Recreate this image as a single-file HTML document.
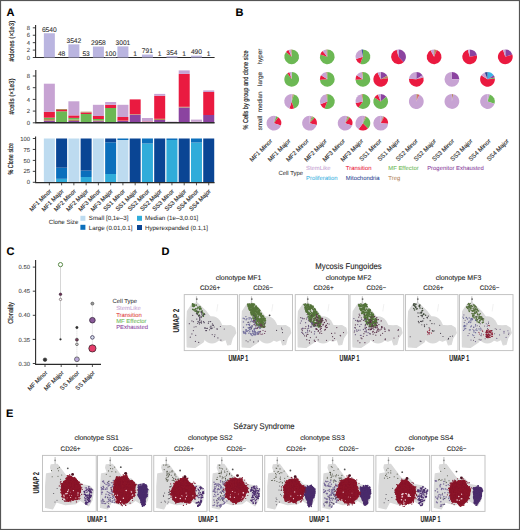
<!DOCTYPE html>
<html><head><meta charset="utf-8"><style>
html,body{margin:0;padding:0;background:#fff;}
svg{display:block;font-family:"Liberation Sans", sans-serif;text-rendering:geometricPrecision;}
</style></head><body>
<svg width="520" height="530" viewBox="0 0 520 530">
<text x="6.5" y="15.8" font-size="11" fill="#000" text-anchor="start" font-weight="bold" stroke="#000" stroke-width="0.1">A</text>
<line x1="35.6" y1="25" x2="35.6" y2="58.0" stroke="#2a2a2a" stroke-width="1.1"/>
<line x1="35.1" y1="57.5" x2="214.6" y2="57.5" stroke="#2a2a2a" stroke-width="1.2"/>
<line x1="32.8" y1="57.5" x2="35.6" y2="57.5" stroke="#2a2a2a" stroke-width="0.9"/>
<text x="30" y="59.6" font-size="5.9" fill="#3a3a3a" text-anchor="end" font-weight="normal" stroke="#3a3a3a" stroke-width="0.05">0</text>
<line x1="32.8" y1="50.08" x2="35.6" y2="50.08" stroke="#2a2a2a" stroke-width="0.9"/>
<text x="30" y="52.18" font-size="5.9" fill="#3a3a3a" text-anchor="end" font-weight="normal" stroke="#3a3a3a" stroke-width="0.05">2</text>
<line x1="32.8" y1="42.66" x2="35.6" y2="42.66" stroke="#2a2a2a" stroke-width="0.9"/>
<text x="30" y="44.76" font-size="5.9" fill="#3a3a3a" text-anchor="end" font-weight="normal" stroke="#3a3a3a" stroke-width="0.05">4</text>
<line x1="32.8" y1="35.24" x2="35.6" y2="35.24" stroke="#2a2a2a" stroke-width="0.9"/>
<text x="30" y="37.34" font-size="5.9" fill="#3a3a3a" text-anchor="end" font-weight="normal" stroke="#3a3a3a" stroke-width="0.05">6</text>
<line x1="32.8" y1="27.82" x2="35.6" y2="27.82" stroke="#2a2a2a" stroke-width="0.9"/>
<text x="30" y="29.92" font-size="5.9" fill="#3a3a3a" text-anchor="end" font-weight="normal" stroke="#3a3a3a" stroke-width="0.05">8</text>
<rect x="43.85" y="33.24" width="11.00" height="24.26" fill="#bab5e0"/>
<text x="49.35" y="32.03659999999999" font-size="6.7" fill="#333" text-anchor="middle" font-weight="normal" stroke="#333" stroke-width="0.1">6540</text>
<text x="61.61" y="55.9" font-size="6.7" fill="#333" text-anchor="middle" font-weight="normal" stroke="#333" stroke-width="0.1">48</text>
<rect x="68.37" y="44.36" width="11.00" height="13.14" fill="#bab5e0"/>
<text x="73.87" y="43.15918" font-size="6.7" fill="#333" text-anchor="middle" font-weight="normal" stroke="#333" stroke-width="0.1">3542</text>
<text x="86.13" y="55.9" font-size="6.7" fill="#333" text-anchor="middle" font-weight="normal" stroke="#333" stroke-width="0.1">53</text>
<rect x="92.89" y="46.53" width="11.00" height="10.97" fill="#bab5e0"/>
<text x="98.39" y="45.32581999999999" font-size="6.7" fill="#333" text-anchor="middle" font-weight="normal" stroke="#333" stroke-width="0.1">2958</text>
<rect x="105.15" y="57.13" width="11.00" height="0.37" fill="#bab5e0"/>
<text x="110.65" y="55.9" font-size="6.7" fill="#333" text-anchor="middle" font-weight="normal" stroke="#333" stroke-width="0.1">100</text>
<rect x="117.41" y="46.37" width="11.00" height="11.13" fill="#bab5e0"/>
<text x="122.91" y="45.16629" font-size="6.7" fill="#333" text-anchor="middle" font-weight="normal" stroke="#333" stroke-width="0.1">3001</text>
<text x="135.17" y="55.9" font-size="6.7" fill="#333" text-anchor="middle" font-weight="normal" stroke="#333" stroke-width="0.1">1</text>
<rect x="141.93" y="54.57" width="11.00" height="2.93" fill="#bab5e0"/>
<text x="147.43" y="53.36539" font-size="6.7" fill="#333" text-anchor="middle" font-weight="normal" stroke="#333" stroke-width="0.1">791</text>
<text x="159.69" y="55.9" font-size="6.7" fill="#333" text-anchor="middle" font-weight="normal" stroke="#333" stroke-width="0.1">1</text>
<rect x="166.45" y="56.19" width="11.00" height="1.31" fill="#bab5e0"/>
<text x="171.95" y="54.98666" font-size="6.7" fill="#333" text-anchor="middle" font-weight="normal" stroke="#333" stroke-width="0.1">354</text>
<text x="184.20999999999998" y="55.9" font-size="6.7" fill="#333" text-anchor="middle" font-weight="normal" stroke="#333" stroke-width="0.1">1</text>
<rect x="190.97" y="55.68" width="11.00" height="1.82" fill="#bab5e0"/>
<text x="196.47" y="54.482099999999996" font-size="6.7" fill="#333" text-anchor="middle" font-weight="normal" stroke="#333" stroke-width="0.1">490</text>
<text x="208.73" y="55.9" font-size="6.7" fill="#333" text-anchor="middle" font-weight="normal" stroke="#333" stroke-width="0.1">1</text>
<text x="13.892000000000001" y="41.1" font-size="7.2" fill="#222" text-anchor="middle" font-weight="normal" stroke="#222" stroke-width="0.18" transform="rotate(-90 13.892000000000001 41.1)" textLength="40.6" lengthAdjust="spacingAndGlyphs">#clones (×1e3)</text>
<line x1="35.8" y1="70" x2="35.8" y2="122.8" stroke="#2a2a2a" stroke-width="1.1"/>
<line x1="32.8" y1="122.8" x2="35.8" y2="122.8" stroke="#2a2a2a" stroke-width="0.9"/>
<text x="30" y="124.89999999999999" font-size="5.9" fill="#3a3a3a" text-anchor="end" font-weight="normal" stroke="#3a3a3a" stroke-width="0.05">0</text>
<line x1="32.8" y1="111.1" x2="35.8" y2="111.1" stroke="#2a2a2a" stroke-width="0.9"/>
<text x="30" y="113.19999999999999" font-size="5.9" fill="#3a3a3a" text-anchor="end" font-weight="normal" stroke="#3a3a3a" stroke-width="0.05">2</text>
<line x1="32.8" y1="99.4" x2="35.8" y2="99.4" stroke="#2a2a2a" stroke-width="0.9"/>
<text x="30" y="101.5" font-size="5.9" fill="#3a3a3a" text-anchor="end" font-weight="normal" stroke="#3a3a3a" stroke-width="0.05">4</text>
<line x1="32.8" y1="87.7" x2="35.8" y2="87.7" stroke="#2a2a2a" stroke-width="0.9"/>
<text x="30" y="89.8" font-size="5.9" fill="#3a3a3a" text-anchor="end" font-weight="normal" stroke="#3a3a3a" stroke-width="0.05">6</text>
<line x1="32.8" y1="76.0" x2="35.8" y2="76.0" stroke="#2a2a2a" stroke-width="0.9"/>
<text x="30" y="78.1" font-size="5.9" fill="#3a3a3a" text-anchor="end" font-weight="normal" stroke="#3a3a3a" stroke-width="0.05">8</text>
<rect x="43.85" y="120.80" width="11.00" height="2.00" fill="#8b43a0"/>
<rect x="43.85" y="119.00" width="11.00" height="1.80" fill="#b5895f"/>
<rect x="43.85" y="117.70" width="11.00" height="1.30" fill="#6cb854"/>
<rect x="43.85" y="111.90" width="11.00" height="5.80" fill="#ea1a40"/>
<rect x="43.85" y="83.70" width="11.00" height="28.20" fill="#c7a3d3"/>
<rect x="56.11" y="111.30" width="11.00" height="11.50" fill="#6cb854"/>
<rect x="56.11" y="110.00" width="11.00" height="1.30" fill="#ea1a40"/>
<rect x="56.11" y="109.00" width="11.00" height="1.00" fill="#b5895f"/>
<rect x="68.37" y="121.00" width="11.00" height="1.80" fill="#8b43a0"/>
<rect x="68.37" y="119.50" width="11.00" height="1.50" fill="#b5895f"/>
<rect x="68.37" y="117.90" width="11.00" height="1.60" fill="#6cb854"/>
<rect x="68.37" y="115.40" width="11.00" height="2.50" fill="#ea1a40"/>
<rect x="68.37" y="101.30" width="11.00" height="14.10" fill="#c7a3d3"/>
<rect x="80.63" y="114.00" width="11.00" height="8.80" fill="#6cb854"/>
<rect x="80.63" y="112.50" width="11.00" height="1.50" fill="#ea1a40"/>
<rect x="80.63" y="111.70" width="11.00" height="0.80" fill="#b5895f"/>
<rect x="92.89" y="121.20" width="11.00" height="1.60" fill="#8b43a0"/>
<rect x="92.89" y="120.30" width="11.00" height="0.90" fill="#b5895f"/>
<rect x="92.89" y="119.00" width="11.00" height="1.30" fill="#6cb854"/>
<rect x="92.89" y="116.00" width="11.00" height="3.00" fill="#ea1a40"/>
<rect x="92.89" y="104.80" width="11.00" height="11.20" fill="#c7a3d3"/>
<rect x="105.15" y="108.00" width="11.00" height="14.80" fill="#6cb854"/>
<rect x="105.15" y="104.80" width="11.00" height="3.20" fill="#ea1a40"/>
<rect x="105.15" y="102.00" width="11.00" height="2.80" fill="#c7a3d3"/>
<rect x="117.41" y="121.00" width="11.00" height="1.80" fill="#8b43a0"/>
<rect x="117.41" y="120.60" width="11.00" height="0.40" fill="#b5895f"/>
<rect x="117.41" y="117.00" width="11.00" height="3.60" fill="#ea1a40"/>
<rect x="117.41" y="104.80" width="11.00" height="12.20" fill="#c7a3d3"/>
<rect x="129.67" y="114.80" width="11.00" height="8.00" fill="#8b43a0"/>
<rect x="129.67" y="114.20" width="11.00" height="0.60" fill="#b5895f"/>
<rect x="129.67" y="99.40" width="11.00" height="14.80" fill="#ea1a40"/>
<rect x="141.93" y="121.50" width="11.00" height="1.30" fill="#ea1a40"/>
<rect x="141.93" y="118.00" width="11.00" height="3.50" fill="#c7a3d3"/>
<rect x="154.19" y="120.00" width="11.00" height="2.80" fill="#8b43a0"/>
<rect x="154.19" y="118.80" width="11.00" height="1.20" fill="#b5895f"/>
<rect x="154.19" y="95.80" width="11.00" height="23.00" fill="#ea1a40"/>
<rect x="154.19" y="93.90" width="11.00" height="1.90" fill="#c7a3d3"/>
<rect x="166.45" y="121.60" width="11.00" height="1.20" fill="#c7a3d3"/>
<rect x="178.71" y="107.50" width="11.00" height="15.30" fill="#8b43a0"/>
<rect x="178.71" y="106.80" width="11.00" height="0.70" fill="#b5895f"/>
<rect x="178.71" y="73.90" width="11.00" height="32.90" fill="#ea1a40"/>
<rect x="178.71" y="70.40" width="11.00" height="3.50" fill="#c7a3d3"/>
<rect x="190.97" y="121.80" width="11.00" height="1.00" fill="#ea1a40"/>
<rect x="190.97" y="119.60" width="11.00" height="2.20" fill="#c7a3d3"/>
<rect x="203.23" y="115.00" width="11.00" height="7.80" fill="#8b43a0"/>
<rect x="203.23" y="92.00" width="11.00" height="23.00" fill="#ea1a40"/>
<rect x="203.23" y="90.40" width="11.00" height="1.60" fill="#c7a3d3"/>
<line x1="35.3" y1="122.8" x2="214.6" y2="122.8" stroke="#2a2a2a" stroke-width="1.6"/>
<text x="13.892000000000001" y="96.5" font-size="7.2" fill="#222" text-anchor="middle" font-weight="normal" stroke="#222" stroke-width="0.18" transform="rotate(-90 13.892000000000001 96.5)" textLength="36" lengthAdjust="spacingAndGlyphs">#cells (×1e3)</text>
<line x1="35.6" y1="136.5" x2="35.6" y2="182.3" stroke="#2a2a2a" stroke-width="1.1"/>
<line x1="32.8" y1="182.3" x2="35.6" y2="182.3" stroke="#2a2a2a" stroke-width="0.9"/>
<text x="30" y="184.4" font-size="5.9" fill="#3a3a3a" text-anchor="end" font-weight="normal" stroke="#3a3a3a" stroke-width="0.05">0</text>
<line x1="32.8" y1="171.35000000000002" x2="35.6" y2="171.35000000000002" stroke="#2a2a2a" stroke-width="0.9"/>
<text x="30" y="173.45000000000002" font-size="5.9" fill="#3a3a3a" text-anchor="end" font-weight="normal" stroke="#3a3a3a" stroke-width="0.05">25</text>
<line x1="32.8" y1="160.4" x2="35.6" y2="160.4" stroke="#2a2a2a" stroke-width="0.9"/>
<text x="30" y="162.5" font-size="5.9" fill="#3a3a3a" text-anchor="end" font-weight="normal" stroke="#3a3a3a" stroke-width="0.05">50</text>
<line x1="32.8" y1="149.45" x2="35.6" y2="149.45" stroke="#2a2a2a" stroke-width="0.9"/>
<text x="30" y="151.54999999999998" font-size="5.9" fill="#3a3a3a" text-anchor="end" font-weight="normal" stroke="#3a3a3a" stroke-width="0.05">75</text>
<line x1="32.8" y1="138.5" x2="35.6" y2="138.5" stroke="#2a2a2a" stroke-width="0.9"/>
<text x="30" y="140.6" font-size="5.9" fill="#3a3a3a" text-anchor="end" font-weight="normal" stroke="#3a3a3a" stroke-width="0.05">100</text>
<rect x="43.85" y="138.50" width="11.00" height="43.80" fill="#bddbf0"/>
<rect x="56.11" y="178.80" width="11.00" height="3.50" fill="#30acda"/>
<rect x="56.11" y="167.70" width="11.00" height="11.10" fill="#0b6fbc"/>
<rect x="56.11" y="138.50" width="11.00" height="29.20" fill="#0a4594"/>
<rect x="68.37" y="138.50" width="11.00" height="43.80" fill="#bddbf0"/>
<rect x="80.63" y="177.00" width="11.00" height="5.30" fill="#30acda"/>
<rect x="80.63" y="170.60" width="11.00" height="6.40" fill="#0b6fbc"/>
<rect x="80.63" y="138.50" width="11.00" height="32.10" fill="#0a4594"/>
<rect x="92.89" y="138.50" width="11.00" height="43.80" fill="#bddbf0"/>
<rect x="105.15" y="174.00" width="11.00" height="8.30" fill="#30acda"/>
<rect x="105.15" y="142.30" width="11.00" height="31.70" fill="#0b6fbc"/>
<rect x="105.15" y="138.50" width="11.00" height="3.80" fill="#0a4594"/>
<rect x="117.41" y="140.00" width="11.00" height="42.30" fill="#bddbf0"/>
<rect x="117.41" y="138.50" width="11.00" height="1.50" fill="#0b6fbc"/>
<rect x="129.67" y="138.50" width="11.00" height="43.80" fill="#0a4594"/>
<rect x="141.93" y="143.50" width="11.00" height="38.80" fill="#30acda"/>
<rect x="141.93" y="138.50" width="11.00" height="5.00" fill="#0b6fbc"/>
<rect x="154.19" y="138.50" width="11.00" height="43.80" fill="#0a4594"/>
<rect x="166.45" y="140.00" width="11.00" height="42.30" fill="#30acda"/>
<rect x="166.45" y="138.50" width="11.00" height="1.50" fill="#0b6fbc"/>
<rect x="178.71" y="138.50" width="11.00" height="43.80" fill="#0a4594"/>
<rect x="190.97" y="142.50" width="11.00" height="39.80" fill="#30acda"/>
<rect x="190.97" y="138.50" width="11.00" height="4.00" fill="#0b6fbc"/>
<rect x="203.23" y="138.50" width="11.00" height="43.80" fill="#0a4594"/>
<line x1="35.1" y1="182.60000000000002" x2="214.6" y2="182.60000000000002" stroke="#2a2a2a" stroke-width="1.2"/>
<line x1="49.35" y1="182.3" x2="49.35" y2="185.3" stroke="#2a2a2a" stroke-width="0.8"/>
<text x="51.85" y="191.6" font-size="5.95" fill="#2a2a2a" text-anchor="end" font-weight="normal" stroke="#2a2a2a" stroke-width="0.12" transform="rotate(-45 51.85 191.6)">MF1 Minor</text>
<line x1="61.61" y1="182.3" x2="61.61" y2="185.3" stroke="#2a2a2a" stroke-width="0.8"/>
<text x="64.11" y="191.6" font-size="5.95" fill="#2a2a2a" text-anchor="end" font-weight="normal" stroke="#2a2a2a" stroke-width="0.12" transform="rotate(-45 64.11 191.6)">MF1 Major</text>
<line x1="73.87" y1="182.3" x2="73.87" y2="185.3" stroke="#2a2a2a" stroke-width="0.8"/>
<text x="76.37" y="191.6" font-size="5.95" fill="#2a2a2a" text-anchor="end" font-weight="normal" stroke="#2a2a2a" stroke-width="0.12" transform="rotate(-45 76.37 191.6)">MF2 Minor</text>
<line x1="86.13" y1="182.3" x2="86.13" y2="185.3" stroke="#2a2a2a" stroke-width="0.8"/>
<text x="88.63" y="191.6" font-size="5.95" fill="#2a2a2a" text-anchor="end" font-weight="normal" stroke="#2a2a2a" stroke-width="0.12" transform="rotate(-45 88.63 191.6)">MF2 Major</text>
<line x1="98.39" y1="182.3" x2="98.39" y2="185.3" stroke="#2a2a2a" stroke-width="0.8"/>
<text x="100.89" y="191.6" font-size="5.95" fill="#2a2a2a" text-anchor="end" font-weight="normal" stroke="#2a2a2a" stroke-width="0.12" transform="rotate(-45 100.89 191.6)">MF3 Minor</text>
<line x1="110.65" y1="182.3" x2="110.65" y2="185.3" stroke="#2a2a2a" stroke-width="0.8"/>
<text x="113.15" y="191.6" font-size="5.95" fill="#2a2a2a" text-anchor="end" font-weight="normal" stroke="#2a2a2a" stroke-width="0.12" transform="rotate(-45 113.15 191.6)">MF3 Major</text>
<line x1="122.91" y1="182.3" x2="122.91" y2="185.3" stroke="#2a2a2a" stroke-width="0.8"/>
<text x="125.41" y="191.6" font-size="5.95" fill="#2a2a2a" text-anchor="end" font-weight="normal" stroke="#2a2a2a" stroke-width="0.12" transform="rotate(-45 125.41 191.6)">SS1 Minor</text>
<line x1="135.17" y1="182.3" x2="135.17" y2="185.3" stroke="#2a2a2a" stroke-width="0.8"/>
<text x="137.67" y="191.6" font-size="5.95" fill="#2a2a2a" text-anchor="end" font-weight="normal" stroke="#2a2a2a" stroke-width="0.12" transform="rotate(-45 137.67 191.6)">SS1 Major</text>
<line x1="147.43" y1="182.3" x2="147.43" y2="185.3" stroke="#2a2a2a" stroke-width="0.8"/>
<text x="149.93" y="191.6" font-size="5.95" fill="#2a2a2a" text-anchor="end" font-weight="normal" stroke="#2a2a2a" stroke-width="0.12" transform="rotate(-45 149.93 191.6)">SS2 Minor</text>
<line x1="159.69" y1="182.3" x2="159.69" y2="185.3" stroke="#2a2a2a" stroke-width="0.8"/>
<text x="162.19" y="191.6" font-size="5.95" fill="#2a2a2a" text-anchor="end" font-weight="normal" stroke="#2a2a2a" stroke-width="0.12" transform="rotate(-45 162.19 191.6)">SS2 Major</text>
<line x1="171.95" y1="182.3" x2="171.95" y2="185.3" stroke="#2a2a2a" stroke-width="0.8"/>
<text x="174.45" y="191.6" font-size="5.95" fill="#2a2a2a" text-anchor="end" font-weight="normal" stroke="#2a2a2a" stroke-width="0.12" transform="rotate(-45 174.45 191.6)">SS3 Minor</text>
<line x1="184.20999999999998" y1="182.3" x2="184.20999999999998" y2="185.3" stroke="#2a2a2a" stroke-width="0.8"/>
<text x="186.70999999999998" y="191.6" font-size="5.95" fill="#2a2a2a" text-anchor="end" font-weight="normal" stroke="#2a2a2a" stroke-width="0.12" transform="rotate(-45 186.70999999999998 191.6)">SS3 Major</text>
<line x1="196.47" y1="182.3" x2="196.47" y2="185.3" stroke="#2a2a2a" stroke-width="0.8"/>
<text x="198.97" y="191.6" font-size="5.95" fill="#2a2a2a" text-anchor="end" font-weight="normal" stroke="#2a2a2a" stroke-width="0.12" transform="rotate(-45 198.97 191.6)">SS4 Minor</text>
<line x1="208.73" y1="182.3" x2="208.73" y2="185.3" stroke="#2a2a2a" stroke-width="0.8"/>
<text x="211.23" y="191.6" font-size="5.95" fill="#2a2a2a" text-anchor="end" font-weight="normal" stroke="#2a2a2a" stroke-width="0.12" transform="rotate(-45 211.23 191.6)">SS4 Major</text>
<text x="13.492" y="158.8" font-size="7.2" fill="#222" text-anchor="middle" font-weight="normal" stroke="#222" stroke-width="0.18" transform="rotate(-90 13.492 158.8)" textLength="31.6" lengthAdjust="spacingAndGlyphs">% Clone size</text>
<text x="48.8" y="224.2" font-size="6.1" fill="#333" text-anchor="start" font-weight="normal" stroke="#333" stroke-width="0.06">Clone Size</text>
<rect x="80.40" y="215.80" width="5.00" height="5.00" fill="#bddbf0"/>
<rect x="80.40" y="224.80" width="5.00" height="5.00" fill="#0b6fbc"/>
<rect x="137.00" y="215.80" width="5.00" height="5.00" fill="#30acda"/>
<rect x="137.00" y="225.00" width="5.00" height="5.00" fill="#0a4594"/>
<text x="88.8" y="220.4" font-size="6.2" fill="#333" text-anchor="start" font-weight="normal" stroke="#333" stroke-width="0.06">Small [0,1e–3]</text>
<text x="88.8" y="229.5" font-size="6.2" fill="#333" text-anchor="start" font-weight="normal" stroke="#333" stroke-width="0.06">Large (0.01,0.1]</text>
<text x="145" y="220.4" font-size="6.2" fill="#333" text-anchor="start" font-weight="normal" stroke="#333" stroke-width="0.06">Median (1e–3,0.01]</text>
<text x="145" y="229.5" font-size="6.2" fill="#333" text-anchor="start" font-weight="normal" stroke="#333" stroke-width="0.06">Hyperexpanded (0.1,1]</text>
<text x="235.5" y="16.3" font-size="11" fill="#000" text-anchor="start" font-weight="bold" stroke="#000" stroke-width="0.1">B</text>
<text x="248.192" y="90" font-size="7.2" fill="#222" text-anchor="middle" font-weight="normal" stroke="#222" stroke-width="0.18" transform="rotate(-90 248.192 90)" textLength="79.2" lengthAdjust="spacingAndGlyphs">% Cells by group and clone size</text>
<text x="262.0" y="56.5" font-size="6.3" fill="#333" text-anchor="middle" font-weight="normal" stroke="#333" stroke-width="0.1" transform="rotate(-90 262.0 56.5)">hyper</text>
<text x="262.0" y="79" font-size="6.3" fill="#333" text-anchor="middle" font-weight="normal" stroke="#333" stroke-width="0.1" transform="rotate(-90 262.0 79)">large</text>
<text x="262.0" y="101.8" font-size="6.3" fill="#333" text-anchor="middle" font-weight="normal" stroke="#333" stroke-width="0.1" transform="rotate(-90 262.0 101.8)">median</text>
<text x="262.0" y="123" font-size="6.3" fill="#333" text-anchor="middle" font-weight="normal" stroke="#333" stroke-width="0.1" transform="rotate(-90 262.0 123)">small</text>
<path d="M291.70,56.80 L291.70,49.40 A7.4,7.4 0 1 1 286.00,52.08 Z" fill="#6cb854"/>
<path d="M291.70,56.80 L286.00,52.08 A7.4,7.4 0 0 1 288.55,50.10 Z" fill="#ea1a40"/>
<path d="M291.70,56.80 L288.55,50.10 A7.4,7.4 0 0 1 290.77,49.46 Z" fill="#c7a3d3"/>
<path d="M291.70,56.80 L290.77,49.46 A7.4,7.4 0 0 1 291.70,49.40 Z" fill="#b5895f"/>
<path d="M291.70,79.30 L291.70,71.90 A7.4,7.4 0 1 1 287.35,73.31 Z" fill="#6cb854"/>
<path d="M291.70,79.30 L287.35,73.31 A7.4,7.4 0 0 1 289.41,72.26 Z" fill="#ea1a40"/>
<path d="M291.70,79.30 L289.41,72.26 A7.4,7.4 0 0 1 291.70,71.90 Z" fill="#c7a3d3"/>
<path d="M291.70,101.50 L291.70,94.10 A7.4,7.4 0 0 1 292.63,94.16 Z" fill="#c7a3d3"/>
<path d="M291.70,101.50 L292.63,94.16 A7.4,7.4 0 0 1 293.99,94.46 Z" fill="#b5895f"/>
<path d="M291.70,101.50 L293.99,94.46 A7.4,7.4 0 0 1 293.99,108.54 Z" fill="#6cb854"/>
<path d="M291.70,101.50 L293.99,108.54 A7.4,7.4 0 0 1 289.41,108.54 Z" fill="#ea1a40"/>
<path d="M291.70,101.50 L289.41,108.54 A7.4,7.4 0 0 1 291.70,94.10 Z" fill="#c7a3d3"/>
<path d="M273.90,123.20 L273.90,115.80 A7.4,7.4 0 0 1 276.19,116.16 Z" fill="#c7a3d3"/>
<path d="M273.90,123.20 L276.19,116.16 A7.4,7.4 0 0 1 278.25,117.21 Z" fill="#6cb854"/>
<path d="M273.90,123.20 L278.25,117.21 A7.4,7.4 0 0 1 280.94,125.49 Z" fill="#ea1a40"/>
<path d="M273.90,123.20 L280.94,125.49 A7.4,7.4 0 1 1 273.90,115.80 Z" fill="#c7a3d3"/>
<path d="M327.30,56.80 L327.30,49.40 A7.4,7.4 0 1 1 320.26,54.51 Z" fill="#6cb854"/>
<path d="M327.30,56.80 L320.26,54.51 A7.4,7.4 0 0 1 322.58,51.10 Z" fill="#ea1a40"/>
<path d="M327.30,56.80 L322.58,51.10 A7.4,7.4 0 0 1 326.37,49.46 Z" fill="#c7a3d3"/>
<path d="M327.30,56.80 L326.37,49.46 A7.4,7.4 0 0 1 327.30,49.40 Z" fill="#b5895f"/>
<path d="M327.30,79.30 L327.30,71.90 A7.4,7.4 0 1 1 319.91,79.76 Z" fill="#6cb854"/>
<path d="M327.30,79.30 L319.91,79.76 A7.4,7.4 0 0 1 321.05,75.33 Z" fill="#ea1a40"/>
<path d="M327.30,79.30 L321.05,75.33 A7.4,7.4 0 0 1 326.37,71.96 Z" fill="#c7a3d3"/>
<path d="M327.30,79.30 L326.37,71.96 A7.4,7.4 0 0 1 327.30,71.90 Z" fill="#b5895f"/>
<path d="M327.30,101.50 L327.30,94.10 A7.4,7.4 0 1 1 324.58,108.38 Z" fill="#6cb854"/>
<path d="M327.30,101.50 L324.58,108.38 A7.4,7.4 0 0 1 320.42,104.22 Z" fill="#ea1a40"/>
<path d="M327.30,101.50 L320.42,104.22 A7.4,7.4 0 0 1 326.37,94.16 Z" fill="#c7a3d3"/>
<path d="M327.30,101.50 L326.37,94.16 A7.4,7.4 0 0 1 327.30,94.10 Z" fill="#b5895f"/>
<path d="M309.50,123.20 L309.50,115.80 A7.4,7.4 0 0 1 311.79,116.16 Z" fill="#c7a3d3"/>
<path d="M309.50,123.20 L311.79,116.16 A7.4,7.4 0 0 1 313.06,116.72 Z" fill="#b5895f"/>
<path d="M309.50,123.20 L313.06,116.72 A7.4,7.4 0 0 1 314.57,117.81 Z" fill="#6cb854"/>
<path d="M309.50,123.20 L314.57,117.81 A7.4,7.4 0 0 1 316.67,125.04 Z" fill="#ea1a40"/>
<path d="M309.50,123.20 L316.67,125.04 A7.4,7.4 0 1 1 309.50,115.80 Z" fill="#c7a3d3"/>
<path d="M362.90,56.80 L362.90,49.40 A7.4,7.4 0 1 1 360.18,63.68 Z" fill="#6cb854"/>
<path d="M362.90,56.80 L360.18,63.68 A7.4,7.4 0 0 1 355.86,59.09 Z" fill="#ea1a40"/>
<path d="M362.90,56.80 L355.86,59.09 A7.4,7.4 0 0 1 361.51,49.53 Z" fill="#c7a3d3"/>
<path d="M362.90,56.80 L361.51,49.53 A7.4,7.4 0 0 1 362.90,49.40 Z" fill="#2b4592"/>
<path d="M362.90,79.30 L362.90,71.90 A7.4,7.4 0 1 1 355.51,79.76 Z" fill="#6cb854"/>
<path d="M362.90,79.30 L355.51,79.76 A7.4,7.4 0 0 1 356.65,75.33 Z" fill="#ea1a40"/>
<path d="M362.90,79.30 L356.65,75.33 A7.4,7.4 0 0 1 361.97,71.96 Z" fill="#c7a3d3"/>
<path d="M362.90,79.30 L361.97,71.96 A7.4,7.4 0 0 1 362.90,71.90 Z" fill="#b5895f"/>
<path d="M362.90,101.50 L362.90,94.10 A7.4,7.4 0 1 1 358.55,107.49 Z" fill="#6cb854"/>
<path d="M362.90,101.50 L358.55,107.49 A7.4,7.4 0 0 1 355.63,102.89 Z" fill="#ea1a40"/>
<path d="M362.90,101.50 L355.63,102.89 A7.4,7.4 0 0 1 361.51,94.23 Z" fill="#c7a3d3"/>
<path d="M362.90,101.50 L361.51,94.23 A7.4,7.4 0 0 1 362.90,94.10 Z" fill="#b5895f"/>
<path d="M345.10,123.20 L345.10,115.80 A7.4,7.4 0 0 1 347.39,116.16 Z" fill="#c7a3d3"/>
<path d="M345.10,123.20 L347.39,116.16 A7.4,7.4 0 0 1 348.66,116.72 Z" fill="#b5895f"/>
<path d="M345.10,123.20 L348.66,116.72 A7.4,7.4 0 0 1 349.82,117.50 Z" fill="#6cb854"/>
<path d="M345.10,123.20 L349.82,117.50 A7.4,7.4 0 0 1 352.14,125.49 Z" fill="#ea1a40"/>
<path d="M345.10,123.20 L352.14,125.49 A7.4,7.4 0 1 1 345.10,115.80 Z" fill="#c7a3d3"/>
<path d="M362.90,123.20 L362.90,115.80 A7.4,7.4 0 0 1 365.19,116.16 Z" fill="#c7a3d3"/>
<path d="M362.90,123.20 L365.19,116.16 A7.4,7.4 0 0 1 366.46,116.72 Z" fill="#b5895f"/>
<path d="M362.90,123.20 L366.46,116.72 A7.4,7.4 0 0 1 367.97,128.59 Z" fill="#6cb854"/>
<path d="M362.90,123.20 L367.97,128.59 A7.4,7.4 0 0 1 358.55,129.19 Z" fill="#ea1a40"/>
<path d="M362.90,123.20 L358.55,129.19 A7.4,7.4 0 0 1 362.90,115.80 Z" fill="#c7a3d3"/>
<path d="M380.70,79.30 L380.70,71.90 A7.4,7.4 0 0 1 387.18,75.74 Z" fill="#8b43a0"/>
<path d="M380.70,79.30 L387.18,75.74 A7.4,7.4 0 0 1 388.04,78.37 Z" fill="#b5895f"/>
<path d="M380.70,79.30 L388.04,78.37 A7.4,7.4 0 1 1 377.55,72.60 Z" fill="#ea1a40"/>
<path d="M380.70,79.30 L377.55,72.60 A7.4,7.4 0 0 1 380.70,71.90 Z" fill="#c7a3d3"/>
<path d="M380.70,101.50 L380.70,94.10 A7.4,7.4 0 0 1 386.40,96.78 Z" fill="#8b43a0"/>
<path d="M380.70,101.50 L386.40,96.78 A7.4,7.4 0 1 1 374.45,97.53 Z" fill="#6cb854"/>
<path d="M380.70,101.50 L374.45,97.53 A7.4,7.4 0 0 1 377.98,94.62 Z" fill="#ea1a40"/>
<path d="M380.70,101.50 L377.98,94.62 A7.4,7.4 0 0 1 380.70,94.10 Z" fill="#c7a3d3"/>
<path d="M380.70,123.20 L380.70,115.80 A7.4,7.4 0 0 1 382.99,116.16 Z" fill="#c7a3d3"/>
<path d="M380.70,123.20 L382.99,116.16 A7.4,7.4 0 0 1 384.26,116.72 Z" fill="#b5895f"/>
<path d="M380.70,123.20 L384.26,116.72 A7.4,7.4 0 0 1 388.09,123.66 Z" fill="#ea1a40"/>
<path d="M380.70,123.20 L388.09,123.66 A7.4,7.4 0 1 1 380.70,115.80 Z" fill="#c7a3d3"/>
<path d="M398.50,56.80 L398.50,49.40 A7.4,7.4 0 0 1 403.57,62.19 Z" fill="#8b43a0"/>
<path d="M398.50,56.80 L403.57,62.19 A7.4,7.4 0 1 1 396.66,49.63 Z" fill="#ea1a40"/>
<path d="M398.50,56.80 L396.66,49.63 A7.4,7.4 0 0 1 398.50,49.40 Z" fill="#c7a3d3"/>
<path d="M416.30,79.30 L416.30,71.90 A7.4,7.4 0 0 1 422.55,75.33 Z" fill="#8b43a0"/>
<path d="M416.30,79.30 L422.55,75.33 A7.4,7.4 0 0 1 423.47,77.46 Z" fill="#c7a3d3"/>
<path d="M416.30,79.30 L423.47,77.46 A7.4,7.4 0 1 1 408.91,78.84 Z" fill="#ea1a40"/>
<path d="M416.30,79.30 L408.91,78.84 A7.4,7.4 0 0 1 416.30,71.90 Z" fill="#c7a3d3"/>
<path d="M416.30,101.50 L416.30,94.10 A7.4,7.4 0 0 1 418.59,94.46 Z" fill="#b5895f"/>
<path d="M416.30,101.50 L418.59,94.46 A7.4,7.4 0 0 1 419.45,94.80 Z" fill="#ea1a40"/>
<path d="M416.30,101.50 L419.45,94.80 A7.4,7.4 0 1 1 416.30,94.10 Z" fill="#c7a3d3"/>
<path d="M434.10,56.80 L434.10,49.40 A7.4,7.4 0 0 1 436.82,49.92 Z" fill="#b5895f"/>
<path d="M434.10,56.80 L436.82,49.92 A7.4,7.4 0 1 1 430.54,50.32 Z" fill="#ea1a40"/>
<path d="M434.10,56.80 L430.54,50.32 A7.4,7.4 0 0 1 434.10,49.40 Z" fill="#c7a3d3"/>
<path d="M451.90,79.30 L451.90,71.90 A7.4,7.4 0 0 1 459.30,79.30 Z" fill="#8b43a0"/>
<path d="M451.90,79.30 L459.30,79.30 A7.4,7.4 0 1 1 451.90,71.90 Z" fill="#c7a3d3"/>
<path d="M451.90,101.50 L451.90,94.10 A7.4,7.4 0 0 1 453.29,94.23 Z" fill="#b5895f"/>
<path d="M451.90,101.50 L453.29,94.23 A7.4,7.4 0 1 1 451.90,94.10 Z" fill="#c7a3d3"/>
<path d="M469.70,56.80 L469.70,49.40 A7.4,7.4 0 0 1 476.97,55.41 Z" fill="#8b43a0"/>
<path d="M469.70,56.80 L476.97,55.41 A7.4,7.4 0 1 1 467.86,49.63 Z" fill="#ea1a40"/>
<path d="M469.70,56.80 L467.86,49.63 A7.4,7.4 0 0 1 469.70,49.40 Z" fill="#c7a3d3"/>
<path d="M487.50,79.30 L487.50,71.90 A7.4,7.4 0 0 1 493.75,75.33 Z" fill="#3cb3e3"/>
<path d="M487.50,79.30 L493.75,75.33 A7.4,7.4 0 0 1 494.67,77.46 Z" fill="#8b43a0"/>
<path d="M487.50,79.30 L494.67,77.46 A7.4,7.4 0 0 1 494.89,78.84 Z" fill="#6cb854"/>
<path d="M487.50,79.30 L494.89,78.84 A7.4,7.4 0 1 1 481.25,75.33 Z" fill="#ea1a40"/>
<path d="M487.50,79.30 L481.25,75.33 A7.4,7.4 0 0 1 484.78,72.42 Z" fill="#c7a3d3"/>
<path d="M487.50,79.30 L484.78,72.42 A7.4,7.4 0 0 1 487.50,71.90 Z" fill="#2b4592"/>
<path d="M487.50,101.50 L487.50,94.10 A7.4,7.4 0 0 1 489.79,94.46 Z" fill="#c7a3d3"/>
<path d="M487.50,101.50 L489.79,94.46 A7.4,7.4 0 0 1 494.54,103.79 Z" fill="#6cb854"/>
<path d="M487.50,101.50 L494.54,103.79 A7.4,7.4 0 1 1 487.50,94.10 Z" fill="#c7a3d3"/>
<path d="M505.30,56.80 L505.30,49.40 A7.4,7.4 0 0 1 512.34,54.51 Z" fill="#8b43a0"/>
<path d="M505.30,56.80 L512.34,54.51 A7.4,7.4 0 1 1 503.01,49.76 Z" fill="#ea1a40"/>
<path d="M505.30,56.80 L503.01,49.76 A7.4,7.4 0 0 1 505.30,49.40 Z" fill="#c7a3d3"/>
<text x="272.7" y="141.4" font-size="6.1" fill="#2a2a2a" text-anchor="end" font-weight="normal" stroke="#2a2a2a" stroke-width="0.12" transform="rotate(-45 272.7 141.4)">MF1 Minor</text>
<text x="290.9" y="141.4" font-size="6.1" fill="#2a2a2a" text-anchor="end" font-weight="normal" stroke="#2a2a2a" stroke-width="0.12" transform="rotate(-45 290.9 141.4)">MF1 Major</text>
<text x="309.09999999999997" y="141.4" font-size="6.1" fill="#2a2a2a" text-anchor="end" font-weight="normal" stroke="#2a2a2a" stroke-width="0.12" transform="rotate(-45 309.09999999999997 141.4)">MF2 Minor</text>
<text x="327.29999999999995" y="141.4" font-size="6.1" fill="#2a2a2a" text-anchor="end" font-weight="normal" stroke="#2a2a2a" stroke-width="0.12" transform="rotate(-45 327.29999999999995 141.4)">MF2 Major</text>
<text x="345.5" y="141.4" font-size="6.1" fill="#2a2a2a" text-anchor="end" font-weight="normal" stroke="#2a2a2a" stroke-width="0.12" transform="rotate(-45 345.5 141.4)">MF3 Minor</text>
<text x="363.7" y="141.4" font-size="6.1" fill="#2a2a2a" text-anchor="end" font-weight="normal" stroke="#2a2a2a" stroke-width="0.12" transform="rotate(-45 363.7 141.4)">MF3 Major</text>
<text x="381.9" y="141.4" font-size="6.1" fill="#2a2a2a" text-anchor="end" font-weight="normal" stroke="#2a2a2a" stroke-width="0.12" transform="rotate(-45 381.9 141.4)">SS1 Minor</text>
<text x="400.09999999999997" y="141.4" font-size="6.1" fill="#2a2a2a" text-anchor="end" font-weight="normal" stroke="#2a2a2a" stroke-width="0.12" transform="rotate(-45 400.09999999999997 141.4)">SS1 Major</text>
<text x="418.29999999999995" y="141.4" font-size="6.1" fill="#2a2a2a" text-anchor="end" font-weight="normal" stroke="#2a2a2a" stroke-width="0.12" transform="rotate(-45 418.29999999999995 141.4)">SS2 Minor</text>
<text x="436.5" y="141.4" font-size="6.1" fill="#2a2a2a" text-anchor="end" font-weight="normal" stroke="#2a2a2a" stroke-width="0.12" transform="rotate(-45 436.5 141.4)">SS2 Major</text>
<text x="454.7" y="141.4" font-size="6.1" fill="#2a2a2a" text-anchor="end" font-weight="normal" stroke="#2a2a2a" stroke-width="0.12" transform="rotate(-45 454.7 141.4)">SS3 Minor</text>
<text x="472.9" y="141.4" font-size="6.1" fill="#2a2a2a" text-anchor="end" font-weight="normal" stroke="#2a2a2a" stroke-width="0.12" transform="rotate(-45 472.9 141.4)">SS3 Major</text>
<text x="491.09999999999997" y="141.4" font-size="6.1" fill="#2a2a2a" text-anchor="end" font-weight="normal" stroke="#2a2a2a" stroke-width="0.12" transform="rotate(-45 491.09999999999997 141.4)">SS4 Minor</text>
<text x="509.29999999999995" y="141.4" font-size="6.1" fill="#2a2a2a" text-anchor="end" font-weight="normal" stroke="#2a2a2a" stroke-width="0.12" transform="rotate(-45 509.29999999999995 141.4)">SS4 Major</text>
<text x="278.5" y="175.2" font-size="5.9" fill="#333" text-anchor="start" font-weight="normal" stroke="#333" stroke-width="0.06">Cell Type</text>
<text x="306" y="170.2" font-size="5.9" fill="#c7a3d3" text-anchor="start" font-weight="normal" stroke="#c7a3d3" stroke-width="0.06">StemLike</text>
<text x="306" y="180.2" font-size="5.9" fill="#3cb3e3" text-anchor="start" font-weight="normal" stroke="#3cb3e3" stroke-width="0.06">Proliferation</text>
<text x="345.8" y="170.2" font-size="5.9" fill="#ea1a40" text-anchor="start" font-weight="normal" stroke="#ea1a40" stroke-width="0.06">Transition</text>
<text x="345.8" y="180.2" font-size="5.9" fill="#2b4592" text-anchor="start" font-weight="normal" stroke="#2b4592" stroke-width="0.06">Mitochondria</text>
<text x="388.3" y="170.2" font-size="5.9" fill="#6cb854" text-anchor="start" font-weight="normal" stroke="#6cb854" stroke-width="0.06">MF Effector</text>
<text x="388.3" y="180.2" font-size="5.9" fill="#b5895f" text-anchor="start" font-weight="normal" stroke="#b5895f" stroke-width="0.06">Treg</text>
<text x="427.2" y="170.2" font-size="5.9" fill="#8b43a0" text-anchor="start" font-weight="normal" stroke="#8b43a0" stroke-width="0.06">Progenitor Exhausted</text>
<text x="6.5" y="254.6" font-size="11" fill="#000" text-anchor="start" font-weight="bold" stroke="#000" stroke-width="0.1">C</text>
<line x1="35.6" y1="260" x2="35.6" y2="364.4" stroke="#2a2a2a" stroke-width="1.1"/>
<line x1="35.1" y1="364.4" x2="101" y2="364.4" stroke="#2a2a2a" stroke-width="1.2"/>
<line x1="32.8" y1="363.5" x2="35.6" y2="363.5" stroke="#2a2a2a" stroke-width="0.9"/>
<text x="30" y="365.6" font-size="5.9" fill="#3a3a3a" text-anchor="end" font-weight="normal" stroke="#3a3a3a" stroke-width="0.05">0.30</text>
<line x1="32.8" y1="339.4" x2="35.6" y2="339.4" stroke="#2a2a2a" stroke-width="0.9"/>
<text x="30" y="341.5" font-size="5.9" fill="#3a3a3a" text-anchor="end" font-weight="normal" stroke="#3a3a3a" stroke-width="0.05">0.35</text>
<line x1="32.8" y1="315.29999999999995" x2="35.6" y2="315.29999999999995" stroke="#2a2a2a" stroke-width="0.9"/>
<text x="30" y="317.4" font-size="5.9" fill="#3a3a3a" text-anchor="end" font-weight="normal" stroke="#3a3a3a" stroke-width="0.05">0.40</text>
<line x1="32.8" y1="291.2" x2="35.6" y2="291.2" stroke="#2a2a2a" stroke-width="0.9"/>
<text x="30" y="293.3" font-size="5.9" fill="#3a3a3a" text-anchor="end" font-weight="normal" stroke="#3a3a3a" stroke-width="0.05">0.45</text>
<line x1="32.8" y1="267.1" x2="35.6" y2="267.1" stroke="#2a2a2a" stroke-width="0.9"/>
<text x="30" y="269.20000000000005" font-size="5.9" fill="#3a3a3a" text-anchor="end" font-weight="normal" stroke="#3a3a3a" stroke-width="0.05">0.50</text>
<text x="12.992" y="312.9" font-size="7.2" fill="#222" text-anchor="middle" font-weight="normal" stroke="#222" stroke-width="0.18" transform="rotate(-90 12.992 312.9)" textLength="21.7" lengthAdjust="spacingAndGlyphs">Clonality</text>
<line x1="45" y1="364.4" x2="45" y2="367" stroke="#2a2a2a" stroke-width="0.8"/>
<text x="47.9" y="373.2" font-size="6.0" fill="#2a2a2a" text-anchor="end" font-weight="normal" stroke="#2a2a2a" stroke-width="0.12" transform="rotate(-45 47.9 373.2)">MF Minor</text>
<line x1="61.2" y1="364.4" x2="61.2" y2="367" stroke="#2a2a2a" stroke-width="0.8"/>
<text x="64.10000000000001" y="373.2" font-size="6.0" fill="#2a2a2a" text-anchor="end" font-weight="normal" stroke="#2a2a2a" stroke-width="0.12" transform="rotate(-45 64.10000000000001 373.2)">MF Major</text>
<line x1="76.9" y1="364.4" x2="76.9" y2="367" stroke="#2a2a2a" stroke-width="0.8"/>
<text x="79.80000000000001" y="373.2" font-size="6.0" fill="#2a2a2a" text-anchor="end" font-weight="normal" stroke="#2a2a2a" stroke-width="0.12" transform="rotate(-45 79.80000000000001 373.2)">SS Minor</text>
<line x1="92.4" y1="364.4" x2="92.4" y2="367" stroke="#2a2a2a" stroke-width="0.8"/>
<text x="95.30000000000001" y="373.2" font-size="6.0" fill="#2a2a2a" text-anchor="end" font-weight="normal" stroke="#2a2a2a" stroke-width="0.12" transform="rotate(-45 95.30000000000001 373.2)">SS Major</text>
<line x1="60.5" y1="265.5" x2="60.5" y2="339.4" stroke="#d6d6d6" stroke-width="1"/>
<line x1="76.9" y1="327.4" x2="76.9" y2="359.3" stroke="#c8c8c8" stroke-width="0.7" stroke-dasharray="1,1"/>
<line x1="92.4" y1="303.5" x2="92.4" y2="348.4" stroke="#c8c8c8" stroke-width="0.7" stroke-dasharray="1,1"/>
<circle cx="45" cy="359.7" r="1.8" fill="#333" stroke="#222" stroke-width="0.5"/>
<circle cx="60.5" cy="264.6" r="2.1" fill="#fff" stroke="#5a8a48" stroke-width="1.0"/>
<circle cx="60.5" cy="294.3" r="1.3" fill="#6a2a50" stroke="#3a2a3a" stroke-width="0.6"/>
<circle cx="60.5" cy="299.4" r="1.2" fill="#fff" stroke="#6a5a60" stroke-width="0.7"/>
<circle cx="60.5" cy="339.3" r="0.9" fill="#333" stroke="#222" stroke-width="0.3"/>
<circle cx="76.9" cy="327.5" r="1.2" fill="#333" stroke="#222" stroke-width="0.4"/>
<circle cx="76.9" cy="339.7" r="1.5" fill="#7a3a5a" stroke="#333" stroke-width="0.6"/>
<circle cx="76.9" cy="344.3" r="1.3" fill="#ddd" stroke="#444" stroke-width="0.7"/>
<circle cx="76.9" cy="359.3" r="2.4" fill="#b9a8d8" stroke="#444" stroke-width="0.7"/>
<circle cx="92.4" cy="303.6" r="1.5" fill="#999" stroke="#444" stroke-width="0.6"/>
<circle cx="92.4" cy="320.2" r="2.8" fill="#8a5a9a" stroke="#3a2a40" stroke-width="0.8"/>
<circle cx="92.4" cy="337.4" r="1.8" fill="#d8e0f0" stroke="#3a3050" stroke-width="0.8"/>
<circle cx="92.4" cy="348.4" r="3.6" fill="#e53c6a" stroke="#3a2a30" stroke-width="0.8"/>
<text x="112.6" y="303" font-size="5.9" fill="#333" text-anchor="start" font-weight="normal" stroke="#333" stroke-width="0.06">Cell Type</text>
<text x="116.2" y="310.4" font-size="5.9" fill="#c7a3d3" text-anchor="start" font-weight="normal" stroke="#c7a3d3" stroke-width="0.06">StemLike</text>
<text x="116.2" y="316.5" font-size="5.9" fill="#e0403a" text-anchor="start" font-weight="normal" stroke="#e0403a" stroke-width="0.06">Transition</text>
<text x="116.2" y="323" font-size="5.9" fill="#6cb854" text-anchor="start" font-weight="normal" stroke="#6cb854" stroke-width="0.06">MF Effector</text>
<text x="116.2" y="329.2" font-size="5.9" fill="#8b43a0" text-anchor="start" font-weight="normal" stroke="#8b43a0" stroke-width="0.06">PExhausted</text>
<text x="161.5" y="254.5" font-size="11" fill="#000" text-anchor="start" font-weight="bold" stroke="#000" stroke-width="0.1">D</text>
<text x="348.5" y="269.0" font-size="8.3" fill="#222" text-anchor="middle" font-weight="normal" stroke="#222" stroke-width="0.1" textLength="66.3" lengthAdjust="spacingAndGlyphs">Mycosis Fungoides</text>
<rect x="184.25" y="294.60" width="53.25" height="56.00" fill="#fff" stroke="#c0c0c0" stroke-width="0.95"/>
<polygon points="192.24,304.12 197.03,303.00 201.29,306.92 205.55,310.84 210.34,317.00 208.21,328.20 203.42,341.64 195.01,347.46 187.18,346.85 186.91,322.04 187.44,311.40 189.57,308.04" fill="#d9d9d9" stroke="#d9d9d9" stroke-width="1.2" stroke-linejoin="round"/>
<ellipse cx="211.94" cy="329.88" rx="10.92" ry="13.72" fill="#d9d9d9"/>
<polygon points="219.40,325.40 226.85,325.96 230.52,325.62 234.62,327.98 235.74,333.02 232.23,338.22 230.52,344.50 227.65,344.83 225.89,339.40 221.74,341.14 217.26,339.40" fill="#d9d9d9" stroke="#d9d9d9" stroke-width="1.2" stroke-linejoin="round"/>
<line x1="196.4975" y1="296.28000000000003" x2="196.4975" y2="303.0" stroke="#c8c8c8" stroke-width="1.2"/>
<line x1="217.7975" y1="304.12" x2="216.73250000000002" y2="311.40000000000003" stroke="#ececec" stroke-width="0.8"/>
<circle cx="196.8" cy="299.1" r="0.9" fill="#666"/>
<g fill="#4f7038"><circle cx="196.2" cy="305.1" r="0.85"/><circle cx="199.1" cy="308.1" r="0.85"/><circle cx="192.7" cy="304.3" r="0.85"/><circle cx="193.4" cy="306.1" r="0.85"/><circle cx="199.7" cy="308.6" r="0.85"/><circle cx="193.7" cy="304.6" r="0.85"/><circle cx="200.6" cy="308.2" r="0.85"/><circle cx="192.5" cy="305.9" r="0.85"/><circle cx="201.1" cy="309.0" r="0.85"/><circle cx="196.1" cy="311.2" r="0.85"/><circle cx="198.0" cy="307.2" r="0.85"/><circle cx="202.7" cy="312.8" r="0.85"/><circle cx="195.1" cy="311.0" r="0.85"/><circle cx="199.0" cy="315.3" r="0.85"/><circle cx="197.5" cy="313.6" r="0.85"/><circle cx="193.8" cy="309.8" r="0.85"/><circle cx="202.3" cy="311.0" r="0.85"/><circle cx="201.3" cy="311.3" r="0.85"/><circle cx="199.7" cy="309.4" r="0.85"/><circle cx="203.3" cy="316.2" r="0.85"/><circle cx="198.3" cy="312.3" r="0.85"/><circle cx="197.0" cy="312.4" r="0.85"/><circle cx="194.0" cy="304.6" r="0.85"/><circle cx="193.5" cy="306.5" r="0.85"/><circle cx="192.8" cy="309.3" r="0.85"/><circle cx="199.3" cy="315.4" r="0.85"/><circle cx="203.0" cy="315.1" r="0.85"/><circle cx="195.6" cy="308.8" r="0.85"/><circle cx="194.1" cy="306.2" r="0.85"/><circle cx="194.9" cy="309.8" r="0.85"/><circle cx="199.9" cy="306.7" r="0.85"/><circle cx="196.8" cy="310.9" r="0.85"/><circle cx="198.8" cy="311.6" r="0.85"/><circle cx="204.2" cy="313.9" r="0.85"/><circle cx="203.8" cy="314.2" r="0.85"/><circle cx="197.1" cy="308.6" r="0.85"/><circle cx="192.6" cy="303.9" r="0.85"/><circle cx="194.6" cy="305.3" r="0.85"/></g>
<g fill="#4a3f55"><circle cx="201.2" cy="312.5" r="0.65"/><circle cx="196.8" cy="319.1" r="0.65"/><circle cx="199.6" cy="318.8" r="0.65"/><circle cx="201.7" cy="314.0" r="0.65"/><circle cx="203.6" cy="321.7" r="0.65"/><circle cx="196.5" cy="313.6" r="0.65"/><circle cx="201.3" cy="317.0" r="0.65"/><circle cx="204.7" cy="314.5" r="0.65"/><circle cx="211.0" cy="326.2" r="0.65"/><circle cx="199.8" cy="319.2" r="0.65"/><circle cx="204.8" cy="328.0" r="0.65"/><circle cx="201.0" cy="316.1" r="0.65"/><circle cx="210.8" cy="328.6" r="0.65"/><circle cx="210.2" cy="327.1" r="0.65"/><circle cx="199.1" cy="322.4" r="0.65"/><circle cx="201.5" cy="312.0" r="0.65"/><circle cx="199.0" cy="316.2" r="0.65"/><circle cx="198.6" cy="315.7" r="0.65"/><circle cx="206.5" cy="330.6" r="0.65"/><circle cx="210.6" cy="321.6" r="0.65"/><circle cx="207.1" cy="328.4" r="0.65"/><circle cx="211.9" cy="328.0" r="0.65"/><circle cx="208.9" cy="321.6" r="0.65"/><circle cx="197.3" cy="314.6" r="0.65"/><circle cx="211.8" cy="328.6" r="0.65"/><circle cx="213.2" cy="325.4" r="0.65"/><circle cx="201.4" cy="323.1" r="0.65"/><circle cx="197.3" cy="311.7" r="0.65"/><circle cx="213.0" cy="325.2" r="0.65"/><circle cx="199.6" cy="317.6" r="0.65"/><circle cx="199.4" cy="323.9" r="0.65"/><circle cx="199.7" cy="320.3" r="0.65"/><circle cx="201.5" cy="321.1" r="0.65"/><circle cx="205.8" cy="330.6" r="0.65"/><circle cx="204.2" cy="322.7" r="0.65"/><circle cx="203.1" cy="315.3" r="0.65"/><circle cx="198.1" cy="321.5" r="0.65"/><circle cx="208.4" cy="323.2" r="0.65"/><circle cx="201.0" cy="322.4" r="0.65"/><circle cx="205.3" cy="328.1" r="0.65"/></g>
<g fill="#5a4a60"><circle cx="193.4" cy="330.6" r="0.6"/><circle cx="200.0" cy="322.0" r="0.6"/><circle cx="224.3" cy="329.0" r="0.6"/><circle cx="214.5" cy="336.6" r="0.6"/><circle cx="216.9" cy="328.9" r="0.6"/><circle cx="212.2" cy="334.6" r="0.6"/><circle cx="209.5" cy="329.8" r="0.6"/><circle cx="220.9" cy="340.1" r="0.6"/><circle cx="194.1" cy="327.0" r="0.6"/><circle cx="191.9" cy="320.9" r="0.6"/><circle cx="191.9" cy="333.9" r="0.6"/><circle cx="195.7" cy="335.3" r="0.6"/><circle cx="198.7" cy="342.4" r="0.6"/><circle cx="207.0" cy="328.4" r="0.6"/><circle cx="196.0" cy="326.7" r="0.6"/><circle cx="212.4" cy="323.9" r="0.6"/><circle cx="197.6" cy="323.3" r="0.6"/><circle cx="214.2" cy="327.0" r="0.6"/><circle cx="189.3" cy="323.7" r="0.6"/><circle cx="217.4" cy="329.1" r="0.6"/><circle cx="193.4" cy="321.7" r="0.6"/><circle cx="190.3" cy="337.2" r="0.6"/><circle cx="201.0" cy="317.6" r="0.6"/><circle cx="195.4" cy="341.4" r="0.6"/><circle cx="214.9" cy="334.8" r="0.6"/><circle cx="192.7" cy="315.4" r="0.6"/><circle cx="220.4" cy="326.5" r="0.6"/><circle cx="217.9" cy="337.9" r="0.6"/></g>
<rect x="239.25" y="294.60" width="53.25" height="56.00" fill="#fff" stroke="#c0c0c0" stroke-width="0.95"/>
<polygon points="247.24,304.12 252.03,303.00 256.29,306.92 260.55,310.84 265.34,317.00 263.21,328.20 258.42,341.64 250.01,347.46 242.18,346.85 241.91,322.04 242.44,311.40 244.57,308.04" fill="#d9d9d9" stroke="#d9d9d9" stroke-width="1.2" stroke-linejoin="round"/>
<ellipse cx="266.94" cy="329.88" rx="10.92" ry="13.72" fill="#d9d9d9"/>
<polygon points="274.39,325.40 281.85,325.96 285.52,325.62 289.62,327.98 290.74,333.02 287.23,338.22 285.52,344.50 282.65,344.83 280.89,339.40 276.74,341.14 272.26,339.40" fill="#d9d9d9" stroke="#d9d9d9" stroke-width="1.2" stroke-linejoin="round"/>
<line x1="251.4975" y1="296.28000000000003" x2="251.4975" y2="303.0" stroke="#c8c8c8" stroke-width="1.2"/>
<line x1="272.7975" y1="304.12" x2="271.7325" y2="311.40000000000003" stroke="#ececec" stroke-width="0.8"/>
<circle cx="251.8" cy="299.1" r="0.9" fill="#666"/>
<g fill="#55753a"><circle cx="255.7" cy="311.5" r="0.85"/><circle cx="257.5" cy="325.4" r="0.85"/><circle cx="252.2" cy="306.6" r="0.85"/><circle cx="257.1" cy="309.2" r="0.85"/><circle cx="249.3" cy="307.4" r="0.85"/><circle cx="253.1" cy="310.7" r="0.85"/><circle cx="256.6" cy="307.7" r="0.85"/><circle cx="253.7" cy="304.0" r="0.85"/><circle cx="251.9" cy="303.9" r="0.85"/><circle cx="260.9" cy="316.5" r="0.85"/><circle cx="256.5" cy="323.2" r="0.85"/><circle cx="254.6" cy="315.5" r="0.85"/><circle cx="260.1" cy="326.7" r="0.85"/><circle cx="260.4" cy="318.5" r="0.85"/><circle cx="254.8" cy="311.7" r="0.85"/><circle cx="248.3" cy="306.6" r="0.85"/><circle cx="252.0" cy="307.4" r="0.85"/><circle cx="263.5" cy="319.3" r="0.85"/><circle cx="252.5" cy="309.3" r="0.85"/><circle cx="252.7" cy="314.4" r="0.85"/><circle cx="253.0" cy="311.9" r="0.85"/><circle cx="256.1" cy="315.4" r="0.85"/><circle cx="248.0" cy="304.1" r="0.85"/><circle cx="252.9" cy="309.0" r="0.85"/><circle cx="258.2" cy="316.0" r="0.85"/><circle cx="261.2" cy="319.0" r="0.85"/><circle cx="260.6" cy="324.2" r="0.85"/><circle cx="254.5" cy="311.2" r="0.85"/><circle cx="260.7" cy="318.7" r="0.85"/><circle cx="263.9" cy="318.3" r="0.85"/><circle cx="260.9" cy="322.7" r="0.85"/><circle cx="256.6" cy="323.2" r="0.85"/><circle cx="262.2" cy="323.0" r="0.85"/><circle cx="258.1" cy="324.6" r="0.85"/><circle cx="260.0" cy="319.9" r="0.85"/><circle cx="251.5" cy="304.3" r="0.85"/><circle cx="257.6" cy="318.3" r="0.85"/><circle cx="258.9" cy="319.6" r="0.85"/><circle cx="262.1" cy="321.2" r="0.85"/><circle cx="256.6" cy="316.1" r="0.85"/><circle cx="261.0" cy="326.5" r="0.85"/><circle cx="256.4" cy="312.6" r="0.85"/><circle cx="256.2" cy="319.6" r="0.85"/><circle cx="261.5" cy="318.1" r="0.85"/><circle cx="250.0" cy="309.5" r="0.85"/><circle cx="259.8" cy="319.8" r="0.85"/><circle cx="259.8" cy="310.4" r="0.85"/><circle cx="256.9" cy="314.5" r="0.85"/><circle cx="255.9" cy="306.3" r="0.85"/><circle cx="262.5" cy="326.3" r="0.85"/><circle cx="255.6" cy="309.9" r="0.85"/><circle cx="262.5" cy="315.5" r="0.85"/><circle cx="263.8" cy="320.1" r="0.85"/><circle cx="255.6" cy="310.7" r="0.85"/><circle cx="264.5" cy="320.3" r="0.85"/><circle cx="254.2" cy="312.8" r="0.85"/><circle cx="254.0" cy="313.6" r="0.85"/><circle cx="252.4" cy="304.7" r="0.85"/><circle cx="251.9" cy="309.8" r="0.85"/><circle cx="256.8" cy="308.0" r="0.85"/><circle cx="263.7" cy="322.7" r="0.85"/><circle cx="259.0" cy="325.0" r="0.85"/><circle cx="260.9" cy="314.2" r="0.85"/><circle cx="261.3" cy="318.7" r="0.85"/><circle cx="252.6" cy="304.7" r="0.85"/><circle cx="256.0" cy="311.6" r="0.85"/><circle cx="259.5" cy="310.6" r="0.85"/><circle cx="257.6" cy="312.8" r="0.85"/><circle cx="250.4" cy="307.4" r="0.85"/><circle cx="256.5" cy="308.7" r="0.85"/><circle cx="264.1" cy="327.0" r="0.85"/><circle cx="255.6" cy="306.8" r="0.85"/><circle cx="250.8" cy="305.7" r="0.85"/><circle cx="253.6" cy="305.7" r="0.85"/><circle cx="251.7" cy="309.6" r="0.85"/><circle cx="257.9" cy="324.4" r="0.85"/><circle cx="261.2" cy="313.3" r="0.85"/><circle cx="255.0" cy="315.9" r="0.85"/><circle cx="254.3" cy="311.5" r="0.85"/><circle cx="256.6" cy="318.4" r="0.85"/><circle cx="252.3" cy="309.4" r="0.85"/><circle cx="254.7" cy="314.0" r="0.85"/><circle cx="265.0" cy="323.5" r="0.85"/><circle cx="262.6" cy="323.7" r="0.85"/><circle cx="249.3" cy="307.2" r="0.85"/><circle cx="257.0" cy="319.6" r="0.85"/><circle cx="264.8" cy="320.5" r="0.85"/><circle cx="259.3" cy="321.5" r="0.85"/><circle cx="255.8" cy="316.5" r="0.85"/><circle cx="259.3" cy="310.7" r="0.85"/><circle cx="249.6" cy="309.5" r="0.85"/><circle cx="259.1" cy="320.0" r="0.85"/><circle cx="249.3" cy="305.2" r="0.85"/><circle cx="257.0" cy="317.3" r="0.85"/><circle cx="254.5" cy="308.8" r="0.85"/><circle cx="252.9" cy="314.4" r="0.85"/><circle cx="265.1" cy="318.7" r="0.85"/><circle cx="251.6" cy="309.4" r="0.85"/><circle cx="265.1" cy="320.1" r="0.85"/><circle cx="253.0" cy="304.1" r="0.85"/><circle cx="256.5" cy="319.4" r="0.85"/><circle cx="255.1" cy="309.6" r="0.85"/><circle cx="259.7" cy="325.3" r="0.85"/><circle cx="251.5" cy="304.4" r="0.85"/><circle cx="253.5" cy="313.5" r="0.85"/><circle cx="262.1" cy="320.9" r="0.85"/><circle cx="256.6" cy="308.4" r="0.85"/><circle cx="256.5" cy="308.0" r="0.85"/><circle cx="251.4" cy="313.4" r="0.85"/><circle cx="259.6" cy="325.9" r="0.85"/><circle cx="249.9" cy="304.8" r="0.85"/><circle cx="264.0" cy="324.3" r="0.85"/><circle cx="260.9" cy="327.0" r="0.85"/><circle cx="259.6" cy="312.5" r="0.85"/><circle cx="254.2" cy="311.4" r="0.85"/><circle cx="252.5" cy="311.8" r="0.85"/><circle cx="250.8" cy="312.1" r="0.85"/><circle cx="247.9" cy="305.0" r="0.85"/><circle cx="261.2" cy="324.7" r="0.85"/><circle cx="253.6" cy="310.0" r="0.85"/><circle cx="253.1" cy="310.0" r="0.85"/><circle cx="264.3" cy="318.5" r="0.85"/><circle cx="251.6" cy="314.7" r="0.85"/><circle cx="254.4" cy="309.5" r="0.85"/><circle cx="255.3" cy="315.2" r="0.85"/><circle cx="262.2" cy="320.9" r="0.85"/><circle cx="262.6" cy="321.7" r="0.85"/><circle cx="258.6" cy="311.3" r="0.85"/><circle cx="253.2" cy="312.1" r="0.85"/><circle cx="251.8" cy="305.1" r="0.85"/><circle cx="263.7" cy="326.8" r="0.85"/><circle cx="252.2" cy="305.5" r="0.85"/><circle cx="260.5" cy="314.1" r="0.85"/><circle cx="251.6" cy="313.4" r="0.85"/><circle cx="258.8" cy="319.4" r="0.85"/><circle cx="261.2" cy="323.5" r="0.85"/><circle cx="257.8" cy="312.3" r="0.85"/><circle cx="251.8" cy="309.3" r="0.85"/><circle cx="258.0" cy="311.2" r="0.85"/><circle cx="256.7" cy="309.0" r="0.85"/><circle cx="262.3" cy="318.9" r="0.85"/><circle cx="256.1" cy="322.8" r="0.85"/><circle cx="262.9" cy="325.1" r="0.85"/><circle cx="249.5" cy="308.0" r="0.85"/><circle cx="258.3" cy="318.1" r="0.85"/><circle cx="251.3" cy="312.2" r="0.85"/><circle cx="249.9" cy="308.4" r="0.85"/><circle cx="253.1" cy="308.3" r="0.85"/><circle cx="262.1" cy="316.5" r="0.85"/><circle cx="248.4" cy="305.9" r="0.85"/><circle cx="254.6" cy="316.5" r="0.85"/><circle cx="254.9" cy="310.2" r="0.85"/><circle cx="253.1" cy="316.9" r="0.85"/><circle cx="253.9" cy="313.4" r="0.85"/><circle cx="263.3" cy="327.0" r="0.85"/><circle cx="254.0" cy="308.2" r="0.85"/><circle cx="255.8" cy="307.4" r="0.85"/><circle cx="259.2" cy="325.0" r="0.85"/><circle cx="254.1" cy="315.4" r="0.85"/><circle cx="250.0" cy="310.2" r="0.85"/><circle cx="262.2" cy="326.3" r="0.85"/><circle cx="250.9" cy="306.5" r="0.85"/><circle cx="264.8" cy="326.5" r="0.85"/><circle cx="264.1" cy="318.2" r="0.85"/><circle cx="251.3" cy="313.0" r="0.85"/><circle cx="256.9" cy="312.6" r="0.85"/><circle cx="249.5" cy="309.4" r="0.85"/><circle cx="260.7" cy="324.7" r="0.85"/><circle cx="258.4" cy="316.5" r="0.85"/><circle cx="258.9" cy="310.8" r="0.85"/><circle cx="255.1" cy="317.3" r="0.85"/><circle cx="255.2" cy="319.1" r="0.85"/><circle cx="255.6" cy="313.9" r="0.85"/><circle cx="256.4" cy="309.1" r="0.85"/><circle cx="261.5" cy="321.9" r="0.85"/><circle cx="255.8" cy="307.8" r="0.85"/><circle cx="256.1" cy="306.1" r="0.85"/><circle cx="260.9" cy="321.9" r="0.85"/><circle cx="256.6" cy="312.4" r="0.85"/><circle cx="263.2" cy="327.0" r="0.85"/><circle cx="260.9" cy="322.7" r="0.85"/><circle cx="261.9" cy="325.4" r="0.85"/><circle cx="251.1" cy="309.7" r="0.85"/><circle cx="256.7" cy="311.1" r="0.85"/><circle cx="259.9" cy="324.6" r="0.85"/><circle cx="259.1" cy="312.0" r="0.85"/><circle cx="263.5" cy="316.6" r="0.85"/><circle cx="258.0" cy="324.3" r="0.85"/><circle cx="259.0" cy="312.8" r="0.85"/><circle cx="255.5" cy="307.7" r="0.85"/><circle cx="259.2" cy="326.7" r="0.85"/><circle cx="258.2" cy="319.2" r="0.85"/><circle cx="258.7" cy="313.7" r="0.85"/><circle cx="256.8" cy="324.6" r="0.85"/><circle cx="249.7" cy="308.9" r="0.85"/><circle cx="258.2" cy="308.4" r="0.85"/><circle cx="258.9" cy="314.7" r="0.85"/><circle cx="251.8" cy="307.1" r="0.85"/><circle cx="263.5" cy="322.0" r="0.85"/><circle cx="254.7" cy="309.8" r="0.85"/><circle cx="257.7" cy="311.8" r="0.85"/><circle cx="259.3" cy="314.0" r="0.85"/><circle cx="264.7" cy="320.8" r="0.85"/><circle cx="254.8" cy="309.1" r="0.85"/><circle cx="256.7" cy="318.6" r="0.85"/><circle cx="253.0" cy="310.6" r="0.85"/><circle cx="261.8" cy="320.4" r="0.85"/><circle cx="261.1" cy="314.5" r="0.85"/><circle cx="261.1" cy="314.2" r="0.85"/><circle cx="251.4" cy="306.0" r="0.85"/><circle cx="251.6" cy="304.5" r="0.85"/><circle cx="260.2" cy="323.4" r="0.85"/><circle cx="257.6" cy="313.8" r="0.85"/><circle cx="261.9" cy="315.9" r="0.85"/><circle cx="252.1" cy="309.1" r="0.85"/><circle cx="261.1" cy="325.8" r="0.85"/><circle cx="259.0" cy="319.9" r="0.85"/><circle cx="259.6" cy="326.6" r="0.85"/><circle cx="256.0" cy="323.3" r="0.85"/><circle cx="260.2" cy="323.7" r="0.85"/><circle cx="255.4" cy="320.6" r="0.85"/><circle cx="257.9" cy="310.8" r="0.85"/><circle cx="249.9" cy="304.2" r="0.85"/><circle cx="253.7" cy="306.9" r="0.85"/><circle cx="247.8" cy="304.5" r="0.85"/><circle cx="260.1" cy="318.5" r="0.85"/><circle cx="260.2" cy="320.9" r="0.85"/><circle cx="262.5" cy="324.5" r="0.85"/><circle cx="264.3" cy="325.8" r="0.85"/><circle cx="249.2" cy="308.4" r="0.85"/><circle cx="249.3" cy="304.4" r="0.85"/><circle cx="263.0" cy="322.7" r="0.85"/><circle cx="259.1" cy="323.0" r="0.85"/><circle cx="259.0" cy="310.3" r="0.85"/><circle cx="249.1" cy="305.9" r="0.85"/><circle cx="253.2" cy="313.5" r="0.85"/><circle cx="254.1" cy="311.1" r="0.85"/><circle cx="263.1" cy="318.1" r="0.85"/><circle cx="255.4" cy="321.7" r="0.85"/><circle cx="253.7" cy="320.1" r="0.85"/><circle cx="257.3" cy="308.7" r="0.85"/><circle cx="261.4" cy="326.6" r="0.85"/><circle cx="256.4" cy="322.3" r="0.85"/><circle cx="252.5" cy="308.6" r="0.85"/><circle cx="260.3" cy="315.3" r="0.85"/><circle cx="260.2" cy="322.1" r="0.85"/><circle cx="258.9" cy="311.9" r="0.85"/><circle cx="254.7" cy="312.8" r="0.85"/><circle cx="251.1" cy="309.8" r="0.85"/><circle cx="251.6" cy="314.4" r="0.85"/><circle cx="257.1" cy="321.3" r="0.85"/><circle cx="261.3" cy="318.8" r="0.85"/><circle cx="253.7" cy="311.2" r="0.85"/><circle cx="259.6" cy="321.0" r="0.85"/><circle cx="261.7" cy="317.2" r="0.85"/><circle cx="250.8" cy="310.7" r="0.85"/><circle cx="260.3" cy="323.4" r="0.85"/><circle cx="250.1" cy="307.2" r="0.85"/><circle cx="251.9" cy="311.2" r="0.85"/><circle cx="257.0" cy="307.3" r="0.85"/><circle cx="253.4" cy="308.0" r="0.85"/><circle cx="265.4" cy="320.7" r="0.85"/><circle cx="260.9" cy="313.8" r="0.85"/><circle cx="249.2" cy="308.4" r="0.85"/><circle cx="254.5" cy="304.4" r="0.85"/><circle cx="260.2" cy="315.3" r="0.85"/><circle cx="259.0" cy="314.5" r="0.85"/><circle cx="254.8" cy="321.0" r="0.85"/><circle cx="257.9" cy="321.2" r="0.85"/><circle cx="255.1" cy="308.9" r="0.85"/><circle cx="260.7" cy="324.3" r="0.85"/><circle cx="261.7" cy="320.0" r="0.85"/><circle cx="263.1" cy="319.5" r="0.85"/><circle cx="259.2" cy="314.2" r="0.85"/><circle cx="253.1" cy="318.3" r="0.85"/><circle cx="261.8" cy="320.3" r="0.85"/><circle cx="259.0" cy="309.4" r="0.85"/><circle cx="255.1" cy="314.3" r="0.85"/><circle cx="258.8" cy="313.2" r="0.85"/><circle cx="259.8" cy="325.4" r="0.85"/><circle cx="257.3" cy="320.4" r="0.85"/><circle cx="256.8" cy="318.6" r="0.85"/><circle cx="262.7" cy="315.8" r="0.85"/><circle cx="254.6" cy="321.5" r="0.85"/><circle cx="253.9" cy="304.9" r="0.85"/><circle cx="252.4" cy="313.0" r="0.85"/><circle cx="255.1" cy="320.0" r="0.85"/><circle cx="253.8" cy="309.8" r="0.85"/><circle cx="254.5" cy="308.5" r="0.85"/><circle cx="262.3" cy="318.5" r="0.85"/><circle cx="256.0" cy="316.8" r="0.85"/><circle cx="253.8" cy="318.6" r="0.85"/><circle cx="262.5" cy="322.8" r="0.85"/><circle cx="256.0" cy="310.5" r="0.85"/><circle cx="254.2" cy="309.5" r="0.85"/><circle cx="255.2" cy="307.9" r="0.85"/><circle cx="252.5" cy="309.3" r="0.85"/><circle cx="252.9" cy="314.8" r="0.85"/><circle cx="255.2" cy="318.5" r="0.85"/><circle cx="259.5" cy="312.1" r="0.85"/></g>
<g fill="#74709e"><circle cx="243.5" cy="332.6" r="0.7"/><circle cx="259.8" cy="331.7" r="0.7"/><circle cx="245.1" cy="332.6" r="0.7"/><circle cx="255.0" cy="320.9" r="0.7"/><circle cx="244.4" cy="318.8" r="0.7"/><circle cx="246.9" cy="331.5" r="0.7"/><circle cx="249.1" cy="319.0" r="0.7"/><circle cx="259.8" cy="331.8" r="0.7"/><circle cx="245.7" cy="333.8" r="0.7"/><circle cx="254.1" cy="331.6" r="0.7"/><circle cx="255.3" cy="333.9" r="0.7"/><circle cx="257.6" cy="332.8" r="0.7"/><circle cx="246.2" cy="329.8" r="0.7"/><circle cx="252.6" cy="330.8" r="0.7"/><circle cx="250.9" cy="333.7" r="0.7"/><circle cx="253.1" cy="321.2" r="0.7"/><circle cx="246.9" cy="318.7" r="0.7"/><circle cx="251.4" cy="318.8" r="0.7"/><circle cx="251.9" cy="325.9" r="0.7"/><circle cx="252.8" cy="333.3" r="0.7"/><circle cx="251.4" cy="327.2" r="0.7"/><circle cx="255.2" cy="332.8" r="0.7"/><circle cx="249.6" cy="324.3" r="0.7"/><circle cx="254.7" cy="328.7" r="0.7"/><circle cx="255.5" cy="334.7" r="0.7"/><circle cx="252.2" cy="325.7" r="0.7"/><circle cx="256.2" cy="328.5" r="0.7"/><circle cx="248.9" cy="333.3" r="0.7"/><circle cx="249.5" cy="325.4" r="0.7"/><circle cx="252.5" cy="331.4" r="0.7"/><circle cx="246.5" cy="324.7" r="0.7"/><circle cx="250.5" cy="327.0" r="0.7"/><circle cx="252.1" cy="321.4" r="0.7"/><circle cx="252.2" cy="335.5" r="0.7"/><circle cx="255.0" cy="331.8" r="0.7"/><circle cx="248.8" cy="322.3" r="0.7"/><circle cx="248.2" cy="327.7" r="0.7"/><circle cx="254.6" cy="331.7" r="0.7"/><circle cx="259.4" cy="326.9" r="0.7"/><circle cx="243.4" cy="321.9" r="0.7"/><circle cx="260.1" cy="328.2" r="0.7"/><circle cx="255.1" cy="331.8" r="0.7"/><circle cx="259.9" cy="328.2" r="0.7"/><circle cx="254.3" cy="328.5" r="0.7"/><circle cx="255.8" cy="327.9" r="0.7"/><circle cx="255.5" cy="320.2" r="0.7"/><circle cx="255.2" cy="325.1" r="0.7"/><circle cx="245.9" cy="316.6" r="0.7"/><circle cx="257.3" cy="334.3" r="0.7"/><circle cx="255.0" cy="323.3" r="0.7"/><circle cx="258.2" cy="331.7" r="0.7"/><circle cx="253.2" cy="321.1" r="0.7"/><circle cx="248.2" cy="324.4" r="0.7"/><circle cx="248.6" cy="324.6" r="0.7"/><circle cx="254.7" cy="334.7" r="0.7"/><circle cx="243.5" cy="327.3" r="0.7"/><circle cx="243.2" cy="318.3" r="0.7"/><circle cx="258.0" cy="327.5" r="0.7"/><circle cx="253.8" cy="334.8" r="0.7"/><circle cx="250.4" cy="317.9" r="0.7"/><circle cx="254.8" cy="320.2" r="0.7"/><circle cx="244.1" cy="333.4" r="0.7"/><circle cx="243.4" cy="331.5" r="0.7"/><circle cx="256.1" cy="333.1" r="0.7"/><circle cx="254.5" cy="330.2" r="0.7"/><circle cx="251.3" cy="334.7" r="0.7"/><circle cx="248.4" cy="330.6" r="0.7"/><circle cx="245.6" cy="333.2" r="0.7"/><circle cx="249.5" cy="327.5" r="0.7"/><circle cx="250.9" cy="329.5" r="0.7"/><circle cx="245.2" cy="332.0" r="0.7"/><circle cx="249.4" cy="328.9" r="0.7"/><circle cx="254.5" cy="324.3" r="0.7"/><circle cx="249.8" cy="331.7" r="0.7"/><circle cx="253.3" cy="321.8" r="0.7"/><circle cx="255.9" cy="332.6" r="0.7"/><circle cx="248.8" cy="328.1" r="0.7"/><circle cx="254.0" cy="322.1" r="0.7"/><circle cx="250.7" cy="333.8" r="0.7"/><circle cx="249.7" cy="329.7" r="0.7"/><circle cx="254.0" cy="333.9" r="0.7"/><circle cx="250.5" cy="327.7" r="0.7"/><circle cx="258.1" cy="333.8" r="0.7"/><circle cx="258.0" cy="333.4" r="0.7"/><circle cx="253.4" cy="321.4" r="0.7"/><circle cx="258.8" cy="332.1" r="0.7"/><circle cx="255.6" cy="334.3" r="0.7"/><circle cx="249.1" cy="317.6" r="0.7"/><circle cx="253.1" cy="332.0" r="0.7"/><circle cx="246.3" cy="331.0" r="0.7"/><circle cx="254.1" cy="329.5" r="0.7"/><circle cx="251.4" cy="320.0" r="0.7"/><circle cx="247.3" cy="331.0" r="0.7"/><circle cx="257.6" cy="325.1" r="0.7"/><circle cx="244.1" cy="332.1" r="0.7"/><circle cx="253.6" cy="334.0" r="0.7"/><circle cx="259.4" cy="326.4" r="0.7"/><circle cx="251.6" cy="327.8" r="0.7"/><circle cx="246.1" cy="319.8" r="0.7"/><circle cx="245.9" cy="330.0" r="0.7"/></g>
<g fill="#6a3a58"><circle cx="257.4" cy="328.3" r="0.6"/><circle cx="257.9" cy="327.6" r="0.6"/><circle cx="254.5" cy="320.5" r="0.6"/><circle cx="260.5" cy="325.0" r="0.6"/><circle cx="264.1" cy="327.2" r="0.6"/><circle cx="260.1" cy="323.8" r="0.6"/><circle cx="262.9" cy="326.2" r="0.6"/><circle cx="265.2" cy="331.4" r="0.6"/><circle cx="255.2" cy="322.5" r="0.6"/><circle cx="253.7" cy="320.6" r="0.6"/><circle cx="260.0" cy="333.0" r="0.6"/><circle cx="258.7" cy="334.1" r="0.6"/><circle cx="260.5" cy="325.8" r="0.6"/><circle cx="256.0" cy="328.3" r="0.6"/><circle cx="261.1" cy="334.3" r="0.6"/><circle cx="261.5" cy="325.7" r="0.6"/><circle cx="258.5" cy="322.2" r="0.6"/><circle cx="256.0" cy="325.1" r="0.6"/><circle cx="264.6" cy="333.5" r="0.6"/><circle cx="263.0" cy="330.5" r="0.6"/><circle cx="253.3" cy="322.0" r="0.6"/><circle cx="262.6" cy="334.0" r="0.6"/><circle cx="261.6" cy="324.3" r="0.6"/><circle cx="260.4" cy="331.3" r="0.6"/><circle cx="254.0" cy="324.7" r="0.6"/></g>
<g fill="#4a4050"><circle cx="255.4" cy="317.4" r="0.55"/><circle cx="254.6" cy="318.0" r="0.55"/><circle cx="253.7" cy="341.9" r="0.55"/><circle cx="283.7" cy="340.5" r="0.55"/><circle cx="250.0" cy="327.2" r="0.55"/><circle cx="248.0" cy="341.7" r="0.55"/><circle cx="282.5" cy="332.6" r="0.55"/><circle cx="264.5" cy="323.9" r="0.55"/><circle cx="281.6" cy="328.1" r="0.55"/><circle cx="253.8" cy="315.4" r="0.55"/><circle cx="276.6" cy="330.4" r="0.55"/><circle cx="250.2" cy="340.0" r="0.55"/><circle cx="255.9" cy="326.1" r="0.55"/><circle cx="250.7" cy="321.8" r="0.55"/><circle cx="251.3" cy="328.5" r="0.55"/><circle cx="258.2" cy="341.0" r="0.55"/><circle cx="246.1" cy="340.7" r="0.55"/><circle cx="265.6" cy="322.3" r="0.55"/><circle cx="255.5" cy="319.7" r="0.55"/><circle cx="248.0" cy="322.4" r="0.55"/><circle cx="282.1" cy="329.6" r="0.55"/><circle cx="252.1" cy="326.8" r="0.55"/></g>
<circle cx="269.6" cy="315.3" r="0.9" fill="#333"/>
<rect x="295.25" y="294.60" width="53.50" height="56.00" fill="#fff" stroke="#c0c0c0" stroke-width="0.95"/>
<polygon points="303.27,304.12 308.09,303.00 312.37,306.92 316.65,310.84 321.46,317.00 319.32,328.20 314.51,341.64 306.06,347.46 298.19,346.85 297.93,322.04 298.46,311.40 300.60,308.04" fill="#d9d9d9" stroke="#d9d9d9" stroke-width="1.2" stroke-linejoin="round"/>
<ellipse cx="323.07" cy="329.88" rx="10.97" ry="13.72" fill="#d9d9d9"/>
<polygon points="330.56,325.40 338.05,325.96 341.74,325.62 345.86,327.98 346.98,333.02 343.45,338.22 341.74,344.50 338.85,344.83 337.09,339.40 332.91,341.14 328.42,339.40" fill="#d9d9d9" stroke="#d9d9d9" stroke-width="1.2" stroke-linejoin="round"/>
<line x1="307.555" y1="296.28000000000003" x2="307.555" y2="303.0" stroke="#c8c8c8" stroke-width="1.2"/>
<line x1="328.955" y1="304.12" x2="327.885" y2="311.40000000000003" stroke="#ececec" stroke-width="0.8"/>
<circle cx="307.8" cy="299.1" r="0.9" fill="#666"/>
<g fill="#53733a"><circle cx="304.8" cy="305.6" r="0.85"/><circle cx="314.7" cy="315.2" r="0.85"/><circle cx="308.4" cy="308.4" r="0.85"/><circle cx="314.7" cy="320.2" r="0.85"/><circle cx="318.5" cy="317.3" r="0.85"/><circle cx="307.1" cy="305.1" r="0.85"/><circle cx="317.0" cy="313.2" r="0.85"/><circle cx="319.0" cy="323.9" r="0.85"/><circle cx="310.1" cy="307.4" r="0.85"/><circle cx="310.2" cy="317.6" r="0.85"/><circle cx="311.6" cy="315.7" r="0.85"/><circle cx="318.6" cy="323.9" r="0.85"/><circle cx="310.4" cy="321.2" r="0.85"/><circle cx="312.9" cy="316.0" r="0.85"/><circle cx="306.7" cy="306.0" r="0.85"/><circle cx="314.1" cy="315.9" r="0.85"/><circle cx="319.6" cy="320.4" r="0.85"/><circle cx="312.5" cy="315.3" r="0.85"/><circle cx="308.5" cy="306.4" r="0.85"/><circle cx="310.9" cy="306.8" r="0.85"/><circle cx="314.4" cy="323.8" r="0.85"/><circle cx="318.7" cy="325.6" r="0.85"/><circle cx="310.6" cy="313.4" r="0.85"/><circle cx="319.0" cy="315.9" r="0.85"/><circle cx="307.8" cy="311.4" r="0.85"/><circle cx="318.3" cy="325.0" r="0.85"/><circle cx="318.5" cy="323.5" r="0.85"/><circle cx="307.9" cy="313.5" r="0.85"/><circle cx="315.1" cy="312.1" r="0.85"/><circle cx="311.4" cy="315.4" r="0.85"/><circle cx="321.4" cy="321.8" r="0.85"/><circle cx="320.8" cy="318.5" r="0.85"/><circle cx="318.4" cy="324.4" r="0.85"/><circle cx="315.3" cy="309.8" r="0.85"/><circle cx="313.4" cy="325.3" r="0.85"/><circle cx="314.9" cy="309.5" r="0.85"/><circle cx="313.0" cy="313.8" r="0.85"/><circle cx="309.0" cy="318.8" r="0.85"/><circle cx="308.3" cy="314.5" r="0.85"/><circle cx="313.3" cy="307.1" r="0.85"/><circle cx="305.6" cy="306.6" r="0.85"/><circle cx="308.8" cy="313.1" r="0.85"/><circle cx="308.7" cy="309.3" r="0.85"/><circle cx="319.0" cy="317.9" r="0.85"/><circle cx="314.0" cy="318.9" r="0.85"/><circle cx="311.9" cy="316.4" r="0.85"/><circle cx="314.7" cy="314.6" r="0.85"/><circle cx="309.1" cy="309.3" r="0.85"/><circle cx="310.4" cy="317.3" r="0.85"/><circle cx="313.7" cy="315.1" r="0.85"/><circle cx="306.2" cy="305.1" r="0.85"/><circle cx="311.5" cy="320.9" r="0.85"/><circle cx="305.3" cy="308.9" r="0.85"/><circle cx="321.2" cy="320.9" r="0.85"/><circle cx="306.2" cy="311.5" r="0.85"/><circle cx="309.9" cy="319.4" r="0.85"/><circle cx="314.8" cy="323.6" r="0.85"/><circle cx="318.7" cy="315.7" r="0.85"/><circle cx="317.1" cy="321.0" r="0.85"/><circle cx="317.5" cy="314.7" r="0.85"/><circle cx="318.0" cy="320.2" r="0.85"/><circle cx="317.6" cy="317.3" r="0.85"/><circle cx="314.0" cy="313.4" r="0.85"/><circle cx="317.9" cy="324.1" r="0.85"/><circle cx="314.6" cy="312.5" r="0.85"/><circle cx="311.7" cy="314.3" r="0.85"/><circle cx="310.6" cy="316.6" r="0.85"/><circle cx="310.5" cy="311.1" r="0.85"/><circle cx="318.0" cy="323.5" r="0.85"/><circle cx="312.6" cy="314.0" r="0.85"/><circle cx="306.7" cy="310.7" r="0.85"/><circle cx="319.1" cy="323.3" r="0.85"/><circle cx="313.9" cy="315.3" r="0.85"/><circle cx="320.5" cy="321.8" r="0.85"/><circle cx="313.0" cy="315.7" r="0.85"/><circle cx="316.1" cy="312.7" r="0.85"/><circle cx="310.0" cy="317.5" r="0.85"/><circle cx="315.9" cy="315.9" r="0.85"/><circle cx="310.8" cy="316.8" r="0.85"/><circle cx="314.0" cy="324.3" r="0.85"/><circle cx="311.5" cy="318.3" r="0.85"/><circle cx="313.2" cy="322.7" r="0.85"/><circle cx="306.5" cy="311.0" r="0.85"/><circle cx="312.9" cy="306.2" r="0.85"/><circle cx="320.0" cy="319.8" r="0.85"/><circle cx="318.6" cy="326.9" r="0.85"/><circle cx="306.2" cy="310.4" r="0.85"/><circle cx="312.9" cy="315.4" r="0.85"/><circle cx="306.8" cy="307.9" r="0.85"/><circle cx="315.1" cy="317.7" r="0.85"/><circle cx="311.0" cy="322.1" r="0.85"/><circle cx="319.0" cy="317.3" r="0.85"/><circle cx="312.6" cy="316.6" r="0.85"/><circle cx="314.0" cy="313.2" r="0.85"/><circle cx="305.6" cy="307.2" r="0.85"/><circle cx="305.1" cy="307.6" r="0.85"/><circle cx="313.1" cy="322.9" r="0.85"/><circle cx="314.8" cy="322.5" r="0.85"/><circle cx="316.7" cy="311.9" r="0.85"/><circle cx="306.4" cy="309.8" r="0.85"/><circle cx="314.2" cy="311.8" r="0.85"/><circle cx="311.7" cy="312.6" r="0.85"/><circle cx="314.2" cy="326.1" r="0.85"/><circle cx="311.5" cy="318.1" r="0.85"/><circle cx="307.9" cy="304.6" r="0.85"/><circle cx="320.7" cy="323.7" r="0.85"/><circle cx="314.6" cy="326.1" r="0.85"/><circle cx="307.8" cy="312.7" r="0.85"/><circle cx="312.3" cy="322.2" r="0.85"/><circle cx="307.8" cy="307.6" r="0.85"/><circle cx="310.0" cy="307.9" r="0.85"/><circle cx="313.3" cy="312.6" r="0.85"/><circle cx="310.8" cy="305.1" r="0.85"/><circle cx="309.9" cy="309.3" r="0.85"/><circle cx="306.9" cy="310.2" r="0.85"/><circle cx="307.7" cy="304.4" r="0.85"/><circle cx="315.7" cy="311.6" r="0.85"/><circle cx="309.9" cy="320.6" r="0.85"/><circle cx="312.7" cy="308.9" r="0.85"/><circle cx="311.8" cy="306.6" r="0.85"/><circle cx="320.1" cy="317.4" r="0.85"/><circle cx="310.2" cy="309.4" r="0.85"/><circle cx="314.7" cy="308.6" r="0.85"/><circle cx="312.9" cy="316.3" r="0.85"/><circle cx="310.5" cy="319.0" r="0.85"/><circle cx="313.9" cy="310.9" r="0.85"/><circle cx="310.6" cy="305.6" r="0.85"/><circle cx="309.3" cy="319.1" r="0.85"/><circle cx="310.0" cy="315.3" r="0.85"/><circle cx="308.8" cy="305.1" r="0.85"/><circle cx="309.1" cy="308.9" r="0.85"/><circle cx="308.6" cy="313.0" r="0.85"/><circle cx="320.3" cy="321.8" r="0.85"/><circle cx="319.8" cy="323.8" r="0.85"/><circle cx="305.7" cy="310.1" r="0.85"/><circle cx="315.7" cy="311.8" r="0.85"/><circle cx="311.0" cy="319.1" r="0.85"/><circle cx="317.0" cy="320.3" r="0.85"/><circle cx="304.0" cy="304.5" r="0.85"/><circle cx="306.3" cy="308.2" r="0.85"/><circle cx="309.0" cy="312.5" r="0.85"/><circle cx="319.0" cy="317.0" r="0.85"/><circle cx="311.4" cy="319.7" r="0.85"/><circle cx="318.9" cy="321.8" r="0.85"/><circle cx="308.6" cy="304.6" r="0.85"/><circle cx="319.3" cy="317.8" r="0.85"/><circle cx="316.3" cy="312.8" r="0.85"/><circle cx="317.3" cy="323.1" r="0.85"/><circle cx="308.5" cy="305.7" r="0.85"/><circle cx="320.7" cy="319.8" r="0.85"/><circle cx="317.1" cy="323.1" r="0.85"/><circle cx="315.0" cy="314.2" r="0.85"/><circle cx="311.3" cy="315.6" r="0.85"/><circle cx="316.4" cy="322.5" r="0.85"/><circle cx="308.2" cy="316.4" r="0.85"/><circle cx="313.5" cy="309.4" r="0.85"/><circle cx="311.0" cy="308.3" r="0.85"/><circle cx="309.1" cy="306.8" r="0.85"/><circle cx="316.5" cy="319.3" r="0.85"/><circle cx="307.7" cy="309.2" r="0.85"/><circle cx="312.9" cy="314.0" r="0.85"/><circle cx="313.5" cy="321.4" r="0.85"/><circle cx="314.5" cy="314.4" r="0.85"/><circle cx="317.6" cy="323.1" r="0.85"/><circle cx="310.0" cy="308.4" r="0.85"/><circle cx="311.7" cy="306.2" r="0.85"/><circle cx="309.4" cy="314.6" r="0.85"/><circle cx="310.1" cy="307.5" r="0.85"/><circle cx="311.4" cy="308.0" r="0.85"/><circle cx="320.5" cy="318.7" r="0.85"/><circle cx="315.0" cy="325.6" r="0.85"/><circle cx="307.9" cy="306.8" r="0.85"/><circle cx="319.1" cy="325.4" r="0.85"/><circle cx="318.8" cy="321.0" r="0.85"/><circle cx="309.4" cy="307.9" r="0.85"/><circle cx="310.2" cy="316.5" r="0.85"/><circle cx="307.8" cy="304.5" r="0.85"/><circle cx="313.9" cy="318.3" r="0.85"/><circle cx="318.6" cy="320.2" r="0.85"/><circle cx="320.2" cy="325.8" r="0.85"/><circle cx="312.5" cy="315.3" r="0.85"/><circle cx="306.2" cy="310.6" r="0.85"/><circle cx="305.0" cy="304.5" r="0.85"/><circle cx="311.5" cy="308.0" r="0.85"/><circle cx="319.0" cy="323.7" r="0.85"/><circle cx="318.0" cy="313.6" r="0.85"/><circle cx="312.9" cy="313.5" r="0.85"/><circle cx="309.6" cy="313.9" r="0.85"/><circle cx="315.7" cy="323.0" r="0.85"/><circle cx="308.8" cy="314.0" r="0.85"/><circle cx="313.8" cy="311.7" r="0.85"/><circle cx="306.9" cy="305.6" r="0.85"/><circle cx="309.3" cy="314.4" r="0.85"/><circle cx="319.5" cy="326.5" r="0.85"/><circle cx="315.9" cy="317.9" r="0.85"/><circle cx="308.8" cy="317.0" r="0.85"/><circle cx="315.4" cy="310.6" r="0.85"/><circle cx="316.0" cy="314.1" r="0.85"/><circle cx="310.2" cy="317.2" r="0.85"/><circle cx="311.1" cy="316.0" r="0.85"/><circle cx="313.9" cy="312.9" r="0.85"/><circle cx="305.4" cy="307.8" r="0.85"/><circle cx="308.0" cy="305.8" r="0.85"/><circle cx="313.2" cy="309.5" r="0.85"/><circle cx="312.4" cy="316.6" r="0.85"/><circle cx="310.9" cy="305.3" r="0.85"/><circle cx="313.6" cy="320.4" r="0.85"/><circle cx="321.8" cy="320.5" r="0.85"/><circle cx="310.6" cy="307.6" r="0.85"/><circle cx="307.7" cy="312.3" r="0.85"/><circle cx="307.3" cy="310.6" r="0.85"/><circle cx="316.5" cy="313.6" r="0.85"/><circle cx="319.9" cy="318.2" r="0.85"/><circle cx="319.6" cy="316.8" r="0.85"/><circle cx="320.5" cy="324.0" r="0.85"/><circle cx="316.0" cy="323.0" r="0.85"/><circle cx="317.1" cy="325.9" r="0.85"/><circle cx="313.6" cy="322.4" r="0.85"/><circle cx="319.0" cy="317.2" r="0.85"/><circle cx="305.4" cy="304.1" r="0.85"/><circle cx="310.4" cy="307.0" r="0.85"/><circle cx="319.7" cy="316.2" r="0.85"/><circle cx="316.2" cy="322.6" r="0.85"/><circle cx="309.7" cy="307.1" r="0.85"/><circle cx="312.7" cy="324.1" r="0.85"/><circle cx="316.0" cy="312.8" r="0.85"/><circle cx="312.2" cy="307.3" r="0.85"/><circle cx="319.6" cy="317.9" r="0.85"/><circle cx="306.5" cy="312.1" r="0.85"/><circle cx="312.0" cy="317.1" r="0.85"/></g>
<g fill="#5a3048"><circle cx="317.5" cy="321.1" r="0.7"/><circle cx="316.7" cy="314.6" r="0.7"/><circle cx="322.1" cy="319.5" r="0.7"/><circle cx="315.7" cy="324.0" r="0.7"/><circle cx="315.5" cy="325.4" r="0.7"/><circle cx="319.8" cy="333.0" r="0.7"/><circle cx="320.3" cy="329.3" r="0.7"/><circle cx="325.3" cy="329.4" r="0.7"/><circle cx="321.5" cy="326.6" r="0.7"/><circle cx="317.1" cy="319.7" r="0.7"/><circle cx="326.4" cy="327.6" r="0.7"/><circle cx="316.2" cy="329.2" r="0.7"/><circle cx="323.2" cy="324.2" r="0.7"/><circle cx="321.5" cy="321.1" r="0.7"/><circle cx="320.1" cy="322.2" r="0.7"/><circle cx="319.0" cy="321.4" r="0.7"/><circle cx="315.2" cy="318.8" r="0.7"/><circle cx="316.9" cy="316.9" r="0.7"/><circle cx="318.6" cy="322.9" r="0.7"/><circle cx="320.4" cy="320.1" r="0.7"/><circle cx="316.1" cy="320.2" r="0.7"/><circle cx="323.0" cy="325.0" r="0.7"/><circle cx="326.3" cy="320.9" r="0.7"/><circle cx="326.1" cy="325.6" r="0.7"/><circle cx="317.0" cy="329.4" r="0.7"/><circle cx="318.2" cy="331.2" r="0.7"/><circle cx="325.7" cy="319.6" r="0.7"/><circle cx="322.6" cy="318.5" r="0.7"/><circle cx="317.7" cy="318.1" r="0.7"/><circle cx="321.0" cy="331.1" r="0.7"/><circle cx="321.7" cy="318.1" r="0.7"/><circle cx="316.8" cy="316.9" r="0.7"/><circle cx="314.3" cy="324.7" r="0.7"/><circle cx="325.4" cy="326.7" r="0.7"/><circle cx="316.5" cy="328.9" r="0.7"/><circle cx="321.7" cy="322.1" r="0.7"/><circle cx="322.2" cy="320.8" r="0.7"/><circle cx="316.7" cy="323.9" r="0.7"/><circle cx="320.9" cy="319.2" r="0.7"/><circle cx="326.2" cy="325.3" r="0.7"/><circle cx="321.2" cy="328.4" r="0.7"/><circle cx="316.6" cy="316.0" r="0.7"/><circle cx="324.4" cy="322.5" r="0.7"/><circle cx="319.9" cy="325.7" r="0.7"/><circle cx="320.2" cy="327.1" r="0.7"/></g>
<g fill="#5a3a50"><circle cx="327.5" cy="323.6" r="0.6"/><circle cx="332.6" cy="336.7" r="0.6"/><circle cx="320.6" cy="322.1" r="0.6"/><circle cx="321.7" cy="333.5" r="0.6"/><circle cx="300.8" cy="317.7" r="0.6"/><circle cx="302.3" cy="328.8" r="0.6"/><circle cx="306.5" cy="319.0" r="0.6"/><circle cx="307.1" cy="314.5" r="0.6"/><circle cx="329.1" cy="324.0" r="0.6"/><circle cx="336.8" cy="327.6" r="0.6"/><circle cx="314.6" cy="341.0" r="0.6"/><circle cx="304.5" cy="335.8" r="0.6"/><circle cx="302.6" cy="333.2" r="0.6"/><circle cx="318.2" cy="339.8" r="0.6"/><circle cx="302.3" cy="330.7" r="0.6"/><circle cx="343.5" cy="332.6" r="0.6"/><circle cx="310.0" cy="321.3" r="0.6"/><circle cx="311.7" cy="326.8" r="0.6"/><circle cx="310.3" cy="319.8" r="0.6"/><circle cx="334.9" cy="333.1" r="0.6"/><circle cx="309.6" cy="330.9" r="0.6"/><circle cx="306.8" cy="339.7" r="0.6"/><circle cx="334.5" cy="338.5" r="0.6"/><circle cx="312.7" cy="323.7" r="0.6"/><circle cx="307.1" cy="334.3" r="0.6"/><circle cx="327.3" cy="327.3" r="0.6"/><circle cx="326.5" cy="340.3" r="0.6"/><circle cx="309.3" cy="340.4" r="0.6"/><circle cx="316.3" cy="337.2" r="0.6"/><circle cx="306.5" cy="335.9" r="0.6"/><circle cx="304.1" cy="318.7" r="0.6"/><circle cx="315.3" cy="341.4" r="0.6"/><circle cx="332.9" cy="340.3" r="0.6"/><circle cx="310.4" cy="337.6" r="0.6"/><circle cx="323.0" cy="320.6" r="0.6"/><circle cx="314.3" cy="340.2" r="0.6"/><circle cx="305.1" cy="328.4" r="0.6"/><circle cx="305.9" cy="326.6" r="0.6"/><circle cx="307.9" cy="334.4" r="0.6"/><circle cx="306.4" cy="336.0" r="0.6"/><circle cx="316.0" cy="328.6" r="0.6"/><circle cx="309.5" cy="342.9" r="0.6"/><circle cx="340.6" cy="335.8" r="0.6"/><circle cx="312.2" cy="319.0" r="0.6"/><circle cx="311.8" cy="315.7" r="0.6"/><circle cx="301.5" cy="329.0" r="0.6"/><circle cx="318.5" cy="330.5" r="0.6"/><circle cx="331.6" cy="333.4" r="0.6"/><circle cx="324.8" cy="330.2" r="0.6"/><circle cx="340.2" cy="335.3" r="0.6"/><circle cx="318.1" cy="323.3" r="0.6"/><circle cx="317.5" cy="325.3" r="0.6"/><circle cx="318.6" cy="318.0" r="0.6"/><circle cx="311.4" cy="332.1" r="0.6"/><circle cx="317.1" cy="320.9" r="0.6"/></g>
<g fill="#6a5a80"><circle cx="302.3" cy="318.2" r="0.65"/><circle cx="314.7" cy="331.7" r="0.65"/><circle cx="311.8" cy="322.4" r="0.65"/><circle cx="310.9" cy="326.9" r="0.65"/><circle cx="314.9" cy="326.2" r="0.65"/><circle cx="303.0" cy="328.6" r="0.65"/><circle cx="312.8" cy="323.5" r="0.65"/><circle cx="312.2" cy="323.8" r="0.65"/><circle cx="308.6" cy="328.2" r="0.65"/><circle cx="311.5" cy="322.4" r="0.65"/><circle cx="310.6" cy="326.8" r="0.65"/><circle cx="302.8" cy="328.2" r="0.65"/><circle cx="303.6" cy="334.2" r="0.65"/><circle cx="307.6" cy="330.4" r="0.65"/><circle cx="308.5" cy="325.5" r="0.65"/><circle cx="302.7" cy="318.7" r="0.65"/><circle cx="308.6" cy="326.5" r="0.65"/><circle cx="301.8" cy="332.4" r="0.65"/><circle cx="307.3" cy="328.8" r="0.65"/><circle cx="314.4" cy="333.9" r="0.65"/><circle cx="305.8" cy="332.7" r="0.65"/><circle cx="301.4" cy="320.9" r="0.65"/><circle cx="300.4" cy="323.1" r="0.65"/><circle cx="313.9" cy="326.4" r="0.65"/><circle cx="307.2" cy="317.7" r="0.65"/><circle cx="311.8" cy="324.9" r="0.65"/><circle cx="307.7" cy="332.0" r="0.65"/><circle cx="311.6" cy="323.3" r="0.65"/><circle cx="308.5" cy="320.7" r="0.65"/><circle cx="305.6" cy="322.7" r="0.65"/></g>
<rect x="350.00" y="294.60" width="53.75" height="56.00" fill="#fff" stroke="#c0c0c0" stroke-width="0.95"/>
<polygon points="358.06,304.12 362.90,303.00 367.20,306.92 371.50,310.84 376.34,317.00 374.19,328.20 369.35,341.64 360.86,347.46 352.96,346.85 352.69,322.04 353.23,311.40 355.38,308.04" fill="#d9d9d9" stroke="#d9d9d9" stroke-width="1.2" stroke-linejoin="round"/>
<ellipse cx="377.95" cy="329.88" rx="11.02" ry="13.72" fill="#d9d9d9"/>
<polygon points="385.48,325.40 393.00,325.96 396.71,325.62 400.85,327.98 401.98,333.02 398.43,338.22 396.71,344.50 393.81,344.83 392.03,339.40 387.84,341.14 383.32,339.40" fill="#d9d9d9" stroke="#d9d9d9" stroke-width="1.2" stroke-linejoin="round"/>
<line x1="362.3625" y1="296.28000000000003" x2="362.3625" y2="303.0" stroke="#c8c8c8" stroke-width="1.2"/>
<line x1="383.8625" y1="304.12" x2="382.7875" y2="311.40000000000003" stroke="#ececec" stroke-width="0.8"/>
<circle cx="362.6" cy="299.1" r="0.9" fill="#666"/>
<g fill="#53733a"><circle cx="365.2" cy="304.0" r="0.85"/><circle cx="364.2" cy="309.2" r="0.85"/><circle cx="370.0" cy="323.8" r="0.85"/><circle cx="361.9" cy="313.5" r="0.85"/><circle cx="373.0" cy="318.1" r="0.85"/><circle cx="365.1" cy="304.6" r="0.85"/><circle cx="366.4" cy="312.2" r="0.85"/><circle cx="365.7" cy="318.8" r="0.85"/><circle cx="365.3" cy="317.2" r="0.85"/><circle cx="376.3" cy="320.3" r="0.85"/><circle cx="365.1" cy="319.2" r="0.85"/><circle cx="364.3" cy="305.2" r="0.85"/><circle cx="368.0" cy="315.2" r="0.85"/><circle cx="375.0" cy="321.4" r="0.85"/><circle cx="366.8" cy="314.4" r="0.85"/><circle cx="366.3" cy="315.1" r="0.85"/><circle cx="367.7" cy="323.0" r="0.85"/><circle cx="370.7" cy="321.0" r="0.85"/><circle cx="365.6" cy="304.5" r="0.85"/><circle cx="370.9" cy="316.6" r="0.85"/><circle cx="372.5" cy="321.7" r="0.85"/><circle cx="360.3" cy="308.8" r="0.85"/><circle cx="360.0" cy="305.6" r="0.85"/><circle cx="372.2" cy="316.8" r="0.85"/><circle cx="371.4" cy="314.9" r="0.85"/><circle cx="365.9" cy="317.3" r="0.85"/><circle cx="364.4" cy="315.7" r="0.85"/><circle cx="363.2" cy="309.7" r="0.85"/><circle cx="364.0" cy="309.6" r="0.85"/><circle cx="374.2" cy="316.6" r="0.85"/><circle cx="367.7" cy="313.4" r="0.85"/><circle cx="374.4" cy="322.4" r="0.85"/><circle cx="361.9" cy="304.8" r="0.85"/><circle cx="368.2" cy="312.4" r="0.85"/><circle cx="366.8" cy="315.1" r="0.85"/><circle cx="369.0" cy="312.2" r="0.85"/><circle cx="368.1" cy="313.2" r="0.85"/><circle cx="368.7" cy="311.2" r="0.85"/><circle cx="373.2" cy="317.5" r="0.85"/><circle cx="373.1" cy="315.3" r="0.85"/><circle cx="370.7" cy="319.4" r="0.85"/><circle cx="363.6" cy="308.5" r="0.85"/><circle cx="360.0" cy="305.8" r="0.85"/><circle cx="372.8" cy="325.9" r="0.85"/><circle cx="365.9" cy="319.1" r="0.85"/><circle cx="363.6" cy="309.0" r="0.85"/><circle cx="369.0" cy="311.1" r="0.85"/><circle cx="373.1" cy="326.6" r="0.85"/><circle cx="365.4" cy="304.3" r="0.85"/><circle cx="365.2" cy="318.6" r="0.85"/><circle cx="371.8" cy="313.7" r="0.85"/><circle cx="375.4" cy="327.0" r="0.85"/><circle cx="363.5" cy="311.7" r="0.85"/><circle cx="372.2" cy="315.2" r="0.85"/><circle cx="367.2" cy="323.9" r="0.85"/><circle cx="369.3" cy="316.3" r="0.85"/><circle cx="359.7" cy="306.8" r="0.85"/><circle cx="369.3" cy="326.3" r="0.85"/><circle cx="364.3" cy="314.1" r="0.85"/><circle cx="363.7" cy="305.2" r="0.85"/><circle cx="368.4" cy="322.1" r="0.85"/><circle cx="369.3" cy="314.4" r="0.85"/><circle cx="364.7" cy="312.4" r="0.85"/><circle cx="360.9" cy="305.8" r="0.85"/><circle cx="367.4" cy="316.2" r="0.85"/><circle cx="367.6" cy="312.2" r="0.85"/><circle cx="361.8" cy="313.1" r="0.85"/><circle cx="361.9" cy="306.5" r="0.85"/><circle cx="367.5" cy="324.5" r="0.85"/><circle cx="367.3" cy="322.2" r="0.85"/><circle cx="368.8" cy="319.8" r="0.85"/><circle cx="361.0" cy="309.8" r="0.85"/><circle cx="367.8" cy="310.4" r="0.85"/><circle cx="368.9" cy="309.1" r="0.85"/><circle cx="369.3" cy="322.0" r="0.85"/><circle cx="369.7" cy="319.8" r="0.85"/><circle cx="373.3" cy="314.4" r="0.85"/><circle cx="365.7" cy="305.6" r="0.85"/><circle cx="364.5" cy="306.9" r="0.85"/><circle cx="361.8" cy="308.7" r="0.85"/><circle cx="367.1" cy="315.3" r="0.85"/><circle cx="372.7" cy="324.9" r="0.85"/><circle cx="372.2" cy="318.5" r="0.85"/><circle cx="374.0" cy="322.1" r="0.85"/><circle cx="364.6" cy="307.4" r="0.85"/><circle cx="376.2" cy="319.4" r="0.85"/><circle cx="373.6" cy="325.6" r="0.85"/><circle cx="375.1" cy="321.1" r="0.85"/><circle cx="373.7" cy="322.4" r="0.85"/><circle cx="369.2" cy="313.8" r="0.85"/><circle cx="373.6" cy="322.0" r="0.85"/><circle cx="376.3" cy="322.1" r="0.85"/><circle cx="362.4" cy="308.2" r="0.85"/><circle cx="366.7" cy="309.1" r="0.85"/><circle cx="371.0" cy="320.3" r="0.85"/><circle cx="373.0" cy="319.6" r="0.85"/><circle cx="375.8" cy="323.0" r="0.85"/><circle cx="365.7" cy="305.6" r="0.85"/><circle cx="370.3" cy="323.2" r="0.85"/><circle cx="364.5" cy="317.6" r="0.85"/><circle cx="373.8" cy="322.2" r="0.85"/><circle cx="369.4" cy="314.3" r="0.85"/><circle cx="364.4" cy="308.6" r="0.85"/><circle cx="369.7" cy="310.4" r="0.85"/><circle cx="371.3" cy="314.0" r="0.85"/><circle cx="370.5" cy="322.5" r="0.85"/><circle cx="361.5" cy="309.9" r="0.85"/><circle cx="369.5" cy="324.6" r="0.85"/><circle cx="365.5" cy="315.3" r="0.85"/><circle cx="366.6" cy="322.6" r="0.85"/><circle cx="362.8" cy="311.8" r="0.85"/><circle cx="374.9" cy="319.2" r="0.85"/><circle cx="364.9" cy="319.1" r="0.85"/><circle cx="370.0" cy="312.4" r="0.85"/><circle cx="367.9" cy="319.5" r="0.85"/><circle cx="370.9" cy="316.7" r="0.85"/><circle cx="366.5" cy="321.2" r="0.85"/><circle cx="374.8" cy="320.7" r="0.85"/><circle cx="364.2" cy="306.8" r="0.85"/><circle cx="376.0" cy="324.5" r="0.85"/><circle cx="365.4" cy="321.1" r="0.85"/><circle cx="370.1" cy="310.2" r="0.85"/><circle cx="368.3" cy="313.5" r="0.85"/><circle cx="373.2" cy="319.5" r="0.85"/><circle cx="371.4" cy="319.8" r="0.85"/><circle cx="363.3" cy="307.4" r="0.85"/><circle cx="368.9" cy="323.0" r="0.85"/><circle cx="363.9" cy="304.8" r="0.85"/><circle cx="363.7" cy="312.6" r="0.85"/><circle cx="361.6" cy="310.8" r="0.85"/><circle cx="364.1" cy="313.9" r="0.85"/><circle cx="365.5" cy="312.6" r="0.85"/><circle cx="366.5" cy="323.2" r="0.85"/><circle cx="370.0" cy="321.9" r="0.85"/><circle cx="364.0" cy="307.1" r="0.85"/><circle cx="372.3" cy="314.6" r="0.85"/><circle cx="368.6" cy="319.3" r="0.85"/><circle cx="368.0" cy="310.3" r="0.85"/><circle cx="369.9" cy="309.7" r="0.85"/><circle cx="373.6" cy="316.9" r="0.85"/><circle cx="363.1" cy="309.3" r="0.85"/><circle cx="372.2" cy="319.5" r="0.85"/><circle cx="370.2" cy="326.3" r="0.85"/><circle cx="370.0" cy="319.8" r="0.85"/><circle cx="375.8" cy="321.0" r="0.85"/><circle cx="364.5" cy="312.8" r="0.85"/><circle cx="368.1" cy="315.8" r="0.85"/><circle cx="370.7" cy="324.8" r="0.85"/><circle cx="367.5" cy="323.6" r="0.85"/><circle cx="370.6" cy="317.2" r="0.85"/><circle cx="365.7" cy="317.1" r="0.85"/><circle cx="372.9" cy="323.3" r="0.85"/><circle cx="372.2" cy="315.3" r="0.85"/><circle cx="375.0" cy="324.7" r="0.85"/><circle cx="372.0" cy="322.9" r="0.85"/><circle cx="370.3" cy="324.2" r="0.85"/><circle cx="371.3" cy="318.0" r="0.85"/><circle cx="363.2" cy="305.1" r="0.85"/><circle cx="369.4" cy="322.9" r="0.85"/><circle cx="363.2" cy="308.6" r="0.85"/><circle cx="362.3" cy="305.8" r="0.85"/><circle cx="370.8" cy="326.5" r="0.85"/><circle cx="360.7" cy="310.0" r="0.85"/><circle cx="368.5" cy="322.5" r="0.85"/><circle cx="360.1" cy="308.8" r="0.85"/><circle cx="369.9" cy="311.6" r="0.85"/><circle cx="364.3" cy="316.9" r="0.85"/><circle cx="373.3" cy="316.2" r="0.85"/><circle cx="366.0" cy="305.0" r="0.85"/><circle cx="369.9" cy="320.6" r="0.85"/><circle cx="369.1" cy="313.0" r="0.85"/><circle cx="367.7" cy="317.4" r="0.85"/><circle cx="367.1" cy="306.7" r="0.85"/><circle cx="366.6" cy="319.6" r="0.85"/><circle cx="371.4" cy="314.3" r="0.85"/><circle cx="364.5" cy="308.0" r="0.85"/><circle cx="365.6" cy="310.2" r="0.85"/><circle cx="367.8" cy="313.9" r="0.85"/><circle cx="361.8" cy="309.8" r="0.85"/><circle cx="368.6" cy="320.1" r="0.85"/><circle cx="376.4" cy="321.1" r="0.85"/><circle cx="375.9" cy="325.2" r="0.85"/><circle cx="371.7" cy="320.5" r="0.85"/><circle cx="371.6" cy="318.4" r="0.85"/><circle cx="363.0" cy="311.9" r="0.85"/><circle cx="373.2" cy="314.3" r="0.85"/><circle cx="360.0" cy="306.1" r="0.85"/><circle cx="375.2" cy="322.3" r="0.85"/><circle cx="367.0" cy="322.9" r="0.85"/><circle cx="360.5" cy="306.1" r="0.85"/><circle cx="368.7" cy="315.5" r="0.85"/><circle cx="362.0" cy="309.5" r="0.85"/><circle cx="371.4" cy="325.8" r="0.85"/><circle cx="371.8" cy="312.6" r="0.85"/><circle cx="373.3" cy="323.3" r="0.85"/><circle cx="365.2" cy="303.8" r="0.85"/><circle cx="373.7" cy="322.0" r="0.85"/><circle cx="366.8" cy="304.6" r="0.85"/><circle cx="369.8" cy="324.4" r="0.85"/><circle cx="367.2" cy="318.6" r="0.85"/><circle cx="361.9" cy="309.3" r="0.85"/><circle cx="360.4" cy="308.3" r="0.85"/><circle cx="366.6" cy="317.3" r="0.85"/><circle cx="370.0" cy="320.2" r="0.85"/><circle cx="366.3" cy="305.1" r="0.85"/><circle cx="366.9" cy="313.0" r="0.85"/><circle cx="370.7" cy="320.3" r="0.85"/><circle cx="371.1" cy="314.7" r="0.85"/><circle cx="362.4" cy="312.8" r="0.85"/><circle cx="372.9" cy="322.9" r="0.85"/><circle cx="370.0" cy="321.0" r="0.85"/><circle cx="358.8" cy="305.8" r="0.85"/><circle cx="376.4" cy="322.4" r="0.85"/><circle cx="358.8" cy="304.7" r="0.85"/><circle cx="375.6" cy="318.6" r="0.85"/><circle cx="360.9" cy="304.0" r="0.85"/><circle cx="376.4" cy="320.3" r="0.85"/><circle cx="374.8" cy="325.1" r="0.85"/><circle cx="368.5" cy="322.9" r="0.85"/><circle cx="367.5" cy="318.1" r="0.85"/><circle cx="369.2" cy="322.4" r="0.85"/><circle cx="359.5" cy="304.8" r="0.85"/><circle cx="368.3" cy="310.4" r="0.85"/><circle cx="365.5" cy="303.7" r="0.85"/><circle cx="373.7" cy="322.6" r="0.85"/><circle cx="366.7" cy="306.4" r="0.85"/><circle cx="366.1" cy="306.2" r="0.85"/><circle cx="364.7" cy="305.8" r="0.85"/><circle cx="371.8" cy="323.5" r="0.85"/><circle cx="365.0" cy="310.7" r="0.85"/></g>
<g fill="#5a3048"><circle cx="377.3" cy="325.9" r="0.7"/><circle cx="374.5" cy="323.1" r="0.7"/><circle cx="372.7" cy="326.2" r="0.7"/><circle cx="376.6" cy="332.2" r="0.7"/><circle cx="377.9" cy="329.8" r="0.7"/><circle cx="377.1" cy="330.9" r="0.7"/><circle cx="373.1" cy="331.4" r="0.7"/><circle cx="373.2" cy="328.0" r="0.7"/><circle cx="370.2" cy="320.1" r="0.7"/><circle cx="371.7" cy="320.6" r="0.7"/><circle cx="381.9" cy="327.0" r="0.7"/><circle cx="381.2" cy="329.1" r="0.7"/><circle cx="378.3" cy="319.6" r="0.7"/><circle cx="370.2" cy="322.3" r="0.7"/><circle cx="371.4" cy="329.3" r="0.7"/><circle cx="378.9" cy="324.6" r="0.7"/><circle cx="371.2" cy="326.5" r="0.7"/><circle cx="372.0" cy="324.7" r="0.7"/><circle cx="374.7" cy="326.9" r="0.7"/><circle cx="374.8" cy="332.6" r="0.7"/><circle cx="372.7" cy="332.1" r="0.7"/><circle cx="369.0" cy="322.8" r="0.7"/><circle cx="377.2" cy="327.7" r="0.7"/><circle cx="378.2" cy="329.0" r="0.7"/><circle cx="370.1" cy="319.2" r="0.7"/><circle cx="381.7" cy="326.8" r="0.7"/><circle cx="375.7" cy="327.1" r="0.7"/><circle cx="375.8" cy="327.8" r="0.7"/><circle cx="372.0" cy="317.0" r="0.7"/><circle cx="381.8" cy="327.7" r="0.7"/><circle cx="370.5" cy="329.3" r="0.7"/><circle cx="371.0" cy="322.2" r="0.7"/><circle cx="377.2" cy="322.9" r="0.7"/><circle cx="381.2" cy="320.9" r="0.7"/><circle cx="379.9" cy="329.9" r="0.7"/><circle cx="376.9" cy="319.6" r="0.7"/><circle cx="376.8" cy="325.7" r="0.7"/><circle cx="376.8" cy="317.7" r="0.7"/><circle cx="376.6" cy="325.4" r="0.7"/><circle cx="372.0" cy="328.4" r="0.7"/><circle cx="368.4" cy="329.6" r="0.7"/><circle cx="370.2" cy="321.4" r="0.7"/><circle cx="374.6" cy="316.4" r="0.7"/><circle cx="370.1" cy="329.8" r="0.7"/><circle cx="370.7" cy="321.7" r="0.7"/></g>
<g fill="#5a3a50"><circle cx="363.4" cy="320.3" r="0.6"/><circle cx="372.3" cy="324.7" r="0.6"/><circle cx="384.3" cy="327.9" r="0.6"/><circle cx="385.3" cy="338.9" r="0.6"/><circle cx="375.8" cy="335.2" r="0.6"/><circle cx="358.7" cy="317.2" r="0.6"/><circle cx="365.1" cy="327.0" r="0.6"/><circle cx="359.8" cy="315.7" r="0.6"/><circle cx="371.2" cy="327.8" r="0.6"/><circle cx="398.1" cy="330.4" r="0.6"/><circle cx="357.6" cy="320.4" r="0.6"/><circle cx="389.1" cy="330.7" r="0.6"/><circle cx="398.4" cy="329.5" r="0.6"/><circle cx="365.5" cy="318.8" r="0.6"/><circle cx="358.2" cy="321.7" r="0.6"/><circle cx="375.5" cy="323.3" r="0.6"/><circle cx="363.9" cy="333.7" r="0.6"/><circle cx="371.2" cy="317.3" r="0.6"/><circle cx="384.8" cy="329.2" r="0.6"/><circle cx="355.4" cy="327.9" r="0.6"/><circle cx="388.9" cy="329.9" r="0.6"/><circle cx="365.2" cy="328.7" r="0.6"/><circle cx="382.6" cy="333.3" r="0.6"/><circle cx="361.1" cy="337.9" r="0.6"/><circle cx="398.5" cy="336.0" r="0.6"/><circle cx="364.9" cy="331.7" r="0.6"/><circle cx="364.4" cy="314.7" r="0.6"/><circle cx="363.3" cy="336.3" r="0.6"/><circle cx="373.1" cy="334.2" r="0.6"/><circle cx="365.2" cy="328.1" r="0.6"/><circle cx="364.9" cy="342.7" r="0.6"/><circle cx="369.3" cy="325.9" r="0.6"/><circle cx="370.3" cy="333.9" r="0.6"/><circle cx="355.4" cy="324.9" r="0.6"/><circle cx="361.9" cy="338.7" r="0.6"/><circle cx="354.3" cy="332.0" r="0.6"/><circle cx="366.4" cy="327.4" r="0.6"/><circle cx="380.6" cy="335.2" r="0.6"/><circle cx="360.7" cy="320.9" r="0.6"/><circle cx="359.9" cy="342.7" r="0.6"/><circle cx="361.3" cy="317.8" r="0.6"/><circle cx="378.7" cy="331.2" r="0.6"/><circle cx="365.3" cy="318.7" r="0.6"/><circle cx="381.7" cy="327.3" r="0.6"/><circle cx="373.4" cy="340.5" r="0.6"/><circle cx="385.2" cy="339.7" r="0.6"/><circle cx="359.2" cy="314.2" r="0.6"/><circle cx="367.8" cy="322.4" r="0.6"/><circle cx="373.9" cy="329.6" r="0.6"/><circle cx="394.0" cy="338.0" r="0.6"/><circle cx="384.9" cy="329.1" r="0.6"/><circle cx="359.8" cy="321.0" r="0.6"/><circle cx="385.1" cy="331.4" r="0.6"/><circle cx="357.9" cy="340.8" r="0.6"/><circle cx="365.4" cy="324.7" r="0.6"/></g>
<g fill="#6a5a80"><circle cx="363.4" cy="329.5" r="0.65"/><circle cx="354.6" cy="330.8" r="0.65"/><circle cx="365.3" cy="325.4" r="0.65"/><circle cx="366.2" cy="332.0" r="0.65"/><circle cx="366.3" cy="330.2" r="0.65"/><circle cx="365.8" cy="319.5" r="0.65"/><circle cx="357.7" cy="324.6" r="0.65"/><circle cx="361.1" cy="335.3" r="0.65"/><circle cx="367.5" cy="323.1" r="0.65"/><circle cx="366.1" cy="331.3" r="0.65"/><circle cx="355.7" cy="320.4" r="0.65"/><circle cx="357.4" cy="321.2" r="0.65"/><circle cx="353.9" cy="318.6" r="0.65"/><circle cx="361.1" cy="324.4" r="0.65"/><circle cx="354.7" cy="327.6" r="0.65"/><circle cx="360.1" cy="330.1" r="0.65"/><circle cx="361.7" cy="319.4" r="0.65"/><circle cx="360.4" cy="335.3" r="0.65"/><circle cx="368.1" cy="332.7" r="0.65"/><circle cx="365.6" cy="328.7" r="0.65"/><circle cx="366.9" cy="335.4" r="0.65"/><circle cx="357.0" cy="331.3" r="0.65"/><circle cx="359.0" cy="321.0" r="0.65"/><circle cx="369.1" cy="328.0" r="0.65"/><circle cx="369.7" cy="333.5" r="0.65"/><circle cx="364.6" cy="319.9" r="0.65"/><circle cx="356.6" cy="329.9" r="0.65"/><circle cx="358.4" cy="330.2" r="0.65"/><circle cx="355.4" cy="334.7" r="0.65"/><circle cx="359.7" cy="326.4" r="0.65"/></g>
<rect x="405.50" y="294.60" width="52.50" height="56.00" fill="#fff" stroke="#c0c0c0" stroke-width="0.95"/>
<polygon points="413.38,304.12 418.10,303.00 422.30,306.92 426.50,310.84 431.23,317.00 429.12,328.20 424.40,341.64 416.11,347.46 408.39,346.85 408.12,322.04 408.65,311.40 410.75,308.04" fill="#d9d9d9" stroke="#d9d9d9" stroke-width="1.2" stroke-linejoin="round"/>
<ellipse cx="432.80" cy="329.88" rx="10.76" ry="13.72" fill="#d9d9d9"/>
<polygon points="440.15,325.40 447.50,325.96 451.12,325.62 455.17,327.98 456.27,333.02 452.80,338.22 451.12,344.50 448.29,344.83 446.56,339.40 442.46,341.14 438.05,339.40" fill="#d9d9d9" stroke="#d9d9d9" stroke-width="1.2" stroke-linejoin="round"/>
<line x1="417.575" y1="296.28000000000003" x2="417.575" y2="303.0" stroke="#c8c8c8" stroke-width="1.2"/>
<line x1="438.575" y1="304.12" x2="437.525" y2="311.40000000000003" stroke="#ececec" stroke-width="0.8"/>
<circle cx="417.8" cy="299.1" r="0.9" fill="#666"/>
<g fill="#3e4a38"><circle cx="417.2" cy="308.8" r="0.75"/><circle cx="419.4" cy="306.6" r="0.75"/><circle cx="413.6" cy="304.2" r="0.75"/><circle cx="415.1" cy="304.3" r="0.75"/><circle cx="421.4" cy="312.8" r="0.75"/><circle cx="419.6" cy="305.6" r="0.75"/><circle cx="413.5" cy="305.2" r="0.75"/><circle cx="422.3" cy="308.4" r="0.75"/><circle cx="423.7" cy="314.2" r="0.75"/><circle cx="423.8" cy="314.1" r="0.75"/><circle cx="416.0" cy="304.3" r="0.75"/><circle cx="421.9" cy="310.9" r="0.75"/><circle cx="414.7" cy="305.7" r="0.75"/><circle cx="416.4" cy="308.9" r="0.75"/><circle cx="420.1" cy="313.1" r="0.75"/><circle cx="415.9" cy="307.1" r="0.75"/><circle cx="421.6" cy="312.7" r="0.75"/><circle cx="421.2" cy="315.6" r="0.75"/><circle cx="415.6" cy="307.4" r="0.75"/><circle cx="415.0" cy="306.2" r="0.75"/><circle cx="423.4" cy="314.6" r="0.75"/><circle cx="414.1" cy="303.7" r="0.75"/><circle cx="419.9" cy="305.1" r="0.75"/><circle cx="425.6" cy="315.3" r="0.75"/><circle cx="419.2" cy="305.8" r="0.75"/><circle cx="414.5" cy="310.1" r="0.75"/><circle cx="420.0" cy="308.1" r="0.75"/><circle cx="422.6" cy="310.4" r="0.75"/><circle cx="413.8" cy="308.4" r="0.75"/><circle cx="419.5" cy="306.5" r="0.75"/></g>
<g fill="#3e3a40"><circle cx="428.3" cy="316.1" r="0.65"/><circle cx="421.8" cy="321.5" r="0.65"/><circle cx="429.1" cy="327.8" r="0.65"/><circle cx="422.8" cy="320.9" r="0.65"/><circle cx="433.0" cy="331.3" r="0.65"/><circle cx="424.4" cy="325.0" r="0.65"/><circle cx="421.1" cy="312.2" r="0.65"/><circle cx="434.0" cy="330.8" r="0.65"/><circle cx="418.4" cy="321.3" r="0.65"/><circle cx="427.4" cy="317.8" r="0.65"/><circle cx="430.2" cy="320.7" r="0.65"/><circle cx="418.0" cy="312.9" r="0.65"/><circle cx="419.0" cy="322.7" r="0.65"/><circle cx="423.8" cy="318.6" r="0.65"/><circle cx="418.3" cy="316.6" r="0.65"/><circle cx="432.4" cy="330.6" r="0.65"/><circle cx="427.1" cy="317.5" r="0.65"/><circle cx="424.5" cy="326.6" r="0.65"/><circle cx="422.2" cy="316.7" r="0.65"/><circle cx="420.7" cy="321.4" r="0.65"/><circle cx="422.3" cy="315.4" r="0.65"/><circle cx="431.9" cy="323.6" r="0.65"/></g>
<g fill="#4a4450"><circle cx="410.2" cy="336.7" r="0.55"/><circle cx="448.5" cy="338.4" r="0.55"/><circle cx="421.8" cy="324.7" r="0.55"/><circle cx="426.8" cy="324.3" r="0.55"/><circle cx="420.1" cy="341.1" r="0.55"/><circle cx="428.5" cy="332.9" r="0.55"/><circle cx="450.2" cy="336.5" r="0.55"/><circle cx="420.9" cy="341.4" r="0.55"/><circle cx="443.0" cy="336.5" r="0.55"/><circle cx="439.7" cy="325.2" r="0.55"/><circle cx="434.3" cy="323.8" r="0.55"/><circle cx="448.2" cy="339.3" r="0.55"/><circle cx="452.6" cy="336.1" r="0.55"/><circle cx="440.6" cy="333.4" r="0.55"/></g>
<g fill="#9a3048"><circle cx="431.5" cy="333.1" r="0.55"/><circle cx="427.4" cy="331.4" r="0.55"/><circle cx="427.9" cy="334.6" r="0.55"/><circle cx="429.6" cy="329.1" r="0.55"/><circle cx="429.5" cy="334.0" r="0.55"/><circle cx="429.1" cy="333.2" r="0.55"/><circle cx="428.9" cy="332.6" r="0.55"/><circle cx="429.5" cy="330.6" r="0.55"/><circle cx="429.7" cy="332.5" r="0.55"/><circle cx="429.1" cy="330.6" r="0.55"/><circle cx="427.5" cy="332.6" r="0.55"/><circle cx="430.0" cy="329.0" r="0.55"/></g>
<rect x="459.50" y="294.60" width="53.50" height="56.00" fill="#fff" stroke="#c0c0c0" stroke-width="0.95"/>
<polygon points="467.52,304.12 472.34,303.00 476.62,306.92 480.90,310.84 485.71,317.00 483.57,328.20 478.76,341.64 470.31,347.46 462.44,346.85 462.18,322.04 462.71,311.40 464.85,308.04" fill="#d9d9d9" stroke="#d9d9d9" stroke-width="1.2" stroke-linejoin="round"/>
<ellipse cx="487.32" cy="329.88" rx="10.97" ry="13.72" fill="#d9d9d9"/>
<polygon points="494.81,325.40 502.30,325.96 505.99,325.62 510.11,327.98 511.23,333.02 507.70,338.22 505.99,344.50 503.10,344.83 501.34,339.40 497.16,341.14 492.67,339.40" fill="#d9d9d9" stroke="#d9d9d9" stroke-width="1.2" stroke-linejoin="round"/>
<line x1="471.805" y1="296.28000000000003" x2="471.805" y2="303.0" stroke="#c8c8c8" stroke-width="1.2"/>
<line x1="493.205" y1="304.12" x2="492.135" y2="311.40000000000003" stroke="#ececec" stroke-width="0.8"/>
<circle cx="472.1" cy="299.1" r="0.9" fill="#666"/>
<g fill="#56703e"><circle cx="482.3" cy="318.2" r="0.75"/><circle cx="476.8" cy="320.2" r="0.75"/><circle cx="475.6" cy="313.0" r="0.75"/><circle cx="472.9" cy="310.5" r="0.75"/><circle cx="474.1" cy="317.9" r="0.75"/><circle cx="474.0" cy="304.9" r="0.75"/><circle cx="475.7" cy="320.0" r="0.75"/><circle cx="474.1" cy="310.9" r="0.75"/><circle cx="479.0" cy="322.3" r="0.75"/><circle cx="470.0" cy="309.3" r="0.75"/><circle cx="475.3" cy="316.9" r="0.75"/><circle cx="479.9" cy="321.0" r="0.75"/><circle cx="470.1" cy="303.5" r="0.75"/><circle cx="482.4" cy="322.8" r="0.75"/><circle cx="477.6" cy="319.6" r="0.75"/><circle cx="473.9" cy="315.5" r="0.75"/><circle cx="471.0" cy="308.7" r="0.75"/><circle cx="473.9" cy="313.6" r="0.75"/><circle cx="479.1" cy="318.5" r="0.75"/><circle cx="470.6" cy="308.3" r="0.75"/><circle cx="475.6" cy="306.6" r="0.75"/><circle cx="477.1" cy="321.7" r="0.75"/><circle cx="479.2" cy="318.5" r="0.75"/><circle cx="479.0" cy="317.7" r="0.75"/><circle cx="468.0" cy="304.4" r="0.75"/><circle cx="480.5" cy="317.0" r="0.75"/><circle cx="470.8" cy="307.1" r="0.75"/><circle cx="469.3" cy="311.5" r="0.75"/><circle cx="477.4" cy="309.3" r="0.75"/><circle cx="469.3" cy="307.5" r="0.75"/><circle cx="468.0" cy="307.0" r="0.75"/><circle cx="472.0" cy="313.5" r="0.75"/><circle cx="474.8" cy="307.1" r="0.75"/><circle cx="469.4" cy="304.5" r="0.75"/><circle cx="473.6" cy="310.3" r="0.75"/><circle cx="474.0" cy="310.3" r="0.75"/><circle cx="478.6" cy="311.1" r="0.75"/><circle cx="481.5" cy="318.1" r="0.75"/><circle cx="472.7" cy="316.1" r="0.75"/><circle cx="474.1" cy="309.2" r="0.75"/><circle cx="476.2" cy="316.7" r="0.75"/><circle cx="479.4" cy="322.7" r="0.75"/><circle cx="469.0" cy="310.6" r="0.75"/><circle cx="481.5" cy="319.4" r="0.75"/><circle cx="476.9" cy="317.0" r="0.75"/><circle cx="476.2" cy="311.3" r="0.75"/><circle cx="469.7" cy="305.4" r="0.75"/><circle cx="482.3" cy="319.6" r="0.75"/><circle cx="474.9" cy="313.3" r="0.75"/><circle cx="472.6" cy="314.0" r="0.75"/><circle cx="474.9" cy="309.9" r="0.75"/><circle cx="473.3" cy="315.6" r="0.75"/><circle cx="473.0" cy="311.0" r="0.75"/><circle cx="476.0" cy="308.7" r="0.75"/><circle cx="466.8" cy="307.0" r="0.75"/><circle cx="469.0" cy="307.7" r="0.75"/><circle cx="467.5" cy="308.5" r="0.75"/><circle cx="479.4" cy="317.9" r="0.75"/><circle cx="482.5" cy="322.6" r="0.75"/><circle cx="474.1" cy="307.0" r="0.75"/><circle cx="479.7" cy="320.8" r="0.75"/><circle cx="473.3" cy="304.9" r="0.75"/><circle cx="481.9" cy="318.6" r="0.75"/><circle cx="468.6" cy="303.5" r="0.75"/><circle cx="479.0" cy="316.1" r="0.75"/><circle cx="468.4" cy="306.4" r="0.75"/><circle cx="474.1" cy="311.1" r="0.75"/><circle cx="470.9" cy="307.8" r="0.75"/><circle cx="469.6" cy="306.2" r="0.75"/><circle cx="476.6" cy="312.4" r="0.75"/><circle cx="472.4" cy="311.2" r="0.75"/><circle cx="483.1" cy="320.8" r="0.75"/><circle cx="469.0" cy="306.6" r="0.75"/><circle cx="480.3" cy="313.7" r="0.75"/><circle cx="473.8" cy="316.9" r="0.75"/><circle cx="476.5" cy="318.1" r="0.75"/><circle cx="483.3" cy="322.2" r="0.75"/><circle cx="477.3" cy="309.6" r="0.75"/><circle cx="473.1" cy="308.6" r="0.75"/><circle cx="482.4" cy="319.4" r="0.75"/><circle cx="480.4" cy="320.0" r="0.75"/><circle cx="475.1" cy="308.7" r="0.75"/><circle cx="482.9" cy="318.7" r="0.75"/><circle cx="476.8" cy="311.9" r="0.75"/><circle cx="471.3" cy="305.4" r="0.75"/><circle cx="479.3" cy="316.4" r="0.75"/><circle cx="474.0" cy="314.8" r="0.75"/><circle cx="480.7" cy="318.7" r="0.75"/><circle cx="474.8" cy="305.5" r="0.75"/><circle cx="477.7" cy="310.8" r="0.75"/><circle cx="474.7" cy="312.7" r="0.75"/><circle cx="479.1" cy="318.1" r="0.75"/><circle cx="469.7" cy="305.8" r="0.75"/><circle cx="472.4" cy="306.4" r="0.75"/><circle cx="483.6" cy="319.0" r="0.75"/><circle cx="477.6" cy="314.0" r="0.75"/><circle cx="480.7" cy="317.1" r="0.75"/><circle cx="476.2" cy="311.4" r="0.75"/><circle cx="469.4" cy="305.8" r="0.75"/><circle cx="474.8" cy="313.2" r="0.75"/><circle cx="471.2" cy="310.6" r="0.75"/><circle cx="476.2" cy="318.8" r="0.75"/><circle cx="476.1" cy="309.5" r="0.75"/><circle cx="467.0" cy="307.2" r="0.75"/><circle cx="468.6" cy="308.9" r="0.75"/><circle cx="477.6" cy="314.7" r="0.75"/><circle cx="477.6" cy="314.3" r="0.75"/><circle cx="481.7" cy="316.9" r="0.75"/><circle cx="472.8" cy="315.5" r="0.75"/><circle cx="476.2" cy="307.3" r="0.75"/><circle cx="481.2" cy="316.9" r="0.75"/><circle cx="478.5" cy="322.2" r="0.75"/><circle cx="476.9" cy="320.1" r="0.75"/><circle cx="466.7" cy="307.2" r="0.75"/><circle cx="475.6" cy="309.7" r="0.75"/><circle cx="471.2" cy="306.1" r="0.75"/><circle cx="472.9" cy="316.7" r="0.75"/><circle cx="479.3" cy="314.4" r="0.75"/><circle cx="471.0" cy="305.9" r="0.75"/><circle cx="469.2" cy="306.1" r="0.75"/></g>
<g fill="#6a6898"><circle cx="474.0" cy="332.0" r="0.65"/><circle cx="465.8" cy="326.0" r="0.65"/><circle cx="473.8" cy="327.2" r="0.65"/><circle cx="470.7" cy="326.8" r="0.65"/><circle cx="463.0" cy="317.1" r="0.65"/><circle cx="470.9" cy="320.7" r="0.65"/><circle cx="464.5" cy="325.5" r="0.65"/><circle cx="470.2" cy="322.6" r="0.65"/><circle cx="475.6" cy="332.7" r="0.65"/><circle cx="471.4" cy="326.0" r="0.65"/><circle cx="480.5" cy="328.1" r="0.65"/><circle cx="466.2" cy="317.3" r="0.65"/><circle cx="464.3" cy="322.6" r="0.65"/><circle cx="464.4" cy="329.0" r="0.65"/><circle cx="470.9" cy="322.1" r="0.65"/><circle cx="472.6" cy="334.8" r="0.65"/><circle cx="467.4" cy="319.0" r="0.65"/><circle cx="468.6" cy="322.4" r="0.65"/><circle cx="480.2" cy="330.1" r="0.65"/><circle cx="471.0" cy="319.2" r="0.65"/><circle cx="463.6" cy="318.3" r="0.65"/><circle cx="479.0" cy="328.9" r="0.65"/><circle cx="465.7" cy="328.5" r="0.65"/><circle cx="463.8" cy="326.1" r="0.65"/><circle cx="469.2" cy="317.9" r="0.65"/><circle cx="477.0" cy="330.3" r="0.65"/><circle cx="472.5" cy="319.3" r="0.65"/><circle cx="475.6" cy="324.6" r="0.65"/><circle cx="467.0" cy="323.9" r="0.65"/><circle cx="466.5" cy="317.7" r="0.65"/><circle cx="469.2" cy="321.2" r="0.65"/><circle cx="475.6" cy="320.4" r="0.65"/><circle cx="470.4" cy="329.8" r="0.65"/><circle cx="471.0" cy="319.0" r="0.65"/><circle cx="464.1" cy="326.8" r="0.65"/><circle cx="464.6" cy="326.0" r="0.65"/><circle cx="472.1" cy="319.8" r="0.65"/><circle cx="475.6" cy="325.9" r="0.65"/><circle cx="471.8" cy="318.7" r="0.65"/><circle cx="472.0" cy="318.4" r="0.65"/><circle cx="475.9" cy="329.9" r="0.65"/><circle cx="473.8" cy="335.6" r="0.65"/><circle cx="463.6" cy="330.3" r="0.65"/><circle cx="473.9" cy="330.5" r="0.65"/><circle cx="469.4" cy="329.9" r="0.65"/></g>
<g fill="#6a5a88"><circle cx="480.8" cy="335.2" r="0.55"/><circle cx="468.0" cy="335.6" r="0.55"/><circle cx="504.0" cy="332.9" r="0.55"/><circle cx="471.0" cy="340.0" r="0.55"/><circle cx="481.5" cy="333.9" r="0.55"/><circle cx="463.9" cy="314.9" r="0.55"/><circle cx="480.2" cy="340.1" r="0.55"/><circle cx="506.1" cy="337.4" r="0.55"/><circle cx="504.0" cy="331.4" r="0.55"/><circle cx="508.9" cy="333.1" r="0.55"/><circle cx="507.9" cy="330.8" r="0.55"/><circle cx="472.9" cy="329.3" r="0.55"/><circle cx="486.3" cy="323.8" r="0.55"/><circle cx="481.2" cy="329.1" r="0.55"/><circle cx="476.7" cy="328.8" r="0.55"/><circle cx="487.2" cy="326.3" r="0.55"/><circle cx="488.5" cy="322.0" r="0.55"/><circle cx="499.6" cy="334.9" r="0.55"/><circle cx="500.1" cy="329.3" r="0.55"/><circle cx="475.4" cy="341.6" r="0.55"/><circle cx="487.6" cy="325.0" r="0.55"/><circle cx="477.3" cy="325.8" r="0.55"/><circle cx="496.8" cy="338.4" r="0.55"/><circle cx="486.2" cy="335.7" r="0.55"/><circle cx="473.7" cy="327.3" r="0.55"/></g>
<g fill="#8a1a30"><circle cx="487.4" cy="335.5" r="0.7"/><circle cx="486.6" cy="336.4" r="0.7"/><circle cx="488.7" cy="332.0" r="0.7"/><circle cx="489.3" cy="337.3" r="0.7"/><circle cx="486.9" cy="331.1" r="0.7"/><circle cx="486.6" cy="331.3" r="0.7"/><circle cx="488.8" cy="334.8" r="0.7"/><circle cx="488.4" cy="334.3" r="0.7"/><circle cx="491.9" cy="333.1" r="0.7"/><circle cx="486.9" cy="330.4" r="0.7"/><circle cx="489.6" cy="332.0" r="0.7"/><circle cx="488.2" cy="334.9" r="0.7"/><circle cx="490.0" cy="330.6" r="0.7"/><circle cx="486.3" cy="334.0" r="0.7"/><circle cx="488.6" cy="336.5" r="0.7"/><circle cx="488.0" cy="330.2" r="0.7"/><circle cx="491.2" cy="330.8" r="0.7"/><circle cx="486.3" cy="334.7" r="0.7"/><circle cx="487.3" cy="337.4" r="0.7"/><circle cx="489.6" cy="335.2" r="0.7"/><circle cx="488.1" cy="337.5" r="0.7"/><circle cx="490.4" cy="332.0" r="0.7"/><circle cx="491.3" cy="330.8" r="0.7"/><circle cx="487.2" cy="334.6" r="0.7"/><circle cx="489.3" cy="331.4" r="0.7"/><circle cx="491.9" cy="336.3" r="0.7"/><circle cx="486.4" cy="334.7" r="0.7"/><circle cx="487.1" cy="332.7" r="0.7"/><circle cx="491.6" cy="334.1" r="0.7"/><circle cx="488.6" cy="334.1" r="0.7"/><circle cx="486.3" cy="336.3" r="0.7"/><circle cx="487.2" cy="336.6" r="0.7"/><circle cx="487.6" cy="332.6" r="0.7"/><circle cx="492.4" cy="334.2" r="0.7"/><circle cx="487.1" cy="332.4" r="0.7"/><circle cx="490.1" cy="337.2" r="0.7"/><circle cx="490.7" cy="332.8" r="0.7"/><circle cx="486.1" cy="332.3" r="0.7"/><circle cx="488.6" cy="334.5" r="0.7"/><circle cx="487.4" cy="336.6" r="0.7"/><circle cx="486.5" cy="332.1" r="0.7"/><circle cx="490.3" cy="335.1" r="0.7"/><circle cx="487.9" cy="336.1" r="0.7"/><circle cx="486.3" cy="336.6" r="0.7"/><circle cx="492.1" cy="336.4" r="0.7"/></g>
<g fill="#8a2a40"><circle cx="487.8" cy="337.8" r="0.55"/><circle cx="487.6" cy="336.7" r="0.55"/><circle cx="486.1" cy="332.5" r="0.55"/><circle cx="489.5" cy="325.8" r="0.55"/><circle cx="486.4" cy="337.4" r="0.55"/><circle cx="478.9" cy="332.4" r="0.55"/><circle cx="492.3" cy="332.9" r="0.55"/><circle cx="488.3" cy="336.8" r="0.55"/><circle cx="488.7" cy="325.5" r="0.55"/><circle cx="482.2" cy="330.3" r="0.55"/><circle cx="488.2" cy="329.5" r="0.55"/><circle cx="486.9" cy="337.4" r="0.55"/><circle cx="479.4" cy="334.0" r="0.55"/><circle cx="492.2" cy="334.0" r="0.55"/><circle cx="487.4" cy="331.9" r="0.55"/><circle cx="489.5" cy="332.7" r="0.55"/><circle cx="483.5" cy="334.8" r="0.55"/><circle cx="482.7" cy="331.4" r="0.55"/></g>
<g fill="#5a4a60"><circle cx="496.5" cy="329.2" r="0.5"/><circle cx="487.5" cy="328.6" r="0.5"/><circle cx="481.1" cy="339.7" r="0.5"/><circle cx="473.5" cy="340.2" r="0.5"/><circle cx="480.4" cy="323.8" r="0.5"/><circle cx="492.4" cy="330.7" r="0.5"/><circle cx="477.0" cy="316.2" r="0.5"/><circle cx="469.1" cy="333.5" r="0.5"/><circle cx="488.5" cy="323.5" r="0.5"/><circle cx="479.1" cy="339.2" r="0.5"/><circle cx="479.5" cy="326.3" r="0.5"/><circle cx="482.5" cy="318.5" r="0.5"/><circle cx="494.6" cy="333.7" r="0.5"/><circle cx="484.6" cy="325.9" r="0.5"/><circle cx="474.6" cy="337.5" r="0.5"/><circle cx="485.1" cy="338.8" r="0.5"/><circle cx="481.2" cy="335.8" r="0.5"/><circle cx="465.1" cy="320.3" r="0.5"/><circle cx="508.5" cy="334.3" r="0.5"/><circle cx="495.2" cy="328.7" r="0.5"/></g>
<text x="238.6" y="280.4" font-size="6.9" fill="#222" text-anchor="middle" font-weight="normal" stroke="#222" stroke-width="0.1" textLength="45.5" lengthAdjust="spacingAndGlyphs">clonotype MF1</text>
<text x="210.1" y="290.2" font-size="6.6" fill="#222" text-anchor="middle" font-weight="normal" stroke="#222" stroke-width="0.1" textLength="20.3" lengthAdjust="spacingAndGlyphs">CD26+</text>
<text x="263.1" y="290.2" font-size="6.6" fill="#222" text-anchor="middle" font-weight="normal" stroke="#222" stroke-width="0.1" textLength="19.6" lengthAdjust="spacingAndGlyphs">CD26−</text>
<text x="238.375" y="361.3" font-size="8.6" fill="#222" text-anchor="middle" font-weight="bold" stroke="#222" stroke-width="0.1" textLength="19.8" lengthAdjust="spacingAndGlyphs">UMAP 1</text>
<text x="348.5" y="280.4" font-size="6.9" fill="#222" text-anchor="middle" font-weight="normal" stroke="#222" stroke-width="0.1" textLength="45.5" lengthAdjust="spacingAndGlyphs">clonotype MF2</text>
<text x="323.6" y="290.2" font-size="6.6" fill="#222" text-anchor="middle" font-weight="normal" stroke="#222" stroke-width="0.1" textLength="20.3" lengthAdjust="spacingAndGlyphs">CD26+</text>
<text x="376.4" y="290.2" font-size="6.6" fill="#222" text-anchor="middle" font-weight="normal" stroke="#222" stroke-width="0.1" textLength="19.6" lengthAdjust="spacingAndGlyphs">CD26−</text>
<text x="349.5" y="361.3" font-size="8.6" fill="#222" text-anchor="middle" font-weight="bold" stroke="#222" stroke-width="0.1" textLength="19.8" lengthAdjust="spacingAndGlyphs">UMAP 1</text>
<text x="458.5" y="280.4" font-size="6.9" fill="#222" text-anchor="middle" font-weight="normal" stroke="#222" stroke-width="0.1" textLength="45.5" lengthAdjust="spacingAndGlyphs">clonotype MF3</text>
<text x="433.4" y="290.2" font-size="6.6" fill="#222" text-anchor="middle" font-weight="normal" stroke="#222" stroke-width="0.1" textLength="20.3" lengthAdjust="spacingAndGlyphs">CD26+</text>
<text x="489.5" y="290.2" font-size="6.6" fill="#222" text-anchor="middle" font-weight="normal" stroke="#222" stroke-width="0.1" textLength="19.6" lengthAdjust="spacingAndGlyphs">CD26−</text>
<text x="459.25" y="361.3" font-size="8.6" fill="#222" text-anchor="middle" font-weight="bold" stroke="#222" stroke-width="0.1" textLength="19.8" lengthAdjust="spacingAndGlyphs">UMAP 1</text>
<text x="179.39600000000002" y="320.6" font-size="8.6" fill="#222" text-anchor="middle" font-weight="bold" stroke="#222" stroke-width="0.05" transform="rotate(-90 179.39600000000002 320.6)" textLength="23.7" lengthAdjust="spacingAndGlyphs">UMAP 2</text>
<text x="6" y="416.5" font-size="11" fill="#000" text-anchor="start" font-weight="bold" stroke="#000" stroke-width="0.1">E</text>
<text x="264.1" y="429.0" font-size="8.3" fill="#222" text-anchor="middle" font-weight="normal" stroke="#222" stroke-width="0.1" textLength="61" lengthAdjust="spacingAndGlyphs">Sézary Syndrome</text>
<rect x="42.50" y="455.40" width="53.75" height="56.00" fill="#fff" stroke="#c0c0c0" stroke-width="0.95"/>
<polygon points="51.10,464.92 57.34,464.36 65.94,475.84 68.57,478.92 75.83,478.92 81.20,484.52 89.80,486.20 93.56,490.12 91.95,500.20 88.72,505.80 84.43,503.00 80.12,500.20 75.83,503.56 65.45,504.68 56.26,501.88 52.71,508.82 45.62,507.48 45.62,486.20 46.53,473.88 52.44,472.76 50.56,467.72" fill="#d9d9d9" stroke="#d9d9d9" stroke-width="1.2" stroke-linejoin="round"/>
<line x1="55.13125" y1="457.08" x2="55.13125" y2="464.35999999999996" stroke="#c8c8c8" stroke-width="1.2"/>
<circle cx="55.1" cy="460.4" r="0.8" fill="#888"/>
<g fill="#55584a"><circle cx="57.8" cy="468.6" r="0.55"/><circle cx="52.2" cy="476.8" r="0.55"/><circle cx="58.5" cy="470.7" r="0.55"/><circle cx="59.3" cy="467.4" r="0.55"/><circle cx="58.0" cy="476.3" r="0.55"/><circle cx="51.5" cy="470.6" r="0.55"/><circle cx="61.7" cy="475.0" r="0.55"/><circle cx="60.6" cy="479.3" r="0.55"/></g>
<g fill="#45404a"><circle cx="57.1" cy="488.4" r="0.5"/><circle cx="55.0" cy="502.0" r="0.5"/><circle cx="57.0" cy="500.3" r="0.5"/><circle cx="53.7" cy="493.4" r="0.5"/></g>
<g fill="#4a2c6c"><circle cx="89.3" cy="488.3" r="0.8"/><circle cx="88.9" cy="486.9" r="0.8"/><circle cx="90.0" cy="491.4" r="0.8"/><circle cx="91.1" cy="489.7" r="0.8"/><circle cx="90.9" cy="496.4" r="0.8"/><circle cx="87.4" cy="502.5" r="0.8"/><circle cx="89.6" cy="496.6" r="0.8"/><circle cx="91.2" cy="490.2" r="0.8"/><circle cx="91.6" cy="492.8" r="0.8"/><circle cx="89.1" cy="488.6" r="0.8"/><circle cx="84.8" cy="491.9" r="0.8"/><circle cx="85.9" cy="504.2" r="0.8"/><circle cx="90.6" cy="491.7" r="0.8"/><circle cx="90.0" cy="490.7" r="0.8"/><circle cx="88.4" cy="498.2" r="0.8"/><circle cx="91.2" cy="489.0" r="0.8"/><circle cx="89.7" cy="495.3" r="0.8"/><circle cx="90.5" cy="495.1" r="0.8"/><circle cx="85.9" cy="500.8" r="0.8"/><circle cx="90.9" cy="491.1" r="0.8"/><circle cx="89.7" cy="494.0" r="0.8"/><circle cx="85.4" cy="490.5" r="0.8"/><circle cx="88.0" cy="496.0" r="0.8"/><circle cx="86.6" cy="490.3" r="0.8"/><circle cx="86.5" cy="500.6" r="0.8"/><circle cx="89.4" cy="494.2" r="0.8"/><circle cx="88.1" cy="489.2" r="0.8"/><circle cx="88.0" cy="501.6" r="0.8"/><circle cx="85.2" cy="500.4" r="0.8"/><circle cx="86.6" cy="502.1" r="0.8"/><circle cx="84.2" cy="491.6" r="0.8"/><circle cx="89.2" cy="495.7" r="0.8"/><circle cx="86.8" cy="497.5" r="0.8"/><circle cx="85.3" cy="494.8" r="0.8"/><circle cx="85.7" cy="502.5" r="0.8"/><circle cx="88.4" cy="498.0" r="0.8"/><circle cx="89.1" cy="488.7" r="0.8"/><circle cx="90.5" cy="491.9" r="0.8"/><circle cx="89.5" cy="502.2" r="0.8"/><circle cx="87.3" cy="499.4" r="0.8"/><circle cx="92.1" cy="489.9" r="0.8"/><circle cx="84.3" cy="494.3" r="0.8"/><circle cx="88.0" cy="489.1" r="0.8"/><circle cx="85.4" cy="503.2" r="0.8"/><circle cx="86.9" cy="489.1" r="0.8"/><circle cx="85.0" cy="497.5" r="0.8"/><circle cx="85.1" cy="495.5" r="0.8"/><circle cx="88.3" cy="494.8" r="0.8"/><circle cx="88.0" cy="502.6" r="0.8"/><circle cx="90.4" cy="497.4" r="0.8"/><circle cx="88.3" cy="490.5" r="0.8"/><circle cx="90.5" cy="492.2" r="0.8"/><circle cx="90.0" cy="490.7" r="0.8"/><circle cx="88.6" cy="498.9" r="0.8"/><circle cx="86.7" cy="495.6" r="0.8"/><circle cx="89.7" cy="489.2" r="0.8"/><circle cx="88.4" cy="500.6" r="0.8"/><circle cx="85.6" cy="487.8" r="0.8"/><circle cx="85.7" cy="487.9" r="0.8"/><circle cx="87.8" cy="491.1" r="0.8"/><circle cx="86.1" cy="495.2" r="0.8"/><circle cx="86.7" cy="501.7" r="0.8"/><circle cx="90.0" cy="488.4" r="0.8"/><circle cx="86.4" cy="488.3" r="0.8"/><circle cx="89.7" cy="501.5" r="0.8"/><circle cx="87.1" cy="504.4" r="0.8"/><circle cx="86.9" cy="492.3" r="0.8"/><circle cx="88.0" cy="494.8" r="0.8"/><circle cx="87.3" cy="501.3" r="0.8"/><circle cx="90.9" cy="495.5" r="0.8"/><circle cx="85.0" cy="494.2" r="0.8"/><circle cx="89.4" cy="497.2" r="0.8"/><circle cx="87.6" cy="497.5" r="0.8"/><circle cx="85.6" cy="497.1" r="0.8"/><circle cx="86.7" cy="503.5" r="0.8"/><circle cx="89.1" cy="498.6" r="0.8"/><circle cx="91.1" cy="495.4" r="0.8"/><circle cx="84.5" cy="492.1" r="0.8"/><circle cx="89.9" cy="500.5" r="0.8"/><circle cx="85.2" cy="498.8" r="0.8"/><circle cx="89.4" cy="499.1" r="0.8"/><circle cx="86.3" cy="497.9" r="0.8"/><circle cx="86.4" cy="488.7" r="0.8"/><circle cx="89.5" cy="491.8" r="0.8"/><circle cx="90.6" cy="492.2" r="0.8"/><circle cx="88.3" cy="502.0" r="0.8"/><circle cx="86.7" cy="489.7" r="0.8"/><circle cx="87.0" cy="496.0" r="0.8"/></g>
<g fill="#e6def0"><circle cx="87.1" cy="488.6" r="0.5"/><circle cx="88.1" cy="492.1" r="0.5"/><circle cx="87.3" cy="490.7" r="0.5"/><circle cx="89.3" cy="502.5" r="0.5"/><circle cx="86.9" cy="501.0" r="0.5"/><circle cx="85.9" cy="488.3" r="0.5"/><circle cx="91.3" cy="490.2" r="0.5"/><circle cx="87.4" cy="501.2" r="0.5"/><circle cx="85.9" cy="489.2" r="0.5"/><circle cx="88.1" cy="494.5" r="0.5"/><circle cx="85.5" cy="497.2" r="0.5"/><circle cx="87.2" cy="486.9" r="0.5"/><circle cx="87.4" cy="504.1" r="0.5"/><circle cx="86.1" cy="497.7" r="0.5"/><circle cx="89.8" cy="487.4" r="0.5"/><circle cx="86.1" cy="500.2" r="0.5"/><circle cx="84.5" cy="495.5" r="0.5"/><circle cx="83.5" cy="489.2" r="0.5"/><circle cx="85.4" cy="487.8" r="0.5"/><circle cx="84.2" cy="490.0" r="0.5"/><circle cx="88.1" cy="488.9" r="0.5"/><circle cx="90.9" cy="494.4" r="0.5"/><circle cx="85.7" cy="490.9" r="0.5"/><circle cx="90.1" cy="488.1" r="0.5"/><circle cx="88.8" cy="503.1" r="0.5"/></g>
<polygon points="81.04,489.00 80.44,491.05 79.73,492.90 79.44,494.95 79.14,497.30 78.04,499.16 76.11,499.69 74.11,499.32 72.50,499.33 70.99,500.22 69.21,501.09 67.39,500.90 65.86,499.70 64.55,498.28 63.25,496.88 62.17,495.20 61.73,493.13 61.76,491.00 61.66,489.00 61.35,486.89 61.52,484.69 62.66,482.96 64.27,481.89 65.55,480.78 66.41,478.91 67.50,476.78 69.15,475.70 70.99,476.23 72.58,477.46 74.03,478.35 75.56,478.93 77.01,479.90 78.10,481.47 78.97,483.21 79.95,484.92 80.84,486.84" fill="#861228" stroke="#861228" stroke-width="1.0" stroke-linejoin="round"/>
<g fill="#8c1529"><circle cx="70.9" cy="478.1" r="0.8"/><circle cx="69.2" cy="481.4" r="0.8"/><circle cx="73.4" cy="482.0" r="0.8"/><circle cx="64.7" cy="494.0" r="0.8"/><circle cx="70.9" cy="479.5" r="0.8"/><circle cx="71.1" cy="496.7" r="0.8"/><circle cx="67.5" cy="485.9" r="0.8"/><circle cx="74.1" cy="478.7" r="0.8"/><circle cx="79.6" cy="491.0" r="0.8"/><circle cx="74.2" cy="478.3" r="0.8"/><circle cx="69.9" cy="496.5" r="0.8"/><circle cx="75.2" cy="495.5" r="0.8"/><circle cx="68.9" cy="484.6" r="0.8"/><circle cx="76.5" cy="497.4" r="0.8"/><circle cx="75.2" cy="485.6" r="0.8"/><circle cx="72.9" cy="489.5" r="0.8"/><circle cx="77.8" cy="496.5" r="0.8"/><circle cx="79.0" cy="488.1" r="0.8"/><circle cx="65.7" cy="484.4" r="0.8"/><circle cx="72.9" cy="478.9" r="0.8"/><circle cx="66.2" cy="501.2" r="0.8"/><circle cx="65.5" cy="480.9" r="0.8"/><circle cx="69.2" cy="484.8" r="0.8"/><circle cx="73.3" cy="489.1" r="0.8"/><circle cx="63.9" cy="481.5" r="0.8"/><circle cx="79.6" cy="495.8" r="0.8"/><circle cx="72.4" cy="499.9" r="0.8"/><circle cx="61.3" cy="490.4" r="0.8"/><circle cx="64.4" cy="485.5" r="0.8"/><circle cx="62.4" cy="496.3" r="0.8"/><circle cx="73.0" cy="498.8" r="0.8"/><circle cx="74.6" cy="492.5" r="0.8"/><circle cx="72.9" cy="482.9" r="0.8"/><circle cx="75.1" cy="494.7" r="0.8"/><circle cx="69.5" cy="487.7" r="0.8"/><circle cx="78.2" cy="482.6" r="0.8"/><circle cx="70.8" cy="483.2" r="0.8"/><circle cx="69.5" cy="499.2" r="0.8"/><circle cx="74.7" cy="477.6" r="0.8"/><circle cx="68.6" cy="501.2" r="0.8"/><circle cx="78.8" cy="492.0" r="0.8"/><circle cx="63.7" cy="482.2" r="0.8"/><circle cx="70.7" cy="485.3" r="0.8"/><circle cx="75.1" cy="489.2" r="0.8"/><circle cx="66.0" cy="492.7" r="0.8"/><circle cx="68.8" cy="500.8" r="0.8"/><circle cx="80.4" cy="492.0" r="0.8"/><circle cx="67.7" cy="480.7" r="0.8"/><circle cx="72.2" cy="484.7" r="0.8"/><circle cx="70.8" cy="485.7" r="0.8"/><circle cx="79.4" cy="492.4" r="0.8"/><circle cx="63.9" cy="491.7" r="0.8"/><circle cx="67.6" cy="481.9" r="0.8"/><circle cx="78.3" cy="493.1" r="0.8"/><circle cx="66.3" cy="490.5" r="0.8"/><circle cx="69.9" cy="490.8" r="0.8"/><circle cx="74.4" cy="488.2" r="0.8"/><circle cx="74.7" cy="490.2" r="0.8"/><circle cx="75.1" cy="499.5" r="0.8"/><circle cx="63.7" cy="484.8" r="0.8"/><circle cx="63.3" cy="496.2" r="0.8"/><circle cx="71.8" cy="492.7" r="0.8"/><circle cx="66.1" cy="492.0" r="0.8"/><circle cx="71.4" cy="485.0" r="0.8"/><circle cx="66.7" cy="499.6" r="0.8"/><circle cx="61.9" cy="491.0" r="0.8"/><circle cx="68.1" cy="490.7" r="0.8"/><circle cx="76.6" cy="491.8" r="0.8"/><circle cx="71.2" cy="476.5" r="0.8"/><circle cx="78.4" cy="498.5" r="0.8"/><circle cx="65.8" cy="495.4" r="0.8"/><circle cx="72.9" cy="481.2" r="0.8"/><circle cx="64.0" cy="490.5" r="0.8"/><circle cx="76.5" cy="495.1" r="0.8"/><circle cx="78.4" cy="482.2" r="0.8"/><circle cx="78.6" cy="487.8" r="0.8"/><circle cx="68.4" cy="487.2" r="0.8"/><circle cx="77.0" cy="498.9" r="0.8"/><circle cx="71.9" cy="496.0" r="0.8"/><circle cx="65.2" cy="481.4" r="0.8"/><circle cx="66.1" cy="481.4" r="0.8"/><circle cx="70.4" cy="484.8" r="0.8"/><circle cx="69.6" cy="491.3" r="0.8"/><circle cx="71.0" cy="498.4" r="0.8"/><circle cx="61.4" cy="486.6" r="0.8"/><circle cx="67.7" cy="500.9" r="0.8"/><circle cx="75.5" cy="482.3" r="0.8"/><circle cx="71.4" cy="481.6" r="0.8"/><circle cx="69.5" cy="487.9" r="0.8"/><circle cx="67.5" cy="500.5" r="0.8"/><circle cx="63.0" cy="497.8" r="0.8"/><circle cx="70.1" cy="485.9" r="0.8"/><circle cx="67.5" cy="486.0" r="0.8"/><circle cx="73.3" cy="487.2" r="0.8"/><circle cx="66.8" cy="486.1" r="0.8"/><circle cx="73.5" cy="490.5" r="0.8"/><circle cx="68.9" cy="480.3" r="0.8"/><circle cx="65.8" cy="488.8" r="0.8"/><circle cx="72.8" cy="478.8" r="0.8"/><circle cx="66.7" cy="498.9" r="0.8"/><circle cx="78.8" cy="487.0" r="0.8"/><circle cx="72.0" cy="490.1" r="0.8"/><circle cx="75.7" cy="495.6" r="0.8"/><circle cx="75.3" cy="479.4" r="0.8"/><circle cx="74.5" cy="481.3" r="0.8"/><circle cx="69.5" cy="479.7" r="0.8"/><circle cx="79.8" cy="487.4" r="0.8"/><circle cx="77.0" cy="483.7" r="0.8"/><circle cx="79.6" cy="492.3" r="0.8"/><circle cx="75.3" cy="485.3" r="0.8"/><circle cx="72.7" cy="478.2" r="0.8"/><circle cx="71.9" cy="493.8" r="0.8"/><circle cx="77.1" cy="482.1" r="0.8"/><circle cx="63.5" cy="496.1" r="0.8"/><circle cx="65.4" cy="496.8" r="0.8"/><circle cx="66.8" cy="498.1" r="0.8"/><circle cx="73.0" cy="500.0" r="0.8"/><circle cx="72.3" cy="485.1" r="0.8"/><circle cx="78.5" cy="482.5" r="0.8"/><circle cx="72.4" cy="497.9" r="0.8"/><circle cx="64.3" cy="494.8" r="0.8"/><circle cx="78.4" cy="493.8" r="0.8"/><circle cx="69.4" cy="497.1" r="0.8"/><circle cx="75.7" cy="478.7" r="0.8"/><circle cx="72.0" cy="492.4" r="0.8"/><circle cx="65.7" cy="483.5" r="0.8"/><circle cx="77.4" cy="491.7" r="0.8"/><circle cx="64.0" cy="489.5" r="0.8"/><circle cx="78.0" cy="495.8" r="0.8"/><circle cx="72.7" cy="480.4" r="0.8"/><circle cx="66.0" cy="478.5" r="0.8"/><circle cx="67.3" cy="475.7" r="0.8"/><circle cx="73.2" cy="487.1" r="0.8"/><circle cx="65.5" cy="489.9" r="0.8"/><circle cx="78.6" cy="496.8" r="0.8"/><circle cx="79.1" cy="491.2" r="0.8"/><circle cx="70.3" cy="483.0" r="0.8"/><circle cx="63.7" cy="490.2" r="0.8"/><circle cx="70.9" cy="494.8" r="0.8"/><circle cx="62.4" cy="493.4" r="0.8"/><circle cx="62.3" cy="496.4" r="0.8"/><circle cx="71.8" cy="477.6" r="0.8"/><circle cx="78.4" cy="488.0" r="0.8"/><circle cx="78.7" cy="497.7" r="0.8"/><circle cx="78.9" cy="496.8" r="0.8"/><circle cx="65.9" cy="495.5" r="0.8"/><circle cx="68.5" cy="497.8" r="0.8"/><circle cx="67.8" cy="499.6" r="0.8"/><circle cx="70.2" cy="499.9" r="0.8"/><circle cx="65.4" cy="490.6" r="0.8"/><circle cx="75.9" cy="486.4" r="0.8"/><circle cx="76.7" cy="497.0" r="0.8"/><circle cx="73.6" cy="500.0" r="0.8"/><circle cx="70.8" cy="488.7" r="0.8"/><circle cx="61.1" cy="489.4" r="0.8"/><circle cx="69.9" cy="494.2" r="0.8"/><circle cx="71.3" cy="489.4" r="0.8"/><circle cx="77.4" cy="498.0" r="0.8"/><circle cx="65.4" cy="497.0" r="0.8"/><circle cx="62.8" cy="490.9" r="0.8"/><circle cx="73.7" cy="498.6" r="0.8"/><circle cx="61.7" cy="483.6" r="0.8"/><circle cx="77.2" cy="497.6" r="0.8"/><circle cx="75.1" cy="498.8" r="0.8"/><circle cx="71.4" cy="491.2" r="0.8"/><circle cx="75.3" cy="492.1" r="0.8"/><circle cx="70.8" cy="498.0" r="0.8"/><circle cx="68.9" cy="486.3" r="0.8"/><circle cx="69.1" cy="491.1" r="0.8"/><circle cx="67.1" cy="485.2" r="0.8"/><circle cx="68.9" cy="484.5" r="0.8"/><circle cx="68.1" cy="487.2" r="0.8"/><circle cx="73.6" cy="484.4" r="0.8"/><circle cx="65.0" cy="487.8" r="0.8"/><circle cx="76.5" cy="499.4" r="0.8"/><circle cx="70.1" cy="485.1" r="0.8"/><circle cx="69.8" cy="476.6" r="0.8"/><circle cx="75.6" cy="488.1" r="0.8"/><circle cx="73.5" cy="486.2" r="0.8"/><circle cx="63.4" cy="483.5" r="0.8"/><circle cx="73.0" cy="482.9" r="0.8"/><circle cx="69.3" cy="500.0" r="0.8"/><circle cx="62.1" cy="496.7" r="0.8"/><circle cx="68.5" cy="493.3" r="0.8"/><circle cx="74.8" cy="483.5" r="0.8"/><circle cx="72.7" cy="477.5" r="0.8"/><circle cx="65.6" cy="493.1" r="0.8"/><circle cx="64.1" cy="492.0" r="0.8"/><circle cx="64.7" cy="498.9" r="0.8"/><circle cx="66.3" cy="485.3" r="0.8"/><circle cx="78.2" cy="485.6" r="0.8"/><circle cx="70.3" cy="485.4" r="0.8"/><circle cx="71.7" cy="495.4" r="0.8"/><circle cx="67.7" cy="481.0" r="0.8"/><circle cx="67.1" cy="495.9" r="0.8"/><circle cx="69.9" cy="489.9" r="0.8"/><circle cx="66.4" cy="495.3" r="0.8"/><circle cx="76.9" cy="486.7" r="0.8"/><circle cx="72.4" cy="482.9" r="0.8"/><circle cx="64.0" cy="481.7" r="0.8"/><circle cx="64.8" cy="483.6" r="0.8"/><circle cx="79.1" cy="499.1" r="0.8"/><circle cx="64.2" cy="490.0" r="0.8"/><circle cx="80.0" cy="492.0" r="0.8"/><circle cx="69.0" cy="480.0" r="0.8"/><circle cx="75.3" cy="484.0" r="0.8"/><circle cx="75.0" cy="495.4" r="0.8"/><circle cx="64.9" cy="481.0" r="0.8"/><circle cx="66.8" cy="478.1" r="0.8"/><circle cx="74.6" cy="494.5" r="0.8"/><circle cx="71.3" cy="477.8" r="0.8"/><circle cx="71.4" cy="488.2" r="0.8"/><circle cx="72.5" cy="496.9" r="0.8"/><circle cx="61.0" cy="492.6" r="0.8"/><circle cx="76.2" cy="499.3" r="0.8"/><circle cx="68.4" cy="477.0" r="0.8"/><circle cx="75.4" cy="482.7" r="0.8"/><circle cx="68.3" cy="476.0" r="0.8"/><circle cx="67.8" cy="490.8" r="0.8"/><circle cx="72.4" cy="485.6" r="0.8"/><circle cx="78.4" cy="490.2" r="0.8"/><circle cx="79.0" cy="491.5" r="0.8"/><circle cx="66.0" cy="485.8" r="0.8"/><circle cx="76.7" cy="499.3" r="0.8"/><circle cx="78.3" cy="495.8" r="0.8"/><circle cx="67.4" cy="483.5" r="0.8"/><circle cx="69.9" cy="499.9" r="0.8"/><circle cx="66.5" cy="482.8" r="0.8"/><circle cx="71.4" cy="497.6" r="0.8"/><circle cx="76.4" cy="485.6" r="0.8"/><circle cx="72.5" cy="484.2" r="0.8"/><circle cx="79.4" cy="482.2" r="0.8"/><circle cx="79.7" cy="490.0" r="0.8"/><circle cx="72.5" cy="490.4" r="0.8"/><circle cx="68.5" cy="491.0" r="0.8"/><circle cx="75.8" cy="493.9" r="0.8"/><circle cx="79.6" cy="495.7" r="0.8"/><circle cx="71.9" cy="498.4" r="0.8"/><circle cx="61.4" cy="490.0" r="0.8"/><circle cx="68.1" cy="488.3" r="0.8"/><circle cx="78.9" cy="495.3" r="0.8"/><circle cx="65.5" cy="497.1" r="0.8"/><circle cx="70.6" cy="499.4" r="0.8"/><circle cx="76.1" cy="487.3" r="0.8"/><circle cx="72.7" cy="499.7" r="0.8"/><circle cx="77.0" cy="488.6" r="0.8"/><circle cx="66.4" cy="496.5" r="0.8"/><circle cx="80.0" cy="484.6" r="0.8"/><circle cx="66.0" cy="480.7" r="0.8"/><circle cx="72.6" cy="487.1" r="0.8"/><circle cx="65.6" cy="492.6" r="0.8"/><circle cx="71.8" cy="482.0" r="0.8"/><circle cx="75.8" cy="491.1" r="0.8"/><circle cx="73.7" cy="482.0" r="0.8"/><circle cx="77.6" cy="495.6" r="0.8"/><circle cx="77.0" cy="488.0" r="0.8"/><circle cx="70.0" cy="481.5" r="0.8"/><circle cx="74.2" cy="478.0" r="0.8"/><circle cx="70.7" cy="477.7" r="0.8"/><circle cx="64.6" cy="497.3" r="0.8"/></g>
<g fill="#7a1a30"><circle cx="81.8" cy="487.7" r="0.6"/><circle cx="82.3" cy="489.5" r="0.6"/><circle cx="64.2" cy="500.4" r="0.6"/><circle cx="80.0" cy="498.3" r="0.6"/><circle cx="64.7" cy="501.3" r="0.6"/><circle cx="65.6" cy="500.9" r="0.6"/><circle cx="76.4" cy="501.9" r="0.6"/><circle cx="60.9" cy="481.4" r="0.6"/><circle cx="81.7" cy="494.4" r="0.6"/><circle cx="69.7" cy="474.6" r="0.6"/><circle cx="81.0" cy="483.9" r="0.6"/><circle cx="62.6" cy="499.4" r="0.6"/><circle cx="59.3" cy="485.9" r="0.6"/><circle cx="70.8" cy="501.7" r="0.6"/><circle cx="81.5" cy="484.5" r="0.6"/><circle cx="60.5" cy="483.9" r="0.6"/><circle cx="60.4" cy="482.2" r="0.6"/><circle cx="82.3" cy="484.3" r="0.6"/></g>
<g fill="#f2d5dc"><circle cx="67.1" cy="497.9" r="0.45"/><circle cx="68.5" cy="489.9" r="0.6"/><circle cx="67.0" cy="493.4" r="0.75"/><circle cx="63.9" cy="495.2" r="0.75"/><circle cx="73.4" cy="490.6" r="0.6"/><circle cx="64.1" cy="496.7" r="0.6"/><circle cx="64.5" cy="499.3" r="0.75"/><circle cx="79.0" cy="497.7" r="0.6"/><circle cx="70.2" cy="492.1" r="0.45"/><circle cx="77.9" cy="495.0" r="0.6"/><circle cx="78.0" cy="493.1" r="0.75"/><circle cx="70.6" cy="497.5" r="0.6"/><circle cx="69.5" cy="495.3" r="0.45"/><circle cx="64.3" cy="499.5" r="0.75"/><circle cx="71.6" cy="495.5" r="0.45"/><circle cx="75.8" cy="498.0" r="0.6"/><circle cx="65.9" cy="493.8" r="0.75"/><circle cx="67.7" cy="491.6" r="0.75"/></g>
<circle cx="72.6" cy="474.4" r="1.4" fill="#4a1020"/>
<circle cx="67.8" cy="468.3" r="0.9" fill="#555"/>
<rect x="97.50" y="455.40" width="54.25" height="56.00" fill="#fff" stroke="#c0c0c0" stroke-width="0.95"/>
<polygon points="106.18,464.92 112.47,464.36 121.15,475.84 123.81,478.92 131.13,478.92 136.56,484.52 145.24,486.20 149.04,490.12 147.41,500.20 144.16,505.80 139.81,503.00 135.47,500.20 131.13,503.56 120.66,504.68 111.39,501.88 107.81,508.82 100.65,507.48 100.65,486.20 101.57,473.88 107.54,472.76 105.64,467.72" fill="#d9d9d9" stroke="#d9d9d9" stroke-width="1.2" stroke-linejoin="round"/>
<line x1="110.24875" y1="457.08" x2="110.24875" y2="464.35999999999996" stroke="#c8c8c8" stroke-width="1.2"/>
<circle cx="110.2" cy="460.4" r="0.8" fill="#888"/>
<g fill="#786a98"><circle cx="103.0" cy="499.8" r="0.75"/><circle cx="103.7" cy="487.5" r="0.75"/><circle cx="101.4" cy="500.9" r="0.75"/><circle cx="112.0" cy="490.4" r="0.75"/><circle cx="101.6" cy="492.2" r="0.75"/><circle cx="105.5" cy="496.4" r="0.75"/><circle cx="102.6" cy="499.3" r="0.75"/><circle cx="103.2" cy="486.6" r="0.75"/><circle cx="109.2" cy="507.1" r="0.75"/><circle cx="107.1" cy="489.1" r="0.75"/><circle cx="109.8" cy="485.0" r="0.75"/><circle cx="108.5" cy="499.4" r="0.75"/><circle cx="107.1" cy="502.0" r="0.75"/><circle cx="104.6" cy="483.3" r="0.75"/><circle cx="112.5" cy="492.8" r="0.75"/><circle cx="114.7" cy="498.6" r="0.75"/><circle cx="107.9" cy="484.0" r="0.75"/><circle cx="112.3" cy="501.0" r="0.75"/><circle cx="109.8" cy="493.3" r="0.75"/><circle cx="113.6" cy="497.0" r="0.75"/><circle cx="108.9" cy="485.6" r="0.75"/><circle cx="109.6" cy="495.4" r="0.75"/><circle cx="111.3" cy="489.4" r="0.75"/><circle cx="105.3" cy="497.5" r="0.75"/><circle cx="114.5" cy="487.3" r="0.75"/><circle cx="108.3" cy="505.8" r="0.75"/><circle cx="109.1" cy="498.1" r="0.75"/><circle cx="107.5" cy="507.1" r="0.75"/><circle cx="102.5" cy="488.8" r="0.75"/><circle cx="109.8" cy="500.6" r="0.75"/><circle cx="113.3" cy="480.6" r="0.75"/><circle cx="102.6" cy="481.6" r="0.75"/><circle cx="109.0" cy="481.3" r="0.75"/><circle cx="110.7" cy="497.6" r="0.75"/><circle cx="104.9" cy="503.6" r="0.75"/><circle cx="108.7" cy="506.4" r="0.75"/><circle cx="107.7" cy="497.3" r="0.75"/><circle cx="111.0" cy="487.7" r="0.75"/><circle cx="105.8" cy="489.2" r="0.75"/><circle cx="117.1" cy="494.1" r="0.75"/><circle cx="102.0" cy="488.6" r="0.75"/><circle cx="112.2" cy="502.3" r="0.75"/><circle cx="103.3" cy="501.5" r="0.75"/><circle cx="108.3" cy="494.7" r="0.75"/><circle cx="108.8" cy="492.4" r="0.75"/><circle cx="113.8" cy="484.4" r="0.75"/><circle cx="101.9" cy="502.9" r="0.75"/><circle cx="113.3" cy="497.6" r="0.75"/><circle cx="106.9" cy="487.8" r="0.75"/><circle cx="117.8" cy="494.9" r="0.75"/><circle cx="101.7" cy="489.8" r="0.75"/><circle cx="107.5" cy="482.4" r="0.75"/><circle cx="108.8" cy="483.6" r="0.75"/><circle cx="114.3" cy="502.4" r="0.75"/><circle cx="103.5" cy="481.0" r="0.75"/><circle cx="103.0" cy="503.2" r="0.75"/><circle cx="116.1" cy="494.5" r="0.75"/><circle cx="105.5" cy="503.6" r="0.75"/><circle cx="103.5" cy="489.3" r="0.75"/><circle cx="108.7" cy="501.3" r="0.75"/><circle cx="115.6" cy="496.2" r="0.75"/><circle cx="102.8" cy="500.8" r="0.75"/><circle cx="105.3" cy="489.3" r="0.75"/><circle cx="102.4" cy="492.3" r="0.75"/><circle cx="110.2" cy="499.5" r="0.75"/><circle cx="110.6" cy="501.2" r="0.75"/><circle cx="107.3" cy="491.7" r="0.75"/><circle cx="114.6" cy="499.5" r="0.75"/><circle cx="111.6" cy="491.6" r="0.75"/><circle cx="111.4" cy="482.7" r="0.75"/><circle cx="103.0" cy="489.0" r="0.75"/><circle cx="103.5" cy="481.9" r="0.75"/><circle cx="114.1" cy="500.3" r="0.75"/><circle cx="112.3" cy="486.1" r="0.75"/><circle cx="112.4" cy="486.7" r="0.75"/><circle cx="111.4" cy="491.2" r="0.75"/><circle cx="106.1" cy="484.6" r="0.75"/><circle cx="116.8" cy="497.6" r="0.75"/><circle cx="106.0" cy="494.3" r="0.75"/><circle cx="102.4" cy="488.7" r="0.75"/><circle cx="111.0" cy="493.6" r="0.75"/><circle cx="117.6" cy="496.1" r="0.75"/><circle cx="112.7" cy="496.3" r="0.75"/><circle cx="115.4" cy="490.4" r="0.75"/><circle cx="115.5" cy="484.0" r="0.75"/><circle cx="103.3" cy="486.6" r="0.75"/><circle cx="113.1" cy="484.1" r="0.75"/><circle cx="101.7" cy="493.9" r="0.75"/><circle cx="101.4" cy="487.6" r="0.75"/><circle cx="108.1" cy="486.1" r="0.75"/></g>
<g fill="#55584a"><circle cx="108.6" cy="470.9" r="0.55"/><circle cx="111.9" cy="471.6" r="0.55"/><circle cx="110.2" cy="465.3" r="0.55"/><circle cx="119.9" cy="478.6" r="0.55"/><circle cx="108.4" cy="481.6" r="0.55"/><circle cx="112.7" cy="468.7" r="0.55"/><circle cx="106.3" cy="474.2" r="0.55"/><circle cx="114.7" cy="467.1" r="0.55"/><circle cx="110.1" cy="476.3" r="0.55"/><circle cx="116.8" cy="476.5" r="0.55"/><circle cx="115.8" cy="471.9" r="0.55"/><circle cx="110.6" cy="468.6" r="0.55"/></g>
<g fill="#45404a"><circle cx="116.5" cy="491.9" r="0.5"/><circle cx="112.3" cy="498.5" r="0.5"/><circle cx="104.6" cy="501.2" r="0.5"/><circle cx="107.4" cy="497.7" r="0.5"/><circle cx="113.3" cy="495.2" r="0.5"/><circle cx="108.6" cy="503.3" r="0.5"/></g>
<polygon points="138.46,486.64 143.99,485.21 147.22,488.07 146.76,495.68 145.38,499.49 144.91,504.25 142.15,504.73 140.30,499.49 138.46,495.68" fill="#4b2d6b" stroke="#4b2d6b" stroke-width="1.0" stroke-linejoin="round"/>
<g fill="#4a2c6c"><circle cx="144.4" cy="485.4" r="0.8"/><circle cx="139.9" cy="497.0" r="0.8"/><circle cx="143.1" cy="484.0" r="0.8"/><circle cx="138.6" cy="496.4" r="0.8"/><circle cx="143.8" cy="485.2" r="0.8"/><circle cx="145.6" cy="488.9" r="0.8"/><circle cx="143.7" cy="495.6" r="0.8"/><circle cx="141.7" cy="493.1" r="0.8"/><circle cx="143.2" cy="502.7" r="0.8"/><circle cx="143.2" cy="499.9" r="0.8"/><circle cx="144.2" cy="505.4" r="0.8"/><circle cx="139.9" cy="496.5" r="0.8"/><circle cx="142.2" cy="488.7" r="0.8"/><circle cx="145.7" cy="488.5" r="0.8"/><circle cx="145.0" cy="494.6" r="0.8"/><circle cx="142.0" cy="499.6" r="0.8"/><circle cx="140.4" cy="498.8" r="0.8"/><circle cx="142.8" cy="505.0" r="0.8"/><circle cx="142.3" cy="491.6" r="0.8"/><circle cx="137.9" cy="494.2" r="0.8"/><circle cx="143.1" cy="490.5" r="0.8"/><circle cx="138.7" cy="494.5" r="0.8"/><circle cx="138.4" cy="487.3" r="0.8"/><circle cx="142.2" cy="491.4" r="0.8"/><circle cx="142.8" cy="495.6" r="0.8"/><circle cx="141.6" cy="486.5" r="0.8"/><circle cx="147.6" cy="489.9" r="0.8"/><circle cx="141.3" cy="490.7" r="0.8"/><circle cx="145.3" cy="494.7" r="0.8"/><circle cx="139.0" cy="488.1" r="0.8"/><circle cx="141.4" cy="492.6" r="0.8"/><circle cx="142.2" cy="496.6" r="0.8"/><circle cx="143.8" cy="502.4" r="0.8"/><circle cx="141.1" cy="484.2" r="0.8"/><circle cx="143.6" cy="484.9" r="0.8"/><circle cx="145.3" cy="492.0" r="0.8"/><circle cx="144.3" cy="489.9" r="0.8"/><circle cx="147.1" cy="491.9" r="0.8"/><circle cx="139.9" cy="489.6" r="0.8"/><circle cx="142.7" cy="505.9" r="0.8"/><circle cx="138.8" cy="488.2" r="0.8"/><circle cx="145.8" cy="485.1" r="0.8"/><circle cx="141.9" cy="501.4" r="0.8"/><circle cx="145.0" cy="501.6" r="0.8"/><circle cx="141.3" cy="502.1" r="0.8"/><circle cx="142.5" cy="503.9" r="0.8"/><circle cx="142.6" cy="489.3" r="0.8"/><circle cx="139.2" cy="494.8" r="0.8"/><circle cx="138.2" cy="487.2" r="0.8"/><circle cx="146.7" cy="496.6" r="0.8"/><circle cx="146.5" cy="486.9" r="0.8"/><circle cx="142.6" cy="494.2" r="0.8"/><circle cx="138.8" cy="489.4" r="0.8"/><circle cx="142.9" cy="497.4" r="0.8"/><circle cx="143.8" cy="484.6" r="0.8"/><circle cx="146.6" cy="487.2" r="0.8"/><circle cx="140.1" cy="486.5" r="0.8"/><circle cx="142.9" cy="496.8" r="0.8"/><circle cx="142.4" cy="494.2" r="0.8"/><circle cx="143.2" cy="490.5" r="0.8"/><circle cx="138.4" cy="492.3" r="0.8"/><circle cx="142.3" cy="489.3" r="0.8"/><circle cx="145.3" cy="504.2" r="0.8"/><circle cx="139.1" cy="495.0" r="0.8"/><circle cx="142.3" cy="485.8" r="0.8"/><circle cx="142.3" cy="495.3" r="0.8"/><circle cx="145.7" cy="487.7" r="0.8"/><circle cx="142.0" cy="504.6" r="0.8"/><circle cx="140.0" cy="484.5" r="0.8"/><circle cx="138.5" cy="485.1" r="0.8"/><circle cx="141.3" cy="499.9" r="0.8"/><circle cx="138.0" cy="495.2" r="0.8"/><circle cx="143.2" cy="485.6" r="0.8"/><circle cx="143.6" cy="493.6" r="0.8"/><circle cx="141.0" cy="502.5" r="0.8"/><circle cx="144.8" cy="486.2" r="0.8"/><circle cx="140.4" cy="498.0" r="0.8"/><circle cx="146.6" cy="486.3" r="0.8"/><circle cx="142.5" cy="506.3" r="0.8"/><circle cx="143.8" cy="486.1" r="0.8"/><circle cx="139.9" cy="486.4" r="0.8"/><circle cx="143.9" cy="497.7" r="0.8"/><circle cx="140.3" cy="489.5" r="0.8"/><circle cx="146.6" cy="486.0" r="0.8"/><circle cx="143.4" cy="497.4" r="0.8"/><circle cx="144.0" cy="501.1" r="0.8"/><circle cx="143.0" cy="486.0" r="0.8"/><circle cx="139.9" cy="498.4" r="0.8"/><circle cx="138.5" cy="485.9" r="0.8"/><circle cx="143.3" cy="491.6" r="0.8"/><circle cx="140.1" cy="496.4" r="0.8"/><circle cx="146.5" cy="491.9" r="0.8"/><circle cx="142.1" cy="496.7" r="0.8"/><circle cx="139.5" cy="496.8" r="0.8"/><circle cx="141.0" cy="494.3" r="0.8"/><circle cx="142.9" cy="490.6" r="0.8"/><circle cx="143.8" cy="502.2" r="0.8"/><circle cx="142.5" cy="497.9" r="0.8"/><circle cx="140.6" cy="489.3" r="0.8"/><circle cx="142.9" cy="495.6" r="0.8"/><circle cx="142.8" cy="491.6" r="0.8"/><circle cx="140.2" cy="485.0" r="0.8"/><circle cx="144.2" cy="484.0" r="0.8"/><circle cx="141.1" cy="493.5" r="0.8"/><circle cx="144.7" cy="487.1" r="0.8"/><circle cx="141.4" cy="501.5" r="0.8"/><circle cx="144.7" cy="496.8" r="0.8"/><circle cx="138.7" cy="488.4" r="0.8"/><circle cx="144.2" cy="496.6" r="0.8"/><circle cx="147.2" cy="496.1" r="0.8"/><circle cx="147.1" cy="494.2" r="0.8"/><circle cx="143.0" cy="489.9" r="0.8"/><circle cx="142.4" cy="504.9" r="0.8"/><circle cx="141.3" cy="487.9" r="0.8"/><circle cx="144.1" cy="495.1" r="0.8"/><circle cx="142.5" cy="504.7" r="0.8"/><circle cx="145.5" cy="485.4" r="0.8"/><circle cx="143.8" cy="498.4" r="0.8"/><circle cx="142.8" cy="484.2" r="0.8"/><circle cx="142.3" cy="502.6" r="0.8"/><circle cx="143.8" cy="484.4" r="0.8"/><circle cx="143.3" cy="487.2" r="0.8"/><circle cx="144.9" cy="504.6" r="0.8"/><circle cx="146.0" cy="485.4" r="0.8"/><circle cx="142.4" cy="502.0" r="0.8"/><circle cx="141.2" cy="486.7" r="0.8"/><circle cx="143.4" cy="505.3" r="0.8"/><circle cx="144.0" cy="503.5" r="0.8"/><circle cx="138.7" cy="496.6" r="0.8"/><circle cx="139.5" cy="491.0" r="0.8"/><circle cx="139.2" cy="494.0" r="0.8"/><circle cx="144.3" cy="504.2" r="0.8"/><circle cx="145.6" cy="485.1" r="0.8"/><circle cx="146.6" cy="495.9" r="0.8"/><circle cx="147.3" cy="494.7" r="0.8"/><circle cx="143.2" cy="504.1" r="0.8"/><circle cx="142.7" cy="490.9" r="0.8"/><circle cx="144.5" cy="499.7" r="0.8"/><circle cx="142.4" cy="489.7" r="0.8"/><circle cx="142.0" cy="499.8" r="0.8"/><circle cx="140.0" cy="487.0" r="0.8"/><circle cx="142.6" cy="498.5" r="0.8"/><circle cx="138.3" cy="489.6" r="0.8"/><circle cx="147.7" cy="489.5" r="0.8"/></g>
<polygon points="134.82,489.56 134.75,491.91 134.56,494.29 133.60,496.35 132.06,497.79 130.60,499.08 129.38,500.78 127.93,502.46 126.05,503.12 124.08,502.73 122.23,502.35 120.19,502.58 117.94,502.56 116.16,501.12 115.48,498.44 115.42,495.74 114.97,493.67 113.98,491.78 113.30,489.56 113.55,487.22 114.33,485.06 114.96,482.86 115.59,480.44 116.79,478.41 118.64,477.41 120.57,477.10 122.31,476.55 124.08,475.75 125.96,475.77 127.56,477.22 128.73,479.19 130.04,480.45 131.97,481.09 134.03,482.24 135.17,484.44 135.16,487.10" fill="#861228" stroke="#861228" stroke-width="1.0" stroke-linejoin="round"/>
<g fill="#8c1529"><circle cx="127.8" cy="488.9" r="0.8"/><circle cx="129.2" cy="490.4" r="0.8"/><circle cx="135.0" cy="492.2" r="0.8"/><circle cx="124.4" cy="497.8" r="0.8"/><circle cx="123.8" cy="485.0" r="0.8"/><circle cx="133.5" cy="495.5" r="0.8"/><circle cx="127.3" cy="499.1" r="0.8"/><circle cx="116.9" cy="502.7" r="0.8"/><circle cx="125.4" cy="499.7" r="0.8"/><circle cx="121.3" cy="484.1" r="0.8"/><circle cx="129.8" cy="489.2" r="0.8"/><circle cx="129.9" cy="490.9" r="0.8"/><circle cx="124.0" cy="480.1" r="0.8"/><circle cx="115.5" cy="496.3" r="0.8"/><circle cx="117.1" cy="490.1" r="0.8"/><circle cx="119.9" cy="480.8" r="0.8"/><circle cx="128.6" cy="485.2" r="0.8"/><circle cx="121.8" cy="493.8" r="0.8"/><circle cx="124.9" cy="504.0" r="0.8"/><circle cx="128.7" cy="495.7" r="0.8"/><circle cx="114.6" cy="494.9" r="0.8"/><circle cx="125.6" cy="502.3" r="0.8"/><circle cx="133.6" cy="494.6" r="0.8"/><circle cx="119.1" cy="482.7" r="0.8"/><circle cx="120.6" cy="503.5" r="0.8"/><circle cx="125.1" cy="494.7" r="0.8"/><circle cx="122.2" cy="488.0" r="0.8"/><circle cx="124.9" cy="488.7" r="0.8"/><circle cx="124.3" cy="501.3" r="0.8"/><circle cx="116.6" cy="486.5" r="0.8"/><circle cx="132.0" cy="487.0" r="0.8"/><circle cx="121.5" cy="485.7" r="0.8"/><circle cx="124.7" cy="480.9" r="0.8"/><circle cx="119.5" cy="498.3" r="0.8"/><circle cx="117.9" cy="486.9" r="0.8"/><circle cx="118.4" cy="490.9" r="0.8"/><circle cx="117.3" cy="496.2" r="0.8"/><circle cx="121.3" cy="497.7" r="0.8"/><circle cx="117.6" cy="487.9" r="0.8"/><circle cx="125.9" cy="498.2" r="0.8"/><circle cx="128.8" cy="486.8" r="0.8"/><circle cx="115.8" cy="479.6" r="0.8"/><circle cx="129.7" cy="492.6" r="0.8"/><circle cx="116.4" cy="501.8" r="0.8"/><circle cx="129.5" cy="486.8" r="0.8"/><circle cx="127.4" cy="495.7" r="0.8"/><circle cx="120.2" cy="495.0" r="0.8"/><circle cx="135.4" cy="484.6" r="0.8"/><circle cx="120.1" cy="490.1" r="0.8"/><circle cx="116.4" cy="478.2" r="0.8"/><circle cx="127.7" cy="494.3" r="0.8"/><circle cx="122.1" cy="486.6" r="0.8"/><circle cx="113.1" cy="491.5" r="0.8"/><circle cx="135.6" cy="492.5" r="0.8"/><circle cx="126.5" cy="480.8" r="0.8"/><circle cx="128.7" cy="491.7" r="0.8"/><circle cx="123.7" cy="490.5" r="0.8"/><circle cx="114.3" cy="481.9" r="0.8"/><circle cx="120.7" cy="491.8" r="0.8"/><circle cx="121.6" cy="489.8" r="0.8"/><circle cx="126.6" cy="483.5" r="0.8"/><circle cx="117.4" cy="477.3" r="0.8"/><circle cx="120.3" cy="493.6" r="0.8"/><circle cx="125.7" cy="477.8" r="0.8"/><circle cx="113.6" cy="492.1" r="0.8"/><circle cx="129.1" cy="490.4" r="0.8"/><circle cx="123.7" cy="503.6" r="0.8"/><circle cx="123.3" cy="478.4" r="0.8"/><circle cx="126.6" cy="478.5" r="0.8"/><circle cx="130.0" cy="494.2" r="0.8"/><circle cx="117.7" cy="496.8" r="0.8"/><circle cx="127.2" cy="480.2" r="0.8"/><circle cx="134.1" cy="496.6" r="0.8"/><circle cx="122.7" cy="485.4" r="0.8"/><circle cx="133.3" cy="495.6" r="0.8"/><circle cx="129.6" cy="486.0" r="0.8"/><circle cx="127.1" cy="491.6" r="0.8"/><circle cx="125.3" cy="488.1" r="0.8"/><circle cx="121.3" cy="497.0" r="0.8"/><circle cx="125.4" cy="483.8" r="0.8"/><circle cx="123.5" cy="503.6" r="0.8"/><circle cx="114.4" cy="483.1" r="0.8"/><circle cx="124.5" cy="498.5" r="0.8"/><circle cx="122.5" cy="481.8" r="0.8"/><circle cx="135.5" cy="485.3" r="0.8"/><circle cx="121.6" cy="478.7" r="0.8"/><circle cx="123.6" cy="497.7" r="0.8"/><circle cx="119.8" cy="495.9" r="0.8"/><circle cx="135.0" cy="490.2" r="0.8"/><circle cx="124.4" cy="476.8" r="0.8"/><circle cx="122.4" cy="479.1" r="0.8"/><circle cx="124.7" cy="495.4" r="0.8"/><circle cx="118.2" cy="499.2" r="0.8"/><circle cx="127.4" cy="477.1" r="0.8"/><circle cx="121.5" cy="481.0" r="0.8"/><circle cx="125.9" cy="499.2" r="0.8"/><circle cx="132.3" cy="480.8" r="0.8"/><circle cx="127.8" cy="484.7" r="0.8"/><circle cx="123.3" cy="490.8" r="0.8"/><circle cx="118.3" cy="503.3" r="0.8"/><circle cx="123.2" cy="483.5" r="0.8"/><circle cx="131.5" cy="489.3" r="0.8"/><circle cx="124.9" cy="476.6" r="0.8"/><circle cx="118.5" cy="478.6" r="0.8"/><circle cx="114.7" cy="494.0" r="0.8"/><circle cx="118.6" cy="500.1" r="0.8"/><circle cx="126.4" cy="502.4" r="0.8"/><circle cx="124.3" cy="494.8" r="0.8"/><circle cx="116.0" cy="497.3" r="0.8"/><circle cx="121.2" cy="498.3" r="0.8"/><circle cx="126.7" cy="475.4" r="0.8"/><circle cx="117.9" cy="499.5" r="0.8"/><circle cx="125.5" cy="498.0" r="0.8"/><circle cx="118.8" cy="488.7" r="0.8"/><circle cx="123.4" cy="499.4" r="0.8"/><circle cx="116.6" cy="493.1" r="0.8"/><circle cx="116.6" cy="478.0" r="0.8"/><circle cx="131.4" cy="480.5" r="0.8"/><circle cx="123.9" cy="496.3" r="0.8"/><circle cx="118.0" cy="497.9" r="0.8"/><circle cx="116.3" cy="501.4" r="0.8"/><circle cx="129.9" cy="488.2" r="0.8"/><circle cx="126.4" cy="498.8" r="0.8"/><circle cx="129.4" cy="485.6" r="0.8"/><circle cx="124.0" cy="489.9" r="0.8"/><circle cx="115.3" cy="480.2" r="0.8"/><circle cx="130.2" cy="497.0" r="0.8"/><circle cx="124.4" cy="492.4" r="0.8"/><circle cx="115.0" cy="488.3" r="0.8"/><circle cx="125.5" cy="496.7" r="0.8"/><circle cx="118.4" cy="490.6" r="0.8"/><circle cx="133.0" cy="492.7" r="0.8"/><circle cx="130.0" cy="483.3" r="0.8"/><circle cx="131.5" cy="492.0" r="0.8"/><circle cx="133.2" cy="482.3" r="0.8"/><circle cx="127.7" cy="485.1" r="0.8"/><circle cx="121.6" cy="482.3" r="0.8"/><circle cx="124.3" cy="503.3" r="0.8"/><circle cx="123.4" cy="480.5" r="0.8"/><circle cx="127.4" cy="485.5" r="0.8"/><circle cx="122.7" cy="491.1" r="0.8"/><circle cx="117.3" cy="480.7" r="0.8"/><circle cx="116.3" cy="489.7" r="0.8"/><circle cx="123.2" cy="496.7" r="0.8"/><circle cx="134.7" cy="495.5" r="0.8"/><circle cx="117.9" cy="502.1" r="0.8"/><circle cx="129.2" cy="496.3" r="0.8"/><circle cx="115.7" cy="488.6" r="0.8"/><circle cx="128.1" cy="497.1" r="0.8"/><circle cx="124.5" cy="493.1" r="0.8"/><circle cx="123.8" cy="499.6" r="0.8"/><circle cx="125.1" cy="480.8" r="0.8"/><circle cx="124.6" cy="478.3" r="0.8"/><circle cx="115.1" cy="489.9" r="0.8"/><circle cx="126.7" cy="492.7" r="0.8"/><circle cx="122.8" cy="489.9" r="0.8"/><circle cx="124.6" cy="500.7" r="0.8"/><circle cx="116.6" cy="482.2" r="0.8"/><circle cx="119.6" cy="489.2" r="0.8"/><circle cx="131.3" cy="484.5" r="0.8"/><circle cx="133.6" cy="486.2" r="0.8"/><circle cx="119.4" cy="488.1" r="0.8"/><circle cx="114.0" cy="484.4" r="0.8"/><circle cx="119.1" cy="476.9" r="0.8"/><circle cx="123.3" cy="475.1" r="0.8"/><circle cx="128.8" cy="486.1" r="0.8"/><circle cx="116.2" cy="496.9" r="0.8"/><circle cx="116.8" cy="497.3" r="0.8"/><circle cx="128.8" cy="491.5" r="0.8"/><circle cx="120.4" cy="501.6" r="0.8"/><circle cx="125.5" cy="501.3" r="0.8"/><circle cx="124.3" cy="499.9" r="0.8"/><circle cx="114.7" cy="480.9" r="0.8"/><circle cx="123.0" cy="480.0" r="0.8"/><circle cx="132.3" cy="498.2" r="0.8"/><circle cx="119.8" cy="490.3" r="0.8"/><circle cx="128.7" cy="490.2" r="0.8"/><circle cx="132.4" cy="489.2" r="0.8"/><circle cx="121.4" cy="483.1" r="0.8"/><circle cx="120.8" cy="478.6" r="0.8"/><circle cx="118.2" cy="499.3" r="0.8"/><circle cx="124.6" cy="499.2" r="0.8"/><circle cx="132.8" cy="485.1" r="0.8"/><circle cx="127.5" cy="495.6" r="0.8"/><circle cx="126.3" cy="485.8" r="0.8"/><circle cx="132.0" cy="492.3" r="0.8"/><circle cx="127.1" cy="477.4" r="0.8"/><circle cx="131.1" cy="496.1" r="0.8"/><circle cx="116.5" cy="489.0" r="0.8"/><circle cx="132.4" cy="495.1" r="0.8"/><circle cx="128.0" cy="490.9" r="0.8"/><circle cx="119.2" cy="478.1" r="0.8"/><circle cx="121.6" cy="497.7" r="0.8"/><circle cx="124.9" cy="490.6" r="0.8"/><circle cx="129.6" cy="485.8" r="0.8"/><circle cx="130.5" cy="493.7" r="0.8"/><circle cx="116.5" cy="487.1" r="0.8"/><circle cx="124.9" cy="484.8" r="0.8"/><circle cx="121.0" cy="489.8" r="0.8"/><circle cx="131.4" cy="484.9" r="0.8"/><circle cx="119.5" cy="498.9" r="0.8"/><circle cx="128.7" cy="500.4" r="0.8"/><circle cx="124.8" cy="493.7" r="0.8"/><circle cx="116.4" cy="502.1" r="0.8"/><circle cx="122.2" cy="486.3" r="0.8"/><circle cx="122.5" cy="479.5" r="0.8"/><circle cx="126.1" cy="482.2" r="0.8"/><circle cx="128.3" cy="483.2" r="0.8"/><circle cx="121.6" cy="491.2" r="0.8"/><circle cx="126.1" cy="477.7" r="0.8"/><circle cx="133.1" cy="489.0" r="0.8"/><circle cx="127.9" cy="497.2" r="0.8"/><circle cx="125.6" cy="475.1" r="0.8"/><circle cx="127.4" cy="478.9" r="0.8"/><circle cx="115.3" cy="494.9" r="0.8"/><circle cx="130.8" cy="492.8" r="0.8"/><circle cx="123.7" cy="486.5" r="0.8"/><circle cx="124.8" cy="483.1" r="0.8"/><circle cx="133.2" cy="489.2" r="0.8"/><circle cx="124.1" cy="503.1" r="0.8"/><circle cx="131.9" cy="490.3" r="0.8"/><circle cx="133.1" cy="483.1" r="0.8"/><circle cx="116.0" cy="482.1" r="0.8"/><circle cx="116.1" cy="498.8" r="0.8"/><circle cx="126.4" cy="475.0" r="0.8"/><circle cx="116.5" cy="477.4" r="0.8"/><circle cx="128.1" cy="493.3" r="0.8"/><circle cx="124.7" cy="500.3" r="0.8"/><circle cx="125.0" cy="482.3" r="0.8"/><circle cx="122.0" cy="502.9" r="0.8"/><circle cx="126.6" cy="493.3" r="0.8"/><circle cx="127.4" cy="499.2" r="0.8"/><circle cx="127.1" cy="478.6" r="0.8"/><circle cx="125.9" cy="480.3" r="0.8"/><circle cx="127.8" cy="499.3" r="0.8"/><circle cx="133.9" cy="487.1" r="0.8"/><circle cx="122.6" cy="486.9" r="0.8"/><circle cx="119.7" cy="500.5" r="0.8"/><circle cx="132.7" cy="482.9" r="0.8"/><circle cx="118.5" cy="499.8" r="0.8"/><circle cx="117.1" cy="484.8" r="0.8"/><circle cx="125.0" cy="490.6" r="0.8"/><circle cx="128.1" cy="498.1" r="0.8"/><circle cx="130.1" cy="485.5" r="0.8"/><circle cx="125.8" cy="490.5" r="0.8"/><circle cx="115.6" cy="490.6" r="0.8"/><circle cx="124.3" cy="491.1" r="0.8"/><circle cx="134.7" cy="495.1" r="0.8"/><circle cx="134.1" cy="482.5" r="0.8"/><circle cx="120.7" cy="490.5" r="0.8"/><circle cx="125.3" cy="492.2" r="0.8"/><circle cx="130.8" cy="483.4" r="0.8"/><circle cx="127.4" cy="498.8" r="0.8"/><circle cx="120.4" cy="496.7" r="0.8"/><circle cx="124.9" cy="488.9" r="0.8"/><circle cx="117.4" cy="485.3" r="0.8"/><circle cx="131.2" cy="486.1" r="0.8"/><circle cx="116.2" cy="483.2" r="0.8"/><circle cx="123.6" cy="480.5" r="0.8"/><circle cx="126.1" cy="497.0" r="0.8"/></g>
<g fill="#7a1a30"><circle cx="111.1" cy="487.8" r="0.6"/><circle cx="115.5" cy="479.4" r="0.6"/><circle cx="117.0" cy="476.6" r="0.6"/><circle cx="124.8" cy="473.3" r="0.6"/><circle cx="116.2" cy="502.5" r="0.6"/><circle cx="125.7" cy="505.3" r="0.6"/><circle cx="137.3" cy="490.1" r="0.6"/><circle cx="112.1" cy="494.7" r="0.6"/><circle cx="111.5" cy="489.8" r="0.6"/><circle cx="125.7" cy="505.4" r="0.6"/><circle cx="115.8" cy="479.2" r="0.6"/><circle cx="122.4" cy="505.7" r="0.6"/><circle cx="121.5" cy="504.4" r="0.6"/><circle cx="113.0" cy="482.3" r="0.6"/><circle cx="136.7" cy="484.3" r="0.6"/><circle cx="132.6" cy="500.5" r="0.6"/><circle cx="130.1" cy="503.2" r="0.6"/><circle cx="121.3" cy="505.1" r="0.6"/></g>
<g fill="#f2d5dc"><circle cx="131.0" cy="491.1" r="0.45"/><circle cx="115.5" cy="495.3" r="0.6"/><circle cx="117.5" cy="495.2" r="0.6"/><circle cx="123.4" cy="498.3" r="0.75"/><circle cx="132.6" cy="495.1" r="0.75"/><circle cx="131.9" cy="495.7" r="0.45"/><circle cx="130.9" cy="500.4" r="0.45"/><circle cx="131.5" cy="492.0" r="0.75"/><circle cx="115.9" cy="500.1" r="0.75"/><circle cx="126.2" cy="490.6" r="0.75"/><circle cx="120.5" cy="501.4" r="0.6"/><circle cx="115.2" cy="498.6" r="0.75"/></g>
<circle cx="125.7" cy="473.3" r="1.4" fill="#4a1020"/>
<circle cx="120.8" cy="467.2" r="0.9" fill="#555"/>
<rect x="153.75" y="455.40" width="53.25" height="56.00" fill="#fff" stroke="#c0c0c0" stroke-width="0.95"/>
<polygon points="162.27,464.92 168.45,464.36 176.97,475.84 179.58,478.92 186.76,478.92 192.09,484.52 200.61,486.20 204.34,490.12 202.74,500.20 199.55,505.80 195.28,503.00 191.03,500.20 186.76,503.56 176.49,504.68 167.38,501.88 163.87,508.82 156.84,507.48 156.84,486.20 157.74,473.88 163.60,472.76 161.74,467.72" fill="#d9d9d9" stroke="#d9d9d9" stroke-width="1.2" stroke-linejoin="round"/>
<line x1="166.26375" y1="457.08" x2="166.26375" y2="464.35999999999996" stroke="#c8c8c8" stroke-width="1.2"/>
<circle cx="166.3" cy="460.4" r="0.8" fill="#888"/>
<g fill="#55584a"><circle cx="171.7" cy="471.7" r="0.55"/><circle cx="166.3" cy="479.9" r="0.55"/><circle cx="168.1" cy="473.1" r="0.55"/><circle cx="165.9" cy="478.3" r="0.55"/><circle cx="168.0" cy="479.7" r="0.55"/><circle cx="178.2" cy="478.9" r="0.55"/><circle cx="173.3" cy="480.2" r="0.55"/><circle cx="170.0" cy="472.1" r="0.55"/><circle cx="166.8" cy="464.9" r="0.55"/><circle cx="166.8" cy="479.4" r="0.55"/><circle cx="172.7" cy="477.4" r="0.55"/><circle cx="169.2" cy="466.6" r="0.55"/><circle cx="175.6" cy="479.0" r="0.55"/><circle cx="169.0" cy="475.3" r="0.55"/><circle cx="175.1" cy="474.1" r="0.55"/><circle cx="169.0" cy="473.9" r="0.55"/><circle cx="173.9" cy="478.5" r="0.55"/><circle cx="166.4" cy="479.3" r="0.55"/><circle cx="167.1" cy="477.4" r="0.55"/><circle cx="167.2" cy="481.5" r="0.55"/><circle cx="177.7" cy="479.3" r="0.55"/><circle cx="167.2" cy="471.4" r="0.55"/><circle cx="168.2" cy="476.1" r="0.55"/><circle cx="173.5" cy="478.8" r="0.55"/><circle cx="168.0" cy="467.1" r="0.55"/><circle cx="169.4" cy="474.4" r="0.55"/><circle cx="166.9" cy="474.0" r="0.55"/><circle cx="171.3" cy="475.3" r="0.55"/><circle cx="172.8" cy="471.8" r="0.55"/><circle cx="174.7" cy="474.0" r="0.55"/><circle cx="165.4" cy="465.0" r="0.55"/><circle cx="172.2" cy="480.3" r="0.55"/><circle cx="173.7" cy="480.3" r="0.55"/><circle cx="166.9" cy="472.7" r="0.55"/><circle cx="167.0" cy="471.2" r="0.55"/><circle cx="167.8" cy="480.6" r="0.55"/><circle cx="174.9" cy="475.3" r="0.55"/><circle cx="172.1" cy="470.5" r="0.55"/><circle cx="174.4" cy="481.1" r="0.55"/><circle cx="167.3" cy="474.1" r="0.55"/><circle cx="164.2" cy="469.6" r="0.55"/><circle cx="176.0" cy="476.8" r="0.55"/><circle cx="168.5" cy="476.8" r="0.55"/><circle cx="163.6" cy="465.0" r="0.55"/><circle cx="166.8" cy="475.6" r="0.55"/></g>
<g fill="#45404a"><circle cx="170.9" cy="491.5" r="0.5"/><circle cx="168.3" cy="498.8" r="0.5"/><circle cx="167.8" cy="503.7" r="0.5"/><circle cx="168.9" cy="492.5" r="0.5"/><circle cx="169.0" cy="492.6" r="0.5"/><circle cx="168.2" cy="502.0" r="0.5"/><circle cx="161.2" cy="502.3" r="0.5"/><circle cx="163.4" cy="495.2" r="0.5"/><circle cx="174.1" cy="487.3" r="0.5"/><circle cx="169.3" cy="491.3" r="0.5"/><circle cx="169.8" cy="486.8" r="0.5"/><circle cx="170.6" cy="486.4" r="0.5"/><circle cx="170.1" cy="487.0" r="0.5"/><circle cx="168.4" cy="494.8" r="0.5"/><circle cx="169.6" cy="494.5" r="0.5"/><circle cx="165.4" cy="502.1" r="0.5"/><circle cx="164.6" cy="493.1" r="0.5"/><circle cx="164.7" cy="501.1" r="0.5"/><circle cx="163.6" cy="496.4" r="0.5"/><circle cx="171.4" cy="486.0" r="0.5"/><circle cx="169.4" cy="498.6" r="0.5"/><circle cx="171.7" cy="492.2" r="0.5"/></g>
<g fill="#4a2c6c"><circle cx="198.3" cy="489.8" r="0.8"/><circle cx="198.3" cy="505.3" r="0.8"/><circle cx="194.2" cy="493.8" r="0.8"/><circle cx="196.5" cy="495.7" r="0.8"/><circle cx="198.9" cy="502.2" r="0.8"/><circle cx="201.2" cy="501.1" r="0.8"/><circle cx="196.1" cy="490.8" r="0.8"/><circle cx="199.8" cy="486.7" r="0.8"/><circle cx="198.7" cy="493.1" r="0.8"/><circle cx="194.0" cy="497.1" r="0.8"/><circle cx="201.8" cy="488.1" r="0.8"/><circle cx="198.4" cy="502.0" r="0.8"/><circle cx="197.8" cy="506.0" r="0.8"/><circle cx="202.9" cy="492.3" r="0.8"/><circle cx="199.2" cy="497.8" r="0.8"/><circle cx="198.2" cy="502.6" r="0.8"/><circle cx="201.0" cy="502.6" r="0.8"/><circle cx="196.0" cy="496.1" r="0.8"/><circle cx="199.2" cy="497.7" r="0.8"/><circle cx="198.2" cy="488.9" r="0.8"/><circle cx="202.7" cy="497.2" r="0.8"/><circle cx="201.4" cy="501.0" r="0.8"/><circle cx="200.1" cy="504.6" r="0.8"/><circle cx="193.8" cy="492.5" r="0.8"/><circle cx="195.0" cy="498.8" r="0.8"/><circle cx="194.7" cy="489.3" r="0.8"/><circle cx="199.2" cy="495.1" r="0.8"/><circle cx="199.1" cy="490.9" r="0.8"/><circle cx="194.8" cy="493.9" r="0.8"/><circle cx="195.0" cy="495.2" r="0.8"/><circle cx="202.9" cy="492.3" r="0.8"/><circle cx="201.6" cy="495.6" r="0.8"/><circle cx="203.1" cy="488.7" r="0.8"/><circle cx="198.0" cy="496.2" r="0.8"/><circle cx="202.6" cy="493.5" r="0.8"/><circle cx="195.4" cy="488.6" r="0.8"/><circle cx="203.5" cy="492.0" r="0.8"/><circle cx="200.9" cy="494.6" r="0.8"/><circle cx="194.3" cy="493.2" r="0.8"/><circle cx="197.9" cy="505.8" r="0.8"/><circle cx="196.2" cy="486.6" r="0.8"/><circle cx="202.0" cy="498.0" r="0.8"/><circle cx="196.3" cy="502.9" r="0.8"/><circle cx="198.0" cy="506.0" r="0.8"/><circle cx="199.4" cy="505.2" r="0.8"/><circle cx="203.6" cy="493.4" r="0.8"/><circle cx="200.9" cy="500.7" r="0.8"/><circle cx="200.8" cy="501.4" r="0.8"/><circle cx="195.3" cy="487.6" r="0.8"/><circle cx="193.9" cy="496.9" r="0.8"/><circle cx="197.8" cy="506.3" r="0.8"/><circle cx="201.4" cy="494.5" r="0.8"/><circle cx="195.2" cy="494.5" r="0.8"/><circle cx="199.9" cy="503.5" r="0.8"/><circle cx="203.1" cy="492.4" r="0.8"/><circle cx="200.8" cy="499.1" r="0.8"/><circle cx="200.1" cy="502.7" r="0.8"/><circle cx="200.6" cy="487.6" r="0.8"/><circle cx="195.0" cy="498.9" r="0.8"/><circle cx="196.3" cy="495.7" r="0.8"/><circle cx="198.8" cy="505.1" r="0.8"/><circle cx="201.2" cy="497.4" r="0.8"/><circle cx="201.5" cy="496.9" r="0.8"/><circle cx="193.6" cy="490.2" r="0.8"/><circle cx="200.4" cy="488.1" r="0.8"/><circle cx="200.3" cy="492.8" r="0.8"/><circle cx="197.5" cy="502.7" r="0.8"/><circle cx="198.1" cy="496.7" r="0.8"/><circle cx="199.9" cy="487.3" r="0.8"/><circle cx="200.8" cy="489.1" r="0.8"/><circle cx="202.1" cy="495.4" r="0.8"/><circle cx="200.9" cy="487.4" r="0.8"/></g>
<g fill="#e6def0"><circle cx="197.3" cy="500.2" r="0.5"/><circle cx="197.2" cy="489.1" r="0.5"/><circle cx="198.3" cy="488.6" r="0.5"/><circle cx="198.5" cy="487.7" r="0.5"/><circle cx="201.3" cy="490.1" r="0.5"/><circle cx="200.2" cy="499.0" r="0.5"/><circle cx="195.4" cy="498.6" r="0.5"/><circle cx="199.3" cy="498.4" r="0.5"/><circle cx="195.2" cy="495.5" r="0.5"/><circle cx="202.5" cy="498.4" r="0.5"/><circle cx="195.9" cy="492.6" r="0.5"/><circle cx="198.5" cy="496.3" r="0.5"/><circle cx="198.2" cy="491.7" r="0.5"/><circle cx="198.2" cy="486.7" r="0.5"/><circle cx="201.6" cy="489.7" r="0.5"/><circle cx="196.7" cy="487.2" r="0.5"/><circle cx="196.7" cy="496.4" r="0.5"/><circle cx="201.6" cy="496.1" r="0.5"/><circle cx="199.5" cy="486.5" r="0.5"/><circle cx="199.4" cy="498.0" r="0.5"/><circle cx="194.5" cy="492.6" r="0.5"/><circle cx="197.3" cy="500.9" r="0.5"/><circle cx="195.2" cy="495.2" r="0.5"/><circle cx="203.4" cy="489.3" r="0.5"/><circle cx="197.1" cy="498.4" r="0.5"/></g>
<polygon points="194.87,491.24 195.16,493.36 195.04,495.55 194.11,497.51 192.68,499.11 191.20,500.62 189.59,502.06 187.55,502.81 185.30,502.46 183.30,501.64 181.48,501.49 179.29,502.16 176.74,502.53 174.62,501.55 173.50,499.46 172.97,497.23 172.29,495.29 171.52,493.35 171.34,491.24 171.99,489.19 172.92,487.35 173.73,485.51 174.65,483.69 176.08,482.25 177.81,481.28 179.50,480.27 181.22,478.84 183.30,477.65 185.55,477.87 187.33,479.62 188.53,481.75 189.79,483.17 191.55,484.05 193.34,485.24 194.39,487.08 194.69,489.18" fill="#861228" stroke="#861228" stroke-width="1.0" stroke-linejoin="round"/>
<g fill="#8c1529"><circle cx="177.1" cy="500.2" r="0.8"/><circle cx="190.6" cy="488.3" r="0.8"/><circle cx="190.1" cy="493.5" r="0.8"/><circle cx="174.6" cy="497.9" r="0.8"/><circle cx="192.9" cy="486.7" r="0.8"/><circle cx="181.9" cy="494.3" r="0.8"/><circle cx="193.7" cy="488.3" r="0.8"/><circle cx="184.0" cy="478.8" r="0.8"/><circle cx="187.4" cy="487.6" r="0.8"/><circle cx="193.4" cy="492.8" r="0.8"/><circle cx="170.9" cy="494.6" r="0.8"/><circle cx="179.2" cy="497.3" r="0.8"/><circle cx="192.2" cy="483.5" r="0.8"/><circle cx="177.5" cy="492.1" r="0.8"/><circle cx="186.5" cy="488.0" r="0.8"/><circle cx="179.3" cy="488.0" r="0.8"/><circle cx="190.6" cy="489.2" r="0.8"/><circle cx="194.0" cy="487.9" r="0.8"/><circle cx="180.9" cy="494.7" r="0.8"/><circle cx="180.0" cy="488.3" r="0.8"/><circle cx="190.4" cy="483.7" r="0.8"/><circle cx="178.4" cy="491.4" r="0.8"/><circle cx="174.4" cy="488.8" r="0.8"/><circle cx="191.7" cy="491.4" r="0.8"/><circle cx="185.7" cy="481.9" r="0.8"/><circle cx="179.5" cy="493.3" r="0.8"/><circle cx="178.7" cy="480.2" r="0.8"/><circle cx="185.1" cy="492.8" r="0.8"/><circle cx="180.2" cy="495.6" r="0.8"/><circle cx="191.9" cy="487.4" r="0.8"/><circle cx="177.3" cy="497.9" r="0.8"/><circle cx="182.2" cy="501.3" r="0.8"/><circle cx="177.5" cy="498.0" r="0.8"/><circle cx="175.5" cy="499.1" r="0.8"/><circle cx="190.7" cy="490.9" r="0.8"/><circle cx="174.0" cy="499.9" r="0.8"/><circle cx="193.7" cy="492.4" r="0.8"/><circle cx="179.9" cy="492.4" r="0.8"/><circle cx="171.4" cy="494.0" r="0.8"/><circle cx="175.5" cy="487.1" r="0.8"/><circle cx="182.1" cy="483.9" r="0.8"/><circle cx="172.2" cy="497.1" r="0.8"/><circle cx="173.9" cy="483.6" r="0.8"/><circle cx="178.7" cy="490.9" r="0.8"/><circle cx="185.8" cy="495.6" r="0.8"/><circle cx="175.1" cy="486.2" r="0.8"/><circle cx="192.7" cy="490.5" r="0.8"/><circle cx="194.0" cy="488.9" r="0.8"/><circle cx="179.6" cy="496.1" r="0.8"/><circle cx="175.2" cy="492.3" r="0.8"/><circle cx="178.1" cy="493.1" r="0.8"/><circle cx="179.6" cy="485.8" r="0.8"/><circle cx="182.2" cy="486.5" r="0.8"/><circle cx="184.7" cy="483.2" r="0.8"/><circle cx="177.9" cy="493.0" r="0.8"/><circle cx="194.3" cy="493.6" r="0.8"/><circle cx="187.3" cy="478.7" r="0.8"/><circle cx="194.6" cy="496.1" r="0.8"/><circle cx="188.3" cy="484.4" r="0.8"/><circle cx="192.2" cy="492.2" r="0.8"/><circle cx="192.5" cy="497.5" r="0.8"/><circle cx="194.8" cy="498.1" r="0.8"/><circle cx="181.1" cy="491.3" r="0.8"/><circle cx="194.5" cy="494.5" r="0.8"/><circle cx="182.1" cy="501.9" r="0.8"/><circle cx="174.8" cy="495.0" r="0.8"/><circle cx="178.4" cy="495.0" r="0.8"/><circle cx="194.7" cy="490.1" r="0.8"/><circle cx="177.3" cy="490.3" r="0.8"/><circle cx="185.8" cy="481.5" r="0.8"/><circle cx="188.2" cy="496.1" r="0.8"/><circle cx="176.2" cy="481.2" r="0.8"/><circle cx="175.7" cy="499.8" r="0.8"/><circle cx="195.2" cy="495.9" r="0.8"/><circle cx="186.8" cy="488.6" r="0.8"/><circle cx="194.2" cy="492.4" r="0.8"/><circle cx="178.3" cy="491.1" r="0.8"/><circle cx="182.3" cy="480.3" r="0.8"/><circle cx="189.2" cy="502.9" r="0.8"/><circle cx="180.1" cy="500.5" r="0.8"/><circle cx="170.8" cy="491.4" r="0.8"/><circle cx="189.5" cy="492.4" r="0.8"/><circle cx="186.7" cy="492.1" r="0.8"/><circle cx="190.8" cy="487.0" r="0.8"/><circle cx="190.1" cy="498.2" r="0.8"/><circle cx="181.2" cy="490.1" r="0.8"/><circle cx="174.5" cy="489.1" r="0.8"/><circle cx="173.1" cy="499.1" r="0.8"/><circle cx="191.4" cy="497.7" r="0.8"/><circle cx="190.6" cy="492.9" r="0.8"/><circle cx="188.6" cy="502.7" r="0.8"/><circle cx="183.6" cy="483.9" r="0.8"/><circle cx="188.9" cy="495.9" r="0.8"/><circle cx="183.7" cy="489.7" r="0.8"/><circle cx="171.6" cy="491.0" r="0.8"/><circle cx="183.0" cy="487.3" r="0.8"/><circle cx="176.0" cy="502.8" r="0.8"/><circle cx="174.3" cy="499.1" r="0.8"/><circle cx="175.6" cy="488.1" r="0.8"/><circle cx="182.3" cy="482.4" r="0.8"/><circle cx="191.5" cy="492.9" r="0.8"/><circle cx="189.5" cy="482.9" r="0.8"/><circle cx="179.7" cy="500.0" r="0.8"/><circle cx="181.0" cy="481.8" r="0.8"/><circle cx="193.9" cy="488.4" r="0.8"/><circle cx="176.4" cy="489.4" r="0.8"/><circle cx="184.6" cy="496.4" r="0.8"/><circle cx="177.7" cy="495.7" r="0.8"/><circle cx="185.2" cy="499.2" r="0.8"/><circle cx="185.8" cy="498.1" r="0.8"/><circle cx="178.7" cy="485.1" r="0.8"/><circle cx="184.1" cy="490.5" r="0.8"/><circle cx="195.5" cy="488.0" r="0.8"/><circle cx="178.0" cy="488.9" r="0.8"/><circle cx="192.4" cy="489.9" r="0.8"/><circle cx="191.7" cy="491.7" r="0.8"/><circle cx="191.5" cy="491.0" r="0.8"/><circle cx="186.0" cy="488.5" r="0.8"/><circle cx="185.6" cy="493.3" r="0.8"/><circle cx="190.6" cy="483.6" r="0.8"/><circle cx="186.5" cy="500.9" r="0.8"/><circle cx="184.1" cy="482.3" r="0.8"/><circle cx="176.8" cy="493.1" r="0.8"/><circle cx="187.9" cy="487.9" r="0.8"/><circle cx="192.2" cy="499.2" r="0.8"/><circle cx="178.8" cy="494.4" r="0.8"/><circle cx="171.3" cy="495.1" r="0.8"/><circle cx="188.3" cy="482.0" r="0.8"/><circle cx="173.6" cy="499.4" r="0.8"/><circle cx="187.2" cy="487.0" r="0.8"/><circle cx="189.8" cy="500.3" r="0.8"/><circle cx="183.0" cy="478.8" r="0.8"/><circle cx="174.4" cy="499.4" r="0.8"/><circle cx="180.2" cy="498.6" r="0.8"/><circle cx="175.1" cy="490.5" r="0.8"/><circle cx="178.9" cy="492.7" r="0.8"/><circle cx="184.9" cy="486.7" r="0.8"/><circle cx="187.0" cy="488.3" r="0.8"/><circle cx="192.2" cy="489.0" r="0.8"/><circle cx="181.7" cy="480.9" r="0.8"/><circle cx="178.9" cy="493.4" r="0.8"/><circle cx="178.8" cy="483.1" r="0.8"/><circle cx="181.0" cy="479.1" r="0.8"/><circle cx="185.3" cy="500.9" r="0.8"/><circle cx="190.2" cy="502.8" r="0.8"/><circle cx="180.7" cy="489.0" r="0.8"/><circle cx="176.9" cy="482.3" r="0.8"/><circle cx="185.0" cy="481.2" r="0.8"/><circle cx="175.1" cy="495.9" r="0.8"/><circle cx="170.8" cy="493.7" r="0.8"/><circle cx="190.4" cy="493.3" r="0.8"/><circle cx="175.5" cy="482.4" r="0.8"/><circle cx="178.3" cy="494.2" r="0.8"/><circle cx="173.8" cy="490.0" r="0.8"/><circle cx="186.0" cy="484.4" r="0.8"/><circle cx="186.9" cy="492.7" r="0.8"/><circle cx="180.4" cy="478.9" r="0.8"/><circle cx="184.9" cy="494.5" r="0.8"/><circle cx="187.0" cy="500.7" r="0.8"/><circle cx="194.4" cy="493.0" r="0.8"/><circle cx="181.1" cy="479.4" r="0.8"/><circle cx="182.6" cy="498.7" r="0.8"/><circle cx="180.8" cy="492.7" r="0.8"/><circle cx="185.5" cy="478.5" r="0.8"/><circle cx="184.0" cy="500.8" r="0.8"/><circle cx="186.5" cy="497.4" r="0.8"/><circle cx="184.6" cy="486.1" r="0.8"/><circle cx="179.8" cy="487.6" r="0.8"/><circle cx="189.8" cy="493.6" r="0.8"/><circle cx="175.0" cy="484.3" r="0.8"/><circle cx="172.9" cy="498.3" r="0.8"/><circle cx="189.9" cy="486.5" r="0.8"/><circle cx="177.8" cy="493.0" r="0.8"/><circle cx="173.9" cy="488.7" r="0.8"/><circle cx="173.6" cy="487.4" r="0.8"/><circle cx="192.5" cy="493.8" r="0.8"/><circle cx="181.5" cy="479.6" r="0.8"/><circle cx="193.6" cy="493.7" r="0.8"/><circle cx="181.3" cy="486.6" r="0.8"/><circle cx="189.4" cy="483.8" r="0.8"/><circle cx="185.7" cy="484.8" r="0.8"/><circle cx="187.3" cy="492.6" r="0.8"/><circle cx="178.8" cy="492.8" r="0.8"/><circle cx="180.4" cy="501.3" r="0.8"/><circle cx="181.6" cy="492.8" r="0.8"/><circle cx="183.9" cy="494.7" r="0.8"/><circle cx="177.8" cy="496.5" r="0.8"/><circle cx="191.1" cy="497.5" r="0.8"/><circle cx="189.2" cy="487.2" r="0.8"/><circle cx="190.6" cy="486.1" r="0.8"/><circle cx="185.1" cy="479.7" r="0.8"/><circle cx="175.9" cy="484.2" r="0.8"/><circle cx="179.0" cy="488.3" r="0.8"/><circle cx="185.0" cy="487.8" r="0.8"/><circle cx="184.9" cy="502.2" r="0.8"/><circle cx="184.1" cy="491.7" r="0.8"/><circle cx="178.3" cy="480.2" r="0.8"/><circle cx="180.4" cy="493.8" r="0.8"/><circle cx="181.7" cy="495.6" r="0.8"/><circle cx="180.9" cy="501.5" r="0.8"/><circle cx="185.0" cy="483.0" r="0.8"/><circle cx="191.7" cy="486.7" r="0.8"/><circle cx="181.0" cy="497.5" r="0.8"/><circle cx="175.5" cy="495.4" r="0.8"/><circle cx="186.3" cy="487.7" r="0.8"/><circle cx="173.7" cy="495.3" r="0.8"/><circle cx="176.1" cy="488.2" r="0.8"/><circle cx="187.0" cy="499.5" r="0.8"/><circle cx="189.4" cy="488.9" r="0.8"/><circle cx="177.8" cy="495.7" r="0.8"/><circle cx="184.3" cy="494.2" r="0.8"/><circle cx="188.9" cy="490.6" r="0.8"/><circle cx="183.0" cy="497.0" r="0.8"/><circle cx="176.7" cy="491.0" r="0.8"/><circle cx="185.1" cy="484.4" r="0.8"/><circle cx="172.4" cy="488.3" r="0.8"/><circle cx="180.8" cy="488.9" r="0.8"/><circle cx="175.0" cy="490.6" r="0.8"/><circle cx="185.8" cy="477.3" r="0.8"/><circle cx="188.7" cy="498.6" r="0.8"/><circle cx="189.2" cy="488.2" r="0.8"/><circle cx="186.3" cy="494.9" r="0.8"/><circle cx="190.3" cy="489.3" r="0.8"/><circle cx="188.3" cy="500.5" r="0.8"/><circle cx="175.7" cy="498.5" r="0.8"/><circle cx="192.5" cy="487.8" r="0.8"/><circle cx="179.7" cy="490.6" r="0.8"/><circle cx="184.4" cy="483.0" r="0.8"/><circle cx="176.9" cy="494.1" r="0.8"/><circle cx="180.5" cy="481.4" r="0.8"/><circle cx="189.0" cy="484.2" r="0.8"/><circle cx="179.3" cy="491.5" r="0.8"/><circle cx="177.2" cy="486.0" r="0.8"/><circle cx="182.9" cy="496.8" r="0.8"/><circle cx="176.0" cy="486.3" r="0.8"/><circle cx="183.4" cy="499.8" r="0.8"/><circle cx="189.6" cy="489.2" r="0.8"/><circle cx="184.0" cy="478.2" r="0.8"/><circle cx="174.6" cy="485.8" r="0.8"/><circle cx="178.5" cy="496.8" r="0.8"/><circle cx="173.0" cy="490.8" r="0.8"/><circle cx="174.1" cy="490.6" r="0.8"/><circle cx="174.6" cy="499.7" r="0.8"/><circle cx="189.0" cy="489.4" r="0.8"/><circle cx="185.7" cy="492.2" r="0.8"/><circle cx="191.5" cy="500.8" r="0.8"/><circle cx="181.1" cy="500.7" r="0.8"/><circle cx="194.4" cy="497.9" r="0.8"/><circle cx="181.7" cy="500.9" r="0.8"/><circle cx="191.2" cy="485.6" r="0.8"/><circle cx="179.1" cy="483.3" r="0.8"/><circle cx="193.8" cy="496.2" r="0.8"/><circle cx="176.5" cy="499.7" r="0.8"/><circle cx="186.8" cy="500.5" r="0.8"/><circle cx="189.9" cy="490.0" r="0.8"/><circle cx="186.4" cy="493.6" r="0.8"/><circle cx="176.0" cy="484.5" r="0.8"/><circle cx="183.5" cy="487.6" r="0.8"/><circle cx="190.3" cy="496.4" r="0.8"/><circle cx="179.4" cy="483.5" r="0.8"/></g>
<g fill="#7a1a30"><circle cx="197.1" cy="495.2" r="0.6"/><circle cx="170.9" cy="497.2" r="0.6"/><circle cx="196.5" cy="495.8" r="0.6"/><circle cx="194.2" cy="483.2" r="0.6"/><circle cx="182.7" cy="477.0" r="0.6"/><circle cx="175.8" cy="479.4" r="0.6"/><circle cx="183.4" cy="505.4" r="0.6"/><circle cx="170.7" cy="483.9" r="0.6"/><circle cx="169.6" cy="489.9" r="0.6"/><circle cx="195.1" cy="483.4" r="0.6"/><circle cx="175.6" cy="503.1" r="0.6"/><circle cx="191.0" cy="502.1" r="0.6"/><circle cx="193.7" cy="482.0" r="0.6"/><circle cx="187.6" cy="478.6" r="0.6"/><circle cx="170.0" cy="493.7" r="0.6"/><circle cx="187.9" cy="478.0" r="0.6"/><circle cx="172.5" cy="499.7" r="0.6"/><circle cx="186.5" cy="504.2" r="0.6"/></g>
<g fill="#f2d5dc"><circle cx="187.0" cy="495.1" r="0.45"/><circle cx="185.4" cy="498.8" r="0.6"/><circle cx="192.9" cy="495.8" r="0.6"/><circle cx="186.4" cy="496.3" r="0.6"/><circle cx="182.5" cy="495.9" r="0.45"/><circle cx="186.7" cy="496.6" r="0.45"/><circle cx="186.1" cy="493.0" r="0.6"/><circle cx="175.7" cy="497.5" r="0.75"/><circle cx="180.3" cy="498.6" r="0.75"/><circle cx="181.4" cy="495.8" r="0.45"/></g>
<circle cx="184.9" cy="476.7" r="1.4" fill="#4a1020"/>
<circle cx="180.1" cy="470.5" r="0.9" fill="#555"/>
<rect x="209.25" y="455.40" width="53.25" height="56.00" fill="#fff" stroke="#c0c0c0" stroke-width="0.95"/>
<polygon points="217.77,464.92 223.95,464.36 232.47,475.84 235.08,478.92 242.26,478.92 247.59,484.52 256.11,486.20 259.84,490.12 258.24,500.20 255.05,505.80 250.78,503.00 246.53,500.20 242.26,503.56 231.99,504.68 222.88,501.88 219.37,508.82 212.34,507.48 212.34,486.20 213.24,473.88 219.10,472.76 217.24,467.72" fill="#d9d9d9" stroke="#d9d9d9" stroke-width="1.2" stroke-linejoin="round"/>
<line x1="221.76375" y1="457.08" x2="221.76375" y2="464.35999999999996" stroke="#c8c8c8" stroke-width="1.2"/>
<circle cx="221.8" cy="460.4" r="0.8" fill="#888"/>
<g fill="#786a98"><circle cx="220.9" cy="505.5" r="0.75"/><circle cx="219.0" cy="497.5" r="0.75"/><circle cx="223.4" cy="491.6" r="0.75"/><circle cx="220.7" cy="492.0" r="0.75"/><circle cx="224.6" cy="495.2" r="0.75"/><circle cx="221.1" cy="497.0" r="0.75"/><circle cx="220.1" cy="492.6" r="0.75"/><circle cx="213.2" cy="491.2" r="0.75"/><circle cx="222.9" cy="482.7" r="0.75"/><circle cx="224.7" cy="494.4" r="0.75"/><circle cx="223.8" cy="501.6" r="0.75"/><circle cx="222.4" cy="490.3" r="0.75"/><circle cx="221.2" cy="487.2" r="0.75"/><circle cx="214.1" cy="489.8" r="0.75"/><circle cx="213.7" cy="491.3" r="0.75"/><circle cx="220.6" cy="480.8" r="0.75"/><circle cx="222.4" cy="497.4" r="0.75"/><circle cx="217.9" cy="489.2" r="0.75"/><circle cx="219.6" cy="505.6" r="0.75"/><circle cx="219.0" cy="489.4" r="0.75"/><circle cx="214.5" cy="502.2" r="0.75"/><circle cx="222.7" cy="491.2" r="0.75"/><circle cx="218.2" cy="494.2" r="0.75"/><circle cx="214.7" cy="488.8" r="0.75"/><circle cx="216.7" cy="500.6" r="0.75"/><circle cx="226.8" cy="496.7" r="0.75"/><circle cx="215.4" cy="483.9" r="0.75"/><circle cx="214.6" cy="494.6" r="0.75"/><circle cx="226.4" cy="490.5" r="0.75"/><circle cx="219.1" cy="505.6" r="0.75"/><circle cx="218.3" cy="488.5" r="0.75"/><circle cx="224.1" cy="481.8" r="0.75"/><circle cx="229.2" cy="497.0" r="0.75"/><circle cx="229.8" cy="494.6" r="0.75"/><circle cx="223.9" cy="492.5" r="0.75"/><circle cx="223.7" cy="484.7" r="0.75"/><circle cx="225.8" cy="480.8" r="0.75"/><circle cx="224.2" cy="484.5" r="0.75"/><circle cx="224.9" cy="502.4" r="0.75"/><circle cx="214.0" cy="482.3" r="0.75"/><circle cx="219.1" cy="489.6" r="0.75"/><circle cx="223.4" cy="504.1" r="0.75"/><circle cx="215.6" cy="483.9" r="0.75"/><circle cx="220.6" cy="482.0" r="0.75"/><circle cx="220.1" cy="499.9" r="0.75"/><circle cx="217.1" cy="506.2" r="0.75"/><circle cx="215.4" cy="488.5" r="0.75"/><circle cx="223.6" cy="498.4" r="0.75"/><circle cx="220.9" cy="488.8" r="0.75"/><circle cx="222.4" cy="498.4" r="0.75"/><circle cx="220.3" cy="507.0" r="0.75"/><circle cx="221.8" cy="498.4" r="0.75"/><circle cx="218.0" cy="485.2" r="0.75"/><circle cx="217.3" cy="503.8" r="0.75"/><circle cx="223.0" cy="487.9" r="0.75"/><circle cx="218.1" cy="502.6" r="0.75"/><circle cx="218.7" cy="486.2" r="0.75"/><circle cx="220.4" cy="504.8" r="0.75"/><circle cx="228.2" cy="490.9" r="0.75"/><circle cx="217.6" cy="494.5" r="0.75"/><circle cx="213.1" cy="505.4" r="0.75"/><circle cx="217.0" cy="483.9" r="0.75"/><circle cx="223.0" cy="483.9" r="0.75"/><circle cx="227.5" cy="492.2" r="0.75"/><circle cx="222.0" cy="504.4" r="0.75"/><circle cx="220.2" cy="505.9" r="0.75"/><circle cx="222.1" cy="491.0" r="0.75"/><circle cx="215.2" cy="492.6" r="0.75"/><circle cx="225.5" cy="482.7" r="0.75"/><circle cx="224.4" cy="503.5" r="0.75"/><circle cx="214.5" cy="487.0" r="0.75"/><circle cx="213.9" cy="496.6" r="0.75"/><circle cx="225.6" cy="489.8" r="0.75"/><circle cx="227.2" cy="496.9" r="0.75"/><circle cx="220.5" cy="485.2" r="0.75"/><circle cx="218.6" cy="499.6" r="0.75"/><circle cx="223.3" cy="499.8" r="0.75"/><circle cx="216.0" cy="486.8" r="0.75"/><circle cx="214.5" cy="505.1" r="0.75"/><circle cx="214.7" cy="490.0" r="0.75"/><circle cx="224.8" cy="483.9" r="0.75"/><circle cx="225.6" cy="488.0" r="0.75"/><circle cx="221.2" cy="506.0" r="0.75"/><circle cx="214.8" cy="491.5" r="0.75"/><circle cx="222.7" cy="498.9" r="0.75"/><circle cx="224.2" cy="498.4" r="0.75"/><circle cx="215.8" cy="496.0" r="0.75"/><circle cx="226.9" cy="500.9" r="0.75"/><circle cx="213.9" cy="499.9" r="0.75"/><circle cx="221.2" cy="486.7" r="0.75"/><circle cx="217.4" cy="489.8" r="0.75"/><circle cx="214.5" cy="484.4" r="0.75"/><circle cx="219.4" cy="484.6" r="0.75"/><circle cx="219.0" cy="498.2" r="0.75"/><circle cx="218.3" cy="484.1" r="0.75"/><circle cx="220.6" cy="487.2" r="0.75"/><circle cx="217.0" cy="505.7" r="0.75"/><circle cx="217.1" cy="492.1" r="0.75"/><circle cx="223.9" cy="497.3" r="0.75"/><circle cx="216.8" cy="485.3" r="0.75"/></g>
<g fill="#55584a"><circle cx="222.6" cy="468.9" r="0.55"/><circle cx="225.5" cy="478.4" r="0.55"/><circle cx="220.0" cy="475.9" r="0.55"/><circle cx="221.1" cy="468.3" r="0.55"/><circle cx="229.1" cy="479.1" r="0.55"/><circle cx="231.8" cy="475.7" r="0.55"/><circle cx="226.4" cy="475.6" r="0.55"/><circle cx="219.1" cy="465.1" r="0.55"/><circle cx="222.5" cy="481.2" r="0.55"/><circle cx="227.6" cy="482.6" r="0.55"/><circle cx="217.1" cy="479.5" r="0.55"/><circle cx="232.5" cy="477.7" r="0.55"/><circle cx="225.7" cy="482.8" r="0.55"/><circle cx="221.3" cy="473.7" r="0.55"/><circle cx="219.4" cy="473.5" r="0.55"/><circle cx="229.5" cy="473.4" r="0.55"/><circle cx="227.4" cy="480.3" r="0.55"/><circle cx="225.7" cy="479.7" r="0.55"/><circle cx="220.1" cy="476.8" r="0.55"/><circle cx="216.8" cy="479.4" r="0.55"/><circle cx="224.8" cy="472.2" r="0.55"/><circle cx="219.7" cy="465.2" r="0.55"/><circle cx="220.2" cy="473.0" r="0.55"/><circle cx="227.2" cy="471.6" r="0.55"/><circle cx="223.8" cy="477.8" r="0.55"/><circle cx="224.6" cy="471.0" r="0.55"/><circle cx="219.7" cy="473.4" r="0.55"/><circle cx="225.1" cy="476.7" r="0.55"/><circle cx="218.8" cy="473.5" r="0.55"/><circle cx="221.4" cy="471.1" r="0.55"/><circle cx="226.4" cy="469.0" r="0.55"/><circle cx="222.7" cy="477.7" r="0.55"/><circle cx="226.9" cy="474.1" r="0.55"/><circle cx="221.4" cy="472.5" r="0.55"/><circle cx="222.2" cy="476.7" r="0.55"/><circle cx="219.7" cy="467.9" r="0.55"/><circle cx="222.1" cy="478.7" r="0.55"/><circle cx="217.3" cy="477.2" r="0.55"/><circle cx="229.6" cy="474.6" r="0.55"/><circle cx="227.7" cy="479.9" r="0.55"/></g>
<g fill="#45404a"><circle cx="217.0" cy="501.9" r="0.5"/><circle cx="222.5" cy="499.8" r="0.5"/><circle cx="217.7" cy="498.4" r="0.5"/><circle cx="223.0" cy="495.5" r="0.5"/><circle cx="222.7" cy="500.4" r="0.5"/><circle cx="221.6" cy="493.5" r="0.5"/><circle cx="228.3" cy="486.1" r="0.5"/><circle cx="220.3" cy="496.6" r="0.5"/><circle cx="221.5" cy="492.7" r="0.5"/><circle cx="224.0" cy="495.9" r="0.5"/><circle cx="226.2" cy="489.6" r="0.5"/><circle cx="217.0" cy="500.1" r="0.5"/><circle cx="226.2" cy="488.0" r="0.5"/><circle cx="228.3" cy="487.7" r="0.5"/><circle cx="226.7" cy="494.2" r="0.5"/><circle cx="222.6" cy="491.1" r="0.5"/><circle cx="229.4" cy="487.0" r="0.5"/><circle cx="220.7" cy="495.6" r="0.5"/><circle cx="224.8" cy="490.7" r="0.5"/><circle cx="221.0" cy="499.0" r="0.5"/></g>
<g fill="#4a2c6c"><circle cx="257.6" cy="492.2" r="0.8"/><circle cx="252.5" cy="494.1" r="0.8"/><circle cx="255.5" cy="500.8" r="0.8"/><circle cx="252.5" cy="496.7" r="0.8"/><circle cx="252.9" cy="502.7" r="0.8"/><circle cx="256.6" cy="495.7" r="0.8"/><circle cx="254.5" cy="499.3" r="0.8"/><circle cx="258.8" cy="493.8" r="0.8"/><circle cx="258.5" cy="491.2" r="0.8"/><circle cx="255.6" cy="488.9" r="0.8"/><circle cx="252.7" cy="492.5" r="0.8"/><circle cx="256.6" cy="488.8" r="0.8"/><circle cx="255.0" cy="492.8" r="0.8"/><circle cx="258.5" cy="496.1" r="0.8"/><circle cx="255.7" cy="497.3" r="0.8"/><circle cx="252.7" cy="490.1" r="0.8"/><circle cx="255.6" cy="503.6" r="0.8"/><circle cx="257.1" cy="492.3" r="0.8"/><circle cx="254.7" cy="493.7" r="0.8"/><circle cx="254.0" cy="499.2" r="0.8"/><circle cx="254.4" cy="495.3" r="0.8"/><circle cx="255.5" cy="492.2" r="0.8"/><circle cx="254.2" cy="495.3" r="0.8"/><circle cx="255.5" cy="501.1" r="0.8"/><circle cx="255.6" cy="488.8" r="0.8"/><circle cx="250.9" cy="500.3" r="0.8"/><circle cx="251.6" cy="501.0" r="0.8"/><circle cx="256.0" cy="487.7" r="0.8"/><circle cx="256.0" cy="497.1" r="0.8"/><circle cx="257.2" cy="496.7" r="0.8"/><circle cx="253.4" cy="494.3" r="0.8"/><circle cx="256.2" cy="497.0" r="0.8"/><circle cx="251.6" cy="487.9" r="0.8"/><circle cx="251.4" cy="500.5" r="0.8"/><circle cx="253.0" cy="497.3" r="0.8"/><circle cx="253.4" cy="497.5" r="0.8"/><circle cx="255.6" cy="496.6" r="0.8"/><circle cx="254.4" cy="491.7" r="0.8"/><circle cx="258.1" cy="498.1" r="0.8"/><circle cx="252.9" cy="503.2" r="0.8"/><circle cx="252.9" cy="501.6" r="0.8"/><circle cx="256.5" cy="495.4" r="0.8"/><circle cx="255.8" cy="492.7" r="0.8"/><circle cx="257.5" cy="498.0" r="0.8"/><circle cx="252.2" cy="500.5" r="0.8"/><circle cx="251.0" cy="489.8" r="0.8"/><circle cx="252.0" cy="497.7" r="0.8"/><circle cx="253.4" cy="486.6" r="0.8"/><circle cx="253.4" cy="494.5" r="0.8"/><circle cx="256.6" cy="499.3" r="0.8"/><circle cx="255.5" cy="496.1" r="0.8"/><circle cx="250.7" cy="491.2" r="0.8"/><circle cx="255.1" cy="490.6" r="0.8"/><circle cx="258.9" cy="495.7" r="0.8"/><circle cx="255.3" cy="491.8" r="0.8"/><circle cx="256.0" cy="502.2" r="0.8"/><circle cx="252.4" cy="495.5" r="0.8"/><circle cx="254.6" cy="494.3" r="0.8"/><circle cx="257.0" cy="493.3" r="0.8"/><circle cx="253.2" cy="493.1" r="0.8"/><circle cx="259.4" cy="489.0" r="0.8"/><circle cx="256.6" cy="488.1" r="0.8"/><circle cx="255.3" cy="488.5" r="0.8"/><circle cx="255.8" cy="496.0" r="0.8"/><circle cx="258.1" cy="491.5" r="0.8"/><circle cx="252.2" cy="497.3" r="0.8"/><circle cx="252.4" cy="500.0" r="0.8"/><circle cx="251.9" cy="487.5" r="0.8"/><circle cx="253.4" cy="503.2" r="0.8"/><circle cx="254.6" cy="488.6" r="0.8"/><circle cx="258.7" cy="490.8" r="0.8"/><circle cx="257.3" cy="490.6" r="0.8"/><circle cx="253.4" cy="497.8" r="0.8"/><circle cx="254.1" cy="487.5" r="0.8"/><circle cx="251.6" cy="489.2" r="0.8"/><circle cx="253.7" cy="491.4" r="0.8"/><circle cx="257.1" cy="491.0" r="0.8"/><circle cx="253.4" cy="490.6" r="0.8"/><circle cx="256.1" cy="490.7" r="0.8"/><circle cx="258.5" cy="494.8" r="0.8"/><circle cx="258.7" cy="496.4" r="0.8"/><circle cx="258.3" cy="498.5" r="0.8"/><circle cx="255.6" cy="487.8" r="0.8"/><circle cx="259.0" cy="494.1" r="0.8"/><circle cx="255.6" cy="494.3" r="0.8"/><circle cx="254.7" cy="486.3" r="0.8"/><circle cx="257.5" cy="493.3" r="0.8"/><circle cx="258.9" cy="496.0" r="0.8"/><circle cx="257.1" cy="488.3" r="0.8"/><circle cx="257.3" cy="496.9" r="0.8"/><circle cx="254.1" cy="490.4" r="0.8"/><circle cx="256.6" cy="486.4" r="0.8"/><circle cx="258.5" cy="494.9" r="0.8"/><circle cx="251.1" cy="490.5" r="0.8"/><circle cx="251.6" cy="490.5" r="0.8"/><circle cx="252.7" cy="493.7" r="0.8"/><circle cx="255.5" cy="501.6" r="0.8"/><circle cx="253.3" cy="488.0" r="0.8"/><circle cx="254.5" cy="498.9" r="0.8"/></g>
<g fill="#e6def0"><circle cx="254.5" cy="503.9" r="0.5"/><circle cx="259.2" cy="495.0" r="0.5"/><circle cx="256.8" cy="492.8" r="0.5"/><circle cx="257.8" cy="491.2" r="0.5"/><circle cx="254.6" cy="499.0" r="0.5"/><circle cx="252.7" cy="501.0" r="0.5"/><circle cx="256.1" cy="488.8" r="0.5"/><circle cx="256.5" cy="486.7" r="0.5"/><circle cx="255.2" cy="495.2" r="0.5"/><circle cx="252.9" cy="494.5" r="0.5"/><circle cx="257.7" cy="487.3" r="0.5"/><circle cx="251.6" cy="496.0" r="0.5"/><circle cx="255.7" cy="487.5" r="0.5"/><circle cx="253.3" cy="498.4" r="0.5"/><circle cx="250.5" cy="492.3" r="0.5"/><circle cx="256.8" cy="501.2" r="0.5"/><circle cx="255.3" cy="501.2" r="0.5"/><circle cx="252.2" cy="493.4" r="0.5"/><circle cx="253.7" cy="500.9" r="0.5"/><circle cx="252.6" cy="503.0" r="0.5"/><circle cx="256.9" cy="496.0" r="0.5"/><circle cx="255.5" cy="498.1" r="0.5"/><circle cx="250.6" cy="494.3" r="0.5"/><circle cx="251.7" cy="495.0" r="0.5"/><circle cx="254.4" cy="489.9" r="0.5"/></g>
<polygon points="247.65,490.12 246.93,492.32 245.60,494.10 244.48,495.68 243.65,497.38 242.63,499.05 241.20,500.32 239.54,501.22 237.78,502.03 235.88,502.61 233.90,502.46 232.13,501.49 230.58,500.26 228.96,499.27 227.24,498.19 226.01,496.49 225.82,494.23 226.30,492.03 226.52,490.12 226.12,488.16 225.76,485.89 226.21,483.68 227.48,481.96 229.06,480.68 230.64,479.55 232.31,478.68 234.11,478.41 235.88,478.63 237.57,478.84 239.35,478.94 241.14,479.49 242.54,480.89 243.43,482.77 244.32,484.50 245.67,486.03 247.10,487.86" fill="#861228" stroke="#861228" stroke-width="1.0" stroke-linejoin="round"/>
<g fill="#8c1529"><circle cx="237.2" cy="493.4" r="0.8"/><circle cx="236.6" cy="484.8" r="0.8"/><circle cx="226.2" cy="490.9" r="0.8"/><circle cx="233.2" cy="486.3" r="0.8"/><circle cx="243.6" cy="496.3" r="0.8"/><circle cx="238.4" cy="482.2" r="0.8"/><circle cx="230.4" cy="482.1" r="0.8"/><circle cx="225.5" cy="485.3" r="0.8"/><circle cx="242.3" cy="481.7" r="0.8"/><circle cx="226.7" cy="493.6" r="0.8"/><circle cx="228.3" cy="480.8" r="0.8"/><circle cx="240.6" cy="482.4" r="0.8"/><circle cx="241.7" cy="486.2" r="0.8"/><circle cx="227.0" cy="491.4" r="0.8"/><circle cx="244.9" cy="496.2" r="0.8"/><circle cx="233.0" cy="500.5" r="0.8"/><circle cx="238.9" cy="481.2" r="0.8"/><circle cx="245.9" cy="488.0" r="0.8"/><circle cx="226.3" cy="489.5" r="0.8"/><circle cx="237.2" cy="499.0" r="0.8"/><circle cx="243.3" cy="491.7" r="0.8"/><circle cx="226.0" cy="488.7" r="0.8"/><circle cx="242.9" cy="498.0" r="0.8"/><circle cx="231.5" cy="485.7" r="0.8"/><circle cx="229.8" cy="497.8" r="0.8"/><circle cx="232.3" cy="489.7" r="0.8"/><circle cx="236.0" cy="494.4" r="0.8"/><circle cx="242.2" cy="485.9" r="0.8"/><circle cx="228.3" cy="497.4" r="0.8"/><circle cx="241.7" cy="486.2" r="0.8"/><circle cx="232.1" cy="479.8" r="0.8"/><circle cx="229.0" cy="491.6" r="0.8"/><circle cx="228.6" cy="499.5" r="0.8"/><circle cx="232.2" cy="486.7" r="0.8"/><circle cx="242.9" cy="496.4" r="0.8"/><circle cx="232.8" cy="492.2" r="0.8"/><circle cx="234.4" cy="492.4" r="0.8"/><circle cx="243.7" cy="482.9" r="0.8"/><circle cx="235.5" cy="492.5" r="0.8"/><circle cx="241.0" cy="496.2" r="0.8"/><circle cx="228.5" cy="482.9" r="0.8"/><circle cx="242.0" cy="498.3" r="0.8"/><circle cx="238.6" cy="500.4" r="0.8"/><circle cx="232.9" cy="496.0" r="0.8"/><circle cx="243.3" cy="492.4" r="0.8"/><circle cx="237.1" cy="491.2" r="0.8"/><circle cx="239.7" cy="500.8" r="0.8"/><circle cx="227.2" cy="483.4" r="0.8"/><circle cx="239.2" cy="479.6" r="0.8"/><circle cx="229.9" cy="499.3" r="0.8"/><circle cx="238.4" cy="493.4" r="0.8"/><circle cx="228.2" cy="491.8" r="0.8"/><circle cx="237.4" cy="493.8" r="0.8"/><circle cx="235.2" cy="497.5" r="0.8"/><circle cx="236.3" cy="484.4" r="0.8"/><circle cx="225.7" cy="486.0" r="0.8"/><circle cx="229.6" cy="493.0" r="0.8"/><circle cx="241.4" cy="488.3" r="0.8"/><circle cx="244.6" cy="492.0" r="0.8"/><circle cx="243.8" cy="484.2" r="0.8"/><circle cx="238.7" cy="490.9" r="0.8"/><circle cx="240.3" cy="492.8" r="0.8"/><circle cx="226.8" cy="483.5" r="0.8"/><circle cx="226.5" cy="490.2" r="0.8"/><circle cx="246.3" cy="490.3" r="0.8"/><circle cx="230.4" cy="489.4" r="0.8"/><circle cx="228.2" cy="486.2" r="0.8"/><circle cx="243.1" cy="482.8" r="0.8"/><circle cx="242.2" cy="492.1" r="0.8"/><circle cx="232.3" cy="479.1" r="0.8"/><circle cx="246.4" cy="485.7" r="0.8"/><circle cx="235.8" cy="492.3" r="0.8"/><circle cx="237.0" cy="494.8" r="0.8"/><circle cx="245.5" cy="485.5" r="0.8"/><circle cx="234.8" cy="481.5" r="0.8"/><circle cx="234.4" cy="493.6" r="0.8"/><circle cx="232.5" cy="502.3" r="0.8"/><circle cx="241.2" cy="490.7" r="0.8"/><circle cx="243.5" cy="494.1" r="0.8"/><circle cx="227.3" cy="488.8" r="0.8"/><circle cx="230.5" cy="493.1" r="0.8"/><circle cx="231.7" cy="493.0" r="0.8"/><circle cx="235.8" cy="503.6" r="0.8"/><circle cx="244.7" cy="487.0" r="0.8"/><circle cx="231.3" cy="489.7" r="0.8"/><circle cx="244.6" cy="495.3" r="0.8"/><circle cx="238.8" cy="481.3" r="0.8"/><circle cx="231.7" cy="485.2" r="0.8"/><circle cx="228.6" cy="486.9" r="0.8"/><circle cx="232.9" cy="483.8" r="0.8"/><circle cx="230.7" cy="484.3" r="0.8"/><circle cx="241.0" cy="482.6" r="0.8"/><circle cx="235.1" cy="499.0" r="0.8"/><circle cx="232.7" cy="499.8" r="0.8"/><circle cx="238.8" cy="492.9" r="0.8"/><circle cx="234.8" cy="499.9" r="0.8"/><circle cx="240.0" cy="480.6" r="0.8"/><circle cx="238.9" cy="501.5" r="0.8"/><circle cx="230.7" cy="491.8" r="0.8"/><circle cx="242.1" cy="499.7" r="0.8"/><circle cx="233.4" cy="481.9" r="0.8"/><circle cx="238.1" cy="493.6" r="0.8"/><circle cx="244.7" cy="495.3" r="0.8"/><circle cx="230.7" cy="487.6" r="0.8"/><circle cx="236.6" cy="478.7" r="0.8"/><circle cx="240.3" cy="486.6" r="0.8"/><circle cx="233.2" cy="490.9" r="0.8"/><circle cx="235.7" cy="481.6" r="0.8"/><circle cx="240.9" cy="479.9" r="0.8"/><circle cx="238.2" cy="481.6" r="0.8"/><circle cx="232.3" cy="493.5" r="0.8"/><circle cx="225.3" cy="485.2" r="0.8"/><circle cx="236.1" cy="483.7" r="0.8"/><circle cx="247.5" cy="487.7" r="0.8"/><circle cx="229.3" cy="486.8" r="0.8"/><circle cx="243.4" cy="495.0" r="0.8"/><circle cx="227.6" cy="495.4" r="0.8"/><circle cx="237.1" cy="501.6" r="0.8"/><circle cx="229.8" cy="496.2" r="0.8"/><circle cx="231.9" cy="482.9" r="0.8"/><circle cx="238.9" cy="480.8" r="0.8"/><circle cx="233.8" cy="485.8" r="0.8"/><circle cx="239.5" cy="490.4" r="0.8"/><circle cx="231.9" cy="498.1" r="0.8"/><circle cx="234.7" cy="493.7" r="0.8"/><circle cx="228.3" cy="488.2" r="0.8"/><circle cx="239.8" cy="490.2" r="0.8"/><circle cx="232.8" cy="494.8" r="0.8"/><circle cx="225.6" cy="496.9" r="0.8"/><circle cx="245.9" cy="490.7" r="0.8"/><circle cx="245.1" cy="495.1" r="0.8"/><circle cx="229.0" cy="498.7" r="0.8"/><circle cx="239.7" cy="498.8" r="0.8"/><circle cx="240.0" cy="497.1" r="0.8"/><circle cx="228.8" cy="491.1" r="0.8"/><circle cx="237.7" cy="491.5" r="0.8"/><circle cx="233.6" cy="491.8" r="0.8"/><circle cx="238.5" cy="495.7" r="0.8"/><circle cx="229.1" cy="483.1" r="0.8"/><circle cx="238.8" cy="481.4" r="0.8"/><circle cx="236.0" cy="480.4" r="0.8"/><circle cx="230.7" cy="499.1" r="0.8"/><circle cx="233.6" cy="501.6" r="0.8"/><circle cx="234.4" cy="501.0" r="0.8"/><circle cx="246.8" cy="487.3" r="0.8"/><circle cx="241.8" cy="478.9" r="0.8"/><circle cx="243.5" cy="497.3" r="0.8"/><circle cx="231.9" cy="485.7" r="0.8"/><circle cx="242.3" cy="490.8" r="0.8"/><circle cx="241.4" cy="495.7" r="0.8"/><circle cx="235.9" cy="481.7" r="0.8"/><circle cx="228.5" cy="490.4" r="0.8"/><circle cx="233.2" cy="484.5" r="0.8"/><circle cx="235.5" cy="478.1" r="0.8"/><circle cx="235.6" cy="502.2" r="0.8"/><circle cx="231.8" cy="498.5" r="0.8"/><circle cx="233.9" cy="478.6" r="0.8"/><circle cx="229.3" cy="485.5" r="0.8"/><circle cx="228.8" cy="498.9" r="0.8"/><circle cx="234.8" cy="499.9" r="0.8"/><circle cx="242.9" cy="491.6" r="0.8"/><circle cx="239.2" cy="498.5" r="0.8"/><circle cx="230.4" cy="496.0" r="0.8"/><circle cx="242.4" cy="481.0" r="0.8"/><circle cx="230.6" cy="495.9" r="0.8"/><circle cx="239.9" cy="478.4" r="0.8"/><circle cx="242.3" cy="491.8" r="0.8"/><circle cx="242.9" cy="488.7" r="0.8"/><circle cx="236.2" cy="503.2" r="0.8"/><circle cx="234.3" cy="494.7" r="0.8"/><circle cx="235.4" cy="487.4" r="0.8"/><circle cx="239.9" cy="493.2" r="0.8"/><circle cx="226.7" cy="482.0" r="0.8"/><circle cx="230.4" cy="479.0" r="0.8"/><circle cx="225.5" cy="488.6" r="0.8"/><circle cx="228.0" cy="496.3" r="0.8"/><circle cx="230.6" cy="500.8" r="0.8"/><circle cx="225.3" cy="485.3" r="0.8"/><circle cx="231.8" cy="499.5" r="0.8"/><circle cx="237.7" cy="500.2" r="0.8"/><circle cx="232.1" cy="490.5" r="0.8"/><circle cx="244.1" cy="487.5" r="0.8"/><circle cx="246.5" cy="492.3" r="0.8"/><circle cx="244.2" cy="494.4" r="0.8"/><circle cx="230.3" cy="483.6" r="0.8"/><circle cx="243.4" cy="498.1" r="0.8"/><circle cx="241.7" cy="483.8" r="0.8"/><circle cx="228.7" cy="497.3" r="0.8"/><circle cx="235.7" cy="484.4" r="0.8"/><circle cx="239.8" cy="492.8" r="0.8"/><circle cx="231.3" cy="491.9" r="0.8"/><circle cx="230.4" cy="483.9" r="0.8"/><circle cx="230.1" cy="487.0" r="0.8"/><circle cx="244.9" cy="487.7" r="0.8"/><circle cx="241.2" cy="490.3" r="0.8"/><circle cx="233.9" cy="502.3" r="0.8"/><circle cx="233.0" cy="490.3" r="0.8"/><circle cx="239.9" cy="496.0" r="0.8"/><circle cx="243.1" cy="491.9" r="0.8"/><circle cx="233.5" cy="488.8" r="0.8"/><circle cx="231.8" cy="501.1" r="0.8"/><circle cx="247.0" cy="490.0" r="0.8"/><circle cx="232.9" cy="498.1" r="0.8"/><circle cx="242.4" cy="484.6" r="0.8"/><circle cx="235.6" cy="484.4" r="0.8"/><circle cx="230.2" cy="478.8" r="0.8"/><circle cx="248.1" cy="491.5" r="0.8"/><circle cx="231.1" cy="497.6" r="0.8"/><circle cx="231.4" cy="485.8" r="0.8"/><circle cx="235.4" cy="478.9" r="0.8"/><circle cx="244.3" cy="493.9" r="0.8"/><circle cx="237.4" cy="497.6" r="0.8"/><circle cx="231.5" cy="487.1" r="0.8"/><circle cx="242.6" cy="485.6" r="0.8"/><circle cx="225.1" cy="485.7" r="0.8"/><circle cx="228.3" cy="483.2" r="0.8"/><circle cx="237.0" cy="488.8" r="0.8"/><circle cx="237.6" cy="491.7" r="0.8"/><circle cx="234.9" cy="501.6" r="0.8"/><circle cx="235.5" cy="482.1" r="0.8"/><circle cx="227.6" cy="490.3" r="0.8"/><circle cx="227.0" cy="491.9" r="0.8"/><circle cx="244.0" cy="495.2" r="0.8"/><circle cx="230.2" cy="489.0" r="0.8"/><circle cx="231.4" cy="482.0" r="0.8"/><circle cx="240.4" cy="481.3" r="0.8"/><circle cx="226.3" cy="482.8" r="0.8"/><circle cx="242.4" cy="482.1" r="0.8"/><circle cx="226.6" cy="486.7" r="0.8"/><circle cx="239.0" cy="493.1" r="0.8"/><circle cx="228.8" cy="484.8" r="0.8"/><circle cx="238.3" cy="494.3" r="0.8"/><circle cx="230.0" cy="481.7" r="0.8"/><circle cx="229.9" cy="489.1" r="0.8"/><circle cx="238.7" cy="491.7" r="0.8"/><circle cx="227.0" cy="489.6" r="0.8"/><circle cx="244.5" cy="487.6" r="0.8"/><circle cx="227.7" cy="494.1" r="0.8"/><circle cx="243.6" cy="485.3" r="0.8"/><circle cx="234.2" cy="495.8" r="0.8"/><circle cx="228.2" cy="494.5" r="0.8"/><circle cx="242.8" cy="499.8" r="0.8"/><circle cx="236.5" cy="501.4" r="0.8"/><circle cx="242.3" cy="493.5" r="0.8"/><circle cx="230.4" cy="483.8" r="0.8"/><circle cx="247.2" cy="491.8" r="0.8"/><circle cx="244.2" cy="486.5" r="0.8"/><circle cx="243.6" cy="484.8" r="0.8"/><circle cx="236.1" cy="485.5" r="0.8"/><circle cx="242.1" cy="479.3" r="0.8"/><circle cx="236.6" cy="496.4" r="0.8"/><circle cx="239.7" cy="493.5" r="0.8"/><circle cx="238.4" cy="495.8" r="0.8"/><circle cx="226.0" cy="493.9" r="0.8"/><circle cx="243.9" cy="497.6" r="0.8"/><circle cx="243.9" cy="496.6" r="0.8"/><circle cx="230.9" cy="498.4" r="0.8"/><circle cx="238.3" cy="489.9" r="0.8"/><circle cx="225.7" cy="497.1" r="0.8"/><circle cx="234.6" cy="489.2" r="0.8"/></g>
<g fill="#7a1a30"><circle cx="248.6" cy="488.6" r="0.6"/><circle cx="231.1" cy="478.4" r="0.6"/><circle cx="241.3" cy="501.5" r="0.6"/><circle cx="233.2" cy="504.2" r="0.6"/><circle cx="234.2" cy="477.2" r="0.6"/><circle cx="247.8" cy="495.5" r="0.6"/><circle cx="223.9" cy="489.1" r="0.6"/><circle cx="223.8" cy="489.9" r="0.6"/><circle cx="224.1" cy="483.9" r="0.6"/><circle cx="246.2" cy="483.2" r="0.6"/><circle cx="225.1" cy="483.2" r="0.6"/><circle cx="245.7" cy="498.5" r="0.6"/><circle cx="242.4" cy="477.6" r="0.6"/><circle cx="247.9" cy="484.6" r="0.6"/><circle cx="248.5" cy="492.4" r="0.6"/><circle cx="244.7" cy="480.1" r="0.6"/><circle cx="223.5" cy="489.7" r="0.6"/><circle cx="241.1" cy="478.1" r="0.6"/></g>
<g fill="#f2d5dc"><circle cx="243.3" cy="492.8" r="0.6"/><circle cx="230.4" cy="494.7" r="0.45"/><circle cx="243.4" cy="492.7" r="0.75"/><circle cx="232.4" cy="491.5" r="0.6"/><circle cx="238.3" cy="494.0" r="0.45"/><circle cx="242.8" cy="497.0" r="0.75"/><circle cx="241.8" cy="498.6" r="0.45"/><circle cx="235.0" cy="492.2" r="0.45"/><circle cx="234.4" cy="497.3" r="0.6"/><circle cx="230.3" cy="497.1" r="0.75"/></g>
<circle cx="237.5" cy="475.6" r="1.4" fill="#4a1020"/>
<circle cx="232.7" cy="469.4" r="0.9" fill="#555"/>
<rect x="264.75" y="455.40" width="53.50" height="56.00" fill="#fff" stroke="#c0c0c0" stroke-width="0.95"/>
<polygon points="273.31,464.92 279.52,464.36 288.08,475.84 290.70,478.92 297.92,478.92 303.27,484.52 311.83,486.20 315.57,490.12 313.97,500.20 310.76,505.80 306.48,503.00 302.20,500.20 297.92,503.56 287.59,504.68 278.45,501.88 274.92,508.82 267.85,507.48 267.85,486.20 268.76,473.88 274.65,472.76 272.77,467.72" fill="#d9d9d9" stroke="#d9d9d9" stroke-width="1.2" stroke-linejoin="round"/>
<line x1="277.3225" y1="457.08" x2="277.3225" y2="464.35999999999996" stroke="#c8c8c8" stroke-width="1.2"/>
<circle cx="277.3" cy="460.4" r="0.8" fill="#888"/>
<g fill="#55584a"><circle cx="284.1" cy="471.1" r="0.55"/><circle cx="274.2" cy="478.5" r="0.55"/><circle cx="277.4" cy="472.0" r="0.55"/><circle cx="279.3" cy="473.6" r="0.55"/><circle cx="280.1" cy="478.2" r="0.55"/><circle cx="276.1" cy="468.1" r="0.55"/><circle cx="284.7" cy="481.1" r="0.55"/><circle cx="278.6" cy="471.6" r="0.55"/><circle cx="275.6" cy="473.5" r="0.55"/><circle cx="276.0" cy="477.4" r="0.55"/><circle cx="272.4" cy="480.3" r="0.55"/><circle cx="281.9" cy="472.8" r="0.55"/><circle cx="278.0" cy="465.9" r="0.55"/><circle cx="271.6" cy="480.5" r="0.55"/><circle cx="279.2" cy="482.2" r="0.55"/><circle cx="276.2" cy="474.8" r="0.55"/><circle cx="282.3" cy="483.1" r="0.55"/><circle cx="280.8" cy="472.8" r="0.55"/><circle cx="280.3" cy="479.5" r="0.55"/><circle cx="280.0" cy="468.9" r="0.55"/><circle cx="276.7" cy="468.5" r="0.55"/><circle cx="280.4" cy="477.0" r="0.55"/><circle cx="274.1" cy="471.2" r="0.55"/><circle cx="276.9" cy="481.5" r="0.55"/><circle cx="282.4" cy="482.5" r="0.55"/><circle cx="284.7" cy="478.3" r="0.55"/><circle cx="287.7" cy="476.2" r="0.55"/><circle cx="280.8" cy="481.7" r="0.55"/><circle cx="275.9" cy="476.3" r="0.55"/><circle cx="274.7" cy="480.6" r="0.55"/></g>
<g fill="#45404a"><circle cx="283.6" cy="486.9" r="0.5"/><circle cx="279.4" cy="502.1" r="0.5"/><circle cx="279.7" cy="486.0" r="0.5"/><circle cx="282.6" cy="485.6" r="0.5"/><circle cx="284.1" cy="490.1" r="0.5"/><circle cx="284.5" cy="487.6" r="0.5"/><circle cx="276.0" cy="501.2" r="0.5"/><circle cx="281.1" cy="490.4" r="0.5"/><circle cx="281.4" cy="489.1" r="0.5"/><circle cx="276.9" cy="499.4" r="0.5"/><circle cx="281.6" cy="495.8" r="0.5"/><circle cx="280.5" cy="494.2" r="0.5"/><circle cx="276.4" cy="504.8" r="0.5"/><circle cx="279.0" cy="489.9" r="0.5"/><circle cx="276.1" cy="497.9" r="0.5"/></g>
<polygon points="304.73,487.70 311.55,486.75 314.74,490.08 313.83,495.79 312.46,499.60 311.55,505.31 308.83,505.31 307.01,499.60 305.19,495.79" fill="#4b2d6b" stroke="#4b2d6b" stroke-width="1.0" stroke-linejoin="round"/>
<g fill="#4a2c6c"><circle cx="311.2" cy="493.9" r="0.8"/><circle cx="314.0" cy="496.9" r="0.8"/><circle cx="309.0" cy="505.6" r="0.8"/><circle cx="310.5" cy="489.0" r="0.8"/><circle cx="304.4" cy="494.4" r="0.8"/><circle cx="308.8" cy="498.3" r="0.8"/><circle cx="314.2" cy="494.7" r="0.8"/><circle cx="309.5" cy="504.4" r="0.8"/><circle cx="310.1" cy="504.1" r="0.8"/><circle cx="309.2" cy="497.6" r="0.8"/><circle cx="308.1" cy="486.7" r="0.8"/><circle cx="312.8" cy="497.2" r="0.8"/><circle cx="314.7" cy="489.8" r="0.8"/><circle cx="313.4" cy="488.7" r="0.8"/><circle cx="313.6" cy="497.6" r="0.8"/><circle cx="306.5" cy="493.6" r="0.8"/><circle cx="308.4" cy="503.0" r="0.8"/><circle cx="307.6" cy="492.1" r="0.8"/><circle cx="311.2" cy="506.5" r="0.8"/><circle cx="314.4" cy="495.5" r="0.8"/><circle cx="308.2" cy="489.2" r="0.8"/><circle cx="308.8" cy="506.6" r="0.8"/><circle cx="314.8" cy="493.8" r="0.8"/><circle cx="309.1" cy="488.8" r="0.8"/><circle cx="311.2" cy="485.5" r="0.8"/><circle cx="311.5" cy="498.1" r="0.8"/><circle cx="312.2" cy="493.1" r="0.8"/><circle cx="309.5" cy="488.2" r="0.8"/><circle cx="305.2" cy="489.1" r="0.8"/><circle cx="311.4" cy="495.3" r="0.8"/><circle cx="314.1" cy="491.5" r="0.8"/><circle cx="311.4" cy="502.5" r="0.8"/><circle cx="309.3" cy="500.6" r="0.8"/><circle cx="304.5" cy="490.2" r="0.8"/><circle cx="308.5" cy="500.1" r="0.8"/><circle cx="311.1" cy="503.9" r="0.8"/><circle cx="310.1" cy="486.5" r="0.8"/><circle cx="305.7" cy="492.1" r="0.8"/><circle cx="312.5" cy="498.1" r="0.8"/><circle cx="308.5" cy="490.3" r="0.8"/><circle cx="304.5" cy="494.3" r="0.8"/><circle cx="311.5" cy="496.3" r="0.8"/><circle cx="311.3" cy="485.8" r="0.8"/><circle cx="307.6" cy="496.7" r="0.8"/><circle cx="309.5" cy="495.4" r="0.8"/><circle cx="313.4" cy="488.9" r="0.8"/><circle cx="308.6" cy="492.1" r="0.8"/><circle cx="312.5" cy="487.1" r="0.8"/><circle cx="311.0" cy="504.4" r="0.8"/><circle cx="311.0" cy="489.2" r="0.8"/><circle cx="310.9" cy="499.9" r="0.8"/><circle cx="312.0" cy="499.1" r="0.8"/><circle cx="313.5" cy="496.6" r="0.8"/><circle cx="309.7" cy="500.6" r="0.8"/><circle cx="304.4" cy="487.8" r="0.8"/><circle cx="309.2" cy="498.1" r="0.8"/><circle cx="310.1" cy="492.0" r="0.8"/><circle cx="312.3" cy="487.0" r="0.8"/><circle cx="309.2" cy="489.1" r="0.8"/><circle cx="312.5" cy="496.6" r="0.8"/><circle cx="305.0" cy="486.8" r="0.8"/><circle cx="313.8" cy="495.1" r="0.8"/><circle cx="308.8" cy="491.0" r="0.8"/><circle cx="307.4" cy="499.6" r="0.8"/><circle cx="310.9" cy="498.1" r="0.8"/><circle cx="307.1" cy="492.0" r="0.8"/><circle cx="309.2" cy="506.6" r="0.8"/><circle cx="310.1" cy="501.2" r="0.8"/><circle cx="313.6" cy="495.7" r="0.8"/><circle cx="305.8" cy="490.3" r="0.8"/><circle cx="307.6" cy="486.4" r="0.8"/><circle cx="305.0" cy="492.1" r="0.8"/><circle cx="308.0" cy="503.9" r="0.8"/><circle cx="310.9" cy="495.7" r="0.8"/><circle cx="309.5" cy="498.3" r="0.8"/><circle cx="312.3" cy="486.8" r="0.8"/><circle cx="310.1" cy="499.7" r="0.8"/><circle cx="313.6" cy="487.7" r="0.8"/><circle cx="314.4" cy="490.0" r="0.8"/><circle cx="309.1" cy="490.8" r="0.8"/><circle cx="315.0" cy="491.9" r="0.8"/><circle cx="309.1" cy="494.0" r="0.8"/><circle cx="304.5" cy="488.1" r="0.8"/><circle cx="307.4" cy="502.6" r="0.8"/><circle cx="311.9" cy="486.6" r="0.8"/><circle cx="311.6" cy="496.4" r="0.8"/><circle cx="307.9" cy="494.2" r="0.8"/><circle cx="313.5" cy="489.0" r="0.8"/><circle cx="314.8" cy="488.9" r="0.8"/><circle cx="308.2" cy="488.5" r="0.8"/><circle cx="310.6" cy="499.9" r="0.8"/><circle cx="314.5" cy="490.9" r="0.8"/><circle cx="312.0" cy="494.3" r="0.8"/><circle cx="313.0" cy="494.8" r="0.8"/><circle cx="309.0" cy="505.1" r="0.8"/><circle cx="311.2" cy="493.0" r="0.8"/><circle cx="306.0" cy="498.1" r="0.8"/><circle cx="308.5" cy="487.3" r="0.8"/><circle cx="306.0" cy="497.7" r="0.8"/><circle cx="310.8" cy="495.8" r="0.8"/><circle cx="305.5" cy="495.7" r="0.8"/><circle cx="307.0" cy="496.2" r="0.8"/><circle cx="308.8" cy="491.0" r="0.8"/><circle cx="308.2" cy="487.8" r="0.8"/><circle cx="304.3" cy="491.8" r="0.8"/><circle cx="311.3" cy="485.2" r="0.8"/><circle cx="304.2" cy="491.9" r="0.8"/><circle cx="309.3" cy="487.1" r="0.8"/><circle cx="311.1" cy="497.2" r="0.8"/><circle cx="311.1" cy="490.9" r="0.8"/><circle cx="311.1" cy="499.7" r="0.8"/><circle cx="308.4" cy="501.0" r="0.8"/><circle cx="310.7" cy="485.7" r="0.8"/><circle cx="308.4" cy="505.5" r="0.8"/><circle cx="314.7" cy="493.0" r="0.8"/><circle cx="305.6" cy="495.6" r="0.8"/><circle cx="310.1" cy="485.8" r="0.8"/><circle cx="310.6" cy="495.7" r="0.8"/><circle cx="308.1" cy="489.6" r="0.8"/><circle cx="307.2" cy="491.2" r="0.8"/><circle cx="313.6" cy="492.4" r="0.8"/><circle cx="312.0" cy="492.5" r="0.8"/><circle cx="309.3" cy="505.6" r="0.8"/><circle cx="311.8" cy="494.6" r="0.8"/><circle cx="308.5" cy="505.3" r="0.8"/><circle cx="309.7" cy="498.1" r="0.8"/><circle cx="304.6" cy="489.1" r="0.8"/><circle cx="308.1" cy="505.1" r="0.8"/><circle cx="304.6" cy="495.1" r="0.8"/><circle cx="307.4" cy="499.4" r="0.8"/><circle cx="311.2" cy="498.6" r="0.8"/><circle cx="313.1" cy="493.2" r="0.8"/><circle cx="313.3" cy="488.1" r="0.8"/><circle cx="309.8" cy="493.2" r="0.8"/><circle cx="307.6" cy="496.8" r="0.8"/><circle cx="304.5" cy="487.9" r="0.8"/><circle cx="310.0" cy="488.5" r="0.8"/><circle cx="307.4" cy="486.1" r="0.8"/><circle cx="304.7" cy="491.1" r="0.8"/><circle cx="306.5" cy="499.8" r="0.8"/><circle cx="307.9" cy="502.8" r="0.8"/><circle cx="313.1" cy="492.1" r="0.8"/><circle cx="304.4" cy="490.1" r="0.8"/><circle cx="308.4" cy="500.1" r="0.8"/></g>
<polygon points="304.49,490.68 303.75,492.69 303.16,494.57 302.64,496.49 301.64,498.15 300.12,499.24 298.53,500.04 297.05,501.01 295.45,501.97 293.64,502.25 291.87,501.72 290.21,501.08 288.34,500.82 286.28,500.40 284.73,499.00 284.31,496.70 284.65,494.35 284.75,492.45 284.23,490.68 283.79,488.70 284.13,486.71 285.09,484.99 286.11,483.37 287.11,481.63 288.42,480.13 290.13,479.41 291.93,479.33 293.64,479.26 295.39,479.08 297.13,479.48 298.48,480.91 299.34,482.79 300.28,484.23 301.87,485.21 303.68,486.49 304.69,488.46" fill="#861228" stroke="#861228" stroke-width="1.0" stroke-linejoin="round"/>
<g fill="#8c1529"><circle cx="298.5" cy="488.3" r="0.8"/><circle cx="289.0" cy="493.8" r="0.8"/><circle cx="293.5" cy="500.0" r="0.8"/><circle cx="294.5" cy="502.0" r="0.8"/><circle cx="295.1" cy="497.7" r="0.8"/><circle cx="290.0" cy="487.1" r="0.8"/><circle cx="295.8" cy="483.8" r="0.8"/><circle cx="289.6" cy="479.9" r="0.8"/><circle cx="284.6" cy="492.1" r="0.8"/><circle cx="297.7" cy="500.0" r="0.8"/><circle cx="302.9" cy="494.6" r="0.8"/><circle cx="301.3" cy="496.6" r="0.8"/><circle cx="301.5" cy="489.0" r="0.8"/><circle cx="293.5" cy="492.6" r="0.8"/><circle cx="297.4" cy="487.4" r="0.8"/><circle cx="287.7" cy="486.3" r="0.8"/><circle cx="288.6" cy="481.5" r="0.8"/><circle cx="290.4" cy="494.2" r="0.8"/><circle cx="298.4" cy="484.9" r="0.8"/><circle cx="291.7" cy="492.6" r="0.8"/><circle cx="285.7" cy="482.4" r="0.8"/><circle cx="295.3" cy="484.3" r="0.8"/><circle cx="303.1" cy="488.5" r="0.8"/><circle cx="290.3" cy="498.8" r="0.8"/><circle cx="287.4" cy="493.0" r="0.8"/><circle cx="298.6" cy="485.1" r="0.8"/><circle cx="300.4" cy="487.0" r="0.8"/><circle cx="305.1" cy="487.9" r="0.8"/><circle cx="295.2" cy="488.3" r="0.8"/><circle cx="297.9" cy="488.7" r="0.8"/><circle cx="296.9" cy="493.9" r="0.8"/><circle cx="296.6" cy="481.0" r="0.8"/><circle cx="290.7" cy="484.4" r="0.8"/><circle cx="291.3" cy="493.3" r="0.8"/><circle cx="285.1" cy="484.3" r="0.8"/><circle cx="288.6" cy="487.5" r="0.8"/><circle cx="290.0" cy="497.6" r="0.8"/><circle cx="292.7" cy="501.7" r="0.8"/><circle cx="302.4" cy="493.7" r="0.8"/><circle cx="283.6" cy="487.4" r="0.8"/><circle cx="289.1" cy="487.1" r="0.8"/><circle cx="290.2" cy="484.1" r="0.8"/><circle cx="300.2" cy="484.3" r="0.8"/><circle cx="294.4" cy="491.2" r="0.8"/><circle cx="284.8" cy="499.8" r="0.8"/><circle cx="293.5" cy="502.4" r="0.8"/><circle cx="291.0" cy="497.6" r="0.8"/><circle cx="290.5" cy="493.1" r="0.8"/><circle cx="284.0" cy="497.4" r="0.8"/><circle cx="290.1" cy="500.3" r="0.8"/><circle cx="299.7" cy="497.8" r="0.8"/><circle cx="298.3" cy="481.5" r="0.8"/><circle cx="287.3" cy="488.8" r="0.8"/><circle cx="289.9" cy="500.0" r="0.8"/><circle cx="290.7" cy="492.3" r="0.8"/><circle cx="295.4" cy="501.1" r="0.8"/><circle cx="293.0" cy="489.0" r="0.8"/><circle cx="300.2" cy="490.1" r="0.8"/><circle cx="284.4" cy="485.5" r="0.8"/><circle cx="288.0" cy="493.4" r="0.8"/><circle cx="296.6" cy="480.7" r="0.8"/><circle cx="291.3" cy="482.6" r="0.8"/><circle cx="292.2" cy="486.5" r="0.8"/><circle cx="300.2" cy="495.7" r="0.8"/><circle cx="300.5" cy="491.9" r="0.8"/><circle cx="297.4" cy="491.5" r="0.8"/><circle cx="294.9" cy="487.4" r="0.8"/><circle cx="299.1" cy="489.6" r="0.8"/><circle cx="300.9" cy="488.9" r="0.8"/><circle cx="295.8" cy="485.6" r="0.8"/><circle cx="303.7" cy="485.9" r="0.8"/><circle cx="285.3" cy="487.0" r="0.8"/><circle cx="299.4" cy="483.5" r="0.8"/><circle cx="290.8" cy="493.1" r="0.8"/><circle cx="289.7" cy="479.8" r="0.8"/><circle cx="296.3" cy="489.0" r="0.8"/><circle cx="303.4" cy="489.4" r="0.8"/><circle cx="298.0" cy="496.1" r="0.8"/><circle cx="293.5" cy="480.9" r="0.8"/><circle cx="287.4" cy="500.4" r="0.8"/><circle cx="288.1" cy="485.9" r="0.8"/><circle cx="296.6" cy="496.5" r="0.8"/><circle cx="294.3" cy="487.8" r="0.8"/><circle cx="296.0" cy="497.2" r="0.8"/><circle cx="295.4" cy="496.3" r="0.8"/><circle cx="297.0" cy="486.8" r="0.8"/><circle cx="285.8" cy="498.7" r="0.8"/><circle cx="287.0" cy="499.0" r="0.8"/><circle cx="297.6" cy="479.7" r="0.8"/><circle cx="295.5" cy="491.9" r="0.8"/><circle cx="296.5" cy="497.7" r="0.8"/><circle cx="292.5" cy="489.5" r="0.8"/><circle cx="289.1" cy="481.1" r="0.8"/><circle cx="297.6" cy="489.1" r="0.8"/><circle cx="297.9" cy="486.3" r="0.8"/><circle cx="283.6" cy="490.2" r="0.8"/><circle cx="294.7" cy="502.1" r="0.8"/><circle cx="291.1" cy="498.2" r="0.8"/><circle cx="288.6" cy="486.4" r="0.8"/><circle cx="288.5" cy="499.6" r="0.8"/><circle cx="300.3" cy="484.3" r="0.8"/><circle cx="296.9" cy="490.2" r="0.8"/><circle cx="301.8" cy="497.8" r="0.8"/><circle cx="288.4" cy="489.2" r="0.8"/><circle cx="297.9" cy="495.2" r="0.8"/><circle cx="297.0" cy="492.2" r="0.8"/><circle cx="284.3" cy="495.9" r="0.8"/><circle cx="294.6" cy="495.4" r="0.8"/><circle cx="301.9" cy="498.2" r="0.8"/><circle cx="299.9" cy="492.7" r="0.8"/><circle cx="291.3" cy="486.6" r="0.8"/><circle cx="297.3" cy="482.3" r="0.8"/><circle cx="286.0" cy="485.3" r="0.8"/><circle cx="287.1" cy="483.2" r="0.8"/><circle cx="292.9" cy="483.6" r="0.8"/><circle cx="303.0" cy="486.7" r="0.8"/><circle cx="292.1" cy="484.3" r="0.8"/><circle cx="286.4" cy="482.3" r="0.8"/><circle cx="298.8" cy="490.6" r="0.8"/><circle cx="301.8" cy="489.4" r="0.8"/><circle cx="287.0" cy="480.7" r="0.8"/><circle cx="289.2" cy="489.0" r="0.8"/><circle cx="294.1" cy="494.4" r="0.8"/><circle cx="288.8" cy="498.2" r="0.8"/><circle cx="300.3" cy="496.4" r="0.8"/><circle cx="294.5" cy="497.0" r="0.8"/><circle cx="290.4" cy="501.4" r="0.8"/><circle cx="287.8" cy="486.2" r="0.8"/><circle cx="292.4" cy="485.5" r="0.8"/><circle cx="289.8" cy="485.3" r="0.8"/><circle cx="288.8" cy="496.1" r="0.8"/><circle cx="290.0" cy="492.2" r="0.8"/><circle cx="296.3" cy="501.9" r="0.8"/><circle cx="290.1" cy="488.5" r="0.8"/><circle cx="291.4" cy="483.9" r="0.8"/><circle cx="289.7" cy="501.9" r="0.8"/><circle cx="299.1" cy="499.9" r="0.8"/><circle cx="286.7" cy="487.8" r="0.8"/><circle cx="292.7" cy="495.6" r="0.8"/><circle cx="302.0" cy="498.3" r="0.8"/><circle cx="298.6" cy="486.2" r="0.8"/><circle cx="293.9" cy="482.9" r="0.8"/><circle cx="291.0" cy="486.3" r="0.8"/><circle cx="292.1" cy="488.9" r="0.8"/><circle cx="294.8" cy="478.5" r="0.8"/><circle cx="290.6" cy="486.7" r="0.8"/><circle cx="290.8" cy="487.5" r="0.8"/><circle cx="293.1" cy="499.3" r="0.8"/><circle cx="295.1" cy="501.5" r="0.8"/><circle cx="285.3" cy="500.7" r="0.8"/><circle cx="295.3" cy="490.3" r="0.8"/><circle cx="301.9" cy="488.3" r="0.8"/><circle cx="292.7" cy="484.4" r="0.8"/><circle cx="294.7" cy="488.3" r="0.8"/><circle cx="287.5" cy="491.8" r="0.8"/><circle cx="302.2" cy="498.1" r="0.8"/><circle cx="294.6" cy="493.1" r="0.8"/><circle cx="290.8" cy="479.7" r="0.8"/><circle cx="299.0" cy="496.9" r="0.8"/><circle cx="289.2" cy="488.2" r="0.8"/><circle cx="294.2" cy="497.4" r="0.8"/><circle cx="295.0" cy="492.4" r="0.8"/><circle cx="295.0" cy="489.7" r="0.8"/><circle cx="287.3" cy="485.1" r="0.8"/><circle cx="295.9" cy="483.2" r="0.8"/><circle cx="289.4" cy="493.2" r="0.8"/><circle cx="293.3" cy="479.7" r="0.8"/><circle cx="295.2" cy="501.9" r="0.8"/><circle cx="300.8" cy="487.3" r="0.8"/><circle cx="296.2" cy="486.7" r="0.8"/><circle cx="286.3" cy="482.5" r="0.8"/><circle cx="291.4" cy="495.4" r="0.8"/><circle cx="289.0" cy="491.4" r="0.8"/><circle cx="298.8" cy="482.0" r="0.8"/><circle cx="301.6" cy="491.5" r="0.8"/><circle cx="286.8" cy="483.2" r="0.8"/><circle cx="288.6" cy="480.9" r="0.8"/><circle cx="295.7" cy="487.5" r="0.8"/><circle cx="288.7" cy="480.4" r="0.8"/><circle cx="286.1" cy="485.8" r="0.8"/><circle cx="293.5" cy="495.8" r="0.8"/><circle cx="296.6" cy="497.3" r="0.8"/><circle cx="303.2" cy="486.5" r="0.8"/><circle cx="298.0" cy="481.9" r="0.8"/><circle cx="297.6" cy="498.9" r="0.8"/><circle cx="296.8" cy="487.3" r="0.8"/><circle cx="290.3" cy="481.8" r="0.8"/><circle cx="294.4" cy="480.0" r="0.8"/><circle cx="290.3" cy="485.2" r="0.8"/><circle cx="287.8" cy="484.7" r="0.8"/><circle cx="297.3" cy="489.5" r="0.8"/><circle cx="285.5" cy="501.1" r="0.8"/><circle cx="298.6" cy="490.8" r="0.8"/><circle cx="295.8" cy="500.8" r="0.8"/><circle cx="288.9" cy="485.8" r="0.8"/><circle cx="295.6" cy="494.0" r="0.8"/><circle cx="297.8" cy="479.4" r="0.8"/><circle cx="285.9" cy="486.2" r="0.8"/><circle cx="296.9" cy="494.2" r="0.8"/><circle cx="288.4" cy="486.4" r="0.8"/><circle cx="284.0" cy="492.3" r="0.8"/><circle cx="296.0" cy="491.1" r="0.8"/><circle cx="287.9" cy="499.7" r="0.8"/><circle cx="295.3" cy="485.6" r="0.8"/><circle cx="297.9" cy="491.6" r="0.8"/><circle cx="300.2" cy="494.4" r="0.8"/><circle cx="297.1" cy="491.1" r="0.8"/><circle cx="288.9" cy="484.3" r="0.8"/><circle cx="291.7" cy="498.6" r="0.8"/><circle cx="290.6" cy="494.0" r="0.8"/><circle cx="290.1" cy="501.8" r="0.8"/><circle cx="293.5" cy="496.4" r="0.8"/><circle cx="302.6" cy="487.6" r="0.8"/><circle cx="288.5" cy="493.9" r="0.8"/><circle cx="300.8" cy="499.4" r="0.8"/><circle cx="286.7" cy="481.1" r="0.8"/><circle cx="297.7" cy="489.1" r="0.8"/><circle cx="290.3" cy="483.3" r="0.8"/><circle cx="300.5" cy="484.5" r="0.8"/><circle cx="294.9" cy="490.9" r="0.8"/><circle cx="298.6" cy="491.0" r="0.8"/><circle cx="295.0" cy="483.9" r="0.8"/><circle cx="284.6" cy="498.3" r="0.8"/><circle cx="301.1" cy="490.7" r="0.8"/><circle cx="285.6" cy="489.1" r="0.8"/><circle cx="296.1" cy="485.4" r="0.8"/><circle cx="289.7" cy="494.4" r="0.8"/><circle cx="298.2" cy="487.9" r="0.8"/><circle cx="286.3" cy="499.2" r="0.8"/><circle cx="284.3" cy="489.0" r="0.8"/><circle cx="288.3" cy="483.1" r="0.8"/><circle cx="283.7" cy="486.7" r="0.8"/><circle cx="296.7" cy="493.2" r="0.8"/><circle cx="297.2" cy="484.9" r="0.8"/><circle cx="301.4" cy="493.2" r="0.8"/><circle cx="303.2" cy="490.1" r="0.8"/><circle cx="299.5" cy="481.9" r="0.8"/><circle cx="302.8" cy="496.0" r="0.8"/><circle cx="290.6" cy="500.4" r="0.8"/><circle cx="284.8" cy="493.7" r="0.8"/><circle cx="289.4" cy="495.2" r="0.8"/><circle cx="289.9" cy="489.6" r="0.8"/><circle cx="296.8" cy="478.7" r="0.8"/><circle cx="284.4" cy="496.7" r="0.8"/><circle cx="288.4" cy="490.7" r="0.8"/><circle cx="300.3" cy="489.8" r="0.8"/><circle cx="294.7" cy="493.1" r="0.8"/><circle cx="297.0" cy="481.3" r="0.8"/><circle cx="287.1" cy="486.9" r="0.8"/><circle cx="290.5" cy="490.0" r="0.8"/><circle cx="292.5" cy="479.6" r="0.8"/><circle cx="288.2" cy="483.5" r="0.8"/><circle cx="291.1" cy="482.7" r="0.8"/><circle cx="291.0" cy="494.3" r="0.8"/><circle cx="294.2" cy="497.9" r="0.8"/><circle cx="286.4" cy="487.5" r="0.8"/><circle cx="299.5" cy="496.9" r="0.8"/><circle cx="284.3" cy="495.3" r="0.8"/><circle cx="302.4" cy="488.4" r="0.8"/><circle cx="297.4" cy="485.4" r="0.8"/></g>
<g fill="#7a1a30"><circle cx="301.6" cy="500.5" r="0.6"/><circle cx="288.3" cy="502.4" r="0.6"/><circle cx="304.8" cy="489.6" r="0.6"/><circle cx="302.9" cy="499.7" r="0.6"/><circle cx="305.1" cy="492.7" r="0.6"/><circle cx="291.2" cy="477.4" r="0.6"/><circle cx="303.4" cy="496.2" r="0.6"/><circle cx="281.5" cy="486.9" r="0.6"/><circle cx="281.4" cy="490.1" r="0.6"/><circle cx="296.6" cy="477.8" r="0.6"/><circle cx="301.1" cy="501.7" r="0.6"/><circle cx="291.6" cy="477.7" r="0.6"/><circle cx="295.4" cy="502.9" r="0.6"/><circle cx="300.6" cy="501.8" r="0.6"/><circle cx="292.1" cy="478.0" r="0.6"/><circle cx="296.3" cy="503.7" r="0.6"/><circle cx="286.6" cy="501.4" r="0.6"/><circle cx="305.9" cy="490.9" r="0.6"/></g>
<g fill="#f2d5dc"><circle cx="290.8" cy="496.1" r="0.6"/><circle cx="297.9" cy="495.5" r="0.45"/><circle cx="293.5" cy="498.7" r="0.6"/><circle cx="294.7" cy="491.9" r="0.6"/><circle cx="289.4" cy="500.9" r="0.45"/><circle cx="300.6" cy="495.4" r="0.75"/></g>
<circle cx="295.2" cy="476.7" r="1.4" fill="#4a1020"/>
<circle cx="290.4" cy="470.5" r="0.9" fill="#555"/>
<rect x="320.00" y="455.40" width="53.75" height="56.00" fill="#fff" stroke="#c0c0c0" stroke-width="0.95"/>
<polygon points="328.60,464.92 334.83,464.36 343.44,475.84 346.07,478.92 353.32,478.92 358.70,484.52 367.30,486.20 371.06,490.12 369.45,500.20 366.23,505.80 361.93,503.00 357.62,500.20 353.32,503.56 342.95,504.68 333.76,501.88 330.21,508.82 323.12,507.48 323.12,486.20 324.03,473.88 329.94,472.76 328.06,467.72" fill="#d9d9d9" stroke="#d9d9d9" stroke-width="1.2" stroke-linejoin="round"/>
<line x1="332.63125" y1="457.08" x2="332.63125" y2="464.35999999999996" stroke="#c8c8c8" stroke-width="1.2"/>
<circle cx="332.6" cy="460.4" r="0.8" fill="#888"/>
<g fill="#786a98"><circle cx="330.1" cy="500.7" r="0.75"/><circle cx="338.6" cy="491.1" r="0.75"/><circle cx="333.7" cy="489.5" r="0.75"/><circle cx="327.2" cy="499.1" r="0.75"/><circle cx="324.8" cy="498.1" r="0.75"/><circle cx="327.8" cy="485.6" r="0.75"/><circle cx="334.7" cy="491.1" r="0.75"/><circle cx="324.8" cy="484.6" r="0.75"/><circle cx="337.8" cy="491.0" r="0.75"/><circle cx="337.6" cy="497.2" r="0.75"/><circle cx="323.8" cy="489.8" r="0.75"/><circle cx="334.4" cy="487.2" r="0.75"/><circle cx="329.5" cy="498.3" r="0.75"/><circle cx="331.6" cy="507.2" r="0.75"/><circle cx="327.8" cy="481.4" r="0.75"/><circle cx="335.3" cy="499.2" r="0.75"/><circle cx="326.9" cy="493.4" r="0.75"/><circle cx="328.7" cy="484.1" r="0.75"/><circle cx="326.3" cy="481.8" r="0.75"/><circle cx="331.4" cy="484.2" r="0.75"/><circle cx="324.3" cy="483.2" r="0.75"/><circle cx="336.2" cy="498.0" r="0.75"/><circle cx="329.9" cy="502.2" r="0.75"/><circle cx="324.6" cy="491.8" r="0.75"/><circle cx="326.4" cy="493.5" r="0.75"/><circle cx="330.0" cy="482.4" r="0.75"/><circle cx="334.2" cy="491.8" r="0.75"/><circle cx="333.6" cy="494.0" r="0.75"/><circle cx="333.9" cy="489.2" r="0.75"/><circle cx="338.2" cy="494.6" r="0.75"/><circle cx="328.0" cy="496.3" r="0.75"/><circle cx="337.6" cy="494.0" r="0.75"/><circle cx="329.5" cy="495.2" r="0.75"/><circle cx="336.0" cy="485.5" r="0.75"/><circle cx="339.5" cy="491.6" r="0.75"/><circle cx="331.2" cy="494.6" r="0.75"/><circle cx="337.2" cy="485.2" r="0.75"/><circle cx="327.0" cy="493.7" r="0.75"/><circle cx="324.0" cy="492.3" r="0.75"/><circle cx="326.0" cy="485.9" r="0.75"/><circle cx="330.2" cy="504.7" r="0.75"/><circle cx="334.6" cy="488.1" r="0.75"/><circle cx="335.1" cy="494.3" r="0.75"/><circle cx="323.8" cy="492.4" r="0.75"/><circle cx="336.2" cy="502.3" r="0.75"/><circle cx="332.9" cy="490.8" r="0.75"/><circle cx="331.7" cy="502.6" r="0.75"/><circle cx="331.5" cy="495.2" r="0.75"/><circle cx="334.1" cy="494.8" r="0.75"/><circle cx="325.6" cy="490.7" r="0.75"/><circle cx="327.1" cy="501.4" r="0.75"/><circle cx="335.7" cy="484.3" r="0.75"/><circle cx="334.0" cy="504.1" r="0.75"/><circle cx="338.8" cy="490.7" r="0.75"/><circle cx="330.3" cy="494.9" r="0.75"/><circle cx="331.2" cy="506.8" r="0.75"/><circle cx="328.4" cy="496.8" r="0.75"/><circle cx="330.8" cy="486.2" r="0.75"/><circle cx="325.3" cy="491.2" r="0.75"/><circle cx="331.8" cy="491.5" r="0.75"/><circle cx="326.2" cy="502.0" r="0.75"/><circle cx="337.2" cy="486.5" r="0.75"/><circle cx="330.1" cy="486.8" r="0.75"/><circle cx="337.0" cy="497.3" r="0.75"/><circle cx="330.8" cy="480.7" r="0.75"/><circle cx="329.5" cy="499.5" r="0.75"/><circle cx="327.1" cy="493.5" r="0.75"/><circle cx="337.4" cy="489.9" r="0.75"/><circle cx="326.0" cy="498.8" r="0.75"/><circle cx="335.9" cy="497.0" r="0.75"/><circle cx="332.8" cy="492.8" r="0.75"/><circle cx="338.9" cy="489.5" r="0.75"/><circle cx="328.0" cy="490.5" r="0.75"/><circle cx="338.4" cy="500.6" r="0.75"/><circle cx="327.1" cy="502.6" r="0.75"/><circle cx="337.8" cy="499.2" r="0.75"/><circle cx="334.7" cy="486.8" r="0.75"/><circle cx="323.8" cy="503.9" r="0.75"/><circle cx="329.6" cy="502.7" r="0.75"/><circle cx="336.8" cy="500.1" r="0.75"/><circle cx="329.5" cy="505.4" r="0.75"/><circle cx="325.4" cy="485.6" r="0.75"/><circle cx="339.1" cy="495.3" r="0.75"/><circle cx="324.9" cy="484.6" r="0.75"/><circle cx="331.4" cy="498.2" r="0.75"/><circle cx="324.4" cy="505.8" r="0.75"/><circle cx="328.8" cy="486.0" r="0.75"/><circle cx="332.4" cy="493.5" r="0.75"/><circle cx="332.4" cy="499.9" r="0.75"/><circle cx="327.0" cy="502.0" r="0.75"/><circle cx="329.5" cy="491.3" r="0.75"/><circle cx="336.7" cy="501.9" r="0.75"/><circle cx="331.3" cy="489.9" r="0.75"/><circle cx="333.0" cy="503.4" r="0.75"/><circle cx="326.9" cy="499.5" r="0.75"/><circle cx="332.2" cy="506.0" r="0.75"/><circle cx="331.1" cy="493.0" r="0.75"/><circle cx="328.2" cy="486.2" r="0.75"/><circle cx="329.3" cy="486.3" r="0.75"/><circle cx="334.9" cy="495.9" r="0.75"/><circle cx="336.8" cy="500.8" r="0.75"/><circle cx="334.7" cy="494.8" r="0.75"/><circle cx="332.2" cy="489.8" r="0.75"/><circle cx="329.3" cy="489.5" r="0.75"/><circle cx="332.8" cy="492.5" r="0.75"/><circle cx="333.5" cy="498.6" r="0.75"/><circle cx="334.6" cy="496.2" r="0.75"/><circle cx="331.8" cy="492.9" r="0.75"/><circle cx="325.1" cy="502.3" r="0.75"/><circle cx="332.3" cy="489.9" r="0.75"/><circle cx="329.2" cy="506.0" r="0.75"/><circle cx="329.7" cy="496.1" r="0.75"/><circle cx="331.1" cy="498.4" r="0.75"/><circle cx="333.7" cy="494.9" r="0.75"/><circle cx="325.6" cy="481.3" r="0.75"/><circle cx="335.3" cy="480.7" r="0.75"/><circle cx="333.0" cy="488.1" r="0.75"/><circle cx="336.9" cy="489.3" r="0.75"/><circle cx="324.6" cy="484.9" r="0.75"/><circle cx="329.6" cy="498.0" r="0.75"/></g>
<g fill="#55584a"><circle cx="339.7" cy="480.3" r="0.55"/><circle cx="327.3" cy="477.2" r="0.55"/><circle cx="333.1" cy="476.1" r="0.55"/><circle cx="329.7" cy="472.3" r="0.55"/><circle cx="331.0" cy="477.5" r="0.55"/><circle cx="335.9" cy="476.7" r="0.55"/><circle cx="331.5" cy="477.0" r="0.55"/><circle cx="332.3" cy="474.1" r="0.55"/><circle cx="338.3" cy="475.2" r="0.55"/><circle cx="330.5" cy="472.4" r="0.55"/><circle cx="330.9" cy="479.3" r="0.55"/><circle cx="341.3" cy="480.9" r="0.55"/><circle cx="333.9" cy="470.5" r="0.55"/><circle cx="341.9" cy="479.0" r="0.55"/><circle cx="336.5" cy="474.9" r="0.55"/><circle cx="331.9" cy="475.8" r="0.55"/><circle cx="327.3" cy="478.3" r="0.55"/><circle cx="335.2" cy="475.7" r="0.55"/><circle cx="333.6" cy="482.1" r="0.55"/><circle cx="330.5" cy="473.9" r="0.55"/><circle cx="339.5" cy="478.7" r="0.55"/><circle cx="332.2" cy="467.2" r="0.55"/><circle cx="343.0" cy="480.0" r="0.55"/><circle cx="336.0" cy="481.4" r="0.55"/><circle cx="341.1" cy="477.3" r="0.55"/><circle cx="331.3" cy="466.6" r="0.55"/><circle cx="339.1" cy="477.9" r="0.55"/><circle cx="333.3" cy="480.8" r="0.55"/><circle cx="334.2" cy="479.7" r="0.55"/><circle cx="330.4" cy="474.9" r="0.55"/><circle cx="340.6" cy="478.2" r="0.55"/><circle cx="341.9" cy="475.4" r="0.55"/><circle cx="338.1" cy="469.0" r="0.55"/><circle cx="341.3" cy="479.0" r="0.55"/><circle cx="334.3" cy="480.8" r="0.55"/></g>
<g fill="#45404a"><circle cx="333.7" cy="494.2" r="0.5"/><circle cx="335.6" cy="495.0" r="0.5"/><circle cx="333.5" cy="504.1" r="0.5"/><circle cx="331.8" cy="502.5" r="0.5"/><circle cx="326.8" cy="503.1" r="0.5"/><circle cx="333.8" cy="503.5" r="0.5"/><circle cx="336.9" cy="497.4" r="0.5"/><circle cx="334.4" cy="489.5" r="0.5"/><circle cx="329.1" cy="497.4" r="0.5"/><circle cx="338.3" cy="488.8" r="0.5"/><circle cx="335.7" cy="498.5" r="0.5"/><circle cx="329.3" cy="504.1" r="0.5"/><circle cx="325.9" cy="502.2" r="0.5"/><circle cx="339.8" cy="489.5" r="0.5"/><circle cx="335.6" cy="490.2" r="0.5"/><circle cx="332.9" cy="498.0" r="0.5"/><circle cx="335.9" cy="498.0" r="0.5"/></g>
<polygon points="360.65,487.66 367.05,486.70 370.70,489.08 369.79,495.75 367.96,499.56 367.05,504.32 364.31,504.79 362.48,499.56 360.65,495.75" fill="#4b2d6b" stroke="#4b2d6b" stroke-width="1.0" stroke-linejoin="round"/>
<g fill="#4a2c6c"><circle cx="359.8" cy="494.3" r="0.8"/><circle cx="362.2" cy="493.5" r="0.8"/><circle cx="366.7" cy="503.7" r="0.8"/><circle cx="367.5" cy="492.3" r="0.8"/><circle cx="368.2" cy="490.8" r="0.8"/><circle cx="365.7" cy="498.4" r="0.8"/><circle cx="369.0" cy="490.3" r="0.8"/><circle cx="368.7" cy="496.6" r="0.8"/><circle cx="367.2" cy="487.1" r="0.8"/><circle cx="366.0" cy="487.0" r="0.8"/><circle cx="367.2" cy="501.9" r="0.8"/><circle cx="364.3" cy="494.3" r="0.8"/><circle cx="367.2" cy="497.0" r="0.8"/><circle cx="367.9" cy="492.5" r="0.8"/><circle cx="362.4" cy="500.1" r="0.8"/><circle cx="367.5" cy="503.4" r="0.8"/><circle cx="360.5" cy="495.3" r="0.8"/><circle cx="363.8" cy="492.4" r="0.8"/><circle cx="365.2" cy="496.8" r="0.8"/><circle cx="361.2" cy="496.9" r="0.8"/><circle cx="367.3" cy="487.7" r="0.8"/><circle cx="363.8" cy="490.8" r="0.8"/><circle cx="366.3" cy="486.8" r="0.8"/><circle cx="365.0" cy="493.0" r="0.8"/><circle cx="367.1" cy="491.6" r="0.8"/><circle cx="367.4" cy="495.7" r="0.8"/><circle cx="365.2" cy="502.0" r="0.8"/><circle cx="368.5" cy="491.1" r="0.8"/><circle cx="363.5" cy="493.8" r="0.8"/><circle cx="360.4" cy="494.0" r="0.8"/><circle cx="363.7" cy="492.0" r="0.8"/><circle cx="362.4" cy="490.4" r="0.8"/><circle cx="365.2" cy="496.7" r="0.8"/><circle cx="366.9" cy="488.7" r="0.8"/><circle cx="362.3" cy="494.2" r="0.8"/><circle cx="369.1" cy="497.4" r="0.8"/><circle cx="362.1" cy="498.9" r="0.8"/><circle cx="366.6" cy="488.3" r="0.8"/><circle cx="360.4" cy="496.3" r="0.8"/><circle cx="370.6" cy="492.1" r="0.8"/><circle cx="367.3" cy="487.3" r="0.8"/><circle cx="363.3" cy="500.4" r="0.8"/><circle cx="368.5" cy="494.3" r="0.8"/><circle cx="363.2" cy="487.6" r="0.8"/><circle cx="362.5" cy="499.1" r="0.8"/><circle cx="365.8" cy="497.2" r="0.8"/><circle cx="364.7" cy="497.1" r="0.8"/><circle cx="366.4" cy="491.9" r="0.8"/><circle cx="364.1" cy="488.6" r="0.8"/><circle cx="367.2" cy="502.5" r="0.8"/><circle cx="362.5" cy="497.6" r="0.8"/><circle cx="364.4" cy="488.9" r="0.8"/><circle cx="368.6" cy="487.9" r="0.8"/><circle cx="363.1" cy="495.9" r="0.8"/><circle cx="362.1" cy="497.4" r="0.8"/><circle cx="365.4" cy="489.8" r="0.8"/><circle cx="367.8" cy="498.7" r="0.8"/><circle cx="369.0" cy="498.3" r="0.8"/><circle cx="366.5" cy="485.9" r="0.8"/><circle cx="363.4" cy="494.2" r="0.8"/><circle cx="360.3" cy="487.2" r="0.8"/><circle cx="369.5" cy="487.4" r="0.8"/><circle cx="366.4" cy="490.2" r="0.8"/><circle cx="366.0" cy="493.4" r="0.8"/><circle cx="362.9" cy="494.8" r="0.8"/><circle cx="365.2" cy="487.8" r="0.8"/><circle cx="368.6" cy="488.6" r="0.8"/><circle cx="369.4" cy="498.0" r="0.8"/><circle cx="364.3" cy="492.9" r="0.8"/><circle cx="364.2" cy="504.7" r="0.8"/><circle cx="363.8" cy="490.9" r="0.8"/><circle cx="363.2" cy="499.7" r="0.8"/><circle cx="365.2" cy="489.8" r="0.8"/><circle cx="362.0" cy="488.7" r="0.8"/><circle cx="366.1" cy="486.2" r="0.8"/><circle cx="364.6" cy="489.4" r="0.8"/><circle cx="369.9" cy="496.9" r="0.8"/><circle cx="365.6" cy="495.0" r="0.8"/><circle cx="366.5" cy="501.8" r="0.8"/><circle cx="370.2" cy="490.6" r="0.8"/><circle cx="364.9" cy="487.4" r="0.8"/><circle cx="368.1" cy="494.9" r="0.8"/><circle cx="363.5" cy="489.6" r="0.8"/><circle cx="364.9" cy="491.2" r="0.8"/><circle cx="365.6" cy="497.2" r="0.8"/><circle cx="364.6" cy="497.7" r="0.8"/><circle cx="364.7" cy="495.7" r="0.8"/><circle cx="365.5" cy="503.0" r="0.8"/><circle cx="368.7" cy="491.5" r="0.8"/><circle cx="361.7" cy="491.8" r="0.8"/><circle cx="362.4" cy="487.9" r="0.8"/><circle cx="368.9" cy="497.3" r="0.8"/><circle cx="361.7" cy="492.5" r="0.8"/><circle cx="366.1" cy="498.7" r="0.8"/><circle cx="361.6" cy="490.9" r="0.8"/><circle cx="365.4" cy="504.9" r="0.8"/><circle cx="362.0" cy="493.3" r="0.8"/><circle cx="367.6" cy="502.4" r="0.8"/><circle cx="369.6" cy="487.6" r="0.8"/><circle cx="367.8" cy="485.6" r="0.8"/><circle cx="363.4" cy="486.2" r="0.8"/><circle cx="365.8" cy="487.8" r="0.8"/><circle cx="367.6" cy="493.8" r="0.8"/><circle cx="369.4" cy="492.0" r="0.8"/><circle cx="360.7" cy="495.7" r="0.8"/><circle cx="365.7" cy="503.1" r="0.8"/><circle cx="360.1" cy="488.9" r="0.8"/><circle cx="362.7" cy="494.3" r="0.8"/><circle cx="362.6" cy="493.3" r="0.8"/><circle cx="368.8" cy="496.9" r="0.8"/><circle cx="361.1" cy="492.7" r="0.8"/><circle cx="360.1" cy="494.8" r="0.8"/><circle cx="362.5" cy="491.5" r="0.8"/><circle cx="363.8" cy="503.5" r="0.8"/><circle cx="360.8" cy="487.0" r="0.8"/><circle cx="361.3" cy="494.2" r="0.8"/><circle cx="364.9" cy="504.9" r="0.8"/><circle cx="368.4" cy="490.8" r="0.8"/><circle cx="361.3" cy="496.7" r="0.8"/><circle cx="369.6" cy="489.9" r="0.8"/><circle cx="368.8" cy="492.8" r="0.8"/><circle cx="366.8" cy="493.3" r="0.8"/><circle cx="365.9" cy="504.3" r="0.8"/><circle cx="365.5" cy="497.1" r="0.8"/><circle cx="365.6" cy="485.6" r="0.8"/><circle cx="368.7" cy="487.3" r="0.8"/><circle cx="366.5" cy="490.5" r="0.8"/><circle cx="367.9" cy="498.4" r="0.8"/><circle cx="362.5" cy="495.4" r="0.8"/><circle cx="370.7" cy="493.5" r="0.8"/><circle cx="362.2" cy="496.2" r="0.8"/><circle cx="363.5" cy="486.8" r="0.8"/><circle cx="369.3" cy="494.8" r="0.8"/><circle cx="369.7" cy="487.3" r="0.8"/><circle cx="363.8" cy="487.6" r="0.8"/><circle cx="369.8" cy="494.6" r="0.8"/><circle cx="366.9" cy="486.2" r="0.8"/><circle cx="365.0" cy="493.3" r="0.8"/><circle cx="368.1" cy="490.1" r="0.8"/><circle cx="365.9" cy="495.1" r="0.8"/><circle cx="363.8" cy="486.3" r="0.8"/><circle cx="361.4" cy="489.2" r="0.8"/><circle cx="363.6" cy="485.8" r="0.8"/><circle cx="363.8" cy="491.1" r="0.8"/></g>
<polygon points="358.42,490.68 359.09,492.97 358.65,495.20 357.44,497.00 356.17,498.61 355.01,500.31 353.60,501.85 351.80,502.74 349.86,503.00 347.95,503.06 346.04,502.97 344.23,502.31 342.76,500.94 341.54,499.43 340.06,498.28 338.20,497.18 336.65,495.45 336.30,493.07 337.10,490.68 338.09,488.63 338.60,486.65 338.97,484.51 339.84,482.55 341.30,481.17 342.93,480.21 344.50,479.26 346.16,478.39 347.95,478.07 349.75,478.36 351.53,478.83 353.41,479.30 355.22,480.29 356.38,482.22 356.67,484.69 356.71,486.90 357.31,488.73" fill="#861228" stroke="#861228" stroke-width="1.0" stroke-linejoin="round"/>
<g fill="#8c1529"><circle cx="356.0" cy="499.0" r="0.8"/><circle cx="354.8" cy="497.7" r="0.8"/><circle cx="350.0" cy="494.9" r="0.8"/><circle cx="346.8" cy="488.1" r="0.8"/><circle cx="347.2" cy="494.6" r="0.8"/><circle cx="349.7" cy="486.7" r="0.8"/><circle cx="355.5" cy="488.3" r="0.8"/><circle cx="341.8" cy="490.3" r="0.8"/><circle cx="357.0" cy="486.9" r="0.8"/><circle cx="353.5" cy="480.1" r="0.8"/><circle cx="349.5" cy="498.3" r="0.8"/><circle cx="343.7" cy="486.9" r="0.8"/><circle cx="345.9" cy="479.6" r="0.8"/><circle cx="345.2" cy="496.9" r="0.8"/><circle cx="342.8" cy="487.7" r="0.8"/><circle cx="357.0" cy="496.6" r="0.8"/><circle cx="352.5" cy="483.2" r="0.8"/><circle cx="341.1" cy="500.2" r="0.8"/><circle cx="348.3" cy="477.0" r="0.8"/><circle cx="349.4" cy="480.9" r="0.8"/><circle cx="352.5" cy="495.3" r="0.8"/><circle cx="358.3" cy="490.5" r="0.8"/><circle cx="351.5" cy="492.3" r="0.8"/><circle cx="345.6" cy="490.6" r="0.8"/><circle cx="339.0" cy="487.7" r="0.8"/><circle cx="350.8" cy="499.9" r="0.8"/><circle cx="339.0" cy="490.1" r="0.8"/><circle cx="356.3" cy="482.5" r="0.8"/><circle cx="355.3" cy="480.8" r="0.8"/><circle cx="347.0" cy="492.2" r="0.8"/><circle cx="347.5" cy="489.7" r="0.8"/><circle cx="350.5" cy="499.7" r="0.8"/><circle cx="356.9" cy="498.8" r="0.8"/><circle cx="345.7" cy="480.9" r="0.8"/><circle cx="352.1" cy="503.4" r="0.8"/><circle cx="355.2" cy="498.4" r="0.8"/><circle cx="341.5" cy="491.9" r="0.8"/><circle cx="353.1" cy="494.3" r="0.8"/><circle cx="341.3" cy="487.8" r="0.8"/><circle cx="339.4" cy="490.4" r="0.8"/><circle cx="338.5" cy="495.5" r="0.8"/><circle cx="341.0" cy="496.0" r="0.8"/><circle cx="350.3" cy="488.5" r="0.8"/><circle cx="355.0" cy="493.9" r="0.8"/><circle cx="352.0" cy="491.1" r="0.8"/><circle cx="344.2" cy="488.4" r="0.8"/><circle cx="348.5" cy="485.2" r="0.8"/><circle cx="342.5" cy="496.1" r="0.8"/><circle cx="337.9" cy="489.2" r="0.8"/><circle cx="352.5" cy="488.6" r="0.8"/><circle cx="348.8" cy="489.1" r="0.8"/><circle cx="345.2" cy="493.3" r="0.8"/><circle cx="344.7" cy="483.3" r="0.8"/><circle cx="345.4" cy="500.9" r="0.8"/><circle cx="337.3" cy="489.7" r="0.8"/><circle cx="339.8" cy="499.2" r="0.8"/><circle cx="341.3" cy="487.4" r="0.8"/><circle cx="349.5" cy="496.8" r="0.8"/><circle cx="351.7" cy="502.1" r="0.8"/><circle cx="344.0" cy="496.1" r="0.8"/><circle cx="340.8" cy="487.2" r="0.8"/><circle cx="341.7" cy="494.3" r="0.8"/><circle cx="351.2" cy="501.4" r="0.8"/><circle cx="356.8" cy="488.2" r="0.8"/><circle cx="345.3" cy="483.4" r="0.8"/><circle cx="349.8" cy="488.4" r="0.8"/><circle cx="358.6" cy="492.5" r="0.8"/><circle cx="352.4" cy="495.5" r="0.8"/><circle cx="346.3" cy="502.4" r="0.8"/><circle cx="343.5" cy="485.3" r="0.8"/><circle cx="342.8" cy="484.3" r="0.8"/><circle cx="347.7" cy="494.7" r="0.8"/><circle cx="356.4" cy="492.7" r="0.8"/><circle cx="346.0" cy="487.7" r="0.8"/><circle cx="353.0" cy="492.3" r="0.8"/><circle cx="345.0" cy="487.3" r="0.8"/><circle cx="339.5" cy="487.4" r="0.8"/><circle cx="343.5" cy="494.0" r="0.8"/><circle cx="357.8" cy="492.8" r="0.8"/><circle cx="356.0" cy="495.5" r="0.8"/><circle cx="343.8" cy="488.3" r="0.8"/><circle cx="344.0" cy="484.0" r="0.8"/><circle cx="338.4" cy="497.8" r="0.8"/><circle cx="349.4" cy="500.4" r="0.8"/><circle cx="356.9" cy="497.8" r="0.8"/><circle cx="352.3" cy="485.2" r="0.8"/><circle cx="350.0" cy="490.7" r="0.8"/><circle cx="340.6" cy="492.0" r="0.8"/><circle cx="346.0" cy="494.1" r="0.8"/><circle cx="353.6" cy="500.6" r="0.8"/><circle cx="342.7" cy="499.9" r="0.8"/><circle cx="343.6" cy="500.8" r="0.8"/><circle cx="348.2" cy="493.4" r="0.8"/><circle cx="347.9" cy="485.1" r="0.8"/><circle cx="354.2" cy="484.4" r="0.8"/><circle cx="347.6" cy="485.5" r="0.8"/><circle cx="342.4" cy="498.0" r="0.8"/><circle cx="351.6" cy="489.4" r="0.8"/><circle cx="351.7" cy="497.8" r="0.8"/><circle cx="350.3" cy="501.1" r="0.8"/><circle cx="341.8" cy="480.8" r="0.8"/><circle cx="346.7" cy="501.2" r="0.8"/><circle cx="337.7" cy="493.3" r="0.8"/><circle cx="341.3" cy="492.2" r="0.8"/><circle cx="356.0" cy="484.5" r="0.8"/><circle cx="337.9" cy="488.8" r="0.8"/><circle cx="341.9" cy="480.4" r="0.8"/><circle cx="347.1" cy="501.1" r="0.8"/><circle cx="349.8" cy="493.9" r="0.8"/><circle cx="339.5" cy="491.9" r="0.8"/><circle cx="355.6" cy="484.6" r="0.8"/><circle cx="351.4" cy="484.9" r="0.8"/><circle cx="356.0" cy="493.4" r="0.8"/><circle cx="347.1" cy="489.6" r="0.8"/><circle cx="338.8" cy="491.6" r="0.8"/><circle cx="339.7" cy="489.9" r="0.8"/><circle cx="355.6" cy="497.2" r="0.8"/><circle cx="347.4" cy="478.5" r="0.8"/><circle cx="341.5" cy="497.8" r="0.8"/><circle cx="351.2" cy="483.0" r="0.8"/><circle cx="354.9" cy="498.1" r="0.8"/><circle cx="359.0" cy="494.8" r="0.8"/><circle cx="350.5" cy="482.0" r="0.8"/><circle cx="339.2" cy="497.6" r="0.8"/><circle cx="354.2" cy="502.7" r="0.8"/><circle cx="348.1" cy="503.9" r="0.8"/><circle cx="340.7" cy="489.6" r="0.8"/><circle cx="352.9" cy="502.0" r="0.8"/><circle cx="344.6" cy="500.1" r="0.8"/><circle cx="356.1" cy="494.0" r="0.8"/><circle cx="342.9" cy="498.8" r="0.8"/><circle cx="345.4" cy="500.2" r="0.8"/><circle cx="350.7" cy="485.5" r="0.8"/><circle cx="342.3" cy="490.8" r="0.8"/><circle cx="352.2" cy="479.6" r="0.8"/><circle cx="341.1" cy="486.9" r="0.8"/><circle cx="352.3" cy="487.4" r="0.8"/><circle cx="337.8" cy="496.2" r="0.8"/><circle cx="359.3" cy="492.7" r="0.8"/><circle cx="358.0" cy="488.3" r="0.8"/><circle cx="357.0" cy="495.6" r="0.8"/><circle cx="347.0" cy="482.0" r="0.8"/><circle cx="358.5" cy="496.7" r="0.8"/><circle cx="353.2" cy="502.4" r="0.8"/><circle cx="340.6" cy="491.9" r="0.8"/><circle cx="346.0" cy="501.4" r="0.8"/><circle cx="352.9" cy="502.8" r="0.8"/><circle cx="347.7" cy="497.5" r="0.8"/><circle cx="346.6" cy="493.7" r="0.8"/><circle cx="359.3" cy="492.6" r="0.8"/><circle cx="342.5" cy="483.2" r="0.8"/><circle cx="342.9" cy="491.3" r="0.8"/><circle cx="337.4" cy="488.9" r="0.8"/><circle cx="343.4" cy="486.6" r="0.8"/><circle cx="344.3" cy="485.2" r="0.8"/><circle cx="349.0" cy="496.0" r="0.8"/><circle cx="346.5" cy="496.3" r="0.8"/><circle cx="344.3" cy="499.3" r="0.8"/><circle cx="342.4" cy="493.5" r="0.8"/><circle cx="357.2" cy="496.5" r="0.8"/><circle cx="348.5" cy="477.7" r="0.8"/><circle cx="356.4" cy="497.2" r="0.8"/><circle cx="343.4" cy="493.9" r="0.8"/><circle cx="342.3" cy="495.1" r="0.8"/><circle cx="343.4" cy="494.0" r="0.8"/><circle cx="357.2" cy="490.4" r="0.8"/><circle cx="355.1" cy="486.9" r="0.8"/><circle cx="339.1" cy="484.7" r="0.8"/><circle cx="344.1" cy="490.2" r="0.8"/><circle cx="347.6" cy="501.3" r="0.8"/><circle cx="356.9" cy="487.0" r="0.8"/><circle cx="356.2" cy="494.2" r="0.8"/><circle cx="338.8" cy="489.5" r="0.8"/><circle cx="351.1" cy="480.5" r="0.8"/><circle cx="353.5" cy="491.6" r="0.8"/><circle cx="346.4" cy="493.5" r="0.8"/><circle cx="344.4" cy="490.8" r="0.8"/><circle cx="340.5" cy="496.4" r="0.8"/><circle cx="342.9" cy="491.0" r="0.8"/><circle cx="345.2" cy="482.1" r="0.8"/><circle cx="352.4" cy="490.5" r="0.8"/><circle cx="342.5" cy="497.2" r="0.8"/><circle cx="348.5" cy="485.7" r="0.8"/><circle cx="355.1" cy="490.3" r="0.8"/><circle cx="354.2" cy="488.1" r="0.8"/><circle cx="348.7" cy="496.2" r="0.8"/><circle cx="352.2" cy="502.5" r="0.8"/><circle cx="346.7" cy="481.3" r="0.8"/><circle cx="349.3" cy="483.5" r="0.8"/><circle cx="345.0" cy="501.8" r="0.8"/><circle cx="351.6" cy="480.7" r="0.8"/><circle cx="348.6" cy="477.1" r="0.8"/><circle cx="348.2" cy="504.0" r="0.8"/><circle cx="346.7" cy="483.7" r="0.8"/><circle cx="347.6" cy="485.6" r="0.8"/><circle cx="348.2" cy="486.6" r="0.8"/><circle cx="336.3" cy="494.7" r="0.8"/><circle cx="359.7" cy="492.4" r="0.8"/><circle cx="343.0" cy="490.6" r="0.8"/><circle cx="341.9" cy="486.4" r="0.8"/><circle cx="356.4" cy="487.4" r="0.8"/><circle cx="349.9" cy="490.9" r="0.8"/><circle cx="355.1" cy="491.6" r="0.8"/><circle cx="347.4" cy="478.4" r="0.8"/><circle cx="349.3" cy="491.2" r="0.8"/><circle cx="347.8" cy="498.6" r="0.8"/><circle cx="343.6" cy="495.9" r="0.8"/><circle cx="340.5" cy="498.9" r="0.8"/><circle cx="357.0" cy="491.9" r="0.8"/><circle cx="344.2" cy="500.3" r="0.8"/><circle cx="356.3" cy="488.1" r="0.8"/><circle cx="346.2" cy="494.6" r="0.8"/><circle cx="351.3" cy="486.2" r="0.8"/><circle cx="351.5" cy="492.7" r="0.8"/><circle cx="353.3" cy="488.6" r="0.8"/><circle cx="343.1" cy="499.3" r="0.8"/><circle cx="352.3" cy="486.6" r="0.8"/><circle cx="340.5" cy="480.7" r="0.8"/><circle cx="343.2" cy="483.5" r="0.8"/><circle cx="342.2" cy="481.6" r="0.8"/><circle cx="347.3" cy="497.0" r="0.8"/><circle cx="353.4" cy="501.6" r="0.8"/><circle cx="352.9" cy="481.3" r="0.8"/><circle cx="358.9" cy="493.7" r="0.8"/><circle cx="353.7" cy="497.5" r="0.8"/><circle cx="340.4" cy="499.6" r="0.8"/><circle cx="343.4" cy="499.9" r="0.8"/><circle cx="349.7" cy="493.4" r="0.8"/><circle cx="343.3" cy="489.0" r="0.8"/><circle cx="350.2" cy="497.8" r="0.8"/><circle cx="354.8" cy="484.5" r="0.8"/><circle cx="352.2" cy="492.8" r="0.8"/><circle cx="347.4" cy="491.3" r="0.8"/><circle cx="357.6" cy="487.2" r="0.8"/><circle cx="356.1" cy="493.9" r="0.8"/><circle cx="346.6" cy="479.1" r="0.8"/><circle cx="360.0" cy="492.9" r="0.8"/><circle cx="345.4" cy="493.2" r="0.8"/><circle cx="345.9" cy="490.4" r="0.8"/><circle cx="350.6" cy="498.8" r="0.8"/><circle cx="344.7" cy="502.7" r="0.8"/><circle cx="350.8" cy="498.7" r="0.8"/><circle cx="357.8" cy="492.6" r="0.8"/><circle cx="348.1" cy="485.8" r="0.8"/><circle cx="354.4" cy="484.1" r="0.8"/><circle cx="346.7" cy="480.7" r="0.8"/><circle cx="350.9" cy="480.6" r="0.8"/><circle cx="348.8" cy="499.6" r="0.8"/><circle cx="347.4" cy="481.9" r="0.8"/><circle cx="343.5" cy="492.0" r="0.8"/><circle cx="343.9" cy="481.1" r="0.8"/><circle cx="340.0" cy="496.2" r="0.8"/><circle cx="353.1" cy="480.9" r="0.8"/><circle cx="340.8" cy="491.5" r="0.8"/><circle cx="343.4" cy="487.1" r="0.8"/><circle cx="341.2" cy="496.7" r="0.8"/><circle cx="341.7" cy="496.3" r="0.8"/><circle cx="341.2" cy="486.8" r="0.8"/><circle cx="356.1" cy="483.1" r="0.8"/><circle cx="357.0" cy="497.4" r="0.8"/></g>
<g fill="#7a1a30"><circle cx="337.4" cy="497.3" r="0.6"/><circle cx="354.0" cy="503.0" r="0.6"/><circle cx="335.1" cy="491.4" r="0.6"/><circle cx="356.7" cy="479.9" r="0.6"/><circle cx="336.0" cy="485.7" r="0.6"/><circle cx="339.1" cy="482.0" r="0.6"/><circle cx="360.2" cy="494.6" r="0.6"/><circle cx="336.1" cy="497.0" r="0.6"/><circle cx="349.3" cy="504.8" r="0.6"/><circle cx="347.8" cy="505.4" r="0.6"/><circle cx="351.8" cy="477.8" r="0.6"/><circle cx="338.2" cy="500.4" r="0.6"/><circle cx="347.0" cy="475.9" r="0.6"/><circle cx="354.6" cy="503.4" r="0.6"/><circle cx="335.4" cy="495.2" r="0.6"/><circle cx="352.3" cy="504.8" r="0.6"/><circle cx="359.0" cy="483.3" r="0.6"/><circle cx="354.0" cy="503.1" r="0.6"/></g>
<g fill="#f2d5dc"><circle cx="345.6" cy="500.6" r="0.45"/><circle cx="341.8" cy="499.9" r="0.75"/><circle cx="348.3" cy="497.0" r="0.45"/><circle cx="343.2" cy="492.2" r="0.6"/><circle cx="350.5" cy="497.3" r="0.45"/><circle cx="352.0" cy="493.1" r="0.45"/></g>
<circle cx="349.6" cy="475.6" r="1.4" fill="#4a1020"/>
<circle cx="344.7" cy="469.4" r="0.9" fill="#555"/>
<rect x="375.90" y="455.40" width="53.60" height="56.00" fill="#fff" stroke="#c0c0c0" stroke-width="0.95"/>
<polygon points="384.48,464.92 390.69,464.36 399.27,475.84 401.90,478.92 409.13,478.92 414.49,484.52 423.07,486.20 426.82,490.12 425.21,500.20 422.00,505.80 417.71,503.00 413.42,500.20 409.13,503.56 398.79,504.68 389.62,501.88 386.08,508.82 379.01,507.48 379.01,486.20 379.92,473.88 385.82,472.76 383.94,467.72" fill="#d9d9d9" stroke="#d9d9d9" stroke-width="1.2" stroke-linejoin="round"/>
<line x1="388.496" y1="457.08" x2="388.496" y2="464.35999999999996" stroke="#c8c8c8" stroke-width="1.2"/>
<circle cx="388.5" cy="460.4" r="0.8" fill="#888"/>
<g fill="#55584a"><circle cx="394.2" cy="476.8" r="0.55"/><circle cx="389.7" cy="477.5" r="0.55"/><circle cx="390.8" cy="470.7" r="0.55"/><circle cx="388.2" cy="472.8" r="0.55"/><circle cx="384.4" cy="478.1" r="0.55"/><circle cx="385.5" cy="475.6" r="0.55"/><circle cx="386.6" cy="470.0" r="0.55"/><circle cx="386.3" cy="474.1" r="0.55"/><circle cx="387.7" cy="478.3" r="0.55"/><circle cx="388.0" cy="468.2" r="0.55"/><circle cx="397.8" cy="478.4" r="0.55"/><circle cx="390.8" cy="472.9" r="0.55"/><circle cx="397.2" cy="474.1" r="0.55"/><circle cx="386.9" cy="476.3" r="0.55"/></g>
<g fill="#45404a"><circle cx="388.3" cy="500.5" r="0.5"/><circle cx="392.6" cy="488.2" r="0.5"/><circle cx="384.1" cy="502.8" r="0.5"/><circle cx="385.6" cy="498.8" r="0.5"/><circle cx="391.9" cy="497.6" r="0.5"/><circle cx="394.5" cy="492.1" r="0.5"/><circle cx="386.1" cy="494.5" r="0.5"/></g>
<g fill="#4a2c6c"><circle cx="420.6" cy="499.7" r="0.8"/><circle cx="422.1" cy="504.9" r="0.8"/><circle cx="423.0" cy="497.3" r="0.8"/><circle cx="423.3" cy="489.9" r="0.8"/><circle cx="421.4" cy="496.1" r="0.8"/><circle cx="425.6" cy="497.2" r="0.8"/><circle cx="420.9" cy="505.2" r="0.8"/><circle cx="418.0" cy="489.7" r="0.8"/><circle cx="420.9" cy="505.4" r="0.8"/><circle cx="422.2" cy="494.1" r="0.8"/><circle cx="426.0" cy="490.7" r="0.8"/><circle cx="423.6" cy="491.0" r="0.8"/><circle cx="419.5" cy="502.0" r="0.8"/><circle cx="420.0" cy="504.4" r="0.8"/><circle cx="421.8" cy="488.2" r="0.8"/><circle cx="421.1" cy="495.8" r="0.8"/><circle cx="421.8" cy="493.1" r="0.8"/><circle cx="423.9" cy="495.1" r="0.8"/><circle cx="420.6" cy="495.7" r="0.8"/><circle cx="423.0" cy="487.0" r="0.8"/><circle cx="420.6" cy="491.1" r="0.8"/><circle cx="420.1" cy="493.2" r="0.8"/><circle cx="420.1" cy="493.4" r="0.8"/><circle cx="424.5" cy="490.8" r="0.8"/><circle cx="420.3" cy="500.4" r="0.8"/><circle cx="424.2" cy="492.2" r="0.8"/><circle cx="420.2" cy="500.2" r="0.8"/><circle cx="421.2" cy="502.0" r="0.8"/><circle cx="424.4" cy="490.8" r="0.8"/><circle cx="420.8" cy="491.8" r="0.8"/><circle cx="423.0" cy="493.3" r="0.8"/><circle cx="422.8" cy="491.2" r="0.8"/><circle cx="419.4" cy="498.1" r="0.8"/><circle cx="418.4" cy="490.7" r="0.8"/><circle cx="418.1" cy="499.7" r="0.8"/><circle cx="418.9" cy="491.6" r="0.8"/><circle cx="426.4" cy="496.4" r="0.8"/><circle cx="422.2" cy="492.6" r="0.8"/><circle cx="422.7" cy="501.4" r="0.8"/><circle cx="421.0" cy="488.9" r="0.8"/><circle cx="419.1" cy="499.9" r="0.8"/><circle cx="422.3" cy="504.4" r="0.8"/><circle cx="419.5" cy="500.2" r="0.8"/><circle cx="421.3" cy="491.7" r="0.8"/><circle cx="424.9" cy="492.5" r="0.8"/><circle cx="419.5" cy="495.0" r="0.8"/><circle cx="421.7" cy="487.9" r="0.8"/><circle cx="421.1" cy="488.7" r="0.8"/><circle cx="418.8" cy="489.8" r="0.8"/><circle cx="417.9" cy="496.9" r="0.8"/><circle cx="420.0" cy="502.0" r="0.8"/><circle cx="419.3" cy="490.2" r="0.8"/><circle cx="417.8" cy="490.9" r="0.8"/><circle cx="418.9" cy="498.5" r="0.8"/><circle cx="421.8" cy="504.7" r="0.8"/><circle cx="426.1" cy="491.8" r="0.8"/><circle cx="420.1" cy="496.0" r="0.8"/><circle cx="421.5" cy="501.8" r="0.8"/><circle cx="419.2" cy="503.2" r="0.8"/><circle cx="423.5" cy="493.9" r="0.8"/><circle cx="421.9" cy="501.4" r="0.8"/><circle cx="426.1" cy="492.0" r="0.8"/><circle cx="422.0" cy="504.2" r="0.8"/><circle cx="425.6" cy="492.2" r="0.8"/><circle cx="425.5" cy="488.5" r="0.8"/><circle cx="421.4" cy="497.4" r="0.8"/><circle cx="423.3" cy="498.2" r="0.8"/><circle cx="424.3" cy="489.5" r="0.8"/><circle cx="423.0" cy="486.9" r="0.8"/><circle cx="419.4" cy="496.0" r="0.8"/><circle cx="421.2" cy="499.6" r="0.8"/><circle cx="418.6" cy="496.3" r="0.8"/><circle cx="421.7" cy="490.0" r="0.8"/><circle cx="427.5" cy="491.1" r="0.8"/><circle cx="426.8" cy="493.0" r="0.8"/><circle cx="420.4" cy="502.0" r="0.8"/><circle cx="423.1" cy="497.8" r="0.8"/><circle cx="424.8" cy="496.4" r="0.8"/><circle cx="426.0" cy="497.1" r="0.8"/><circle cx="422.3" cy="503.9" r="0.8"/><circle cx="422.4" cy="499.8" r="0.8"/><circle cx="418.0" cy="491.7" r="0.8"/><circle cx="419.0" cy="503.3" r="0.8"/><circle cx="427.6" cy="490.0" r="0.8"/><circle cx="420.2" cy="491.0" r="0.8"/><circle cx="423.7" cy="500.1" r="0.8"/><circle cx="419.9" cy="502.4" r="0.8"/><circle cx="422.0" cy="495.9" r="0.8"/><circle cx="421.1" cy="495.1" r="0.8"/><circle cx="420.9" cy="505.4" r="0.8"/><circle cx="420.5" cy="488.0" r="0.8"/><circle cx="426.5" cy="494.0" r="0.8"/><circle cx="424.1" cy="492.0" r="0.8"/><circle cx="418.5" cy="490.5" r="0.8"/><circle cx="425.4" cy="496.8" r="0.8"/><circle cx="424.3" cy="500.5" r="0.8"/></g>
<g fill="#e6def0"><circle cx="423.3" cy="499.5" r="0.5"/><circle cx="419.2" cy="489.8" r="0.5"/><circle cx="421.9" cy="502.7" r="0.5"/><circle cx="419.6" cy="501.5" r="0.5"/><circle cx="418.3" cy="488.7" r="0.5"/><circle cx="425.8" cy="490.5" r="0.5"/><circle cx="424.8" cy="497.9" r="0.5"/><circle cx="421.0" cy="504.4" r="0.5"/><circle cx="420.0" cy="495.1" r="0.5"/><circle cx="418.4" cy="497.5" r="0.5"/><circle cx="424.5" cy="496.3" r="0.5"/><circle cx="421.2" cy="487.1" r="0.5"/><circle cx="424.0" cy="487.0" r="0.5"/><circle cx="425.3" cy="498.3" r="0.5"/><circle cx="425.3" cy="491.7" r="0.5"/><circle cx="423.0" cy="493.7" r="0.5"/><circle cx="423.1" cy="498.2" r="0.5"/><circle cx="419.3" cy="505.0" r="0.5"/><circle cx="420.2" cy="494.7" r="0.5"/><circle cx="420.8" cy="492.2" r="0.5"/><circle cx="422.9" cy="495.6" r="0.5"/><circle cx="421.5" cy="492.1" r="0.5"/><circle cx="420.9" cy="504.1" r="0.5"/><circle cx="423.9" cy="488.4" r="0.5"/><circle cx="419.1" cy="493.5" r="0.5"/></g>
<polygon points="415.25,492.64 414.58,494.60 414.22,496.51 414.05,498.63 413.40,500.66 412.04,502.06 410.31,502.75 408.63,503.17 407.02,503.60 405.38,503.83 403.72,503.73 402.04,503.48 400.23,503.20 398.43,502.47 397.15,500.87 396.72,498.62 396.78,496.41 396.56,494.52 395.92,492.64 395.54,490.52 396.06,488.48 397.30,486.88 398.58,485.56 399.60,484.06 400.65,482.41 402.02,481.10 403.67,480.47 405.38,480.34 407.07,480.60 408.65,481.41 409.90,482.86 410.88,484.48 411.98,485.78 413.47,486.88 414.93,488.37 415.59,490.44" fill="#861228" stroke="#861228" stroke-width="1.0" stroke-linejoin="round"/>
<g fill="#8c1529"><circle cx="403.6" cy="482.8" r="0.8"/><circle cx="406.2" cy="499.3" r="0.8"/><circle cx="398.0" cy="485.0" r="0.8"/><circle cx="407.5" cy="484.9" r="0.8"/><circle cx="401.5" cy="484.3" r="0.8"/><circle cx="412.9" cy="486.3" r="0.8"/><circle cx="398.8" cy="499.6" r="0.8"/><circle cx="413.3" cy="486.4" r="0.8"/><circle cx="396.3" cy="499.4" r="0.8"/><circle cx="401.1" cy="491.2" r="0.8"/><circle cx="397.7" cy="496.6" r="0.8"/><circle cx="398.0" cy="491.0" r="0.8"/><circle cx="397.5" cy="497.3" r="0.8"/><circle cx="399.8" cy="502.4" r="0.8"/><circle cx="402.9" cy="487.4" r="0.8"/><circle cx="414.8" cy="497.8" r="0.8"/><circle cx="402.9" cy="492.2" r="0.8"/><circle cx="398.2" cy="488.9" r="0.8"/><circle cx="408.5" cy="499.7" r="0.8"/><circle cx="400.5" cy="497.6" r="0.8"/><circle cx="402.7" cy="500.8" r="0.8"/><circle cx="413.7" cy="487.5" r="0.8"/><circle cx="405.4" cy="488.8" r="0.8"/><circle cx="395.5" cy="490.0" r="0.8"/><circle cx="407.7" cy="496.7" r="0.8"/><circle cx="414.0" cy="492.1" r="0.8"/><circle cx="410.9" cy="500.5" r="0.8"/><circle cx="401.7" cy="481.5" r="0.8"/><circle cx="404.2" cy="496.2" r="0.8"/><circle cx="401.8" cy="499.8" r="0.8"/><circle cx="400.5" cy="502.4" r="0.8"/><circle cx="407.8" cy="491.3" r="0.8"/><circle cx="401.9" cy="481.9" r="0.8"/><circle cx="406.5" cy="480.1" r="0.8"/><circle cx="398.3" cy="498.1" r="0.8"/><circle cx="404.0" cy="481.6" r="0.8"/><circle cx="414.9" cy="497.3" r="0.8"/><circle cx="407.0" cy="491.9" r="0.8"/><circle cx="397.9" cy="492.4" r="0.8"/><circle cx="407.3" cy="486.6" r="0.8"/><circle cx="407.9" cy="495.5" r="0.8"/><circle cx="402.8" cy="494.3" r="0.8"/><circle cx="398.7" cy="496.6" r="0.8"/><circle cx="395.6" cy="494.0" r="0.8"/><circle cx="406.1" cy="498.7" r="0.8"/><circle cx="398.0" cy="486.7" r="0.8"/><circle cx="399.7" cy="502.9" r="0.8"/><circle cx="402.6" cy="481.0" r="0.8"/><circle cx="398.5" cy="502.9" r="0.8"/><circle cx="408.9" cy="488.9" r="0.8"/><circle cx="406.4" cy="482.9" r="0.8"/><circle cx="396.4" cy="492.1" r="0.8"/><circle cx="405.2" cy="494.4" r="0.8"/><circle cx="406.4" cy="485.4" r="0.8"/><circle cx="397.6" cy="485.9" r="0.8"/><circle cx="407.0" cy="498.0" r="0.8"/><circle cx="397.6" cy="496.4" r="0.8"/><circle cx="402.8" cy="497.4" r="0.8"/><circle cx="412.8" cy="488.0" r="0.8"/><circle cx="404.9" cy="494.5" r="0.8"/><circle cx="403.7" cy="497.9" r="0.8"/><circle cx="406.5" cy="502.0" r="0.8"/><circle cx="414.8" cy="487.8" r="0.8"/><circle cx="398.6" cy="492.9" r="0.8"/><circle cx="405.4" cy="480.1" r="0.8"/><circle cx="396.4" cy="496.6" r="0.8"/><circle cx="406.4" cy="482.8" r="0.8"/><circle cx="410.9" cy="498.3" r="0.8"/><circle cx="410.2" cy="501.9" r="0.8"/><circle cx="399.0" cy="490.6" r="0.8"/><circle cx="408.0" cy="499.9" r="0.8"/><circle cx="402.8" cy="487.7" r="0.8"/><circle cx="406.5" cy="489.2" r="0.8"/><circle cx="410.5" cy="486.7" r="0.8"/><circle cx="405.5" cy="480.3" r="0.8"/><circle cx="406.6" cy="492.9" r="0.8"/><circle cx="406.2" cy="480.6" r="0.8"/><circle cx="397.9" cy="495.9" r="0.8"/><circle cx="401.2" cy="486.0" r="0.8"/><circle cx="401.7" cy="496.7" r="0.8"/><circle cx="401.5" cy="487.0" r="0.8"/><circle cx="412.7" cy="488.6" r="0.8"/><circle cx="411.8" cy="498.5" r="0.8"/><circle cx="411.2" cy="486.4" r="0.8"/><circle cx="405.4" cy="480.2" r="0.8"/><circle cx="413.1" cy="493.8" r="0.8"/><circle cx="405.2" cy="504.8" r="0.8"/><circle cx="403.7" cy="498.8" r="0.8"/><circle cx="405.3" cy="481.7" r="0.8"/><circle cx="406.3" cy="504.2" r="0.8"/><circle cx="400.7" cy="485.1" r="0.8"/><circle cx="407.0" cy="493.6" r="0.8"/><circle cx="408.6" cy="488.8" r="0.8"/><circle cx="407.8" cy="503.1" r="0.8"/><circle cx="401.3" cy="499.6" r="0.8"/><circle cx="411.8" cy="499.0" r="0.8"/><circle cx="396.3" cy="490.8" r="0.8"/><circle cx="395.8" cy="493.9" r="0.8"/><circle cx="399.9" cy="499.3" r="0.8"/><circle cx="403.3" cy="484.9" r="0.8"/><circle cx="415.5" cy="493.8" r="0.8"/><circle cx="411.2" cy="496.7" r="0.8"/><circle cx="407.4" cy="484.5" r="0.8"/><circle cx="399.4" cy="493.2" r="0.8"/><circle cx="414.0" cy="488.9" r="0.8"/><circle cx="410.3" cy="494.8" r="0.8"/><circle cx="403.8" cy="493.3" r="0.8"/><circle cx="410.2" cy="494.1" r="0.8"/><circle cx="414.2" cy="486.7" r="0.8"/><circle cx="411.1" cy="495.0" r="0.8"/><circle cx="406.2" cy="487.7" r="0.8"/><circle cx="413.0" cy="499.1" r="0.8"/><circle cx="402.8" cy="491.6" r="0.8"/><circle cx="396.0" cy="492.6" r="0.8"/><circle cx="410.6" cy="490.3" r="0.8"/><circle cx="408.5" cy="487.1" r="0.8"/><circle cx="395.6" cy="489.5" r="0.8"/><circle cx="397.6" cy="492.8" r="0.8"/><circle cx="398.4" cy="500.3" r="0.8"/><circle cx="412.4" cy="489.2" r="0.8"/><circle cx="400.1" cy="489.0" r="0.8"/><circle cx="397.9" cy="491.3" r="0.8"/><circle cx="402.9" cy="486.9" r="0.8"/><circle cx="410.0" cy="494.7" r="0.8"/><circle cx="409.6" cy="484.1" r="0.8"/><circle cx="409.3" cy="493.8" r="0.8"/><circle cx="397.9" cy="485.2" r="0.8"/><circle cx="405.9" cy="486.2" r="0.8"/><circle cx="401.9" cy="492.5" r="0.8"/><circle cx="407.1" cy="487.8" r="0.8"/><circle cx="401.1" cy="495.1" r="0.8"/><circle cx="408.9" cy="500.9" r="0.8"/><circle cx="401.3" cy="497.4" r="0.8"/><circle cx="411.8" cy="496.0" r="0.8"/><circle cx="408.5" cy="484.7" r="0.8"/><circle cx="407.5" cy="488.0" r="0.8"/><circle cx="400.7" cy="483.1" r="0.8"/><circle cx="400.0" cy="493.1" r="0.8"/><circle cx="398.0" cy="493.1" r="0.8"/><circle cx="410.7" cy="495.9" r="0.8"/><circle cx="404.8" cy="488.9" r="0.8"/><circle cx="402.5" cy="491.1" r="0.8"/><circle cx="399.9" cy="499.4" r="0.8"/><circle cx="398.1" cy="502.0" r="0.8"/><circle cx="407.2" cy="502.1" r="0.8"/><circle cx="404.2" cy="496.6" r="0.8"/><circle cx="406.5" cy="481.7" r="0.8"/><circle cx="399.4" cy="495.1" r="0.8"/><circle cx="396.0" cy="492.3" r="0.8"/><circle cx="404.9" cy="498.3" r="0.8"/><circle cx="404.4" cy="481.8" r="0.8"/><circle cx="407.0" cy="489.0" r="0.8"/><circle cx="406.2" cy="485.1" r="0.8"/><circle cx="407.0" cy="493.3" r="0.8"/><circle cx="408.7" cy="498.8" r="0.8"/><circle cx="395.2" cy="492.3" r="0.8"/><circle cx="411.4" cy="502.5" r="0.8"/><circle cx="408.3" cy="500.0" r="0.8"/><circle cx="412.8" cy="501.2" r="0.8"/><circle cx="401.6" cy="491.7" r="0.8"/><circle cx="408.5" cy="492.7" r="0.8"/><circle cx="398.4" cy="486.3" r="0.8"/><circle cx="396.6" cy="493.3" r="0.8"/><circle cx="400.5" cy="498.8" r="0.8"/><circle cx="411.8" cy="485.2" r="0.8"/><circle cx="402.5" cy="480.4" r="0.8"/><circle cx="402.6" cy="504.5" r="0.8"/><circle cx="402.8" cy="495.3" r="0.8"/><circle cx="407.8" cy="502.5" r="0.8"/><circle cx="412.9" cy="489.7" r="0.8"/><circle cx="408.1" cy="482.7" r="0.8"/><circle cx="407.5" cy="496.0" r="0.8"/><circle cx="408.1" cy="481.9" r="0.8"/><circle cx="407.1" cy="486.4" r="0.8"/><circle cx="402.1" cy="491.5" r="0.8"/><circle cx="398.6" cy="489.4" r="0.8"/><circle cx="413.2" cy="498.8" r="0.8"/><circle cx="404.3" cy="500.3" r="0.8"/><circle cx="395.1" cy="490.2" r="0.8"/><circle cx="411.0" cy="499.5" r="0.8"/><circle cx="403.5" cy="482.5" r="0.8"/><circle cx="407.1" cy="492.6" r="0.8"/><circle cx="412.0" cy="499.8" r="0.8"/><circle cx="404.3" cy="487.8" r="0.8"/><circle cx="399.9" cy="495.1" r="0.8"/><circle cx="405.4" cy="503.4" r="0.8"/><circle cx="397.7" cy="485.9" r="0.8"/><circle cx="399.3" cy="492.7" r="0.8"/><circle cx="402.3" cy="485.5" r="0.8"/><circle cx="413.1" cy="500.5" r="0.8"/><circle cx="407.7" cy="496.0" r="0.8"/><circle cx="415.2" cy="492.9" r="0.8"/><circle cx="412.9" cy="502.4" r="0.8"/><circle cx="399.5" cy="495.8" r="0.8"/><circle cx="404.1" cy="481.2" r="0.8"/><circle cx="410.6" cy="491.7" r="0.8"/><circle cx="406.0" cy="490.9" r="0.8"/><circle cx="407.4" cy="491.8" r="0.8"/><circle cx="406.2" cy="482.4" r="0.8"/><circle cx="400.8" cy="499.6" r="0.8"/><circle cx="410.5" cy="502.8" r="0.8"/><circle cx="410.9" cy="487.0" r="0.8"/><circle cx="410.0" cy="502.8" r="0.8"/><circle cx="411.0" cy="496.2" r="0.8"/><circle cx="399.7" cy="501.7" r="0.8"/><circle cx="412.1" cy="497.2" r="0.8"/><circle cx="406.8" cy="479.7" r="0.8"/><circle cx="402.6" cy="504.4" r="0.8"/><circle cx="411.5" cy="492.3" r="0.8"/><circle cx="404.1" cy="489.0" r="0.8"/><circle cx="401.7" cy="487.7" r="0.8"/><circle cx="404.6" cy="495.8" r="0.8"/><circle cx="409.0" cy="495.2" r="0.8"/><circle cx="405.1" cy="493.3" r="0.8"/><circle cx="399.8" cy="493.7" r="0.8"/><circle cx="399.8" cy="496.1" r="0.8"/><circle cx="399.9" cy="490.0" r="0.8"/><circle cx="404.1" cy="496.6" r="0.8"/><circle cx="400.4" cy="483.8" r="0.8"/><circle cx="411.6" cy="484.6" r="0.8"/><circle cx="406.9" cy="483.5" r="0.8"/><circle cx="405.7" cy="489.1" r="0.8"/><circle cx="405.5" cy="493.6" r="0.8"/><circle cx="400.1" cy="489.7" r="0.8"/><circle cx="400.7" cy="498.8" r="0.8"/><circle cx="407.6" cy="499.9" r="0.8"/><circle cx="396.3" cy="494.6" r="0.8"/><circle cx="404.0" cy="490.7" r="0.8"/><circle cx="404.9" cy="501.7" r="0.8"/><circle cx="410.7" cy="502.2" r="0.8"/><circle cx="412.6" cy="487.4" r="0.8"/><circle cx="412.7" cy="488.5" r="0.8"/><circle cx="404.2" cy="499.0" r="0.8"/><circle cx="410.6" cy="497.7" r="0.8"/><circle cx="413.2" cy="501.3" r="0.8"/><circle cx="409.0" cy="495.8" r="0.8"/><circle cx="409.8" cy="501.3" r="0.8"/><circle cx="404.6" cy="485.4" r="0.8"/><circle cx="401.3" cy="480.9" r="0.8"/><circle cx="413.8" cy="493.3" r="0.8"/><circle cx="397.5" cy="488.3" r="0.8"/><circle cx="402.6" cy="503.2" r="0.8"/><circle cx="408.7" cy="503.6" r="0.8"/><circle cx="415.1" cy="487.5" r="0.8"/><circle cx="406.9" cy="496.8" r="0.8"/><circle cx="401.2" cy="490.3" r="0.8"/><circle cx="405.9" cy="495.3" r="0.8"/><circle cx="403.7" cy="486.0" r="0.8"/><circle cx="401.6" cy="483.0" r="0.8"/><circle cx="413.6" cy="491.3" r="0.8"/><circle cx="410.7" cy="494.4" r="0.8"/><circle cx="406.4" cy="503.5" r="0.8"/><circle cx="410.2" cy="488.6" r="0.8"/><circle cx="412.2" cy="487.8" r="0.8"/><circle cx="410.5" cy="498.9" r="0.8"/><circle cx="399.0" cy="494.6" r="0.8"/><circle cx="411.6" cy="490.7" r="0.8"/><circle cx="400.3" cy="502.3" r="0.8"/><circle cx="409.3" cy="498.6" r="0.8"/><circle cx="411.9" cy="501.2" r="0.8"/></g>
<g fill="#7a1a30"><circle cx="416.4" cy="495.3" r="0.6"/><circle cx="416.0" cy="498.7" r="0.6"/><circle cx="396.6" cy="484.5" r="0.6"/><circle cx="401.7" cy="479.2" r="0.6"/><circle cx="413.4" cy="483.2" r="0.6"/><circle cx="416.6" cy="494.6" r="0.6"/><circle cx="404.4" cy="506.5" r="0.6"/><circle cx="399.6" cy="504.9" r="0.6"/><circle cx="403.2" cy="506.5" r="0.6"/><circle cx="415.8" cy="486.7" r="0.6"/><circle cx="416.9" cy="495.7" r="0.6"/><circle cx="412.1" cy="482.5" r="0.6"/><circle cx="403.9" cy="480.0" r="0.6"/><circle cx="400.7" cy="504.7" r="0.6"/><circle cx="411.8" cy="504.1" r="0.6"/><circle cx="416.8" cy="491.5" r="0.6"/><circle cx="415.8" cy="488.0" r="0.6"/><circle cx="413.1" cy="502.2" r="0.6"/></g>
<g fill="#f2d5dc"><circle cx="410.5" cy="496.5" r="0.6"/><circle cx="403.4" cy="501.0" r="0.45"/><circle cx="403.7" cy="501.9" r="0.45"/><circle cx="404.7" cy="502.8" r="0.6"/><circle cx="405.3" cy="500.1" r="0.75"/><circle cx="408.3" cy="495.0" r="0.75"/><circle cx="412.5" cy="502.2" r="0.6"/><circle cx="402.1" cy="497.1" r="0.75"/><circle cx="401.5" cy="499.8" r="0.75"/><circle cx="403.5" cy="503.1" r="0.6"/></g>
<g fill="#f0d8de"><circle cx="401.8" cy="494.2" r="0.55"/><circle cx="408.3" cy="496.2" r="0.55"/><circle cx="402.1" cy="496.1" r="0.55"/><circle cx="402.8" cy="494.0" r="0.55"/><circle cx="408.2" cy="496.0" r="0.55"/><circle cx="409.3" cy="494.7" r="0.55"/><circle cx="408.6" cy="494.1" r="0.55"/><circle cx="409.5" cy="495.9" r="0.55"/><circle cx="402.6" cy="496.2" r="0.55"/><circle cx="402.5" cy="493.8" r="0.55"/><circle cx="406.2" cy="493.5" r="0.55"/><circle cx="409.1" cy="496.3" r="0.55"/><circle cx="408.1" cy="495.7" r="0.55"/><circle cx="406.6" cy="494.0" r="0.55"/><circle cx="402.2" cy="494.1" r="0.55"/><circle cx="408.6" cy="494.5" r="0.55"/><circle cx="409.1" cy="495.9" r="0.55"/><circle cx="401.9" cy="494.6" r="0.55"/><circle cx="405.4" cy="493.5" r="0.55"/><circle cx="403.6" cy="493.8" r="0.55"/><circle cx="402.4" cy="494.2" r="0.55"/><circle cx="408.9" cy="494.8" r="0.55"/></g>
<circle cx="407.0" cy="478.4" r="1.4" fill="#4a1020"/>
<circle cx="402.2" cy="472.2" r="0.9" fill="#555"/>
<rect x="431.25" y="455.40" width="53.75" height="56.00" fill="#fff" stroke="#c0c0c0" stroke-width="0.95"/>
<polygon points="439.85,464.92 446.08,464.36 454.69,475.84 457.32,478.92 464.57,478.92 469.95,484.52 478.55,486.20 482.31,490.12 480.70,500.20 477.48,505.80 473.18,503.00 468.88,500.20 464.57,503.56 454.20,504.68 445.01,501.88 441.46,508.82 434.37,507.48 434.37,486.20 435.28,473.88 441.19,472.76 439.31,467.72" fill="#d9d9d9" stroke="#d9d9d9" stroke-width="1.2" stroke-linejoin="round"/>
<line x1="443.88125" y1="457.08" x2="443.88125" y2="464.35999999999996" stroke="#c8c8c8" stroke-width="1.2"/>
<circle cx="443.9" cy="460.4" r="0.8" fill="#888"/>
<g fill="#786a98"><circle cx="443.7" cy="489.0" r="0.75"/><circle cx="440.6" cy="497.2" r="0.75"/><circle cx="444.9" cy="492.7" r="0.75"/><circle cx="440.1" cy="486.7" r="0.75"/><circle cx="450.2" cy="491.8" r="0.75"/><circle cx="435.6" cy="481.1" r="0.75"/><circle cx="443.9" cy="481.6" r="0.75"/><circle cx="442.3" cy="494.8" r="0.75"/><circle cx="440.5" cy="506.3" r="0.75"/><circle cx="436.5" cy="481.1" r="0.75"/><circle cx="446.2" cy="485.6" r="0.75"/><circle cx="440.8" cy="501.8" r="0.75"/><circle cx="437.2" cy="502.7" r="0.75"/><circle cx="445.6" cy="488.9" r="0.75"/><circle cx="444.5" cy="504.3" r="0.75"/><circle cx="439.1" cy="494.6" r="0.75"/><circle cx="448.7" cy="498.5" r="0.75"/><circle cx="450.3" cy="497.5" r="0.75"/><circle cx="443.6" cy="484.1" r="0.75"/><circle cx="441.7" cy="488.5" r="0.75"/><circle cx="444.9" cy="498.4" r="0.75"/><circle cx="436.5" cy="501.9" r="0.75"/><circle cx="437.1" cy="489.1" r="0.75"/><circle cx="435.7" cy="496.9" r="0.75"/><circle cx="449.1" cy="497.0" r="0.75"/><circle cx="440.0" cy="485.3" r="0.75"/><circle cx="440.7" cy="495.0" r="0.75"/><circle cx="442.1" cy="488.4" r="0.75"/><circle cx="441.5" cy="489.4" r="0.75"/><circle cx="437.1" cy="498.3" r="0.75"/><circle cx="438.2" cy="496.1" r="0.75"/><circle cx="441.1" cy="504.7" r="0.75"/><circle cx="437.6" cy="499.1" r="0.75"/><circle cx="437.6" cy="492.1" r="0.75"/><circle cx="435.3" cy="490.8" r="0.75"/><circle cx="446.1" cy="496.9" r="0.75"/><circle cx="435.3" cy="480.7" r="0.75"/><circle cx="449.9" cy="496.5" r="0.75"/><circle cx="447.2" cy="489.8" r="0.75"/><circle cx="440.7" cy="484.4" r="0.75"/><circle cx="443.0" cy="504.4" r="0.75"/><circle cx="448.3" cy="484.7" r="0.75"/><circle cx="443.9" cy="496.5" r="0.75"/><circle cx="441.4" cy="506.1" r="0.75"/><circle cx="449.5" cy="500.4" r="0.75"/><circle cx="448.0" cy="492.8" r="0.75"/><circle cx="437.3" cy="498.3" r="0.75"/><circle cx="443.4" cy="499.4" r="0.75"/><circle cx="450.5" cy="496.1" r="0.75"/><circle cx="438.9" cy="496.9" r="0.75"/></g>
<g fill="#55584a"><circle cx="440.7" cy="471.2" r="0.55"/><circle cx="447.4" cy="475.8" r="0.55"/><circle cx="438.7" cy="479.9" r="0.55"/><circle cx="446.1" cy="482.8" r="0.55"/><circle cx="442.0" cy="479.8" r="0.55"/><circle cx="445.0" cy="481.1" r="0.55"/><circle cx="446.6" cy="482.2" r="0.55"/><circle cx="440.9" cy="480.5" r="0.55"/><circle cx="439.3" cy="479.4" r="0.55"/><circle cx="444.9" cy="479.1" r="0.55"/><circle cx="444.7" cy="468.5" r="0.55"/><circle cx="449.0" cy="480.8" r="0.55"/></g>
<g fill="#45404a"><circle cx="442.4" cy="493.3" r="0.5"/><circle cx="449.4" cy="493.0" r="0.5"/><circle cx="443.1" cy="497.9" r="0.5"/><circle cx="440.7" cy="498.6" r="0.5"/><circle cx="444.0" cy="504.6" r="0.5"/><circle cx="444.3" cy="498.4" r="0.5"/></g>
<polygon points="473.84,488.11 478.41,487.16 482.06,490.02 481.15,496.68 479.32,500.49 477.50,504.30 474.75,503.82 473.84,495.73" fill="#4b2d6b" stroke="#4b2d6b" stroke-width="1.0" stroke-linejoin="round"/>
<g fill="#4a2c6c"><circle cx="480.2" cy="487.5" r="0.8"/><circle cx="476.5" cy="491.4" r="0.8"/><circle cx="479.0" cy="493.5" r="0.8"/><circle cx="474.9" cy="488.1" r="0.8"/><circle cx="473.7" cy="497.7" r="0.8"/><circle cx="475.2" cy="494.8" r="0.8"/><circle cx="476.2" cy="487.3" r="0.8"/><circle cx="478.1" cy="486.8" r="0.8"/><circle cx="477.8" cy="495.4" r="0.8"/><circle cx="481.5" cy="488.3" r="0.8"/><circle cx="476.6" cy="487.7" r="0.8"/><circle cx="479.3" cy="496.2" r="0.8"/><circle cx="480.0" cy="498.5" r="0.8"/><circle cx="473.8" cy="498.8" r="0.8"/><circle cx="474.4" cy="488.3" r="0.8"/><circle cx="477.8" cy="501.8" r="0.8"/><circle cx="478.2" cy="485.8" r="0.8"/><circle cx="476.0" cy="497.5" r="0.8"/><circle cx="478.9" cy="495.0" r="0.8"/><circle cx="477.9" cy="491.2" r="0.8"/><circle cx="474.0" cy="489.5" r="0.8"/><circle cx="479.7" cy="490.4" r="0.8"/><circle cx="474.4" cy="493.5" r="0.8"/><circle cx="481.4" cy="495.2" r="0.8"/><circle cx="474.9" cy="503.2" r="0.8"/><circle cx="479.9" cy="496.8" r="0.8"/><circle cx="478.7" cy="496.5" r="0.8"/><circle cx="475.4" cy="499.3" r="0.8"/><circle cx="481.4" cy="488.3" r="0.8"/><circle cx="481.9" cy="491.1" r="0.8"/><circle cx="479.1" cy="499.5" r="0.8"/><circle cx="477.9" cy="486.1" r="0.8"/><circle cx="474.3" cy="497.4" r="0.8"/><circle cx="474.7" cy="489.7" r="0.8"/><circle cx="479.6" cy="487.5" r="0.8"/><circle cx="478.9" cy="487.7" r="0.8"/><circle cx="477.7" cy="501.3" r="0.8"/><circle cx="478.5" cy="489.7" r="0.8"/><circle cx="479.9" cy="494.9" r="0.8"/><circle cx="477.4" cy="498.1" r="0.8"/><circle cx="478.0" cy="491.9" r="0.8"/><circle cx="476.3" cy="504.0" r="0.8"/><circle cx="480.6" cy="497.0" r="0.8"/><circle cx="477.0" cy="495.6" r="0.8"/><circle cx="478.2" cy="501.0" r="0.8"/><circle cx="480.0" cy="489.4" r="0.8"/><circle cx="475.9" cy="492.0" r="0.8"/><circle cx="474.1" cy="502.9" r="0.8"/><circle cx="474.5" cy="500.1" r="0.8"/><circle cx="474.9" cy="501.1" r="0.8"/><circle cx="476.0" cy="493.1" r="0.8"/><circle cx="475.0" cy="493.6" r="0.8"/><circle cx="476.5" cy="502.7" r="0.8"/><circle cx="474.4" cy="491.0" r="0.8"/><circle cx="474.9" cy="491.9" r="0.8"/><circle cx="475.3" cy="492.0" r="0.8"/><circle cx="479.8" cy="493.6" r="0.8"/><circle cx="473.8" cy="493.9" r="0.8"/><circle cx="474.1" cy="496.6" r="0.8"/><circle cx="479.6" cy="500.7" r="0.8"/><circle cx="473.4" cy="492.8" r="0.8"/><circle cx="478.3" cy="498.4" r="0.8"/><circle cx="482.1" cy="489.4" r="0.8"/><circle cx="475.8" cy="501.7" r="0.8"/><circle cx="475.5" cy="500.1" r="0.8"/><circle cx="476.6" cy="487.4" r="0.8"/><circle cx="480.9" cy="496.9" r="0.8"/><circle cx="480.5" cy="488.5" r="0.8"/><circle cx="482.6" cy="490.9" r="0.8"/><circle cx="480.5" cy="488.3" r="0.8"/><circle cx="479.5" cy="494.7" r="0.8"/><circle cx="474.3" cy="502.0" r="0.8"/><circle cx="473.9" cy="497.0" r="0.8"/><circle cx="480.9" cy="493.4" r="0.8"/><circle cx="480.4" cy="496.6" r="0.8"/><circle cx="475.8" cy="496.2" r="0.8"/><circle cx="475.8" cy="488.1" r="0.8"/><circle cx="479.0" cy="490.8" r="0.8"/><circle cx="477.0" cy="488.5" r="0.8"/><circle cx="478.9" cy="491.9" r="0.8"/><circle cx="476.7" cy="505.1" r="0.8"/><circle cx="478.7" cy="494.9" r="0.8"/><circle cx="473.6" cy="487.7" r="0.8"/><circle cx="480.1" cy="493.1" r="0.8"/><circle cx="478.7" cy="500.2" r="0.8"/><circle cx="477.9" cy="500.7" r="0.8"/><circle cx="476.1" cy="495.6" r="0.8"/><circle cx="480.0" cy="499.4" r="0.8"/><circle cx="477.2" cy="502.5" r="0.8"/><circle cx="476.0" cy="505.2" r="0.8"/><circle cx="474.4" cy="501.0" r="0.8"/><circle cx="474.7" cy="503.8" r="0.8"/><circle cx="473.3" cy="491.8" r="0.8"/><circle cx="477.3" cy="494.5" r="0.8"/><circle cx="473.9" cy="492.1" r="0.8"/><circle cx="476.8" cy="489.8" r="0.8"/><circle cx="473.9" cy="491.6" r="0.8"/><circle cx="478.2" cy="500.7" r="0.8"/><circle cx="475.1" cy="491.3" r="0.8"/><circle cx="478.5" cy="496.9" r="0.8"/><circle cx="476.1" cy="495.1" r="0.8"/><circle cx="473.7" cy="494.6" r="0.8"/><circle cx="478.6" cy="493.4" r="0.8"/><circle cx="479.7" cy="498.8" r="0.8"/><circle cx="480.8" cy="496.3" r="0.8"/><circle cx="481.3" cy="496.2" r="0.8"/><circle cx="474.2" cy="495.5" r="0.8"/><circle cx="478.4" cy="494.2" r="0.8"/><circle cx="481.7" cy="491.3" r="0.8"/><circle cx="479.0" cy="493.6" r="0.8"/><circle cx="473.2" cy="488.6" r="0.8"/><circle cx="477.7" cy="489.6" r="0.8"/><circle cx="481.1" cy="494.5" r="0.8"/><circle cx="480.0" cy="491.4" r="0.8"/><circle cx="476.2" cy="501.6" r="0.8"/><circle cx="478.4" cy="501.1" r="0.8"/><circle cx="477.2" cy="494.2" r="0.8"/><circle cx="478.9" cy="501.1" r="0.8"/><circle cx="477.4" cy="488.4" r="0.8"/><circle cx="477.8" cy="489.4" r="0.8"/><circle cx="477.3" cy="491.4" r="0.8"/><circle cx="473.7" cy="493.3" r="0.8"/><circle cx="476.9" cy="492.6" r="0.8"/><circle cx="473.8" cy="493.8" r="0.8"/><circle cx="475.9" cy="491.9" r="0.8"/><circle cx="480.5" cy="495.0" r="0.8"/><circle cx="474.7" cy="497.3" r="0.8"/><circle cx="479.4" cy="491.3" r="0.8"/><circle cx="473.6" cy="496.9" r="0.8"/><circle cx="473.8" cy="488.9" r="0.8"/><circle cx="475.8" cy="490.4" r="0.8"/><circle cx="480.8" cy="498.6" r="0.8"/><circle cx="475.3" cy="497.3" r="0.8"/><circle cx="479.8" cy="496.0" r="0.8"/><circle cx="476.8" cy="490.7" r="0.8"/><circle cx="475.8" cy="494.4" r="0.8"/></g>
<polygon points="470.09,492.36 469.35,494.35 468.84,496.22 468.33,498.12 467.40,499.79 466.15,501.16 464.91,502.64 463.55,504.37 461.77,505.54 459.74,505.24 457.98,503.80 456.51,502.53 454.82,502.14 452.82,501.85 451.25,500.59 450.71,498.41 450.76,496.17 450.48,494.27 449.74,492.36 449.31,490.18 449.73,488.02 450.72,486.13 451.82,484.37 453.08,482.79 454.73,481.87 456.58,481.83 458.22,481.92 459.74,481.26 461.51,480.17 463.45,479.99 464.98,481.37 465.91,483.48 466.86,485.18 468.34,486.42 469.87,487.97 470.52,490.11" fill="#861228" stroke="#861228" stroke-width="1.0" stroke-linejoin="round"/>
<g fill="#8c1529"><circle cx="464.2" cy="480.5" r="0.8"/><circle cx="462.2" cy="499.3" r="0.8"/><circle cx="454.6" cy="485.2" r="0.8"/><circle cx="461.0" cy="501.0" r="0.8"/><circle cx="461.1" cy="494.0" r="0.8"/><circle cx="463.7" cy="505.3" r="0.8"/><circle cx="469.5" cy="493.5" r="0.8"/><circle cx="466.0" cy="499.1" r="0.8"/><circle cx="459.6" cy="481.4" r="0.8"/><circle cx="454.5" cy="489.8" r="0.8"/><circle cx="459.6" cy="481.3" r="0.8"/><circle cx="468.4" cy="492.3" r="0.8"/><circle cx="453.8" cy="487.0" r="0.8"/><circle cx="460.3" cy="486.5" r="0.8"/><circle cx="465.8" cy="490.2" r="0.8"/><circle cx="455.9" cy="501.7" r="0.8"/><circle cx="460.4" cy="498.3" r="0.8"/><circle cx="453.0" cy="501.8" r="0.8"/><circle cx="448.8" cy="488.5" r="0.8"/><circle cx="452.2" cy="493.2" r="0.8"/><circle cx="449.4" cy="490.4" r="0.8"/><circle cx="465.0" cy="482.9" r="0.8"/><circle cx="459.9" cy="493.3" r="0.8"/><circle cx="467.8" cy="497.2" r="0.8"/><circle cx="458.8" cy="482.5" r="0.8"/><circle cx="455.2" cy="493.4" r="0.8"/><circle cx="449.6" cy="491.9" r="0.8"/><circle cx="461.8" cy="482.0" r="0.8"/><circle cx="453.3" cy="483.1" r="0.8"/><circle cx="455.1" cy="482.7" r="0.8"/><circle cx="465.9" cy="501.4" r="0.8"/><circle cx="451.8" cy="491.2" r="0.8"/><circle cx="452.5" cy="500.5" r="0.8"/><circle cx="457.8" cy="495.5" r="0.8"/><circle cx="467.2" cy="499.8" r="0.8"/><circle cx="469.6" cy="488.8" r="0.8"/><circle cx="450.0" cy="495.6" r="0.8"/><circle cx="465.9" cy="499.7" r="0.8"/><circle cx="458.6" cy="495.8" r="0.8"/><circle cx="461.2" cy="489.7" r="0.8"/><circle cx="463.0" cy="488.4" r="0.8"/><circle cx="468.5" cy="488.5" r="0.8"/><circle cx="463.3" cy="499.5" r="0.8"/><circle cx="466.9" cy="495.0" r="0.8"/><circle cx="451.4" cy="489.3" r="0.8"/><circle cx="458.9" cy="504.7" r="0.8"/><circle cx="465.9" cy="483.2" r="0.8"/><circle cx="469.4" cy="491.6" r="0.8"/><circle cx="461.6" cy="505.6" r="0.8"/><circle cx="459.7" cy="505.5" r="0.8"/><circle cx="460.8" cy="490.7" r="0.8"/><circle cx="457.9" cy="484.9" r="0.8"/><circle cx="453.4" cy="485.6" r="0.8"/><circle cx="450.7" cy="490.9" r="0.8"/><circle cx="456.1" cy="499.1" r="0.8"/><circle cx="467.1" cy="499.8" r="0.8"/><circle cx="453.6" cy="499.2" r="0.8"/><circle cx="468.2" cy="491.1" r="0.8"/><circle cx="467.6" cy="487.4" r="0.8"/><circle cx="455.5" cy="481.1" r="0.8"/><circle cx="451.6" cy="497.7" r="0.8"/><circle cx="451.6" cy="483.1" r="0.8"/><circle cx="450.7" cy="498.7" r="0.8"/><circle cx="452.3" cy="492.9" r="0.8"/><circle cx="458.9" cy="490.5" r="0.8"/><circle cx="451.0" cy="486.5" r="0.8"/><circle cx="458.9" cy="482.9" r="0.8"/><circle cx="456.9" cy="489.9" r="0.8"/><circle cx="460.4" cy="506.2" r="0.8"/><circle cx="451.3" cy="496.3" r="0.8"/><circle cx="458.7" cy="497.8" r="0.8"/><circle cx="468.5" cy="496.0" r="0.8"/><circle cx="453.9" cy="484.2" r="0.8"/><circle cx="461.7" cy="494.4" r="0.8"/><circle cx="450.1" cy="485.6" r="0.8"/><circle cx="454.8" cy="485.3" r="0.8"/><circle cx="458.6" cy="496.2" r="0.8"/><circle cx="458.2" cy="481.7" r="0.8"/><circle cx="452.1" cy="500.9" r="0.8"/><circle cx="468.1" cy="494.5" r="0.8"/><circle cx="464.9" cy="481.5" r="0.8"/><circle cx="463.4" cy="484.6" r="0.8"/><circle cx="464.1" cy="494.4" r="0.8"/><circle cx="460.2" cy="500.1" r="0.8"/><circle cx="465.0" cy="501.0" r="0.8"/><circle cx="460.0" cy="490.4" r="0.8"/><circle cx="457.9" cy="481.4" r="0.8"/><circle cx="466.7" cy="491.6" r="0.8"/><circle cx="467.2" cy="494.6" r="0.8"/><circle cx="451.3" cy="494.3" r="0.8"/><circle cx="456.6" cy="494.2" r="0.8"/><circle cx="452.1" cy="492.1" r="0.8"/><circle cx="458.4" cy="491.6" r="0.8"/><circle cx="452.0" cy="485.0" r="0.8"/><circle cx="462.0" cy="502.8" r="0.8"/><circle cx="455.1" cy="500.2" r="0.8"/><circle cx="458.6" cy="485.5" r="0.8"/><circle cx="455.7" cy="500.4" r="0.8"/><circle cx="458.6" cy="496.6" r="0.8"/><circle cx="455.4" cy="481.1" r="0.8"/><circle cx="462.8" cy="495.4" r="0.8"/><circle cx="455.9" cy="501.7" r="0.8"/><circle cx="461.5" cy="497.4" r="0.8"/><circle cx="460.9" cy="491.9" r="0.8"/><circle cx="468.7" cy="493.6" r="0.8"/><circle cx="461.3" cy="493.6" r="0.8"/><circle cx="451.3" cy="483.7" r="0.8"/><circle cx="460.0" cy="491.0" r="0.8"/><circle cx="460.0" cy="489.9" r="0.8"/><circle cx="468.5" cy="498.2" r="0.8"/><circle cx="456.1" cy="499.3" r="0.8"/><circle cx="467.8" cy="499.5" r="0.8"/><circle cx="451.2" cy="496.7" r="0.8"/><circle cx="454.0" cy="501.9" r="0.8"/><circle cx="469.4" cy="495.6" r="0.8"/><circle cx="468.8" cy="490.2" r="0.8"/><circle cx="460.4" cy="496.0" r="0.8"/><circle cx="451.0" cy="484.5" r="0.8"/><circle cx="463.3" cy="488.8" r="0.8"/><circle cx="457.3" cy="490.9" r="0.8"/><circle cx="459.9" cy="487.7" r="0.8"/><circle cx="457.9" cy="485.4" r="0.8"/><circle cx="451.2" cy="486.8" r="0.8"/><circle cx="459.8" cy="500.2" r="0.8"/><circle cx="456.8" cy="498.7" r="0.8"/><circle cx="461.8" cy="498.3" r="0.8"/><circle cx="467.1" cy="485.7" r="0.8"/><circle cx="451.5" cy="486.7" r="0.8"/><circle cx="456.7" cy="496.9" r="0.8"/><circle cx="464.4" cy="490.6" r="0.8"/><circle cx="468.0" cy="490.8" r="0.8"/><circle cx="452.8" cy="500.1" r="0.8"/><circle cx="455.2" cy="492.0" r="0.8"/><circle cx="465.1" cy="493.3" r="0.8"/><circle cx="458.1" cy="489.8" r="0.8"/><circle cx="457.5" cy="485.1" r="0.8"/><circle cx="465.1" cy="502.3" r="0.8"/><circle cx="459.0" cy="486.6" r="0.8"/><circle cx="465.2" cy="493.8" r="0.8"/><circle cx="459.8" cy="492.5" r="0.8"/><circle cx="460.3" cy="481.0" r="0.8"/><circle cx="454.4" cy="488.7" r="0.8"/><circle cx="466.6" cy="491.5" r="0.8"/><circle cx="454.3" cy="498.7" r="0.8"/><circle cx="454.3" cy="481.9" r="0.8"/><circle cx="459.0" cy="496.4" r="0.8"/><circle cx="455.9" cy="488.1" r="0.8"/><circle cx="452.2" cy="497.0" r="0.8"/><circle cx="469.1" cy="494.2" r="0.8"/><circle cx="459.0" cy="485.9" r="0.8"/><circle cx="455.4" cy="493.2" r="0.8"/><circle cx="451.6" cy="492.0" r="0.8"/><circle cx="451.1" cy="499.2" r="0.8"/><circle cx="453.3" cy="484.5" r="0.8"/><circle cx="469.0" cy="491.1" r="0.8"/><circle cx="469.4" cy="486.7" r="0.8"/><circle cx="466.3" cy="500.5" r="0.8"/><circle cx="450.2" cy="495.4" r="0.8"/><circle cx="467.4" cy="492.0" r="0.8"/><circle cx="459.4" cy="490.8" r="0.8"/><circle cx="460.5" cy="490.6" r="0.8"/><circle cx="467.9" cy="498.2" r="0.8"/><circle cx="465.8" cy="491.6" r="0.8"/><circle cx="455.4" cy="489.3" r="0.8"/><circle cx="458.0" cy="482.8" r="0.8"/><circle cx="458.8" cy="500.0" r="0.8"/><circle cx="456.5" cy="498.8" r="0.8"/><circle cx="468.0" cy="493.6" r="0.8"/><circle cx="463.7" cy="494.6" r="0.8"/><circle cx="449.1" cy="488.4" r="0.8"/><circle cx="454.6" cy="491.8" r="0.8"/><circle cx="469.6" cy="494.5" r="0.8"/><circle cx="459.1" cy="483.0" r="0.8"/><circle cx="454.2" cy="500.3" r="0.8"/><circle cx="456.3" cy="490.1" r="0.8"/><circle cx="453.7" cy="494.9" r="0.8"/><circle cx="452.8" cy="499.4" r="0.8"/><circle cx="460.1" cy="493.1" r="0.8"/><circle cx="452.9" cy="494.5" r="0.8"/><circle cx="464.1" cy="485.5" r="0.8"/><circle cx="454.6" cy="500.8" r="0.8"/><circle cx="458.2" cy="487.3" r="0.8"/><circle cx="465.0" cy="492.3" r="0.8"/><circle cx="462.3" cy="500.3" r="0.8"/><circle cx="465.0" cy="481.0" r="0.8"/><circle cx="463.8" cy="501.3" r="0.8"/><circle cx="453.8" cy="486.2" r="0.8"/><circle cx="463.1" cy="491.7" r="0.8"/><circle cx="452.6" cy="502.1" r="0.8"/><circle cx="463.2" cy="482.5" r="0.8"/><circle cx="456.8" cy="495.9" r="0.8"/><circle cx="460.2" cy="488.6" r="0.8"/><circle cx="461.0" cy="490.5" r="0.8"/><circle cx="451.1" cy="487.9" r="0.8"/><circle cx="463.7" cy="485.3" r="0.8"/><circle cx="462.2" cy="486.6" r="0.8"/><circle cx="469.4" cy="490.3" r="0.8"/><circle cx="466.9" cy="500.1" r="0.8"/><circle cx="451.9" cy="489.2" r="0.8"/><circle cx="460.6" cy="500.9" r="0.8"/><circle cx="456.4" cy="488.3" r="0.8"/><circle cx="460.9" cy="482.9" r="0.8"/><circle cx="461.3" cy="482.9" r="0.8"/><circle cx="462.4" cy="498.4" r="0.8"/><circle cx="466.1" cy="495.3" r="0.8"/><circle cx="452.3" cy="492.9" r="0.8"/><circle cx="457.3" cy="488.0" r="0.8"/><circle cx="450.4" cy="494.9" r="0.8"/><circle cx="453.1" cy="482.3" r="0.8"/><circle cx="460.0" cy="485.7" r="0.8"/><circle cx="451.6" cy="501.1" r="0.8"/><circle cx="465.5" cy="500.2" r="0.8"/><circle cx="453.4" cy="493.4" r="0.8"/><circle cx="467.1" cy="490.3" r="0.8"/><circle cx="452.2" cy="496.0" r="0.8"/><circle cx="456.1" cy="491.7" r="0.8"/><circle cx="458.7" cy="480.8" r="0.8"/><circle cx="468.0" cy="492.3" r="0.8"/><circle cx="469.4" cy="489.8" r="0.8"/><circle cx="468.6" cy="497.9" r="0.8"/><circle cx="464.1" cy="502.6" r="0.8"/><circle cx="469.0" cy="491.6" r="0.8"/><circle cx="455.9" cy="485.4" r="0.8"/><circle cx="452.8" cy="490.8" r="0.8"/><circle cx="458.9" cy="489.5" r="0.8"/><circle cx="469.2" cy="492.4" r="0.8"/><circle cx="453.8" cy="488.8" r="0.8"/><circle cx="461.0" cy="501.4" r="0.8"/><circle cx="454.6" cy="485.3" r="0.8"/><circle cx="465.4" cy="486.8" r="0.8"/><circle cx="454.0" cy="499.4" r="0.8"/><circle cx="452.6" cy="492.2" r="0.8"/><circle cx="455.6" cy="484.6" r="0.8"/><circle cx="466.7" cy="491.3" r="0.8"/><circle cx="459.5" cy="483.5" r="0.8"/><circle cx="456.6" cy="493.4" r="0.8"/><circle cx="455.6" cy="500.2" r="0.8"/><circle cx="460.6" cy="481.1" r="0.8"/><circle cx="461.2" cy="498.9" r="0.8"/><circle cx="463.8" cy="480.6" r="0.8"/><circle cx="463.1" cy="490.1" r="0.8"/><circle cx="455.9" cy="497.7" r="0.8"/><circle cx="465.4" cy="495.1" r="0.8"/><circle cx="454.5" cy="493.4" r="0.8"/><circle cx="456.1" cy="499.4" r="0.8"/><circle cx="461.7" cy="495.1" r="0.8"/><circle cx="466.5" cy="490.7" r="0.8"/><circle cx="454.3" cy="496.5" r="0.8"/><circle cx="466.5" cy="494.6" r="0.8"/><circle cx="452.1" cy="489.5" r="0.8"/><circle cx="458.2" cy="492.4" r="0.8"/><circle cx="465.7" cy="490.0" r="0.8"/><circle cx="459.2" cy="481.3" r="0.8"/><circle cx="458.3" cy="481.2" r="0.8"/><circle cx="458.4" cy="499.3" r="0.8"/><circle cx="460.1" cy="486.5" r="0.8"/><circle cx="464.5" cy="490.4" r="0.8"/><circle cx="466.2" cy="501.6" r="0.8"/><circle cx="455.9" cy="491.1" r="0.8"/><circle cx="462.2" cy="504.9" r="0.8"/></g>
<g fill="#7a1a30"><circle cx="450.2" cy="482.9" r="0.6"/><circle cx="467.4" cy="502.1" r="0.6"/><circle cx="450.3" cy="483.4" r="0.6"/><circle cx="467.8" cy="482.9" r="0.6"/><circle cx="447.4" cy="494.8" r="0.6"/><circle cx="469.5" cy="498.7" r="0.6"/><circle cx="464.0" cy="504.0" r="0.6"/><circle cx="454.1" cy="504.6" r="0.6"/><circle cx="463.0" cy="478.4" r="0.6"/><circle cx="457.4" cy="478.8" r="0.6"/><circle cx="466.6" cy="481.7" r="0.6"/><circle cx="454.6" cy="480.2" r="0.6"/><circle cx="469.2" cy="482.7" r="0.6"/><circle cx="452.0" cy="503.3" r="0.6"/><circle cx="452.8" cy="480.3" r="0.6"/><circle cx="471.3" cy="487.8" r="0.6"/><circle cx="452.9" cy="481.2" r="0.6"/><circle cx="454.1" cy="481.1" r="0.6"/></g>
<g fill="#f2d5dc"><circle cx="461.7" cy="498.8" r="0.75"/><circle cx="461.6" cy="494.2" r="0.6"/><circle cx="458.8" cy="496.4" r="0.75"/><circle cx="459.3" cy="500.3" r="0.6"/><circle cx="457.1" cy="500.0" r="0.75"/><circle cx="460.7" cy="498.9" r="0.45"/></g>
<circle cx="461.4" cy="477.8" r="1.4" fill="#4a1020"/>
<circle cx="456.5" cy="471.6" r="0.9" fill="#555"/>
<text x="96.7" y="440.1" font-size="6.9" fill="#222" text-anchor="middle" font-weight="normal" stroke="#222" stroke-width="0.1" textLength="44.5" lengthAdjust="spacingAndGlyphs">clonotype SS1</text>
<text x="70.6" y="450.8" font-size="6.6" fill="#222" text-anchor="middle" font-weight="normal" stroke="#222" stroke-width="0.1" textLength="20" lengthAdjust="spacingAndGlyphs">CD26+</text>
<text x="122.9" y="450.8" font-size="6.6" fill="#222" text-anchor="middle" font-weight="normal" stroke="#222" stroke-width="0.1" textLength="19.6" lengthAdjust="spacingAndGlyphs">CD26−</text>
<text x="97.125" y="521.9" font-size="8.6" fill="#222" text-anchor="middle" font-weight="bold" stroke="#222" stroke-width="0.1" textLength="19.8" lengthAdjust="spacingAndGlyphs">UMAP 1</text>
<text x="210.3" y="440.1" font-size="6.9" fill="#222" text-anchor="middle" font-weight="normal" stroke="#222" stroke-width="0.1" textLength="44.5" lengthAdjust="spacingAndGlyphs">clonotype SS2</text>
<text x="183.9" y="450.8" font-size="6.6" fill="#222" text-anchor="middle" font-weight="normal" stroke="#222" stroke-width="0.1" textLength="20" lengthAdjust="spacingAndGlyphs">CD26+</text>
<text x="236.3" y="450.8" font-size="6.6" fill="#222" text-anchor="middle" font-weight="normal" stroke="#222" stroke-width="0.1" textLength="19.6" lengthAdjust="spacingAndGlyphs">CD26−</text>
<text x="208.125" y="521.9" font-size="8.6" fill="#222" text-anchor="middle" font-weight="bold" stroke="#222" stroke-width="0.1" textLength="19.8" lengthAdjust="spacingAndGlyphs">UMAP 1</text>
<text x="322.5" y="440.1" font-size="6.9" fill="#222" text-anchor="middle" font-weight="normal" stroke="#222" stroke-width="0.1" textLength="44.5" lengthAdjust="spacingAndGlyphs">clonotype SS3</text>
<text x="296.2" y="450.8" font-size="6.6" fill="#222" text-anchor="middle" font-weight="normal" stroke="#222" stroke-width="0.1" textLength="20" lengthAdjust="spacingAndGlyphs">CD26+</text>
<text x="348.9" y="450.8" font-size="6.6" fill="#222" text-anchor="middle" font-weight="normal" stroke="#222" stroke-width="0.1" textLength="19.6" lengthAdjust="spacingAndGlyphs">CD26−</text>
<text x="319.25" y="521.9" font-size="8.6" fill="#222" text-anchor="middle" font-weight="bold" stroke="#222" stroke-width="0.1" textLength="19.8" lengthAdjust="spacingAndGlyphs">UMAP 1</text>
<text x="431.0" y="440.1" font-size="6.9" fill="#222" text-anchor="middle" font-weight="normal" stroke="#222" stroke-width="0.1" textLength="44.5" lengthAdjust="spacingAndGlyphs">clonotype SS4</text>
<text x="404.7" y="450.8" font-size="6.6" fill="#222" text-anchor="middle" font-weight="normal" stroke="#222" stroke-width="0.1" textLength="20" lengthAdjust="spacingAndGlyphs">CD26+</text>
<text x="456.6" y="450.8" font-size="6.6" fill="#222" text-anchor="middle" font-weight="normal" stroke="#222" stroke-width="0.1" textLength="19.6" lengthAdjust="spacingAndGlyphs">CD26−</text>
<text x="430.45" y="521.9" font-size="8.6" fill="#222" text-anchor="middle" font-weight="bold" stroke="#222" stroke-width="0.1" textLength="19.8" lengthAdjust="spacingAndGlyphs">UMAP 1</text>
<text x="38.696" y="482.8" font-size="8.6" fill="#222" text-anchor="middle" font-weight="bold" stroke="#222" stroke-width="0.05" transform="rotate(-90 38.696 482.8)" textLength="21.6" lengthAdjust="spacingAndGlyphs">UMAP 2</text>
<rect x="0.5" y="0.5" width="519" height="529" fill="none" stroke="#555" stroke-width="1.2"/>
</svg></body></html>
